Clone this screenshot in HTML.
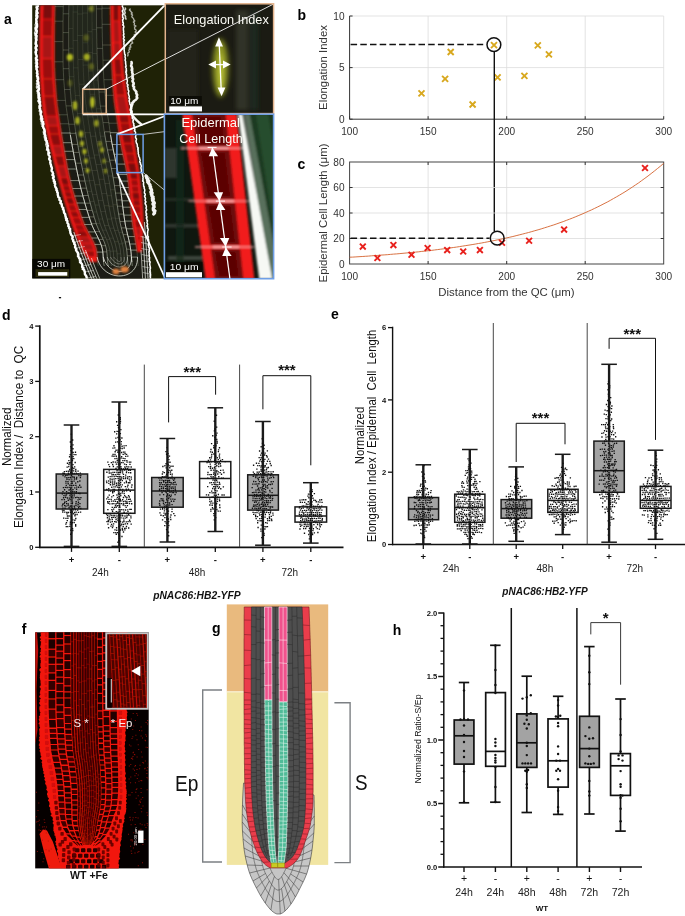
<!DOCTYPE html>
<html lang="en"><head><meta charset="utf-8"><title>Figure</title>
<style>html,body{margin:0;padding:0;background:#fff}svg{display:block;opacity:0.999}text{font-family:"Liberation Sans",sans-serif}</style>
</head><body>
<svg width="685" height="916" viewBox="0 0 685 916">
<rect width="685" height="916" fill="#fff"/>
<g><defs><clipPath id="aclip"><rect x="32.2" y="5.3" width="133.0" height="273.2"/></clipPath>
<clipPath id="ai1"><rect x="165.3" y="3.8" width="108.3" height="109.8"/></clipPath>
<clipPath id="ai2"><rect x="164.4" y="114.2" width="109.2" height="164.5"/></clipPath>
<filter id="ab1" x="-5%" y="-5%" width="110%" height="110%"><feGaussianBlur stdDeviation="0.5"/></filter>
<filter id="ab2" x="-20%" y="-20%" width="140%" height="140%"><feGaussianBlur stdDeviation="2.2"/></filter>
<filter id="ab4" x="-5%" y="-5%" width="110%" height="110%"><feGaussianBlur stdDeviation="0.9"/></filter>
<filter id="ab3" x="-20%" y="-20%" width="140%" height="140%"><feGaussianBlur stdDeviation="1.1"/></filter>
<marker id="aw" viewBox="0 0 10 10" refX="5" refY="5" markerWidth="4" markerHeight="4" orient="auto-start-reverse"><path d="M0 0L10 5L0 10z" fill="#fff"/></marker>
</defs>
<rect x="32.2" y="5.3" width="133" height="273.2" fill="#1f2206" stroke="none" stroke-width="1" />
<g clip-path="url(#aclip)"><g filter="url(#ab1)">
<path d="M38 5L37.9 6L37.8 7L37.8 8L37.7 9L37.6 10L37.6 11L37.5 12L37.4 13L37.4 14L37.3 15L37.3 16L37.2 17L37.1 18L37.1 19L37 20L37 21L36.9 22L36.9 23L36.8 24L36.8 25L36.8 26L36.7 27L36.7 28L36.7 29L36.6 30L36.6 31L36.6 32L36.6 33L36.6 34L36.5 35L36.5 36L36.5 37L36.5 38L36.5 39L36.5 40L36.5 41L36.5 42L36.5 43L36.5 44L36.5 45L36.5 46L36.6 47L36.6 48L36.6 49L36.6 50L36.6 51L36.7 52L36.7 53L36.7 54L36.7 55L36.8 56L36.8 57L36.8 58L36.9 59L36.9 60L37 61L37 62L37 63L37.1 64L37.1 65L37.2 66L37.2 67L37.3 68L37.3 69L37.4 70L37.4 71L37.5 72L37.6 73L37.6 74L37.7 75L37.7 76L37.8 77L37.9 78L37.9 79L38 80L38.1 81L38.1 82L38.2 83L38.3 84L38.3 85L38.4 86L38.5 87L38.6 88L38.6 89L38.7 90L38.8 91L38.9 92L38.9 93L39 94L39.1 95L39.2 96L39.3 97L39.3 98L39.4 99L39.5 100L39.6 101L39.7 102L39.8 103L39.9 104L40 105L40.2 106L40.3 107L40.5 108L40.6 109L40.8 110L40.9 111L41.1 112L41.3 113L41.5 114L41.6 115L41.8 116L42 117L42.2 118L42.3 119L42.5 120L42.7 121L42.9 122L43 123L43.2 124L43.4 125L43.6 126L43.8 127L44 128L44.2 129L44.4 130L44.6 131L44.9 132L45.1 133L45.3 134L45.5 135L45.7 136L45.9 137L46.1 138L46.3 139L46.5 140L46.7 141L46.9 142L47.1 143L47.3 144L47.5 145L47.6 146L47.8 147L48 148L48.2 149L48.4 150L48.6 151L48.7 152L48.9 153L49.1 154L49.3 155L49.5 156L49.6 157L49.8 158L50 159L50.2 160L50.4 161L50.5 162L50.7 163L50.9 164L51.1 165L51.3 166L51.5 167L51.7 168L51.9 169L52.1 170L52.3 171L52.5 172L52.7 173L52.9 174L53.1 175L53.3 176L53.6 177L53.8 178L54 179L54.3 180L54.5 181L54.7 182L55 183L55.3 184L55.5 185L55.8 186L56.1 187L56.4 188L56.7 189L57 190L57.3 191L57.6 192L57.9 193L58.2 194L58.5 195L58.9 196L59.2 197L59.5 198L59.9 199L60.2 200L60.6 201L60.9 202L61.2 203L61.6 204L61.9 205L62.3 206L62.6 207L63 208L63.3 209L63.7 210L64 211L64.4 212L64.7 213L65.1 214L65.4 215L65.8 216L66.1 217L66.5 218L66.8 219L67.1 220L67.5 221L67.8 222L68.1 223L68.5 224L68.8 225L69.1 226L69.4 227L69.7 228L70.1 229L70.4 230L70.7 231L71 232L71.4 233L71.7 234L72 235L72.3 236L72.6 237L73 238L73.3 239L73.6 240L73.9 241L74.2 242L74.6 243L74.9 244L75.2 245L75.5 246L75.9 247L76.2 248L76.5 249L76.9 250L77.2 251L77.5 252L77.9 253L78.2 254L78.6 255L78.9 256L79.2 257L79.6 258L79.9 259L80.3 260L80.6 261L81 262L81.4 263L81.7 264L82.1 265L82.5 266L82.8 267L83.2 268L83.6 269L84 270L84.4 271L84.7 272L85.1 273L85.5 274L85.9 275L86.3 276L86.7 277L87.1 278L87.5 279L150.6 279L150.6 278L150.5 277L150.5 276L150.4 275L150.4 274L150.3 273L150.3 272L150.2 271L150.2 270L150.1 269L150 268L150 267L149.9 266L149.9 265L149.8 264L149.8 263L149.7 262L149.7 261L149.6 260L149.5 259L149.5 258L149.4 257L149.4 256L149.3 255L149.2 254L149.2 253L149.1 252L149.1 251L149 250L148.9 249L148.9 248L148.8 247L148.7 246L148.7 245L148.6 244L148.5 243L148.5 242L148.4 241L148.3 240L148.3 239L148.2 238L148.1 237L148.1 236L148 235L147.9 234L147.8 233L147.8 232L147.7 231L147.6 230L147.5 229L147.5 228L147.4 227L147.3 226L147.2 225L147.2 224L147.1 223L147 222L146.9 221L146.8 220L146.8 219L146.7 218L146.6 217L146.5 216L146.5 215L146.4 214L146.3 213L146.2 212L146.2 211L146.1 210L146 209L145.9 208L145.9 207L145.8 206L145.7 205L145.6 204L145.5 203L145.4 202L145.4 201L145.3 200L145.2 199L145.1 198L145 197L144.9 196L144.8 195L144.7 194L144.6 193L144.5 192L144.4 191L144.3 190L144.2 189L144.1 188L143.9 187L143.8 186L143.7 185L143.6 184L143.4 183L143.3 182L143.1 181L143 180L142.9 179L142.7 178L142.6 177L142.4 176L142.3 175L142.1 174L142 173L141.8 172L141.7 171L141.5 170L141.3 169L141.2 168L141 167L140.9 166L140.7 165L140.5 164L140.4 163L140.2 162L140 161L139.8 160L139.7 159L139.5 158L139.3 157L139.1 156L139 155L138.8 154L138.6 153L138.4 152L138.2 151L138.1 150L137.9 149L137.7 148L137.5 147L137.3 146L137.2 145L137 144L136.8 143L136.6 142L136.5 141L136.3 140L136.1 139L136 138L135.8 137L135.6 136L135.5 135L135.3 134L135.1 133L135 132L134.8 131L134.7 130L134.5 129L134.3 128L134.2 127L134 126L133.8 125L133.7 124L133.5 123L133.3 122L133.2 121L133 120L132.8 119L132.7 118L132.5 117L132.3 116L132.1 115L131.9 114L131.7 113L131.6 112L131.4 111L131.2 110L131 109L130.8 108L130.6 107L130.5 106L130.3 105L130.1 104L130 103L129.8 102L129.6 101L129.5 100L129.4 99L129.2 98L129.1 97L128.9 96L128.8 95L128.7 94L128.5 93L128.4 92L128.3 91L128.2 90L128 89L127.9 88L127.8 87L127.7 86L127.5 85L127.4 84L127.3 83L127.2 82L127.1 81L127 80L126.9 79L126.8 78L126.7 77L126.6 76L126.5 75L126.4 74L126.3 73L126.2 72L126.1 71L126 70L125.9 69L125.8 68L125.8 67L125.7 66L125.6 65L125.5 64L125.4 63L125.4 62L125.3 61L125.2 60L125.2 59L125.1 58L125 57L124.9 56L124.9 55L124.8 54L124.7 53L124.7 52L124.6 51L124.6 50L124.5 49L124.4 48L124.4 47L124.3 46L124.3 45L124.2 44L124.2 43L124.1 42L124.1 41L124 40L123.9 39L123.9 38L123.8 37L123.8 36L123.7 35L123.7 34L123.6 33L123.6 32L123.5 31L123.5 30L123.4 29L123.4 28L123.4 27L123.3 26L123.3 25L123.2 24L123.2 23L123.1 22L123.1 21L123 20L123 19L123 18L122.9 17L122.9 16L122.8 15L122.8 14L122.8 13L122.7 12L122.7 11L122.7 10L122.6 9L122.6 8L122.6 7L122.5 6L122.5 5Z" fill="#1b1e12" stroke="none" stroke-width="0.5" />
<path d="M68.8 5L68.8 6L68.8 7L68.8 8L68.8 9L68.7 10L68.7 11L68.7 12L68.7 13L68.7 14L68.7 15L68.7 16L68.6 17L68.6 18L68.6 19L68.6 20L68.6 21L68.6 22L68.6 23L68.6 24L68.6 25L68.6 26L68.6 27L68.6 28L68.6 29L68.6 30L68.6 31L68.6 32L68.6 33L68.6 34L68.6 35L68.6 36L68.6 37L68.6 38L68.6 39L68.6 40L68.6 41L68.6 42L68.6 43L68.6 44L68.6 45L68.6 46L68.6 47L68.7 48L68.7 49L68.7 50L68.7 51L68.7 52L68.7 53L68.7 54L68.7 55L68.7 56L68.7 57L68.7 58L68.7 59L68.8 60L68.8 61L68.8 62L68.8 63L68.8 64L68.8 65L68.9 66L68.9 67L68.9 68L69 69L69 70L69 71L69.1 72L69.1 73L69.2 74L69.2 75L69.3 76L69.4 77L69.4 78L69.5 79L69.5 80L69.6 81L69.7 82L69.7 83L69.8 84L69.9 85L70 86L70 87L70.1 88L70.2 89L70.3 90L70.3 91L70.4 92L70.5 93L70.6 94L70.7 95L70.8 96L70.8 97L70.9 98L71 99L71.1 100L71.2 101L71.3 102L71.4 103L71.5 104L71.6 105L71.8 106L71.9 107L72 108L72.2 109L72.3 110L72.5 111L72.6 112L72.8 113L73 114L73.1 115L73.3 116L73.4 117L73.6 118L73.7 119L73.9 120L74 121L74.2 122L74.3 123L74.5 124L74.6 125L74.8 126L74.9 127L75.1 128L75.2 129L75.4 130L75.5 131L75.7 132L75.8 133L76 134L76.1 135L76.3 136L76.5 137L76.6 138L76.8 139L77 140L77.1 141L77.3 142L77.5 143L77.6 144L77.8 145L78 146L78.2 147L78.3 148L78.5 149L78.7 150L78.9 151L79.1 152L79.3 153L79.5 154L79.6 155L79.8 156L80 157L80.2 158L80.4 159L80.6 160L80.8 161L81 162L81.2 163L81.4 164L81.6 165L81.8 166L82 167L82.2 168L82.4 169L82.6 170L82.8 171L83 172L83.2 173L83.4 174L83.6 175L83.8 176L84.1 177L84.3 178L84.5 179L84.7 180L84.9 181L85.1 182L85.3 183L85.6 184L85.8 185L86 186L86.2 187L86.5 188L86.7 189L86.9 190L87.2 191L87.4 192L87.6 193L87.9 194L88.1 195L88.4 196L88.6 197L88.9 198L89.1 199L89.4 200L89.7 201L89.9 202L90.2 203L90.5 204L90.7 205L91 206L91.3 207L91.5 208L91.8 209L92.1 210L92.4 211L92.7 212L93 213L93.3 214L93.6 215L93.9 216L94.1 217L94.4 218L94.8 219L95.1 220L95.4 221L95.7 222L96 223L96.3 224L96.7 225L97.1 226L97.5 227L97.9 228L98.4 229L98.8 230L99.3 231L99.7 232L100.2 233L100.6 234L101.1 235L101.6 236L102 237L102.5 238L102.9 239L103.4 240L103.8 241L104.2 242L104.6 243L104.9 244L105.3 245L105.6 246L105.9 247L106.1 248L106.4 249L106.6 250L106.7 251L106.8 252L106.9 253L107 254L107.1 255L107.2 256L107.2 257L107.3 258L107.4 259L107.4 260L107.5 261L107.6 262L107.7 263L107.9 264L108.1 265L108.3 266L128.3 266L128.1 265L128 264L127.9 263L127.8 262L127.7 261L127.7 260L127.6 259L127.5 258L127.4 257L127.3 256L127.2 255L127.1 254L127 253L127 252L126.8 251L126.7 250L126.6 249L126.4 248L126.2 247L126 246L125.8 245L125.6 244L125.4 243L125.1 242L124.9 241L124.6 240L124.3 239L124.1 238L123.8 237L123.5 236L123.3 235L123 234L122.7 233L122.4 232L122.2 231L121.9 230L121.6 229L121.4 228L121.1 227L120.9 226L120.6 225L120.4 224L120.2 223L120 222L119.8 221L119.7 220L119.5 219L119.3 218L119.1 217L119 216L118.8 215L118.6 214L118.5 213L118.3 212L118.1 211L118 210L117.8 209L117.7 208L117.5 207L117.4 206L117.2 205L117.1 204L116.9 203L116.8 202L116.7 201L116.5 200L116.4 199L116.2 198L116.1 197L115.9 196L115.8 195L115.6 194L115.5 193L115.4 192L115.2 191L115.1 190L114.9 189L114.8 188L114.6 187L114.5 186L114.3 185L114.2 184L114 183L113.9 182L113.7 181L113.5 180L113.4 179L113.2 178L113 177L112.8 176L112.7 175L112.5 174L112.3 173L112.1 172L111.9 171L111.7 170L111.5 169L111.3 168L111.1 167L110.9 166L110.7 165L110.5 164L110.3 163L110 162L109.8 161L109.6 160L109.4 159L109.2 158L109 157L108.8 156L108.6 155L108.3 154L108.1 153L107.9 152L107.7 151L107.5 150L107.3 149L107.1 148L106.9 147L106.7 146L106.5 145L106.4 144L106.2 143L106 142L105.8 141L105.7 140L105.5 139L105.3 138L105.2 137L105 136L104.8 135L104.7 134L104.5 133L104.4 132L104.2 131L104.1 130L103.9 129L103.8 128L103.6 127L103.5 126L103.4 125L103.2 124L103.1 123L102.9 122L102.8 121L102.6 120L102.5 119L102.3 118L102.2 117L102 116L101.8 115L101.7 114L101.5 113L101.3 112L101.2 111L101 110L100.9 109L100.7 108L100.6 107L100.4 106L100.3 105L100.1 104L100 103L99.9 102L99.8 101L99.7 100L99.6 99L99.5 98L99.4 97L99.3 96L99.3 95L99.2 94L99.1 93L99 92L98.9 91L98.9 90L98.8 89L98.7 88L98.6 87L98.6 86L98.5 85L98.4 84L98.3 83L98.3 82L98.2 81L98.1 80L98.1 79L98 78L98 77L97.9 76L97.9 75L97.8 74L97.7 73L97.7 72L97.6 71L97.6 70L97.6 69L97.5 68L97.5 67L97.4 66L97.4 65L97.4 64L97.3 63L97.3 62L97.3 61L97.2 60L97.2 59L97.2 58L97.2 57L97.2 56L97.1 55L97.1 54L97.1 53L97.1 52L97 51L97 50L97 49L97 48L96.9 47L96.9 46L96.9 45L96.9 44L96.8 43L96.8 42L96.8 41L96.8 40L96.8 39L96.7 38L96.7 37L96.7 36L96.7 35L96.7 34L96.7 33L96.6 32L96.6 31L96.6 30L96.6 29L96.6 28L96.6 27L96.5 26L96.5 25L96.5 24L96.5 23L96.5 22L96.5 21L96.5 20L96.5 19L96.5 18L96.5 17L96.5 16L96.5 15L96.5 14L96.5 13L96.5 12L96.5 11L96.5 10L96.5 9L96.5 8L96.5 7L96.5 6L96.5 5Z" fill="#23271b" stroke="none" stroke-width="0.5" />
<g filter="url(#ab4)">
<path d="M40.2 5L40.2 6L40.1 7L40.1 8L40.1 9L40 10L40 11L40 12L39.9 13L39.9 14L39.9 15L39.9 16L39.8 17L39.8 18L39.8 19L39.8 20L39.7 21L39.7 22L39.7 23L39.7 24L39.7 25L39.7 26L39.7 27L39.6 28L39.6 29L39.6 30L39.6 31L39.6 32L39.6 33L39.6 34L39.6 35L39.6 36L39.6 37L39.5 38L39.5 39L39.5 40L39.5 41L39.5 42L39.5 43L39.5 44L39.5 45L39.5 46L39.5 47L39.5 48L39.5 49L39.5 50L39.5 51L39.5 52L39.5 53L39.5 54L39.5 55L39.5 56L39.5 57L39.5 58L39.5 59L39.5 60L39.5 61L39.5 62L39.5 63L39.5 64L39.5 65L39.6 66L39.6 67L39.6 68L39.6 69L39.7 70L39.7 71L39.7 72L39.8 73L39.8 74L39.9 75L39.9 76L40 77L40 78L40.1 79L40.1 80L40.2 81L40.2 82L40.3 83L40.4 84L40.4 85L40.5 86L40.6 87L40.6 88L40.7 89L40.8 90L40.8 91L40.9 92L41 93L41.1 94L41.1 95L41.2 96L41.3 97L41.4 98L41.4 99L41.5 100L41.6 101L41.7 102L41.8 103L41.8 104L42 105L42.1 106L42.2 107L42.3 108L42.4 109L42.5 110L42.7 111L42.8 112L42.9 113L43.1 114L43.2 115L43.4 116L43.5 117L43.7 118L43.8 119L44 120L44.2 121L44.3 122L44.5 123L44.7 124L44.9 125L45.1 126L45.3 127L45.6 128L45.8 129L46 130L46.3 131L46.5 132L46.7 133L47 134L47.2 135L47.5 136L47.7 137L47.9 138L48.2 139L48.4 140L48.6 141L48.9 142L49.1 143L49.3 144L49.6 145L49.8 146L50 147L50.3 148L50.5 149L50.7 150L51 151L51.2 152L51.5 153L51.7 154L51.9 155L52.2 156L52.4 157L52.7 158L52.9 159L53.2 160L53.4 161L53.7 162L53.9 163L54.2 164L54.4 165L54.7 166L54.9 167L55.2 168L55.4 169L55.7 170L55.9 171L56.2 172L56.5 173L56.7 174L57 175L57.3 176L57.5 177L57.8 178L58.1 179L58.3 180L58.6 181L58.9 182L59.1 183L59.4 184L59.7 185L60 186L60.2 187L60.5 188L60.8 189L61.1 190L61.4 191L61.6 192L61.9 193L62.2 194L62.5 195L62.8 196L63.1 197L63.3 198L63.6 199L63.9 200L64.2 201L64.5 202L64.8 203L65.1 204L65.4 205L65.7 206L66 207L66.3 208L66.6 209L66.9 210L67.3 211L67.6 212L67.9 213L68.2 214L68.5 215L68.9 216L69.2 217L69.5 218L69.9 219L70.2 220L70.6 221L70.9 222L71.2 223L71.6 224L71.9 225L72.3 226L72.6 227L73 228L73.3 229L73.7 230L74.1 231L74.4 232L74.8 233L75.2 234L75.5 235L75.9 236L76.3 237L76.7 238L77.1 239L77.5 240L77.9 241L78.3 242L78.8 243L79.2 244L79.7 245L80.1 246L80.6 247L81.1 248L81.6 249L82.1 250L82.6 251L83.1 252L83.7 253L84.3 254L85 255L85.8 256L86.6 257L87.3 258L88.1 259L88.8 260L89.4 261L90 262L97.5 262L97.4 261L97.3 260L97.3 259L97.2 258L97.1 257L97.1 256L97 255L97 254L96.9 253L96.8 252L96.7 251L96.5 250L96.3 249L96 248L95.7 247L95.4 246L95 245L94.6 244L94.2 243L93.7 242L93.2 241L92.7 240L92.2 239L91.7 238L91.1 237L90.6 236L90 235L89.5 234L88.9 233L88.4 232L87.8 231L87.3 230L86.7 229L86.2 228L85.7 227L85.2 226L84.7 225L84.3 224L83.9 223L83.5 222L83.1 221L82.8 220L82.4 219L82 218L81.7 217L81.3 216L80.9 215L80.6 214L80.2 213L79.9 212L79.5 211L79.2 210L78.8 209L78.5 208L78.1 207L77.8 206L77.5 205L77.1 204L76.8 203L76.5 202L76.2 201L75.8 200L75.5 199L75.2 198L74.9 197L74.6 196L74.3 195L74 194L73.7 193L73.4 192L73.1 191L72.8 190L72.6 189L72.3 188L72 187L71.8 186L71.5 185L71.2 184L71 183L70.7 182L70.5 181L70.3 180L70 179L69.8 178L69.6 177L69.3 176L69.1 175L68.9 174L68.7 173L68.5 172L68.3 171L68.1 170L67.8 169L67.6 168L67.4 167L67.2 166L67 165L66.9 164L66.7 163L66.5 162L66.3 161L66.1 160L65.9 159L65.7 158L65.5 157L65.4 156L65.2 155L65 154L64.8 153L64.7 152L64.5 151L64.3 150L64.1 149L64 148L63.8 147L63.6 146L63.4 145L63.3 144L63.1 143L62.9 142L62.8 141L62.6 140L62.4 139L62.3 138L62.1 137L61.9 136L61.8 135L61.6 134L61.5 133L61.3 132L61.1 131L61 130L60.8 129L60.7 128L60.5 127L60.4 126L60.2 125L60.1 124L59.9 123L59.8 122L59.6 121L59.5 120L59.4 119L59.2 118L59.1 117L58.9 116L58.8 115L58.6 114L58.4 113L58.3 112L58.1 111L58 110L57.9 109L57.7 108L57.6 107L57.4 106L57.3 105L57.2 104L57.1 103L57 102L56.9 101L56.8 100L56.7 99L56.6 98L56.5 97L56.5 96L56.4 95L56.3 94L56.2 93L56.1 92L56 91L56 90L55.9 89L55.8 88L55.7 87L55.7 86L55.6 85L55.5 84L55.4 83L55.4 82L55.3 81L55.2 80L55.2 79L55.1 78L55 77L55 76L54.9 75L54.9 74L54.8 73L54.8 72L54.7 71L54.7 70L54.7 69L54.6 68L54.6 67L54.6 66L54.6 65L54.5 64L54.5 63L54.5 62L54.5 61L54.5 60L54.5 59L54.5 58L54.5 57L54.5 56L54.5 55L54.5 54L54.5 53L54.5 52L54.5 51L54.5 50L54.5 49L54.5 48L54.5 47L54.5 46L54.5 45L54.5 44L54.5 43L54.5 42L54.5 41L54.5 40L54.5 39L54.5 38L54.5 37L54.5 36L54.5 35L54.6 34L54.6 33L54.6 32L54.6 31L54.6 30L54.6 29L54.6 28L54.6 27L54.6 26L54.6 25L54.6 24L54.7 23L54.7 22L54.7 21L54.7 20L54.7 19L54.7 18L54.7 17L54.8 16L54.8 15L54.8 14L54.8 13L54.8 12L54.9 11L54.9 10L54.9 9L54.9 8L54.9 7L55 6L55 5Z" fill="#f41a16" stroke="none" stroke-width="0.5" />
<path d="M110.3 5L110.3 6L110.3 7L110.3 8L110.3 9L110.3 10L110.3 11L110.3 12L110.3 13L110.3 14L110.4 15L110.4 16L110.4 17L110.4 18L110.4 19L110.4 20L110.4 21L110.5 22L110.5 23L110.5 24L110.5 25L110.5 26L110.5 27L110.6 28L110.6 29L110.6 30L110.6 31L110.7 32L110.7 33L110.7 34L110.7 35L110.8 36L110.8 37L110.8 38L110.8 39L110.9 40L110.9 41L110.9 42L111 43L111 44L111 45L111 46L111.1 47L111.1 48L111.1 49L111.2 50L111.2 51L111.2 52L111.3 53L111.3 54L111.3 55L111.4 56L111.4 57L111.4 58L111.5 59L111.5 60L111.5 61L111.6 62L111.6 63L111.6 64L111.7 65L111.7 66L111.8 67L111.8 68L111.9 69L111.9 70L112 71L112 72L112.1 73L112.1 74L112.2 75L112.2 76L112.3 77L112.3 78L112.4 79L112.5 80L112.5 81L112.6 82L112.6 83L112.7 84L112.8 85L112.9 86L112.9 87L113 88L113.1 89L113.2 90L113.2 91L113.3 92L113.4 93L113.5 94L113.6 95L113.6 96L113.7 97L113.8 98L113.9 99L114 100L114.1 101L114.2 102L114.3 103L114.5 104L114.6 105L114.7 106L114.9 107L115 108L115.2 109L115.4 110L115.5 111L115.7 112L115.9 113L116 114L116.2 115L116.4 116L116.5 117L116.7 118L116.8 119L117 120L117.1 121L117.3 122L117.4 123L117.6 124L117.7 125L117.9 126L118 127L118.2 128L118.3 129L118.5 130L118.6 131L118.7 132L118.9 133L119 134L119.2 135L119.4 136L119.5 137L119.7 138L119.8 139L120 140L120.2 141L120.3 142L120.5 143L120.7 144L120.9 145L121.1 146L121.3 147L121.5 148L121.7 149L121.9 150L122.1 151L122.4 152L122.6 153L122.8 154L123 155L123.2 156L123.5 157L123.7 158L123.9 159L124.1 160L124.3 161L124.6 162L124.8 163L125 164L125.2 165L125.4 166L125.6 167L125.8 168L126 169L126.2 170L126.4 171L126.6 172L126.8 173L127 174L127.2 175L127.3 176L127.5 177L127.7 178L127.8 179L128 180L128.1 181L128.2 182L128.4 183L128.5 184L128.6 185L128.7 186L128.8 187L128.9 188L129 189L129.1 190L129.2 191L129.3 192L129.4 193L129.5 194L129.6 195L129.7 196L129.8 197L129.9 198L130 199L130.1 200L130.1 201L130.2 202L130.3 203L130.4 204L130.5 205L130.6 206L130.7 207L130.8 208L130.8 209L130.9 210L131 211L131.1 212L131.2 213L131.3 214L131.4 215L131.5 216L131.6 217L131.7 218L131.8 219L132 220L132.1 221L132.2 222L132.3 223L132.5 224L132.6 225L132.8 226L132.9 227L133.1 228L133.2 229L133.4 230L133.6 231L133.8 232L134 233L134.1 234L134.3 235L134.5 236L134.7 237L134.9 238L135.1 239L135.2 240L135.4 241L135.6 242L135.8 243L135.9 244L136.1 245L136.2 246L136.4 247L136.5 248L136.7 249L136.8 250L136.9 251L137 252L142 252L142 251L142 250L142 249L142.1 248L142.1 247L142.1 246L142.2 245L142.2 244L142.3 243L142.4 242L142.4 241L142.5 240L142.6 239L142.6 238L142.7 237L142.8 236L142.8 235L142.9 234L143 233L143 232L143.1 231L143.2 230L143.2 229L143.3 228L143.3 227L143.3 226L143.4 225L143.4 224L143.4 223L143.4 222L143.4 221L143.4 220L143.4 219L143.4 218L143.3 217L143.3 216L143.3 215L143.2 214L143.2 213L143.1 212L143.1 211L143 210L143 209L142.9 208L142.8 207L142.8 206L142.7 205L142.6 204L142.5 203L142.4 202L142.4 201L142.3 200L142.2 199L142.1 198L142 197L141.9 196L141.8 195L141.7 194L141.6 193L141.5 192L141.4 191L141.3 190L141.2 189L141.1 188L141 187L140.9 186L140.8 185L140.7 184L140.6 183L140.5 182L140.4 181L140.3 180L140.2 179L140.1 178L140 177L139.8 176L139.7 175L139.6 174L139.5 173L139.3 172L139.2 171L139 170L138.9 169L138.7 168L138.6 167L138.4 166L138.3 165L138.1 164L137.9 163L137.8 162L137.6 161L137.4 160L137.3 159L137.1 158L136.9 157L136.8 156L136.6 155L136.4 154L136.3 153L136.1 152L135.9 151L135.8 150L135.6 149L135.4 148L135.3 147L135.1 146L134.9 145L134.8 144L134.6 143L134.5 142L134.3 141L134.2 140L134.1 139L133.9 138L133.8 137L133.7 136L133.5 135L133.4 134L133.3 133L133.1 132L133 131L132.9 130L132.7 129L132.6 128L132.5 127L132.4 126L132.2 125L132.1 124L131.9 123L131.8 122L131.7 121L131.5 120L131.3 119L131.2 118L131 117L130.8 116L130.7 115L130.5 114L130.3 113L130.1 112L129.9 111L129.7 110L129.6 109L129.4 108L129.2 107L129 106L128.8 105L128.6 104L128.5 103L128.3 102L128.2 101L128 100L127.9 99L127.7 98L127.6 97L127.4 96L127.2 95L127.1 94L126.9 93L126.8 92L126.6 91L126.5 90L126.3 89L126.2 88L126 87L125.9 86L125.8 85L125.6 84L125.5 83L125.3 82L125.2 81L125 80L124.9 79L124.8 78L124.7 77L124.5 76L124.4 75L124.3 74L124.2 73L124 72L123.9 71L123.8 70L123.7 69L123.6 68L123.5 67L123.4 66L123.4 65L123.3 64L123.2 63L123.1 62L123.1 61L123 60L122.9 59L122.9 58L122.8 57L122.8 56L122.7 55L122.7 54L122.6 53L122.5 52L122.5 51L122.4 50L122.4 49L122.3 48L122.3 47L122.2 46L122.2 45L122.1 44L122.1 43L122 42L122 41L121.9 40L121.9 39L121.8 38L121.8 37L121.7 36L121.7 35L121.7 34L121.6 33L121.6 32L121.5 31L121.5 30L121.5 29L121.4 28L121.4 27L121.4 26L121.3 25L121.3 24L121.3 23L121.2 22L121.2 21L121.2 20L121.2 19L121.1 18L121.1 17L121.1 16L121.1 15L121.1 14L121.1 13L121 12L121 11L121 10L121 9L121 8L121 7L121 6L121 5Z" fill="#f41a16" stroke="none" stroke-width="0.5" />
<path d="M43.2 0.5L52.4 0.5L52.1 18.7L42.8 18.7Z" fill="#7a0a0a" stroke="none" stroke-width="0.5" /><path d="M42.8 19.7L52.1 19.7L51.9 36L42.6 36Z" fill="#9a1010" stroke="none" stroke-width="0.5" /><path d="M42.6 37L51.9 37L51.9 57.9L42.5 57.9Z" fill="#a81212" stroke="none" stroke-width="0.5" /><path d="M42.5 58.9L51.9 58.9L52.6 78.2L43.1 78.2Z" fill="#9a1010" stroke="none" stroke-width="0.5" /><path d="M43.1 79.2L52.6 79.2L53.9 95.7L44.2 95.7Z" fill="#9a1010" stroke="none" stroke-width="0.5" /><path d="M44.2 96.7L53.9 96.7L56.3 115.8L46.4 115.8Z" fill="#8a0c0c" stroke="none" stroke-width="0.5" /><path d="M46.4 116.8L56.3 116.8L57.8 125.3L48.1 125.3Z" fill="#a81212" stroke="none" stroke-width="0.5" /><path d="M48.1 126.3L57.8 126.3L59 133.6L50 133.6Z" fill="#9a1010" stroke="none" stroke-width="0.5" /><path d="M50 134.6L59 134.6L61 145.3L52.8 145.3Z" fill="#8a0c0c" stroke="none" stroke-width="0.5" /><path d="M52.8 146.3L61 146.3L62.8 155L55.2 155Z" fill="#a81212" stroke="none" stroke-width="0.5" /><path d="M55.2 156L62.8 156L64.6 165.5L57.7 165.5Z" fill="#8a0c0c" stroke="none" stroke-width="0.5" /><path d="M57.7 166.5L64.6 166.5L67.2 177.3L60.8 177.3Z" fill="#a81212" stroke="none" stroke-width="0.5" /><path d="M60.8 178.3L67.2 178.3L68.9 184.7L62.7 184.7Z" fill="#7a0a0a" stroke="none" stroke-width="0.5" /><path d="M62.7 185.7L68.9 185.7L70.5 190.7L64.4 190.7Z" fill="#8a0c0c" stroke="none" stroke-width="0.5" /><path d="M64.4 191.7L70.5 191.7L72.3 197L66.1 197Z" fill="#8a0c0c" stroke="none" stroke-width="0.5" /><path d="M66.1 198L72.3 198L74.5 203.9L68.1 203.9Z" fill="#7a0a0a" stroke="none" stroke-width="0.5" /><path d="M68.1 204.9L74.5 204.9L76.9 210.7L70.3 210.7Z" fill="#9a1010" stroke="none" stroke-width="0.5" /><path d="M70.3 211.7L76.9 211.7L79.4 217.1L72.5 217.1Z" fill="#8a0c0c" stroke="none" stroke-width="0.5" /><path d="M72.5 218.1L79.4 218.1L82.1 224L74.9 224Z" fill="#9a1010" stroke="none" stroke-width="0.5" /><path d="M74.9 225L82.1 225L85.2 230.2L77.1 230.2Z" fill="#9a1010" stroke="none" stroke-width="0.5" /><path d="M77.1 231.2L85.2 231.2L88.5 236.6L79.3 236.6Z" fill="#8a0c0c" stroke="none" stroke-width="0.5" /><path d="M79.3 237.6L88.5 237.6L91.6 242.8L81.8 242.8Z" fill="#a81212" stroke="none" stroke-width="0.5" /><path d="M81.8 243.8L91.6 243.8L93.9 250L85.1 250Z" fill="#a81212" stroke="none" stroke-width="0.5" /><path d="M85.1 251L93.9 251L94.5 256.4L89.6 256.4Z" fill="#9a1010" stroke="none" stroke-width="0.5" />
<path d="M113.3 4.8L118.4 4.8L118.6 20.5L113.4 20.5Z" fill="#7a0a0a" stroke="none" stroke-width="0.5" /><path d="M113.4 21.5L118.6 21.5L119.5 42.1L114 42.1Z" fill="#a81212" stroke="none" stroke-width="0.5" /><path d="M114 43.1L119.5 43.1L120.3 58L114.4 58Z" fill="#a81212" stroke="none" stroke-width="0.5" /><path d="M114.4 59L120.3 59L121.8 74.4L115.2 74.4Z" fill="#8a0c0c" stroke="none" stroke-width="0.5" /><path d="M115.2 75.4L121.8 75.4L124.6 95L116.6 95Z" fill="#9a1010" stroke="none" stroke-width="0.5" /><path d="M116.6 96L124.6 96L128.1 114.4L119.2 114.4Z" fill="#a81212" stroke="none" stroke-width="0.5" /><path d="M119.2 115.4L128.1 115.4L129.3 122.4L120.4 122.4Z" fill="#8a0c0c" stroke="none" stroke-width="0.5" /><path d="M120.4 123.4L129.3 123.4L130.7 132.6L121.9 132.6Z" fill="#9a1010" stroke="none" stroke-width="0.5" /><path d="M121.9 133.6L130.7 133.6L132 142.9L123.5 142.9Z" fill="#7a0a0a" stroke="none" stroke-width="0.5" /><path d="M123.5 143.9L132 143.9L133.8 153.1L125.8 153.1Z" fill="#8a0c0c" stroke="none" stroke-width="0.5" /><path d="M125.8 154.1L133.8 154.1L135.2 161.9L127.6 161.9Z" fill="#9a1010" stroke="none" stroke-width="0.5" /><path d="M127.6 162.9L135.2 162.9L136.9 172.4L129.8 172.4Z" fill="#7a0a0a" stroke="none" stroke-width="0.5" /><path d="M129.8 173.4L136.9 173.4L137.7 179.1L131 179.1Z" fill="#7a0a0a" stroke="none" stroke-width="0.5" /><path d="M131 180.1L137.7 180.1L138.3 185.6L131.7 185.6Z" fill="#9a1010" stroke="none" stroke-width="0.5" /><path d="M131.7 186.6L138.3 186.6L138.9 191.7L132.3 191.7Z" fill="#9a1010" stroke="none" stroke-width="0.5" /><path d="M132.3 192.7L138.9 192.7L139.7 199.2L133.1 199.2Z" fill="#7a0a0a" stroke="none" stroke-width="0.5" /><path d="M133.1 200.2L139.7 200.2L140.2 205.6L133.6 205.6Z" fill="#8a0c0c" stroke="none" stroke-width="0.5" /><path d="M133.6 206.6L140.2 206.6L140.6 212.9L134.2 212.9Z" fill="#9a1010" stroke="none" stroke-width="0.5" /><path d="M134.2 213.9L140.6 213.9L140.8 219.7L135 219.7Z" fill="#9a1010" stroke="none" stroke-width="0.5" /><path d="M135 220.7L140.8 220.7L140.7 227.6L136.1 227.6Z" fill="#8a0c0c" stroke="none" stroke-width="0.5" /><path d="M136.1 228.6L140.7 228.6L140.2 235.4L137.5 235.4Z" fill="#a81212" stroke="none" stroke-width="0.5" /><path d="M137.5 236.4L140.2 236.4L139.7 242.4L138.8 242.4Z" fill="#9a1010" stroke="none" stroke-width="0.5" /><path d="M138.8 243.4L139.7 243.4L139.4 249.5L139.8 249.5Z" fill="#9a1010" stroke="none" stroke-width="0.5" />
</g>
<path d="M55 5L55 6L54.9 7L54.9 8L54.9 9L54.9 10L54.9 11L54.8 12L54.8 13L54.8 14L54.8 15L54.8 16L54.7 17L54.7 18L54.7 19L54.7 20L54.7 21L54.7 22L54.7 23L54.6 24L54.6 25L54.6 26L54.6 27L54.6 28L54.6 29L54.6 30L54.6 31L54.6 32L54.6 33L54.6 34L54.5 35L54.5 36L54.5 37L54.5 38L54.5 39L54.5 40L54.5 41L54.5 42L54.5 43L54.5 44L54.5 45L54.5 46L54.5 47L54.5 48L54.5 49L54.5 50L54.5 51L54.5 52L54.5 53L54.5 54L54.5 55L54.5 56L54.5 57L54.5 58L54.5 59L54.5 60L54.5 61L54.5 62L54.5 63L54.5 64L54.6 65L54.6 66L54.6 67L54.6 68L54.7 69L54.7 70L54.7 71L54.8 72L54.8 73L54.9 74L54.9 75L55 76L55 77L55.1 78L55.2 79L55.2 80L55.3 81L55.4 82L55.4 83L55.5 84L55.6 85L55.7 86L55.7 87L55.8 88L55.9 89L56 90L56 91L56.1 92L56.2 93L56.3 94L56.4 95L56.5 96L56.5 97L56.6 98L56.7 99L56.8 100L56.9 101L57 102L57.1 103L57.2 104L57.3 105L57.4 106L57.6 107L57.7 108L57.9 109L58 110L58.1 111L58.3 112L58.4 113L58.6 114L58.8 115L58.9 116L59.1 117L59.2 118L59.4 119L59.5 120L59.6 121L59.8 122L59.9 123L60.1 124L60.2 125L60.4 126L60.5 127L60.7 128L60.8 129L61 130L61.1 131L61.3 132" fill="none" stroke="#cfd2c8" stroke-width="0.8" opacity="0.14"/>
<path d="M61.3 132L61.5 133L61.6 134L61.8 135L61.9 136L62.1 137L62.3 138L62.4 139L62.6 140L62.8 141L62.9 142L63.1 143L63.3 144L63.4 145L63.6 146L63.8 147L64 148L64.1 149L64.3 150L64.5 151L64.7 152L64.8 153L65 154L65.2 155L65.4 156L65.5 157L65.7 158L65.9 159L66.1 160L66.3 161L66.5 162L66.7 163L66.9 164L67 165L67.2 166L67.4 167L67.6 168L67.8 169L68.1 170L68.3 171L68.5 172L68.7 173L68.9 174L69.1 175L69.3 176L69.6 177L69.8 178L70 179L70.3 180L70.5 181L70.7 182L71 183L71.2 184L71.5 185L71.8 186L72 187L72.3 188L72.6 189L72.8 190L73.1 191L73.4 192L73.7 193L74 194L74.3 195L74.6 196L74.9 197L75.2 198L75.5 199L75.8 200L76.2 201L76.5 202L76.8 203L77.1 204L77.5 205L77.8 206L78.1 207L78.5 208L78.8 209L79.2 210L79.5 211L79.9 212L80.2 213L80.6 214L80.9 215L81.3 216L81.7 217L82 218L82.4 219L82.8 220L83.1 221L83.5 222L83.9 223L84.3 224L84.7 225L85.2 226L85.7 227L86.2 228L86.7 229L87.3 230L87.8 231L88.4 232L88.9 233L89.5 234L90 235L90.6 236L91.1 237L91.7 238L92.2 239L92.7 240L93.2 241L93.7 242L94.2 243L94.6 244L95 245L95.4 246L95.7 247L96 248L96.3 249L96.5 250L96.7 251L96.8 252L96.9 253L97 254L97 255L97.1 256L97.1 257L97.2 258L97.3 259L97.3 260L97.4 261L97.5 262L97.6 263L97.8 264L98 265L98.3 266" fill="none" stroke="#cfd2c8" stroke-width="0.8" opacity="0.22"/>
<path d="M63.3 5L63.3 6L63.3 7L63.2 8L63.2 9L63.2 10L63.2 11L63.2 12L63.1 13L63.1 14L63.1 15L63.1 16L63.1 17L63.1 18L63.1 19L63.1 20L63 21L63 22L63 23L63 24L63 25L63 26L63 27L63 28L63 29L63 30L63 31L63 32L63 33L63 34L63 35L63 36L63 37L63 38L63 39L63 40L63 41L63 42L63 43L63 44L63 45L63 46L63 47L63 48L63 49L63 50L63 51L63 52L63 53L63 54L63 55L63 56L63 57L63 58L63 59L63 60L63.1 61L63.1 62L63.1 63L63.1 64L63.1 65L63.1 66L63.2 67L63.2 68L63.2 69L63.3 70L63.3 71L63.4 72L63.4 73L63.5 74L63.5 75L63.6 76L63.6 77L63.7 78L63.7 79L63.8 80L63.9 81L63.9 82L64 83L64.1 84L64.2 85L64.2 86L64.3 87L64.4 88L64.5 89L64.5 90L64.6 91L64.7 92L64.8 93L64.9 94L65 95L65 96L65.1 97L65.2 98L65.3 99L65.4 100L65.5 101L65.6 102L65.7 103L65.8 104L65.9 105L66 106L66.2 107L66.3 108L66.5 109L66.6 110L66.8 111L66.9 112L67.1 113L67.2 114L67.4 115L67.5 116L67.7 117L67.8 118L68 119L68.1 120L68.3 121L68.4 122L68.6 123L68.7 124L68.9 125L69 126L69.2 127L69.3 128L69.5 129L69.6 130L69.8 131L69.9 132" fill="none" stroke="#cfd2c8" stroke-width="0.8" opacity="0.3"/>
<path d="M69.9 132L70.1 133L70.2 134L70.4 135L70.5 136L70.7 137L70.9 138L71 139L71.2 140L71.4 141L71.6 142L71.7 143L71.9 144L72.1 145L72.2 146L72.4 147L72.6 148L72.8 149L73 150L73.1 151L73.3 152L73.5 153L73.7 154L73.9 155L74 156L74.2 157L74.4 158L74.6 159L74.8 160L75 161L75.2 162L75.4 163L75.6 164L75.8 165L76 166L76.2 167L76.4 168L76.6 169L76.8 170L77 171L77.2 172L77.4 173L77.6 174L77.8 175L78 176L78.3 177L78.5 178L78.7 179L78.9 180L79.1 181L79.4 182L79.6 183L79.8 184L80.1 185L80.3 186L80.5 187L80.8 188L81 189L81.3 190L81.5 191L81.8 192L82.1 193L82.3 194L82.6 195L82.9 196L83.1 197L83.4 198L83.7 199L84 200L84.3 201L84.5 202L84.8 203L85.1 204L85.4 205L85.7 206L86 207L86.3 208L86.6 209L86.9 210L87.2 211L87.6 212L87.9 213L88.2 214L88.5 215L88.8 216L89.2 217L89.5 218L89.8 219L90.1 220L90.5 221L90.8 222L91.2 223L91.5 224L91.9 225L92.3 226L92.8 227L93.2 228L93.7 229L94.2 230L94.7 231L95.2 232L95.7 233L96.2 234L96.7 235L97.2 236L97.7 237L98.2 238L98.6 239L99.1 240L99.6 241L100 242L100.4 243L100.8 244L101.2 245L101.5 246L101.8 247L102.1 248L102.3 249L102.5 250L102.7 251L102.8 252L102.9 253L103 254L103.1 255L103.1 256L103.2 257L103.3 258L103.3 259L103.4 260L103.5 261L103.6 262L103.7 263L103.8 264L104 265L104.3 266" fill="none" stroke="#cfd2c8" stroke-width="0.8" opacity="0.6"/>
<path d="M68.8 5L68.8 6L68.8 7L68.8 8L68.8 9L68.7 10L68.7 11L68.7 12L68.7 13L68.7 14L68.7 15L68.7 16L68.6 17L68.6 18L68.6 19L68.6 20L68.6 21L68.6 22L68.6 23L68.6 24L68.6 25L68.6 26L68.6 27L68.6 28L68.6 29L68.6 30L68.6 31L68.6 32L68.6 33L68.6 34L68.6 35L68.6 36L68.6 37L68.6 38L68.6 39L68.6 40L68.6 41L68.6 42L68.6 43L68.6 44L68.6 45L68.6 46L68.6 47L68.7 48L68.7 49L68.7 50L68.7 51L68.7 52L68.7 53L68.7 54L68.7 55L68.7 56L68.7 57L68.7 58L68.7 59L68.8 60L68.8 61L68.8 62L68.8 63L68.8 64L68.8 65L68.9 66L68.9 67L68.9 68L69 69L69 70L69 71L69.1 72L69.1 73L69.2 74L69.2 75L69.3 76L69.4 77L69.4 78L69.5 79L69.5 80L69.6 81L69.7 82L69.7 83L69.8 84L69.9 85L70 86L70 87L70.1 88L70.2 89L70.3 90L70.3 91L70.4 92L70.5 93L70.6 94L70.7 95L70.8 96L70.8 97L70.9 98L71 99L71.1 100L71.2 101L71.3 102L71.4 103L71.5 104L71.6 105L71.8 106L71.9 107L72 108L72.2 109L72.3 110L72.5 111L72.6 112L72.8 113L73 114L73.1 115L73.3 116L73.4 117L73.6 118L73.7 119L73.9 120L74 121L74.2 122L74.3 123L74.5 124L74.6 125L74.8 126L74.9 127L75.1 128L75.2 129L75.4 130L75.5 131L75.7 132" fill="none" stroke="#cfd2c8" stroke-width="0.8" opacity="0.3"/>
<path d="M75.7 132L75.8 133L76 134L76.1 135L76.3 136L76.5 137L76.6 138L76.8 139L77 140L77.1 141L77.3 142L77.5 143L77.6 144L77.8 145L78 146L78.2 147L78.3 148L78.5 149L78.7 150L78.9 151L79.1 152L79.3 153L79.5 154L79.6 155L79.8 156L80 157L80.2 158L80.4 159L80.6 160L80.8 161L81 162L81.2 163L81.4 164L81.6 165L81.8 166L82 167L82.2 168L82.4 169L82.6 170L82.8 171L83 172L83.2 173L83.4 174L83.6 175L83.8 176L84.1 177L84.3 178L84.5 179L84.7 180L84.9 181L85.1 182L85.3 183L85.6 184L85.8 185L86 186L86.2 187L86.5 188L86.7 189L86.9 190L87.2 191L87.4 192L87.6 193L87.9 194L88.1 195L88.4 196L88.6 197L88.9 198L89.1 199L89.4 200L89.7 201L89.9 202L90.2 203L90.5 204L90.7 205L91 206L91.3 207L91.5 208L91.8 209L92.1 210L92.4 211L92.7 212L93 213L93.3 214L93.6 215L93.9 216L94.1 217L94.4 218L94.8 219L95.1 220L95.4 221L95.7 222L96 223L96.3 224L96.7 225L97.1 226L97.5 227L97.9 228L98.4 229L98.8 230L99.3 231L99.7 232L100.2 233L100.6 234L101.1 235L101.6 236L102 237L102.5 238L102.9 239L103.4 240L103.8 241L104.2 242L104.6 243L104.9 244L105.3 245L105.6 246L105.9 247L106.1 248L106.4 249L106.6 250L106.7 251L106.8 252L106.9 253L107 254L107.1 255L107.2 256L107.2 257L107.3 258L107.4 259L107.4 260L107.5 261L107.6 262L107.7 263L107.9 264L108.1 265L108.3 266" fill="none" stroke="#cfd2c8" stroke-width="0.8" opacity="0.6"/>
<path d="M73.2 5L73.2 6L73.2 7L73.2 8L73.2 9L73.2 10L73.2 11L73.1 12L73.1 13L73.1 14L73.1 15L73.1 16L73.1 17L73.1 18L73.1 19L73.1 20L73.1 21L73.1 22L73.1 23L73.1 24L73.1 25L73.1 26L73.1 27L73.1 28L73.1 29L73.1 30L73.1 31L73.1 32L73.1 33L73.1 34L73.1 35L73.1 36L73.1 37L73.1 38L73.1 39L73.1 40L73.1 41L73.1 42L73.1 43L73.1 44L73.2 45L73.2 46L73.2 47L73.2 48L73.2 49L73.2 50L73.2 51L73.2 52L73.2 53L73.2 54L73.3 55L73.3 56L73.3 57L73.3 58L73.3 59L73.3 60L73.3 61L73.3 62L73.4 63L73.4 64L73.4 65L73.4 66L73.5 67L73.5 68L73.5 69L73.6 70L73.6 71L73.7 72L73.7 73L73.8 74L73.8 75L73.9 76L73.9 77L74 78L74 79L74.1 80L74.2 81L74.2 82L74.3 83L74.4 84L74.5 85L74.5 86L74.6 87L74.7 88L74.8 89L74.8 90L74.9 91L75 92L75.1 93L75.2 94L75.2 95L75.3 96L75.4 97L75.5 98L75.6 99L75.7 100L75.8 101L75.9 102L76 103L76.1 104L76.2 105L76.4 106L76.5 107L76.6 108L76.8 109L76.9 110L77.1 111L77.2 112L77.4 113L77.6 114L77.7 115L77.9 116L78 117L78.2 118L78.3 119L78.5 120L78.6 121L78.8 122L78.9 123L79.1 124L79.2 125L79.4 126L79.5 127L79.7 128L79.8 129L80 130L80.1 131L80.3 132" fill="none" stroke="#cfd2c8" stroke-width="0.8" opacity="0.14"/>
<path d="M80.3 132L80.4 133L80.6 134L80.7 135L80.9 136L81 137L81.2 138L81.4 139L81.5 140L81.7 141L81.9 142L82.1 143L82.2 144L82.4 145L82.6 146L82.8 147L83 148L83.1 149L83.3 150L83.5 151L83.7 152L83.9 153L84.1 154L84.3 155L84.5 156L84.7 157L84.9 158L85 159L85.2 160L85.4 161L85.6 162L85.8 163L86 164L86.2 165L86.4 166L86.6 167L86.8 168L87.1 169L87.3 170L87.5 171L87.7 172L87.9 173L88.1 174L88.3 175L88.5 176L88.7 177L88.9 178L89.1 179L89.3 180L89.5 181L89.7 182L89.9 183L90.1 184L90.3 185L90.6 186L90.8 187L91 188L91.2 189L91.4 190L91.6 191L91.9 192L92.1 193L92.3 194L92.6 195L92.8 196L93 197L93.3 198L93.5 199L93.7 200L94 201L94.2 202L94.5 203L94.7 204L95 205L95.2 206L95.5 207L95.7 208L96 209L96.3 210L96.5 211L96.8 212L97 213L97.3 214L97.6 215L97.9 216L98.1 217L98.4 218L98.7 219L99 220L99.3 221L99.6 222L99.9 223L100.2 224L100.5 225L100.9 226L101.3 227L101.7 228L102.1 229L102.5 230L102.9 231L103.4 232L103.8 233L104.2 234L104.7 235L105.1 236L105.5 237L105.9 238L106.4 239L106.8 240L107.1 241L107.5 242L107.9 243L108.2 244L108.5 245L108.8 246L109.1 247L109.4 248L109.6 249L109.8 250L109.9 251L110.1 252L110.2 253L110.2 254L110.3 255L110.4 256L110.5 257L110.5 258L110.6 259L110.7 260L110.7 261L110.8 262L111 263L111.1 264L111.3 265L111.5 266" fill="none" stroke="#cfd2c8" stroke-width="0.8" opacity="0.22"/>
<path d="M77.7 5L77.7 6L77.6 7L77.6 8L77.6 9L77.6 10L77.6 11L77.6 12L77.6 13L77.6 14L77.6 15L77.6 16L77.6 17L77.5 18L77.5 19L77.5 20L77.5 21L77.5 22L77.5 23L77.5 24L77.5 25L77.5 26L77.5 27L77.5 28L77.5 29L77.6 30L77.6 31L77.6 32L77.6 33L77.6 34L77.6 35L77.6 36L77.6 37L77.6 38L77.6 39L77.6 40L77.6 41L77.6 42L77.7 43L77.7 44L77.7 45L77.7 46L77.7 47L77.7 48L77.7 49L77.7 50L77.8 51L77.8 52L77.8 53L77.8 54L77.8 55L77.8 56L77.8 57L77.8 58L77.9 59L77.9 60L77.9 61L77.9 62L77.9 63L77.9 64L78 65L78 66L78 67L78.1 68L78.1 69L78.2 70L78.2 71L78.2 72L78.3 73L78.3 74L78.4 75L78.4 76L78.5 77L78.6 78L78.6 79L78.7 80L78.8 81L78.8 82L78.9 83L79 84L79 85L79.1 86L79.2 87L79.3 88L79.3 89L79.4 90L79.5 91L79.6 92L79.7 93L79.7 94L79.8 95L79.9 96L80 97L80.1 98L80.2 99L80.3 100L80.3 101L80.4 102L80.6 103L80.7 104L80.8 105L80.9 106L81.1 107L81.2 108L81.4 109L81.5 110L81.7 111L81.8 112L82 113L82.1 114L82.3 115L82.5 116L82.6 117L82.8 118L82.9 119L83.1 120L83.2 121L83.4 122L83.5 123L83.7 124L83.8 125L84 126L84.1 127L84.2 128L84.4 129L84.5 130L84.7 131L84.9 132" fill="none" stroke="#cfd2c8" stroke-width="0.8" opacity="0.14"/>
<path d="M84.9 132L85 133L85.2 134L85.3 135L85.5 136L85.6 137L85.8 138L86 139L86.1 140L86.3 141L86.5 142L86.7 143L86.8 144L87 145L87.2 146L87.4 147L87.6 148L87.7 149L87.9 150L88.1 151L88.3 152L88.5 153L88.7 154L88.9 155L89.1 156L89.3 157L89.5 158L89.7 159L89.9 160L90.1 161L90.3 162L90.5 163L90.7 164L90.9 165L91.1 166L91.3 167L91.5 168L91.7 169L91.9 170L92.1 171L92.3 172L92.5 173L92.7 174L92.9 175L93.1 176L93.3 177L93.5 178L93.7 179L93.9 180L94.1 181L94.3 182L94.5 183L94.7 184L94.9 185L95.1 186L95.3 187L95.5 188L95.7 189L95.9 190L96.1 191L96.3 192L96.6 193L96.8 194L97 195L97.2 196L97.4 197L97.6 198L97.8 199L98.1 200L98.3 201L98.5 202L98.7 203L99 204L99.2 205L99.4 206L99.7 207L99.9 208L100.2 209L100.4 210L100.6 211L100.9 212L101.1 213L101.4 214L101.6 215L101.9 216L102.1 217L102.4 218L102.7 219L102.9 220L103.2 221L103.5 222L103.7 223L104.1 224L104.4 225L104.7 226L105.1 227L105.4 228L105.8 229L106.2 230L106.6 231L107 232L107.4 233L107.8 234L108.2 235L108.6 236L109 237L109.4 238L109.8 239L110.2 240L110.5 241L110.9 242L111.2 243L111.5 244L111.8 245L112.1 246L112.4 247L112.6 248L112.8 249L113 250L113.2 251L113.3 252L113.4 253L113.5 254L113.5 255L113.6 256L113.7 257L113.8 258L113.8 259L113.9 260L114 261L114.1 262L114.2 263L114.3 264L114.5 265L114.7 266" fill="none" stroke="#cfd2c8" stroke-width="0.8" opacity="0.22"/>
<path d="M82.7 5L82.6 6L82.6 7L82.6 8L82.6 9L82.6 10L82.6 11L82.6 12L82.6 13L82.6 14L82.6 15L82.6 16L82.6 17L82.6 18L82.6 19L82.6 20L82.6 21L82.6 22L82.6 23L82.6 24L82.6 25L82.6 26L82.6 27L82.6 28L82.6 29L82.6 30L82.6 31L82.6 32L82.6 33L82.6 34L82.6 35L82.7 36L82.7 37L82.7 38L82.7 39L82.7 40L82.7 41L82.7 42L82.7 43L82.7 44L82.8 45L82.8 46L82.8 47L82.8 48L82.8 49L82.8 50L82.9 51L82.9 52L82.9 53L82.9 54L82.9 55L82.9 56L83 57L83 58L83 59L83 60L83 61L83 62L83.1 63L83.1 64L83.1 65L83.2 66L83.2 67L83.2 68L83.3 69L83.3 70L83.3 71L83.4 72L83.4 73L83.5 74L83.5 75L83.6 76L83.7 77L83.7 78L83.8 79L83.8 80L83.9 81L84 82L84 83L84.1 84L84.2 85L84.3 86L84.3 87L84.4 88L84.5 89L84.6 90L84.6 91L84.7 92L84.8 93L84.9 94L85 95L85.1 96L85.1 97L85.2 98L85.3 99L85.4 100L85.5 101L85.6 102L85.7 103L85.8 104L86 105L86.1 106L86.2 107L86.4 108L86.5 109L86.7 110L86.8 111L87 112L87.2 113L87.3 114L87.5 115L87.6 116L87.8 117L87.9 118L88.1 119L88.2 120L88.4 121L88.5 122L88.7 123L88.8 124L89 125L89.1 126L89.3 127L89.4 128L89.6 129L89.7 130L89.9 131L90 132" fill="none" stroke="#cfd2c8" stroke-width="0.8" opacity="0.14"/>
<path d="M90 132L90.2 133L90.3 134L90.5 135L90.6 136L90.8 137L91 138L91.1 139L91.3 140L91.5 141L91.6 142L91.8 143L92 144L92.2 145L92.4 146L92.5 147L92.7 148L92.9 149L93.1 150L93.3 151L93.5 152L93.7 153L93.9 154L94.1 155L94.3 156L94.5 157L94.7 158L94.9 159L95.1 160L95.3 161L95.5 162L95.7 163L95.9 164L96.1 165L96.3 166L96.5 167L96.7 168L96.9 169L97.1 170L97.4 171L97.6 172L97.8 173L98 174L98.1 175L98.3 176L98.5 177L98.7 178L98.9 179L99.1 180L99.3 181L99.5 182L99.7 183L99.9 184L100 185L100.2 186L100.4 187L100.6 188L100.8 189L101 190L101.2 191L101.4 192L101.6 193L101.8 194L102 195L102.2 196L102.4 197L102.5 198L102.7 199L103 200L103.2 201L103.4 202L103.6 203L103.8 204L104 205L104.2 206L104.4 207L104.6 208L104.8 209L105.1 210L105.3 211L105.5 212L105.7 213L105.9 214L106.2 215L106.4 216L106.6 217L106.9 218L107.1 219L107.4 220L107.6 221L107.8 222L108.1 223L108.4 224L108.7 225L109 226L109.3 227L109.6 228L110 229L110.3 230L110.7 231L111.1 232L111.4 233L111.8 234L112.2 235L112.6 236L112.9 237L113.3 238L113.6 239L114 240L114.3 241L114.6 242L115 243L115.3 244L115.5 245L115.8 246L116 247L116.3 248L116.5 249L116.6 250L116.8 251L116.9 252L117 253L117.1 254L117.2 255L117.2 256L117.3 257L117.4 258L117.5 259L117.5 260L117.6 261L117.7 262L117.8 263L118 264L118.1 265L118.3 266" fill="none" stroke="#cfd2c8" stroke-width="0.8" opacity="0.22"/>
<path d="M87.6 5L87.6 6L87.6 7L87.6 8L87.6 9L87.6 10L87.6 11L87.6 12L87.6 13L87.6 14L87.6 15L87.6 16L87.6 17L87.6 18L87.6 19L87.6 20L87.6 21L87.6 22L87.6 23L87.6 24L87.6 25L87.6 26L87.6 27L87.6 28L87.6 29L87.6 30L87.7 31L87.7 32L87.7 33L87.7 34L87.7 35L87.7 36L87.7 37L87.7 38L87.8 39L87.8 40L87.8 41L87.8 42L87.8 43L87.8 44L87.8 45L87.9 46L87.9 47L87.9 48L87.9 49L87.9 50L88 51L88 52L88 53L88 54L88 55L88.1 56L88.1 57L88.1 58L88.1 59L88.1 60L88.2 61L88.2 62L88.2 63L88.2 64L88.3 65L88.3 66L88.3 67L88.4 68L88.4 69L88.5 70L88.5 71L88.5 72L88.6 73L88.6 74L88.7 75L88.8 76L88.8 77L88.9 78L88.9 79L89 80L89.1 81L89.1 82L89.2 83L89.3 84L89.3 85L89.4 86L89.5 87L89.6 88L89.6 89L89.7 90L89.8 91L89.9 92L89.9 93L90 94L90.1 95L90.2 96L90.3 97L90.4 98L90.5 99L90.5 100L90.6 101L90.7 102L90.9 103L91 104L91.1 105L91.2 106L91.4 107L91.5 108L91.7 109L91.8 110L92 111L92.2 112L92.3 113L92.5 114L92.6 115L92.8 116L93 117L93.1 118L93.3 119L93.4 120L93.6 121L93.7 122L93.9 123L94 124L94.2 125L94.3 126L94.4 127L94.6 128L94.7 129L94.9 130L95 131L95.2 132" fill="none" stroke="#cfd2c8" stroke-width="0.8" opacity="0.14"/>
<path d="M95.2 132L95.3 133L95.5 134L95.7 135L95.8 136L96 137L96.1 138L96.3 139L96.5 140L96.6 141L96.8 142L97 143L97.2 144L97.4 145L97.5 146L97.7 147L97.9 148L98.1 149L98.3 150L98.5 151L98.7 152L98.9 153L99.1 154L99.3 155L99.5 156L99.7 157L99.9 158L100.1 159L100.3 160L100.5 161L100.7 162L101 163L101.2 164L101.4 165L101.6 166L101.8 167L102 168L102.2 169L102.4 170L102.6 171L102.8 172L103 173L103.2 174L103.4 175L103.6 176L103.8 177L103.9 178L104.1 179L104.3 180L104.5 181L104.7 182L104.8 183L105 184L105.2 185L105.4 186L105.5 187L105.7 188L105.9 189L106.1 190L106.2 191L106.4 192L106.6 193L106.8 194L106.9 195L107.1 196L107.3 197L107.5 198L107.7 199L107.8 200L108 201L108.2 202L108.4 203L108.6 204L108.8 205L108.9 206L109.1 207L109.3 208L109.5 209L109.7 210L109.9 211L110.1 212L110.3 213L110.5 214L110.7 215L110.9 216L111.1 217L111.4 218L111.6 219L111.8 220L112 221L112.2 222L112.5 223L112.7 224L113 225L113.3 226L113.6 227L113.9 228L114.2 229L114.5 230L114.8 231L115.2 232L115.5 233L115.8 234L116.2 235L116.5 236L116.8 237L117.2 238L117.5 239L117.8 240L118.1 241L118.4 242L118.7 243L119 244L119.2 245L119.5 246L119.7 247L119.9 248L120.1 249L120.3 250L120.4 251L120.5 252L120.6 253L120.7 254L120.8 255L120.9 256L120.9 257L121 258L121.1 259L121.2 260L121.3 261L121.4 262L121.5 263L121.6 264L121.7 265L121.9 266" fill="none" stroke="#cfd2c8" stroke-width="0.8" opacity="0.22"/>
<path d="M92.1 5L92 6L92 7L92 8L92 9L92 10L92 11L92 12L92 13L92 14L92 15L92 16L92 17L92 18L92 19L92 20L92 21L92 22L92.1 23L92.1 24L92.1 25L92.1 26L92.1 27L92.1 28L92.1 29L92.1 30L92.1 31L92.1 32L92.2 33L92.2 34L92.2 35L92.2 36L92.2 37L92.2 38L92.3 39L92.3 40L92.3 41L92.3 42L92.3 43L92.4 44L92.4 45L92.4 46L92.4 47L92.4 48L92.5 49L92.5 50L92.5 51L92.5 52L92.5 53L92.6 54L92.6 55L92.6 56L92.6 57L92.6 58L92.7 59L92.7 60L92.7 61L92.7 62L92.8 63L92.8 64L92.8 65L92.9 66L92.9 67L92.9 68L93 69L93 70L93.1 71L93.1 72L93.2 73L93.2 74L93.3 75L93.3 76L93.4 77L93.4 78L93.5 79L93.6 80L93.6 81L93.7 82L93.8 83L93.8 84L93.9 85L94 86L94.1 87L94.1 88L94.2 89L94.3 90L94.4 91L94.4 92L94.5 93L94.6 94L94.7 95L94.8 96L94.9 97L94.9 98L95 99L95.1 100L95.2 101L95.3 102L95.4 103L95.6 104L95.7 105L95.8 106L96 107L96.1 108L96.3 109L96.4 110L96.6 111L96.7 112L96.9 113L97.1 114L97.2 115L97.4 116L97.6 117L97.7 118L97.9 119L98 120L98.2 121L98.3 122L98.5 123L98.6 124L98.8 125L98.9 126L99 127L99.2 128L99.3 129L99.5 130L99.6 131L99.8 132" fill="none" stroke="#cfd2c8" stroke-width="0.8" opacity="0.14"/>
<path d="M99.8 132L99.9 133L100.1 134L100.2 135L100.4 136L100.6 137L100.7 138L100.9 139L101.1 140L101.2 141L101.4 142L101.6 143L101.8 144L101.9 145L102.1 146L102.3 147L102.5 148L102.7 149L102.9 150L103.1 151L103.3 152L103.5 153L103.7 154L103.9 155L104.1 156L104.3 157L104.6 158L104.8 159L105 160L105.2 161L105.4 162L105.6 163L105.8 164L106 165L106.2 166L106.4 167L106.6 168L106.8 169L107 170L107.2 171L107.4 172L107.6 173L107.8 174L108 175L108.2 176L108.4 177L108.6 178L108.7 179L108.9 180L109.1 181L109.3 182L109.4 183L109.6 184L109.8 185L109.9 186L110.1 187L110.2 188L110.4 189L110.6 190L110.7 191L110.9 192L111 193L111.2 194L111.4 195L111.5 196L111.7 197L111.8 198L112 199L112.2 200L112.3 201L112.5 202L112.7 203L112.8 204L113 205L113.2 206L113.3 207L113.5 208L113.7 209L113.9 210L114 211L114.2 212L114.4 213L114.6 214L114.8 215L114.9 216L115.1 217L115.3 218L115.5 219L115.7 220L115.9 221L116.1 222L116.3 223L116.6 224L116.8 225L117.1 226L117.3 227L117.6 228L117.9 229L118.2 230L118.5 231L118.8 232L119.1 233L119.4 234L119.7 235L120 236L120.3 237L120.6 238L120.9 239L121.2 240L121.5 241L121.8 242L122 243L122.3 244L122.5 245L122.7 246L123 247L123.2 248L123.3 249L123.5 250L123.6 251L123.7 252L123.8 253L123.9 254L124 255L124.1 256L124.2 257L124.3 258L124.3 259L124.4 260L124.5 261L124.6 262L124.7 263L124.8 264L124.9 265L125.1 266" fill="none" stroke="#cfd2c8" stroke-width="0.8" opacity="0.22"/>
<path d="M96.5 5L96.5 6L96.5 7L96.5 8L96.5 9L96.5 10L96.5 11L96.5 12L96.5 13L96.5 14L96.5 15L96.5 16L96.5 17L96.5 18L96.5 19L96.5 20L96.5 21L96.5 22L96.5 23L96.5 24L96.5 25L96.5 26L96.6 27L96.6 28L96.6 29L96.6 30L96.6 31L96.6 32L96.7 33L96.7 34L96.7 35L96.7 36L96.7 37L96.7 38L96.8 39L96.8 40L96.8 41L96.8 42L96.8 43L96.9 44L96.9 45L96.9 46L96.9 47L97 48L97 49L97 50L97 51L97.1 52L97.1 53L97.1 54L97.1 55L97.2 56L97.2 57L97.2 58L97.2 59L97.2 60L97.3 61L97.3 62L97.3 63L97.4 64L97.4 65L97.4 66L97.5 67L97.5 68L97.6 69L97.6 70L97.6 71L97.7 72L97.7 73L97.8 74L97.9 75L97.9 76L98 77L98 78L98.1 79L98.1 80L98.2 81L98.3 82L98.3 83L98.4 84L98.5 85L98.6 86L98.6 87L98.7 88L98.8 89L98.9 90L98.9 91L99 92L99.1 93L99.2 94L99.3 95L99.3 96L99.4 97L99.5 98L99.6 99L99.7 100L99.8 101L99.9 102L100 103L100.1 104L100.3 105L100.4 106L100.6 107L100.7 108L100.9 109L101 110L101.2 111L101.3 112L101.5 113L101.7 114L101.8 115L102 116L102.2 117L102.3 118L102.5 119L102.6 120L102.8 121L102.9 122L103.1 123L103.2 124L103.4 125L103.5 126L103.6 127L103.8 128L103.9 129L104.1 130L104.2 131L104.4 132" fill="none" stroke="#cfd2c8" stroke-width="0.8" opacity="0.3"/>
<path d="M104.4 132L104.5 133L104.7 134L104.8 135L105 136L105.2 137L105.3 138L105.5 139L105.7 140L105.8 141L106 142L106.2 143L106.4 144L106.5 145L106.7 146L106.9 147L107.1 148L107.3 149L107.5 150L107.7 151L107.9 152L108.1 153L108.3 154L108.6 155L108.8 156L109 157L109.2 158L109.4 159L109.6 160L109.8 161L110 162L110.3 163L110.5 164L110.7 165L110.9 166L111.1 167L111.3 168L111.5 169L111.7 170L111.9 171L112.1 172L112.3 173L112.5 174L112.7 175L112.8 176L113 177L113.2 178L113.4 179L113.5 180L113.7 181L113.9 182L114 183L114.2 184L114.3 185L114.5 186L114.6 187L114.8 188L114.9 189L115.1 190L115.2 191L115.4 192L115.5 193L115.6 194L115.8 195L115.9 196L116.1 197L116.2 198L116.4 199L116.5 200L116.7 201L116.8 202L116.9 203L117.1 204L117.2 205L117.4 206L117.5 207L117.7 208L117.8 209L118 210L118.1 211L118.3 212L118.5 213L118.6 214L118.8 215L119 216L119.1 217L119.3 218L119.5 219L119.7 220L119.8 221L120 222L120.2 223L120.4 224L120.6 225L120.9 226L121.1 227L121.4 228L121.6 229L121.9 230L122.2 231L122.4 232L122.7 233L123 234L123.3 235L123.5 236L123.8 237L124.1 238L124.3 239L124.6 240L124.9 241L125.1 242L125.4 243L125.6 244L125.8 245L126 246L126.2 247L126.4 248L126.6 249L126.7 250L126.8 251L127 252L127 253L127.1 254L127.2 255L127.3 256L127.4 257L127.5 258L127.6 259L127.7 260L127.7 261L127.8 262L127.9 263L128 264L128.1 265L128.3 266" fill="none" stroke="#cfd2c8" stroke-width="0.8" opacity="0.6"/>
<path d="M102 5L102 6L102 7L102 8L102 9L102 10L102 11L102 12L102 13L102 14L102 15L102 16L102 17L102 18L102.1 19L102.1 20L102.1 21L102.1 22L102.1 23L102.1 24L102.1 25L102.1 26L102.2 27L102.2 28L102.2 29L102.2 30L102.2 31L102.2 32L102.3 33L102.3 34L102.3 35L102.3 36L102.3 37L102.4 38L102.4 39L102.4 40L102.4 41L102.5 42L102.5 43L102.5 44L102.5 45L102.6 46L102.6 47L102.6 48L102.6 49L102.7 50L102.7 51L102.7 52L102.8 53L102.8 54L102.8 55L102.8 56L102.9 57L102.9 58L102.9 59L102.9 60L103 61L103 62L103 63L103.1 64L103.1 65L103.2 66L103.2 67L103.2 68L103.3 69L103.3 70L103.4 71L103.4 72L103.5 73L103.5 74L103.6 75L103.6 76L103.7 77L103.7 78L103.8 79L103.9 80L103.9 81L104 82L104.1 83L104.1 84L104.2 85L104.3 86L104.3 87L104.4 88L104.5 89L104.6 90L104.7 91L104.7 92L104.8 93L104.9 94L105 95L105.1 96L105.2 97L105.2 98L105.3 99L105.4 100L105.5 101L105.6 102L105.7 103L105.9 104L106 105L106.1 106L106.3 107L106.4 108L106.6 109L106.8 110L106.9 111L107.1 112L107.2 113L107.4 114L107.6 115L107.7 116L107.9 117L108.1 118L108.2 119L108.4 120L108.5 121L108.7 122L108.8 123L109 124L109.1 125L109.3 126L109.4 127L109.5 128L109.7 129L109.8 130L110 131L110.1 132" fill="none" stroke="#cfd2c8" stroke-width="0.8" opacity="0.3"/>
<path d="M110.1 132L110.3 133L110.4 134L110.6 135L110.7 136L110.9 137L111.1 138L111.2 139L111.4 140L111.6 141L111.7 142L111.9 143L112.1 144L112.3 145L112.5 146L112.7 147L112.9 148L113.1 149L113.3 150L113.5 151L113.7 152L113.9 153L114.1 154L114.3 155L114.6 156L114.8 157L115 158L115.2 159L115.4 160L115.6 161L115.8 162L116.1 163L116.3 164L116.5 165L116.7 166L116.9 167L117.1 168L117.3 169L117.5 170L117.7 171L117.9 172L118.1 173L118.3 174L118.5 175L118.6 176L118.8 177L119 178L119.2 179L119.3 180L119.5 181L119.6 182L119.8 183L119.9 184L120 185L120.2 186L120.3 187L120.4 188L120.6 189L120.7 190L120.8 191L121 192L121.1 193L121.2 194L121.3 195L121.4 196L121.6 197L121.7 198L121.8 199L121.9 200L122.1 201L122.2 202L122.3 203L122.4 204L122.5 205L122.7 206L122.8 207L122.9 208L123 209L123.2 210L123.3 211L123.4 212L123.6 213L123.7 214L123.8 215L124 216L124.1 217L124.3 218L124.4 219L124.6 220L124.7 221L124.9 222L125.1 223L125.2 224L125.4 225L125.6 226L125.8 227L126.1 228L126.3 229L126.5 230L126.7 231L127 232L127.2 233L127.4 234L127.7 235L127.9 236L128.2 237L128.4 238L128.6 239L128.9 240L129.1 241L129.3 242L129.5 243L129.7 244L129.9 245L130.1 246L130.3 247L130.4 248L130.6 249L130.7 250L130.9 251L131 252L131.1 253L131.2 254L131.3 255L131.3 256L131.4 257L131.5 258L131.6 259L131.7 260L131.8 261L131.9 262L132 263L132.1 264L132.2 265L132.3 266" fill="none" stroke="#cfd2c8" stroke-width="0.8" opacity="0.6"/>
<path d="M110.3 5L110.3 6L110.3 7L110.3 8L110.3 9L110.3 10L110.3 11L110.3 12L110.3 13L110.3 14L110.4 15L110.4 16L110.4 17L110.4 18L110.4 19L110.4 20L110.4 21L110.5 22L110.5 23L110.5 24L110.5 25L110.5 26L110.5 27L110.6 28L110.6 29L110.6 30L110.6 31L110.7 32L110.7 33L110.7 34L110.7 35L110.8 36L110.8 37L110.8 38L110.8 39L110.9 40L110.9 41L110.9 42L111 43L111 44L111 45L111 46L111.1 47L111.1 48L111.1 49L111.2 50L111.2 51L111.2 52L111.3 53L111.3 54L111.3 55L111.4 56L111.4 57L111.4 58L111.5 59L111.5 60L111.5 61L111.6 62L111.6 63L111.6 64L111.7 65L111.7 66L111.8 67L111.8 68L111.9 69L111.9 70L112 71L112 72L112.1 73L112.1 74L112.2 75L112.2 76L112.3 77L112.3 78L112.4 79L112.5 80L112.5 81L112.6 82L112.6 83L112.7 84L112.8 85L112.9 86L112.9 87L113 88L113.1 89L113.2 90L113.2 91L113.3 92L113.4 93L113.5 94L113.6 95L113.6 96L113.7 97L113.8 98L113.9 99L114 100L114.1 101L114.2 102L114.3 103L114.5 104L114.6 105L114.7 106L114.9 107L115 108L115.2 109L115.4 110L115.5 111L115.7 112L115.9 113L116 114L116.2 115L116.4 116L116.5 117L116.7 118L116.8 119L117 120L117.1 121L117.3 122L117.4 123L117.6 124L117.7 125L117.9 126L118 127L118.2 128L118.3 129L118.5 130L118.6 131L118.7 132" fill="none" stroke="#cfd2c8" stroke-width="0.8" opacity="0.14"/>
<path d="M118.7 132L118.9 133L119 134L119.2 135L119.4 136L119.5 137L119.7 138L119.8 139L120 140L120.2 141L120.3 142L120.5 143L120.7 144L120.9 145L121.1 146L121.3 147L121.5 148L121.7 149L121.9 150L122.1 151L122.4 152L122.6 153L122.8 154L123 155L123.2 156L123.5 157L123.7 158L123.9 159L124.1 160L124.3 161L124.6 162L124.8 163L125 164L125.2 165L125.4 166L125.6 167L125.8 168L126 169L126.2 170L126.4 171L126.6 172L126.8 173L127 174L127.2 175L127.3 176L127.5 177L127.7 178L127.8 179L128 180L128.1 181L128.2 182L128.4 183L128.5 184L128.6 185L128.7 186L128.8 187L128.9 188L129 189L129.1 190L129.2 191L129.3 192L129.4 193L129.5 194L129.6 195L129.7 196L129.8 197L129.9 198L130 199L130.1 200L130.1 201L130.2 202L130.3 203L130.4 204L130.5 205L130.6 206L130.7 207L130.8 208L130.8 209L130.9 210L131 211L131.1 212L131.2 213L131.3 214L131.4 215L131.5 216L131.6 217L131.7 218L131.8 219L132 220L132.1 221L132.2 222L132.3 223L132.5 224L132.6 225L132.8 226L132.9 227L133.1 228L133.2 229L133.4 230L133.6 231L133.8 232L134 233L134.1 234L134.3 235L134.5 236L134.7 237L134.9 238L135.1 239L135.2 240L135.4 241L135.6 242L135.8 243L135.9 244L136.1 245L136.2 246L136.4 247L136.5 248L136.7 249L136.8 250L136.9 251L137 252L137.1 253L137.2 254L137.3 255L137.4 256L137.5 257L137.6 258L137.7 259L137.8 260L137.9 261L137.9 262L138 263L138.1 264L138.2 265L138.3 266" fill="none" stroke="#cfd2c8" stroke-width="0.8" opacity="0.22"/>
<path d="M54.9 6.6L63.3 6.6M54.7 21.2L63 21.2M54.5 41.6L63 41.6M54.5 61.8L63.1 61.8M55.2 79.7L63.8 79.7M56.8 100.4L65.4 100.4M58.8 114.8L67.4 114.8M60.1 123.8L68.7 123.8" stroke="#cfd2c8" stroke-width="0.8" fill="none" opacity="0.3"/>
<path d="M61.5 133L70.1 133M63.1 142.7L71.7 142.7M64.5 151.3L73.1 151.3M66.1 159.6L74.8 159.6M67.8 169L76.6 169M70.5 180.6L79.1 180.6M72.6 188.5L81 188.5M74.6 196L82.9 196M76.8 203L84.8 203M78.8 209.5L86.6 209.5M81.7 217.4L89.2 217.4M84.3 224.5L91.5 224.5M88.4 231.9L95.2 231.9M91.7 238L98.2 238M94.6 244.4L100.8 244.4M96.8 252.1L102.8 252.1" stroke="#cfd2c8" stroke-width="0.8" fill="none" opacity="0.7"/>
<path d="M63.1 13.8L68.7 13.8M63 32.6L68.6 32.6M63 50L68.7 50M63.2 68.7L69 68.7M64.5 89.5L70.2 89.5M66 105.9L71.8 105.9M68.7 124.2L74.5 124.2" stroke="#cfd2c8" stroke-width="0.8" fill="none" opacity="0.3"/>
<path d="M70.1 133.3L75.8 133.3M71.9 144.4L77.6 144.4M73.3 152.4L79.1 152.4M75.4 163.2L81.2 163.2M77.8 175L83.6 175M79.1 181L84.9 181M80.8 188.2L86.5 188.2M82.9 195.5L88.4 195.5M84.8 203.2L90.2 203.2M86.9 210.4L92.1 210.4M89.2 216.9L94.1 216.9M91.5 223.7L96.3 223.7M95.2 231.6L99.7 231.6M98.6 239.4L102.9 239.4M101.5 245.7L105.6 245.7M102.8 251.9L106.8 251.9" stroke="#cfd2c8" stroke-width="0.8" fill="none" opacity="0.45"/>
<path d="M68.8 5.3L73.2 5.3M68.6 28.6L73.1 28.6M68.7 48.3L73.2 48.3M69.4 76.7L73.9 76.7M71.4 102.6L76 102.6M74.2 122.1L78.8 122.1" stroke="#cfd2c8" stroke-width="0.8" fill="none" opacity="0.12"/>
<path d="M78.2 146.6L82.8 146.6M82.2 168.5L86.8 168.5M84.9 180.9L89.5 180.9M87.2 191.4L91.6 191.4M89.9 201.6L94.2 201.6M92.7 211.9L96.8 211.9M96.3 223.5L100.2 223.5M102.5 237.5L105.9 237.5M106.6 250.4L109.8 250.4" stroke="#cfd2c8" stroke-width="0.8" fill="none" opacity="0.13"/>
<path d="M73.1 12.1L77.6 12.1M73.1 40.6L77.6 40.6M73.5 67.9L78.1 67.9M75.2 95.4L79.8 95.4M77.4 113.5L82 113.5" stroke="#cfd2c8" stroke-width="0.8" fill="none" opacity="0.12"/>
<path d="M81 137L85.6 137M84.5 155.8L89.1 155.8M87.3 170.1L91.9 170.1M89.3 180.4L93.9 180.4M92.3 194.4L96.8 194.4M95 205.1L99.2 205.1M98.7 219L102.7 219M102.5 230.2L106.2 230.2M106.4 239.5L109.8 239.5M109.9 251.2L113.2 251.2" stroke="#cfd2c8" stroke-width="0.8" fill="none" opacity="0.13"/>
<path d="M77.6 14L82.6 14M77.6 35.5L82.7 35.5M77.9 59.6L83 59.6M79 84.2L84.1 84.2M82.1 113.6L87.3 113.6" stroke="#cfd2c8" stroke-width="0.8" fill="none" opacity="0.12"/>
<path d="M85 132.7L90.2 132.7M89.5 158L94.7 158M92.1 170.5L97.4 170.5M94.9 184.7L100 184.7M98.1 200.4L103 200.4M100.9 211.6L105.5 211.6M104.4 225.5L108.7 225.5M109.4 238.2L113.3 238.2M113.2 251.1L116.8 251.1" stroke="#cfd2c8" stroke-width="0.8" fill="none" opacity="0.13"/>
<path d="M82.6 13.1L87.6 13.1M82.7 42.9L87.8 42.9M83.1 65.1L88.3 65.1M84.3 86.9L89.5 86.9M87.8 116.9L93 116.9" stroke="#cfd2c8" stroke-width="0.8" fill="none" opacity="0.12"/>
<path d="M90.6 136.2L95.8 136.2M94.1 155.1L99.3 155.1M96.1 164.6L101.4 164.6M98.9 179.3L104.1 179.3M101.8 193.6L106.8 193.6M104.2 205.7L108.9 205.7M107.1 219.1L111.6 219.1M109.6 228.2L113.9 228.2M114.6 241.7L118.4 241.7M117.1 253.8L120.7 253.8" stroke="#cfd2c8" stroke-width="0.8" fill="none" opacity="0.13"/>
<path d="M87.6 8.9L92 8.9M87.7 31.7L92.1 31.7M88 52.4L92.5 52.4M88.5 71L93.1 71M90 94.2L94.6 94.2M92.6 115.2L97.2 115.2" stroke="#cfd2c8" stroke-width="0.8" fill="none" opacity="0.12"/>
<path d="M96.8 141.6L101.4 141.6M102.2 169.4L106.8 169.4M104.8 183.5L109.4 183.5M107.1 195.7L111.5 195.7M108.9 206.3L113.2 206.3M111.4 218L115.3 218M114.5 230.5L118.2 230.5M119 243.9L122.3 243.9" stroke="#cfd2c8" stroke-width="0.8" fill="none" opacity="0.13"/>
<path d="M92 5.9L96.5 5.9M92.1 29.6L96.6 29.6M92.6 53.5L97.1 53.5M93.6 80.1L98.1 80.1M96.3 108.8L100.9 108.8" stroke="#cfd2c8" stroke-width="0.8" fill="none" opacity="0.12"/>
<path d="M100.4 136.2L105 136.2M105.4 161.7L110 161.7M108.2 176L112.8 176M110.6 189.7L115.1 189.7M113 204.7L117.2 204.7M115.5 218.6L119.5 218.6M118.8 232.4L122.4 232.4M122 243.1L125.4 243.1" stroke="#cfd2c8" stroke-width="0.8" fill="none" opacity="0.13"/>
<path d="M96.5 8.9L102 8.9M96.6 27.8L102.2 27.8M97 48.4L102.6 48.4M97.6 70.1L103.3 70.1M99 92L104.7 92M100.4 106.1L106.1 106.1M103.1 122.6L108.8 122.6" stroke="#cfd2c8" stroke-width="0.8" fill="none" opacity="0.3"/>
<path d="M104.4 131.8L110.1 131.8M105.8 141.4L111.6 141.4M107.5 149.9L113.3 149.9M109.6 160.2L115.4 160.2M111.3 168.5L117.1 168.5M113.2 177.7L119 177.7M114.5 185.6L120.2 185.6M115.5 193.1L121.1 193.1M116.5 200L121.9 200M117.4 206.2L122.7 206.2M118.6 214.1L123.7 214.1M120 221.5L124.9 221.5M121.4 227.9L126.1 227.9M123.3 234.6L127.7 234.6M125.1 241.9L129.3 241.9M126.6 249.2L130.6 249.2M127.3 255.8L131.3 255.8" stroke="#cfd2c8" stroke-width="0.8" fill="none" opacity="0.45"/>
<path d="M102 8.2L110.3 8.2M102.1 24.3L110.5 24.3M102.5 45L111 45M102.9 60.2L111.5 60.2M103.9 79.7L112.5 79.7M105 95.3L113.6 95.3M107.4 114.1L116 114.1M108.8 123.2L117.4 123.2" stroke="#cfd2c8" stroke-width="0.8" fill="none" opacity="0.3"/>
<path d="M110.3 132.7L118.9 132.7M112.1 144.5L120.7 144.5M114.1 154.3L122.8 154.3M116.3 164.1L125 164.1M118.5 174.5L127.2 174.5M119.5 181.1L128.1 181.1M120.3 187.5L128.8 187.5M121.2 194.2L129.5 194.2M122.1 200.8L130.1 200.8M122.8 207.2L130.7 207.2M123.8 215.1L131.4 215.1M124.7 221.1L132.1 221.1M126.3 228.8L133.2 228.8M128.2 236.6L134.7 236.6M129.7 244L135.9 244M130.7 250.1L136.8 250.1M131.4 257.1L137.5 257.1" stroke="#cfd2c8" stroke-width="0.8" fill="none" opacity="0.7"/>
<path d="M70.4 135L70.5 136L70.7 137L70.9 138L71 139L71.2 140L71.4 141L71.6 142L71.7 143L71.9 144L72.1 145L72.2 146L72.4 147L72.6 148L72.8 149L73 150L73.1 151L73.3 152L73.5 153L73.7 154L73.9 155L74 156L74.2 157L74.4 158L74.6 159L74.8 160L75 161L75.2 162L75.4 163L75.6 164L75.8 165L76 166L76.2 167L76.4 168L76.6 169L76.8 170L77 171L77.2 172L77.4 173L77.6 174L77.8 175L78 176L78.3 177L78.5 178L78.7 179L78.9 180L79.1 181L79.4 182L79.6 183L79.8 184L80.1 185L80.3 186L80.5 187L80.8 188L81 189L81.3 190L81.5 191L81.8 192L82.1 193L82.3 194L82.6 195L82.9 196L83.1 197L83.4 198L83.7 199L84 200L84.3 201L84.5 202L84.8 203L85.1 204L85.4 205L85.7 206L86 207L86.3 208L86.6 209L86.9 210L87.2 211L87.6 212L87.9 213L88.2 214L88.5 215L88.8 216L89.2 217L89.5 218L89.8 219L90.1 220L90.5 221L90.8 222L91.2 223L91.5 224L91.9 225L92.3 226L92.8 227L93.2 228L93.7 229L94.2 230L94.7 231L95.2 232L95.7 233L96.2 234L96.7 235L97.2 236L97.7 237L98.2 238L98.6 239L99.1 240L99.6 241L100 242L100.4 243L100.8 244L101.2 245L101.5 246L101.8 247L102.1 248L102.3 249L102.5 250L102.7 251L102.8 252L102.9 253L103 254L103.1 255L103.1 256L103.2 257L103.3 258L103.3 259L103.4 260L103.5 261L103.6 262" fill="none" stroke="#f2f2ec" stroke-width="0.9" opacity="0.75"/>
<path d="M110.6 135L110.7 136L110.9 137L111.1 138L111.2 139L111.4 140L111.6 141L111.7 142L111.9 143L112.1 144L112.3 145L112.5 146L112.7 147L112.9 148L113.1 149L113.3 150L113.5 151L113.7 152L113.9 153L114.1 154L114.3 155L114.6 156L114.8 157L115 158L115.2 159L115.4 160L115.6 161L115.8 162L116.1 163L116.3 164L116.5 165L116.7 166L116.9 167L117.1 168L117.3 169L117.5 170L117.7 171L117.9 172L118.1 173L118.3 174L118.5 175L118.6 176L118.8 177L119 178L119.2 179L119.3 180L119.5 181L119.6 182L119.8 183L119.9 184L120 185L120.2 186L120.3 187L120.4 188L120.6 189L120.7 190L120.8 191L121 192L121.1 193L121.2 194L121.3 195L121.4 196L121.6 197L121.7 198L121.8 199L121.9 200L122.1 201L122.2 202L122.3 203L122.4 204L122.5 205L122.7 206L122.8 207L122.9 208L123 209L123.2 210L123.3 211L123.4 212L123.6 213L123.7 214L123.8 215L124 216L124.1 217L124.3 218L124.4 219L124.6 220L124.7 221L124.9 222L125.1 223L125.2 224L125.4 225L125.6 226L125.8 227L126.1 228L126.3 229L126.5 230L126.7 231L127 232L127.2 233L127.4 234L127.7 235L127.9 236L128.2 237L128.4 238L128.6 239L128.9 240L129.1 241L129.3 242L129.5 243L129.7 244L129.9 245L130.1 246L130.3 247L130.4 248L130.6 249L130.7 250L130.9 251L131 252L131.1 253L131.2 254L131.3 255L131.3 256L131.4 257L131.5 258L131.6 259L131.7 260L131.8 261L131.9 262" fill="none" stroke="#f2f2ec" stroke-width="0.9" opacity="0.75"/>
<path d="M97.1 257C102.1 282.3 138.5 282.3 137.5 257" fill="none" stroke="#eeeeea" stroke-width="0.9" opacity="0.85"/>
<path d="M103.2 257C108.2 276.3 132.4 276.3 131.4 257" fill="none" stroke="#eeeeea" stroke-width="0.9" opacity="0.8"/>
<path d="M107.2 257C112.2 270.3 128.4 270.3 127.4 257" fill="none" stroke="#eeeeea" stroke-width="0.9" opacity="0.55"/>
<path d="M110.5 257C115.5 266.3 125.2 266.3 124.2 257" fill="none" stroke="#eeeeea" stroke-width="0.9" opacity="0.4"/>
<path d="M113.7 257C118.7 263 121.9 263 120.9 257" fill="none" stroke="#eeeeea" stroke-width="0.9" opacity="0.3"/>
<path d="M73.8 232L74.2 233L74.5 234L74.9 235L75.2 236L75.6 237L75.9 238L76.3 239L76.6 240L77 241L77.3 242L77.7 243L78.1 244L78.4 245L78.8 246L79.1 247L79.5 248L79.8 249L80.2 250L80.6 251L80.9 252L81.3 253L81.7 254L82 255L82.4 256L82.8 257L83.2 258L83.5 259L83.9 260L84.3 261L84.7 262L85.1 263L85.5 264L85.9 265L86.3 266L86.7 267L87.1 268L87.5 269L87.9 270L88.3 271L88.7 272L89.2 273L89.6 274L90 275L90.4 276L90.9 277L91.3 278L91.7 279" fill="none" stroke="#f2f2ee" stroke-width="0.9" opacity="0.85"/>
<path d="M79.2 240L79.6 241L79.9 242L80.3 243L80.6 244L81 245L81.3 246L81.7 247L82 248L82.4 249L82.8 250L83.1 251L83.5 252L83.9 253L84.2 254L84.6 255L85 256L85.4 257L85.7 258L86.1 259L86.5 260L86.9 261L87.3 262L87.6 263L88 264L88.4 265L88.8 266L89.2 267L89.7 268L90.1 269L90.5 270L90.9 271L91.3 272L91.7 273L92.1 274L92.6 275L93 276L93.4 277L93.8 278L94.3 279" fill="none" stroke="#f2f2ee" stroke-width="0.9" opacity="0.8"/>
<path d="M85.5 250L85.8 251L86.2 252L86.6 253L86.9 254L87.3 255L87.7 256L88.1 257L88.4 258L88.8 259L89.2 260L89.6 261L90 262L90.3 263L90.7 264L91.1 265L91.5 266L91.9 267L92.4 268L92.8 269L93.2 270L93.6 271L94 272L94.4 273L94.8 274L95.3 275L95.7 276L96.1 277L96.5 278L97 279" fill="none" stroke="#f2f2ee" stroke-width="0.9" opacity="0.75"/>
<path d="M91.4 258L91.8 259L92.1 260L92.5 261L92.9 262L93.3 263L93.7 264L94.1 265L94.5 266L94.9 267L95.3 268L95.7 269L96.1 270L96.5 271L97 272L97.4 273L97.8 274L98.2 275L98.7 276L99.1 277L99.5 278L99.9 279" fill="none" stroke="#f2f2ee" stroke-width="0.9" opacity="0.7"/>
<path d="M144.4 222L144.5 223L144.6 224L144.6 225L144.7 226L144.8 227L144.9 228L144.9 229L145 230L145.1 231L145.2 232L145.2 233L145.3 234L145.4 235L145.5 236L145.5 237L145.6 238L145.7 239L145.7 240L145.8 241L145.9 242L145.9 243L146 244L146.1 245L146.1 246L146.2 247L146.3 248L146.3 249L146.4 250L146.5 251L146.5 252L146.6 253L146.6 254L146.7 255L146.8 256L146.8 257L146.9 258L146.9 259L147 260L147.1 261L147.1 262L147.2 263L147.2 264L147.3 265L147.3 266L147.4 267L147.4 268L147.5 269L147.6 270L147.6 271L147.7 272L147.7 273L147.8 274L147.8 275L147.9 276L147.9 277L148 278L148 279" fill="none" stroke="#f2f2ee" stroke-width="0.9" opacity="0.85"/>
<path d="M142.9 236L142.9 237L143 238L143.1 239L143.1 240L143.2 241L143.3 242L143.3 243L143.4 244L143.5 245L143.5 246L143.6 247L143.7 248L143.7 249L143.8 250L143.9 251L143.9 252L144 253L144 254L144.1 255L144.2 256L144.2 257L144.3 258L144.3 259L144.4 260L144.5 261L144.5 262L144.6 263L144.6 264L144.7 265L144.7 266L144.8 267L144.8 268L144.9 269L145 270L145 271L145.1 272L145.1 273L145.2 274L145.2 275L145.3 276L145.3 277L145.4 278L145.4 279" fill="none" stroke="#f2f2ee" stroke-width="0.9" opacity="0.8"/>
<path d="M141 250L141.1 251L141.1 252L141.2 253L141.2 254L141.3 255L141.4 256L141.4 257L141.5 258L141.5 259L141.6 260L141.7 261L141.7 262L141.8 263L141.8 264L141.9 265L141.9 266L142 267L142 268L142.1 269L142.2 270L142.2 271L142.3 272L142.3 273L142.4 274L142.4 275L142.5 276L142.5 277L142.6 278L142.6 279" fill="none" stroke="#f2f2ee" stroke-width="0.9" opacity="0.7"/>
<path d="M72.3 236L80.9 234.5M148.1 238L140.6 236.5M74.2 242L82.8 240.5M148.5 244L141 242.5M76.2 248L84.8 246.5M148.9 250L141.4 248.5M78.2 254L86.8 252.5M149.2 256L141.7 254.5M80.3 260L88.9 258.5M149.6 262L142.1 260.5M82.5 266L91.1 264.5M149.9 268L142.4 266.5M84.7 272L93.3 270.5M150.3 274L142.8 272.5M87.1 278L95.7 276.5M150.6 280L143.1 278.5" fill="none" stroke="#f2f2ee" stroke-width="0.8" opacity="0.6"/>
<path d="M37.9 5L37.9 6L37.2 7L36.8 8L37.5 9L36.8 10L37 11L37.1 12L37.7 13L36.9 14L36.5 15L37.4 16L37.3 17L36.9 18L36.2 19L36.3 20L36.5 21L36.7 22L36.2 23L37 24L37 25L37.1 26L37 27L35.7 28L36.5 29L35.8 30L36.9 31L36.6 32L36.6 33L35.8 34L35.6 35L36.7 36L36.4 37L36.4 38L36.2 39L36.6 40L36 41L35.9 42L36 43L35.9 44L36.4 45L36.8 46L35.7 47L35.7 48L36.3 49L36.6 50L35.9 51L36 52L35.8 53L35.8 54L36.4 55L36.7 56L36.7 57L36.1 58L36 59L37.2 60L36.7 61L36.6 62L37 63L37.1 64L36.9 65L36.3 66L37.4 67L36.6 68L36.4 69L36.9 70L37.2 71L37.4 72L36.8 73L37.6 74L37.4 75L37 76L38 77L38 78L38.2 79L37.9 80L37.4 81L38.2 82L38.5 83L38 84L38.6 85L38.8 86L38 87L38.9 88L38.9 89L38.8 90L37.8 91L38.4 92L38.8 93L38.9 94L39.2 95L39.1 96L38.5 97L39.6 98L39.2 99L39.7 100L38.9 101L40.1 102L39.6 103L40 104L40.1 105L40.4 106L39.8 107L39.6 108L40.2 109L40 110L40.7 111L41.2 112L40.8 113L40.6 114L40.7 115L41.4 116L41.8 117L41.2 118L42.3 119L41.8 120L41.8 121L43.2 122L42.8 123L43.5 124L43.1 125L42.8 126L43.2 127L43.6 128L44.1 129L44.5 130L44.7 131L44.8 132L44.4 133L44.9 134L45 135L45.4 136L45.3 137L45.9 138L45.9 139L45.5 140L46.8 141L46.7 142L47.2 143L47.3 144L47.5 145L48 146L47.4 147L47.6 148L47.2 149L48.3 150L48.4 151L48.5 152L49.3 153L48.4 154L48.6 155L49.5 156L49.8 157L49.5 158L49.1 159L49.7 160L50.5 161L50.2 162L50.4 163L50.5 164L51 165L51.1 166L51.5 167L51.9 168L51.9 169L51.6 170L51.6 171L52.6 172L52.8 173L53.2 174L52.4 175L53.5 176L53.8 177L52.9 178L53.5 179L54.1 180L53.7 181L54.9 182L54.4 183L55.2 184L54.9 185L55.1 186L55.4 187L56.1 188L56.7 189L56.3 190L57.2 191L57.1 192L57.8 193L57.7 194L57.8 195L58.1 196L58.3 197L59.5 198L59.4 199L59.4 200L60.8 201L60.8 202L60.3 203L61.6 204L61.8 205L61.9 206L62.3 207L63.3 208L62.9 209L63.6 210L63.9 211L63.9 212L64.2 213L65.1 214L65.3 215L65.4 216L65.8 217L65.8 218L66.9 219L66.2 220L67.4 221L67.4 222L67.4 223L68.3 224L68.6 225L68.2 226L69.1 227L69 228L70.2 229L69.8 230L70.2 231L70.3 232L70.4 233L70.9 234L71.2 235L72.2 236L72.8 237L72.3 238L72.4 239L73.3 240L73.1 241L73.8 242L74.6 243L74.2 244L75.2 245L75.3 246L75 247L75.5 248L76.4 249L76 250L76.5 251L77.3 252L78 253L77.9 254L78.5 255L77.9 256L78.7 257L79 258L80.2 259L79.8 260L80.7 261L80 262L81.1 263L82 264L82.2 265L82.3 266L82.1 267L83.5 268L82.7 269L84.3 270L84.4 271L84.8 272L84.9 273L84.8 274L85.4 275L86.2 276L86.6 277L86.6 278L87.6 279" fill="none" stroke="#ffffff" stroke-width="2.4" opacity="1.0" stroke-linejoin="round"/>
<path d="M35.9 5L36.3 6L35.8 7L36.2 8L37.1 9L36.9 10L35.7 11L35.9 12L35.5 13L36.5 14L36 15L35.5 16L35.7 17L36.7 18L35.7 19L36.2 20L36 21L35.7 22L35.8 23L35.4 24L35 25L35.6 26L35.1 27L35.2 28L34.8 29L36.3 30L35.3 31L34.8 32L34.4 33L34.8 34L36.1 35L35 36L35.6 37L34.8 38L35.6 39L35.2 40L35.8 41L35.4 42L35.1 43L34.9 44L35.5 45L36 46L35.7 47L35.3 48L35 49L36.2 50L36.1 51L34.7 52L35.8 53L36.1 54L35.9 55L36.5 56L36.4 57L35.1 58L36.7 59L35.4 60L35.5 61L36.7 62L35.2 63L35.7 64L36.2 65L35.5 66L35.6 67L36.7 68L36.4 69L36.7 70L36.8 71L37 72L37.1 73L37.1 74L37.4 75L36.5 76L37 77L36.7 78L37.7 79L37.1 80L36.7 81L37.3 82L36.6 83L36.3 84L36.9 85L36.5 86L36.3 87L36.5 88L37.3 89L38 90L36.7 91L37.9 92L37 93L37.8 94L37.5 95L37.9 96L38.5 97L38 98L38 99L38.8 100L37.6 101L38.2 102L39 103L39.4 104L39.8 105L38.5 106L39.4 107L38.9 108L39.8 109L40.3 110L39 111L39.6 112L41 113L40 114L40.7 115L41.2 116L40.3 117L41.5 118L40.1 119L41 120L40.8 121L41.3 122L41.3 123L41.1 124L42.8 125L41.8 126L42.8 127L42.9 128L43.7 129L43.9 130L43.7 131L43 132L44.4 133L43.3 134L45.1 135L44.1 136L44.2 137L44.3 138L44.9 139L45.9 140L46.2 141L46.2 142L46.3 143L45.6 144L45.9 145L46.1 146L46.5 147L47.6 148L48 149L46.3 150L48.3 151L48.4 152L47.6 153L48.3 154" fill="none" stroke="#ffffff" stroke-width="1.2" opacity="0.8" stroke-linejoin="round"/>
<path d="M122.8 5L122.2 6L122.7 7L123.2 8L123.1 9L123.2 10L122.2 11L123 12L122.8 13L123.3 14L122.4 15L122.9 16L122.5 17L123.3 18L123.3 19L122.5 20L122.9 21L122.7 22L123.3 23L123.4 24L122.7 25L123.8 26L123.9 27L123.3 28L123.5 29L123.3 30L123.7 31L123.5 32L123.6 33L124 34L123.4 35L123.6 36L124.2 37L123.6 38L123.4 39L124.5 40L123.6 41L124 42L123.9 43L123.9 44L124.1 45L124.4 46L123.9 47L124.5 48L124 49L124.1 50L124.3 51L124.4 52L124.6 53L124.6 54L125.3 55L125.1 56L125 57L125.4 58L125.4 59L125 60L125.4 61L125.7 62L125.5 63L125.8 64L125.8 65L126.2 66L125.5 67L126 68L126.5 69L126 70L126.6 71L125.7 72L126.5 73L126.1 74L126.8 75L126.5 76L126.7 77L126.5 78L126.6 79L127.4 80L127.3 81L127.3 82L126.8 83L127.2 84L128.1 85L127.3 86L127.8 87L128.1 88L128 89L128.2 90L128.8 91L128.7 92L128.2 93L128.6 94L128.7 95L129.2 96L129.3 97L128.9 98L129.6 99L129.4 100L129.1 101L129.5 102L129.8 103L129.8 104L130.5 105L131 106L131.2 107L131 108L131.4 109L131.2 110L131.5 111L132 112L131.2 113L131.8 114L132 115L132.1 116L132.4 117L132.1 118L133 119L133.5 120L132.9 121L133 122L133.3 123L134 124L133.5 125L134.3 126L133.8 127L134.4 128L134.8 129L134.9 130L134.3 131L135.5 132L135.6 133L135.3 134L135.9 135L135.8 136L135.4 137L135.8 138L136.5 139L136.3 140L135.9 141L136.2 142L136.4 143L137.1 144L137.3 145L137.3 146L137.4 147L138.3 148L137.7 149L138.3 150L137.9 151L138.4 152L138.2 153L138.3 154L138.8 155L138.7 156L139.2 157L139.7 158L139.7 159L140.2 160L140 161L139.7 162L140.6 163L140.4 164L141 165L141.4 166L141.1 167L140.9 168L141.2 169L141.5 170L141.4 171L141.3 172L141.8 173L142.3 174L142.6 175L142.7 176L143 177L143.1 178L142.8 179L143.2 180L142.6 181L143.6 182L143.7 183L143.3 184L143.7 185L143.5 186L144.3 187L144 188L144.5 189L144.8 190L144.7 191L144.4 192L144.4 193L145.2 194L145.3 195L144.5 196L144.8 197L145.4 198L145.5 199L145 200L145.3 201L146 202L145 203L145.3 204L145.9 205L146.3 206L146.4 207L145.9 208L146.4 209L146.7 210L146 211L145.9 212L146 213L146.7 214L146 215L146.6 216L147.1 217L146.3 218L146.9 219L146.9 220L147.5 221L147 222L147.1 223L147.6 224L147.5 225L146.9 226L147.7 227L147.3 228L148.1 229L148.2 230L147.7 231L147.7 232L147.5 233L147.6 234L147.6 235L147.7 236L148.4 237L147.7 238L148.4 239L148.5 240L148.7 241L148.6 242L149.1 243L148.3 244L148.2 245L148.8 246L148.5 247L149.5 248L149.4 249L149.2 250L149.5 251L148.8 252L149.2 253L149.1 254L149.1 255L149.2 256L149.4 257L149.7 258L149 259L149.6 260L149.2 261L150.3 262L149.8 263L149.9 264L149.7 265L150.2 266L150.2 267L150.5 268L150.2 269L149.9 270L150.4 271L149.7 272L150.6 273L150.1 274L150.7 275L150 276L150.6 277L150.2 278L150 279" fill="none" stroke="#ffffff" stroke-width="1.5" opacity="1.0" stroke-linejoin="round"/>
<path d="M125.2 8L125.6 9L124.7 10L124.7 11L124.9 12L125.2 13L124.2 14L124.9 15L125.3 16L125.6 17L125.3 18L126 19" fill="none" stroke="#fff" stroke-width="1.6" opacity="0.8" stroke-linejoin="round" stroke-linecap="round"/>
<path d="M130.2 9L129.4 10L130.5 11L131.3 12L132.2 13L131.2 14L132.6 15L131.8 16L132 17L133 18L133.7 19L133.9 20L134.9 21L133.3 22L134.4 23L134.5 24L134.1 25L136 26L134.4 27L134.9 28L134.5 29L136.1 30L136.2 31L135.1 32L136.5 33L135.5 34L134 35L135.4 36L134.7 37L133.1 38L134 39L131.9 40L132.1 41L131.9 42L132.8 43L130.9 44L130.7 45L129.9 46L131 47L129.1 48L130.3 49L128.8 50L128.9 51L129.4 52L127.7 53L128 54L128 55L127.7 56" fill="none" stroke="#fff" stroke-width="1.3" opacity="0.65" stroke-linejoin="round" stroke-linecap="round"/>
<path d="M131.5 62L131.8 63L131.4 64L131.3 65L131.1 66L131.9 67L131.9 68L132.3 69L131.6 70L132.3 71L132.1 72L132.3 73L132.8 74L132.5 75L132.5 76L132.8 77L132.3 78L133.2 79L132.9 80L132.4 81L132.9 82L133.6 83L133.7 84L133.1 85L133.1 86L134.1 87L133.8 88L134 89L134.8 90L135.7 91L136.4 92L136.1 93L136.6 94L137.2 95L136.8 96L136.7 97L137.3 98L136.5 99L135.6 100L134 101L133.4 102L132.3 103L132.4 104L132 105L131.7 106L131.3 107L131.3 108L131 109L130.6 110L131.5 111L131.4 112" fill="none" stroke="#fff" stroke-width="2.6" opacity="0.95" stroke-linejoin="round" stroke-linecap="round"/>
<path d="M131 112.4C133 118 137 121 141.5 124.5" fill="none" stroke="#fff" stroke-width="2.4" opacity="0.95" stroke-linecap="round"/>
<path d="M146 176L146.7 177L146.6 178L147.9 179L147.4 180L148.8 181L147.6 182L148.5 183L149.3 184L150.1 185L149.9 186L150.7 187L150.3 188L151.1 189L151.6 190L151.5 191L150.8 192L152.2 193L151.2 194L151.9 195L151.8 196L153.2 197L152.3 198L153.4 199L152.4 200L152.8 201L153.8 202L154.4 203L152.9 204L154 205L153.7 206L154.2 207L153.3 208L153.3 209L153.4 210L155 211L154.3 212L154.6 213L153.7 214" fill="none" stroke="#fff" stroke-width="3.3" opacity="0.95" stroke-linejoin="round" stroke-linecap="round"/>
</g>
<g filter="url(#ab4)">
<ellipse cx="69.9" cy="57.2" rx="3.1" ry="3.5" fill="#ccd422" opacity="0.855"/>
<ellipse cx="86.8" cy="57" rx="3.1" ry="3.5" fill="#ccd422" opacity="0.76"/>
<ellipse cx="91.3" cy="8.5" rx="2.7" ry="3.3" fill="#ccd422" opacity="0.4275"/>
<ellipse cx="86.2" cy="37.8" rx="2.7" ry="3.5" fill="#ccd422" opacity="0.285"/>
<ellipse cx="91.3" cy="66.4" rx="2.5" ry="3.5" fill="#ccd422" opacity="0.33249999999999996"/>
<ellipse cx="92.4" cy="102.2" rx="2.1" ry="5.7" fill="#ccd422" opacity="0.9025"/>
<ellipse cx="75" cy="105.5" rx="2.3" ry="4.5" fill="#ccd422" opacity="0.76"/>
<ellipse cx="77.4" cy="120.6" rx="2.3" ry="3.9" fill="#ccd422" opacity="0.76"/>
<ellipse cx="96.4" cy="123.2" rx="2.3" ry="3.5" fill="#ccd422" opacity="0.6649999999999999"/>
<ellipse cx="81.1" cy="133.9" rx="2.2" ry="3.1" fill="#ccd422" opacity="0.76"/>
<ellipse cx="82" cy="143.5" rx="2.1" ry="2.7" fill="#ccd422" opacity="0.76"/>
<ellipse cx="100" cy="144" rx="2.1" ry="2.7" fill="#ccd422" opacity="0.475"/>
<ellipse cx="84.5" cy="151.5" rx="2.1" ry="2.7" fill="#ccd422" opacity="0.8075"/>
<ellipse cx="102" cy="150" rx="2.1" ry="2.7" fill="#ccd422" opacity="0.7124999999999999"/>
<ellipse cx="86" cy="161" rx="2.0" ry="2.7" fill="#ccd422" opacity="0.76"/>
<ellipse cx="104" cy="161" rx="1.9" ry="2.5" fill="#ccd422" opacity="0.57"/>
<ellipse cx="87.5" cy="170.5" rx="1.9" ry="2.5" fill="#ccd422" opacity="0.76"/>
<ellipse cx="105.5" cy="171" rx="1.8" ry="2.5" fill="#ccd422" opacity="0.57"/>
<ellipse cx="70" cy="83" rx="2.5" ry="3.5" fill="#ccd422" opacity="0.2375"/>
<ellipse cx="116" cy="271.6" rx="3.6" ry="3" fill="#e0803e"/><ellipse cx="124.6" cy="269.4" rx="4.2" ry="3.1" fill="#e0803e"/>
</g>
<line x1="82.7" y1="89.3" x2="165.5" y2="4.5" stroke="#fff" stroke-width="1.9" />
<line x1="82.7" y1="114.2" x2="166" y2="114.4" stroke="#fff" stroke-width="1.9" />
<line x1="117" y1="134.4" x2="165" y2="116" stroke="#fff" stroke-width="1.7" />
<line x1="117" y1="172.6" x2="165.2" y2="278.3" stroke="#fff" stroke-width="1.7" />
<line x1="143" y1="172.4" x2="165.2" y2="190.8" stroke="#e8e8e8" stroke-width="0.8" />
<line x1="143.1" y1="134.4" x2="164.8" y2="131.6" stroke="#e8e8e8" stroke-width="0.8" />
<rect x="82.7" y="89.3" width="23.5" height="24.2" fill="none" stroke="#e0b48c" stroke-width="1.5" />
<rect x="116.9" y="134.4" width="26.2" height="38.2" fill="none" stroke="#6f9fe6" stroke-width="1.5" />
<rect x="32.2" y="258.9" width="38.1" height="19.6" fill="#070702" stroke="none" stroke-width="1" />
<rect x="35.5" y="269.2" width="33.5" height="7.8" fill="#2a2a0a" stroke="none" stroke-width="1" />
<text x="51.1" y="267.3" font-size="8.8" text-anchor="middle" fill="#fff" font-weight="normal" font-style="normal" textLength="28" lengthAdjust="spacingAndGlyphs">30 μm</text>
<rect x="38.1" y="272.1" width="29.2" height="3.6" fill="#fff" stroke="none" stroke-width="1" />
</g>
<rect x="165.3" y="3.8" width="108.3" height="109.8" fill="#1b1b13" stroke="none" stroke-width="1" />
<g clip-path="url(#ai1)">
<g filter="url(#ab2)">
<ellipse cx="220.5" cy="68" rx="9" ry="30" fill="#8a9422" opacity="0.6"/><ellipse cx="220.5" cy="68" rx="5.5" ry="26" fill="#b4be2a" opacity="0.6"/>
<ellipse cx="220.8" cy="72" rx="2.6" ry="18" fill="#dce448" opacity="0.55"/>
<rect x="236" y="10" width="12" height="100" fill="#4a5040" stroke="none" stroke-width="1" opacity="0.45"/>
<rect x="250" y="10" width="8" height="100" fill="#203028" stroke="none" stroke-width="1" opacity="0.6"/>
<rect x="168" y="30" width="30" height="70" fill="#2c2e26" stroke="none" stroke-width="1" opacity="0.5"/>
</g>
<line x1="106.2" y1="89.3" x2="273.6" y2="4" stroke="#f0f0f0" stroke-width="0.9" />
</g>
<line x1="106.2" y1="89.3" x2="166" y2="58.5" stroke="#f0f0f0" stroke-width="0.9" />
<rect x="165.3" y="3.8" width="108.3" height="109.8" fill="none" stroke="#e3b48e" stroke-width="1.5" />
<path d="M219.2 43L221.2 90" stroke="#fff" stroke-width="1.3" fill="none"/>
<path d="M218.9 37.2L223 46.5H215.2Z" fill="#fff"/><path d="M221.6 96.2L217.6 87.5H225.4Z" fill="#fff"/>
<path d="M213 64.6H226" stroke="#fff" stroke-width="1.3"/>
<path d="M208.3 64.6L216 60.6V68.6Z" fill="#fff"/><path d="M230.6 64.6L223 60.6V68.6Z" fill="#fff"/>
<text x="221.3" y="24.2" font-size="12.6" text-anchor="middle" fill="#fbfbf5" font-weight="normal" font-style="normal" textLength="95" lengthAdjust="spacingAndGlyphs">Elongation Index</text>
<rect x="168.8" y="96" width="33" height="9" fill="#0c0c06" stroke="none" stroke-width="1" />
<text x="184.3" y="103.6" font-size="9.3" text-anchor="middle" fill="#fff" font-weight="normal" font-style="normal" textLength="28" lengthAdjust="spacingAndGlyphs">10 μm</text>
<rect x="169.3" y="106.4" width="32.7" height="5" fill="#fff" stroke="none" stroke-width="1" />
<rect x="164.4" y="114.2" width="109.2" height="164.5" fill="#0f170f" stroke="none" stroke-width="1" />
<g clip-path="url(#ai2)"><g filter="url(#ab3)">
<rect x="165" y="148" width="12" height="30" fill="#3c443c" stroke="none" stroke-width="1" opacity="0.7"/>
<rect x="165" y="224" width="36" height="3.5" fill="#4a544a" stroke="none" stroke-width="1" opacity="0.55"/>
<rect x="165" y="198" width="30" height="3" fill="#3a443a" stroke="none" stroke-width="1" opacity="0.5"/>
<rect x="168" y="256" width="34" height="4" fill="#5a665a" stroke="none" stroke-width="1" opacity="0.6"/>
<rect x="176" y="120" width="8" height="150" fill="#16281a" stroke="none" stroke-width="1" opacity="0.7"/>
<path d="M246 114L274 114L274 279L268 279Z" fill="#1b3a22" stroke="none" stroke-width="0.5" />
<path d="M256 114L268 114L274 150L274 230Z" fill="#2d5634" stroke="none" stroke-width="0.5" opacity="0.75"/>
<path d="M182.4 114L236.7 114L254.4 279L205.5 279Z" fill="#f21c1c" stroke="none" stroke-width="0.5" />
<path d="M191.9 114L225.7 114L229.2 146.5L196.4 146.5Z" fill="#6e0808" stroke="none" stroke-width="0.5" />
<path d="M196.4 117L220.7 117L224.2 143.5L200.9 143.5Z" fill="#560505" stroke="none" stroke-width="0.5" opacity="0.8"/>
<path d="M196.9 150L229.6 150L234.8 199.2L203.8 199.2Z" fill="#6e0808" stroke="none" stroke-width="0.5" />
<path d="M201.4 153L224.6 153L229.8 196.2L208.3 196.2Z" fill="#560505" stroke="none" stroke-width="0.5" opacity="0.8"/>
<path d="M204.4 203L235.2 203L239.7 245L210.2 245Z" fill="#6e0808" stroke="none" stroke-width="0.5" />
<path d="M208.9 206L230.2 206L234.7 242L214.7 242Z" fill="#560505" stroke="none" stroke-width="0.5" opacity="0.8"/>
<path d="M210.8 249L240.2 249L243.4 279L215 279Z" fill="#6e0808" stroke="none" stroke-width="0.5" />
<path d="M215.3 252L235.2 252L238.4 276L219.5 276Z" fill="#560505" stroke="none" stroke-width="0.5" opacity="0.8"/>
<line x1="181.2" y1="148.2" x2="243.4" y2="148.2" stroke="#ffb0b0" stroke-width="1.4" opacity="0.75"/>
<line x1="199.2" y1="148.2" x2="228.4" y2="148.2" stroke="#ffe0e0" stroke-width="1.4" opacity="0.8"/>
<line x1="188.6" y1="201.1" x2="249" y2="201.1" stroke="#ffb0b0" stroke-width="1.4" opacity="0.75"/>
<line x1="206.6" y1="201.1" x2="234" y2="201.1" stroke="#ffe0e0" stroke-width="1.4" opacity="0.8"/>
<line x1="195" y1="247" x2="254" y2="247" stroke="#ffb0b0" stroke-width="1.4" opacity="0.75"/>
<line x1="213" y1="247" x2="239" y2="247" stroke="#ffe0e0" stroke-width="1.4" opacity="0.8"/>
<path d="M239.1 114L249.7 114L280.2 279L260.2 279Z" fill="#8a9a8c" stroke="none" stroke-width="0.5" opacity="0.55"/>
<path d="M238.1 114L242.2 114L272.2 279L259.2 279Z" fill="#f6f8f4" stroke="none" stroke-width="0.5" />
</g>
</g>
<rect x="164.4" y="114.2" width="109.2" height="164.5" fill="none" stroke="#6f9fe6" stroke-width="1.6" />
<path d="M212.3 148L229.9 278.5" stroke="#fff" stroke-width="1.25" fill="none"/>
<line x1="207.6" y1="147.4" x2="216.6" y2="147.4" stroke="#fff" stroke-width="1" />
<line x1="215.8" y1="201.1" x2="225" y2="201.1" stroke="#fff" stroke-width="0.9" />
<line x1="222.3" y1="247" x2="231.6" y2="247" stroke="#fff" stroke-width="0.9" />
<path d="M212.3 147.6L208.7 156.3L218.1 156.3Z" fill="#fff"/>
<path d="M219.5 200.9L213.7 192.2L223.1 192.2Z" fill="#fff"/>
<path d="M219.6 201.3L216 210L225.4 210Z" fill="#fff"/>
<path d="M225.7 246.8L219.9 238.1L229.3 238.1Z" fill="#fff"/>
<path d="M225.8 247.2L222.2 255.9L231.6 255.9Z" fill="#fff"/>
<text x="210.7" y="126.5" font-size="12.2" text-anchor="middle" fill="#fbfbf5" font-weight="normal" font-style="normal" textLength="58.5" lengthAdjust="spacingAndGlyphs">Epidermal</text>
<text x="210.9" y="143.3" font-size="12.2" text-anchor="middle" fill="#fbfbf5" font-weight="normal" font-style="normal" textLength="63.5" lengthAdjust="spacingAndGlyphs">Cell Length</text>
<rect x="166" y="262.2" width="36.5" height="10" fill="#0a0a04" stroke="none" stroke-width="1" />
<text x="184.2" y="269.6" font-size="9.3" text-anchor="middle" fill="#fff" font-weight="normal" font-style="normal" textLength="29" lengthAdjust="spacingAndGlyphs">10 μm</text>
<rect x="166" y="272.2" width="36" height="5.1" fill="#fff" stroke="none" stroke-width="1" />
<text x="4" y="23.5" font-size="14" text-anchor="start" fill="#000" font-weight="bold" font-style="normal" >a</text>
<rect x="58.9" y="297" width="2.2" height="1.3" fill="#111" stroke="none" stroke-width="1" /></g>
<g><line x1="428.1" y1="16" x2="428.1" y2="119.2" stroke="#dcdcdc" stroke-width="0.8" />
<line x1="506.7" y1="16" x2="506.7" y2="119.2" stroke="#dcdcdc" stroke-width="0.8" />
<line x1="585.2" y1="16" x2="585.2" y2="119.2" stroke="#dcdcdc" stroke-width="0.8" />
<line x1="349.6" y1="67.6" x2="663.7" y2="67.6" stroke="#dcdcdc" stroke-width="0.8" />
<line x1="349.6" y1="16" x2="663.7" y2="16" stroke="#dcdcdc" stroke-width="0.8" />
<line x1="663.7" y1="16" x2="663.7" y2="119.2" stroke="#dcdcdc" stroke-width="0.8" />
<line x1="349.6" y1="16" x2="349.6" y2="119.2" stroke="#333" stroke-width="1" />
<line x1="349.6" y1="119.2" x2="663.7" y2="119.2" stroke="#333" stroke-width="1" />
<line x1="349.6" y1="119.2" x2="349.6" y2="116.2" stroke="#333" stroke-width="1" />
<line x1="428.1" y1="119.2" x2="428.1" y2="116.2" stroke="#333" stroke-width="1" />
<line x1="506.7" y1="119.2" x2="506.7" y2="116.2" stroke="#333" stroke-width="1" />
<line x1="585.2" y1="119.2" x2="585.2" y2="116.2" stroke="#333" stroke-width="1" />
<line x1="663.7" y1="119.2" x2="663.7" y2="116.2" stroke="#333" stroke-width="1" />
<line x1="349.6" y1="119.2" x2="352.6" y2="119.2" stroke="#333" stroke-width="1" />
<line x1="349.6" y1="67.6" x2="352.6" y2="67.6" stroke="#333" stroke-width="1" />
<line x1="349.6" y1="16" x2="352.6" y2="16" stroke="#333" stroke-width="1" />
<text x="344.5" y="122.7" font-size="10.1" text-anchor="end" fill="#333" font-weight="normal" font-style="normal" >0</text>
<text x="344.5" y="71.1" font-size="10.1" text-anchor="end" fill="#333" font-weight="normal" font-style="normal" >5</text>
<text x="344.5" y="19.5" font-size="10.1" text-anchor="end" fill="#333" font-weight="normal" font-style="normal" >10</text>
<text x="349.6" y="135" font-size="10.1" text-anchor="middle" fill="#333" font-weight="normal" font-style="normal" >100</text>
<text x="428.1" y="135" font-size="10.1" text-anchor="middle" fill="#333" font-weight="normal" font-style="normal" >150</text>
<text x="506.7" y="135" font-size="10.1" text-anchor="middle" fill="#333" font-weight="normal" font-style="normal" >200</text>
<text x="585.2" y="135" font-size="10.1" text-anchor="middle" fill="#333" font-weight="normal" font-style="normal" >250</text>
<text x="663.7" y="135" font-size="10.1" text-anchor="middle" fill="#333" font-weight="normal" font-style="normal" >300</text>
<text transform="translate(326.5 67.5) rotate(-90)" font-size="11.4" text-anchor="middle" fill="#333" font-weight="normal" >Elongation Index</text>
<path d="M418.5 90.4L424.5 96.4M418.5 96.4L424.5 90.4" stroke="#d8a81e" stroke-width="1.9" fill="none"/>
<path d="M442.1 75.8L448.1 81.8M442.1 81.8L448.1 75.8" stroke="#d8a81e" stroke-width="1.9" fill="none"/>
<path d="M447.7 49L453.7 55M447.7 55L453.7 49" stroke="#d8a81e" stroke-width="1.9" fill="none"/>
<path d="M469.6 101.5L475.6 107.5M469.6 107.5L475.6 101.5" stroke="#d8a81e" stroke-width="1.9" fill="none"/>
<path d="M491 42.2L497 48.2M491 48.2L497 42.2" stroke="#d8a81e" stroke-width="1.9" fill="none"/>
<path d="M494.6 74.4L500.6 80.4M494.6 80.4L500.6 74.4" stroke="#d8a81e" stroke-width="1.9" fill="none"/>
<path d="M521.4 72.9L527.4 78.9M521.4 78.9L527.4 72.9" stroke="#d8a81e" stroke-width="1.9" fill="none"/>
<path d="M534.8 42.3L540.8 48.3M534.8 48.3L540.8 42.3" stroke="#d8a81e" stroke-width="1.9" fill="none"/>
<path d="M545.9 51.3L551.9 57.3M545.9 57.3L551.9 51.3" stroke="#d8a81e" stroke-width="1.9" fill="none"/>
<line x1="350.6" y1="44.6" x2="486.5" y2="44.6" stroke="#111" stroke-width="1.5" stroke-dasharray="6.5 3.2"/>
<circle cx="493.9" cy="44.7" r="6.9" fill="none" stroke="#111" stroke-width="1.5"/>
<line x1="494.3" y1="51.6" x2="494.3" y2="231.2" stroke="#111" stroke-width="1.4" />
<line x1="428.1" y1="162" x2="428.1" y2="264" stroke="#dcdcdc" stroke-width="0.8" />
<line x1="506.7" y1="162" x2="506.7" y2="264" stroke="#dcdcdc" stroke-width="0.8" />
<line x1="585.2" y1="162" x2="585.2" y2="264" stroke="#dcdcdc" stroke-width="0.8" />
<line x1="349.6" y1="238.5" x2="663.7" y2="238.5" stroke="#dcdcdc" stroke-width="0.8" />
<line x1="349.6" y1="213" x2="663.7" y2="213" stroke="#dcdcdc" stroke-width="0.8" />
<line x1="349.6" y1="187.5" x2="663.7" y2="187.5" stroke="#dcdcdc" stroke-width="0.8" />
<rect x="349.6" y="162" width="314.1" height="102" fill="none" stroke="#444" stroke-width="1" />
<line x1="428.1" y1="264" x2="428.1" y2="261" stroke="#333" stroke-width="1" />
<line x1="428.1" y1="162" x2="428.1" y2="165" stroke="#333" stroke-width="1" />
<line x1="506.7" y1="264" x2="506.7" y2="261" stroke="#333" stroke-width="1" />
<line x1="506.7" y1="162" x2="506.7" y2="165" stroke="#333" stroke-width="1" />
<line x1="585.2" y1="264" x2="585.2" y2="261" stroke="#333" stroke-width="1" />
<line x1="585.2" y1="162" x2="585.2" y2="165" stroke="#333" stroke-width="1" />
<line x1="349.6" y1="238.5" x2="352.6" y2="238.5" stroke="#333" stroke-width="1" />
<line x1="663.7" y1="238.5" x2="660.7" y2="238.5" stroke="#333" stroke-width="1" />
<line x1="349.6" y1="213" x2="352.6" y2="213" stroke="#333" stroke-width="1" />
<line x1="663.7" y1="213" x2="660.7" y2="213" stroke="#333" stroke-width="1" />
<line x1="349.6" y1="187.5" x2="352.6" y2="187.5" stroke="#333" stroke-width="1" />
<line x1="663.7" y1="187.5" x2="660.7" y2="187.5" stroke="#333" stroke-width="1" />
<text x="344.5" y="267.5" font-size="10.1" text-anchor="end" fill="#333" font-weight="normal" font-style="normal" >0</text>
<text x="344.5" y="242" font-size="10.1" text-anchor="end" fill="#333" font-weight="normal" font-style="normal" >20</text>
<text x="344.5" y="216.5" font-size="10.1" text-anchor="end" fill="#333" font-weight="normal" font-style="normal" >40</text>
<text x="344.5" y="191" font-size="10.1" text-anchor="end" fill="#333" font-weight="normal" font-style="normal" >60</text>
<text x="344.5" y="165.5" font-size="10.1" text-anchor="end" fill="#333" font-weight="normal" font-style="normal" >80</text>
<text x="349.6" y="279.5" font-size="10.1" text-anchor="middle" fill="#333" font-weight="normal" font-style="normal" >100</text>
<text x="428.1" y="279.5" font-size="10.1" text-anchor="middle" fill="#333" font-weight="normal" font-style="normal" >150</text>
<text x="506.7" y="279.5" font-size="10.1" text-anchor="middle" fill="#333" font-weight="normal" font-style="normal" >200</text>
<text x="585.2" y="279.5" font-size="10.1" text-anchor="middle" fill="#333" font-weight="normal" font-style="normal" >250</text>
<text x="663.7" y="279.5" font-size="10.1" text-anchor="middle" fill="#333" font-weight="normal" font-style="normal" >300</text>
<text transform="translate(326.5 213) rotate(-90)" font-size="11.4" text-anchor="middle" fill="#333" font-weight="normal" >Epidermal Cell Length (μm)</text>
<text x="506.5" y="295.5" font-size="11.4" text-anchor="middle" fill="#333" font-weight="normal" font-style="normal" >Distance from the QC (μm)</text>
<path d="M349.6 257.2L352.7 257.1L355.9 256.9L359 256.7L362.2 256.5L365.3 256.3L368.4 256.1L371.6 255.8L374.7 255.6L377.9 255.4L381 255.1L384.2 254.9L387.3 254.7L390.4 254.4L393.6 254.1L396.7 253.9L399.9 253.6L403 253.3L406.1 253L409.3 252.7L412.4 252.4L415.6 252.1L418.7 251.8L421.8 251.4L425 251.1L428.1 250.7L431.3 250.4L434.4 250L437.5 249.6L440.7 249.2L443.8 248.8L447 248.4L450.1 248L453.3 247.5L456.4 247.1L459.5 246.6L462.7 246.1L465.8 245.6L469 245.1L472.1 244.6L475.2 244.1L478.4 243.5L481.5 243L484.7 242.4L487.8 241.8L490.9 241.2L494.1 240.6L497.2 239.9L500.4 239.3L503.5 238.6L506.7 237.9L509.8 237.2L512.9 236.5L516.1 235.7L519.2 234.9L522.4 234.1L525.5 233.3L528.6 232.5L531.8 231.6L534.9 230.7L538.1 229.8L541.2 228.9L544.3 227.9L547.5 226.9L550.6 225.9L553.8 224.9L556.9 223.8L560 222.7L563.2 221.6L566.3 220.4L569.5 219.2L572.6 218L575.8 216.7L578.9 215.4L582 214.1L585.2 212.7L588.3 211.3L591.5 209.9L594.6 208.4L597.7 206.9L600.9 205.3L604 203.7L607.2 202.1L610.3 200.4L613.4 198.6L616.6 196.8L619.7 195L622.9 193.1L626 191.2L629.1 189.2L632.3 187.1L635.4 185L638.6 182.9L641.7 180.6L644.9 178.3L648 176L651.1 173.6L654.3 171.1L657.4 168.6L660.6 166L663.7 163.3" fill="none" stroke="#d4622e" stroke-width="0.9"/>
<path d="M359.9 243.7L365.7 249.5M359.9 249.5L365.7 243.7" stroke="#e8201c" stroke-width="1.9" fill="none"/>
<path d="M374.5 255.1L380.3 260.9M374.5 260.9L380.3 255.1" stroke="#e8201c" stroke-width="1.9" fill="none"/>
<path d="M390.5 242.2L396.3 248M390.5 248L396.3 242.2" stroke="#e8201c" stroke-width="1.9" fill="none"/>
<path d="M408.6 251.8L414.4 257.6M408.6 257.6L414.4 251.8" stroke="#e8201c" stroke-width="1.9" fill="none"/>
<path d="M424.7 245.1L430.5 250.9M424.7 250.9L430.5 245.1" stroke="#e8201c" stroke-width="1.9" fill="none"/>
<path d="M444.3 247.2L450.1 253M444.3 253L450.1 247.2" stroke="#e8201c" stroke-width="1.9" fill="none"/>
<path d="M460.3 248.6L466.1 254.4M460.3 254.4L466.1 248.6" stroke="#e8201c" stroke-width="1.9" fill="none"/>
<path d="M477 247.2L482.8 253M477 253L482.8 247.2" stroke="#e8201c" stroke-width="1.9" fill="none"/>
<path d="M499.1 239.9L504.9 245.7M499.1 245.7L504.9 239.9" stroke="#e8201c" stroke-width="1.9" fill="none"/>
<path d="M526.2 237.8L532 243.6M526.2 243.6L532 237.8" stroke="#e8201c" stroke-width="1.9" fill="none"/>
<path d="M561.2 226.7L567 232.5M561.2 232.5L567 226.7" stroke="#e8201c" stroke-width="1.9" fill="none"/>
<path d="M642.1 165.1L647.9 170.9M642.1 170.9L647.9 165.1" stroke="#e8201c" stroke-width="1.9" fill="none"/>
<line x1="350.6" y1="238.3" x2="489.5" y2="238.3" stroke="#111" stroke-width="1.5" stroke-dasharray="6.5 3.2"/>
<circle cx="497.2" cy="238.2" r="6.9" fill="none" stroke="#111" stroke-width="1.5"/>
<text x="297.5" y="19.5" font-size="14" text-anchor="start" fill="#000" font-weight="bold" font-style="normal" >b</text>
<text x="297.5" y="168.5" font-size="14" text-anchor="start" fill="#000" font-weight="bold" font-style="normal" >c</text></g>
<g><line x1="39.8" y1="325.3" x2="39.8" y2="548.1" stroke="#111" stroke-width="1.7" />
<line x1="39" y1="547.3" x2="343.5" y2="547.3" stroke="#111" stroke-width="1.7" />
<line x1="35.2" y1="547.3" x2="39.8" y2="547.3" stroke="#111" stroke-width="1.3" />
<text x="33.6" y="550" font-size="7.6" text-anchor="end" fill="#111" font-weight="bold" font-style="normal" >0</text>
<line x1="35.2" y1="492" x2="39.8" y2="492" stroke="#111" stroke-width="1.3" />
<text x="33.6" y="494.7" font-size="7.6" text-anchor="end" fill="#111" font-weight="bold" font-style="normal" >1</text>
<line x1="35.2" y1="436.7" x2="39.8" y2="436.7" stroke="#111" stroke-width="1.3" />
<text x="33.6" y="439.4" font-size="7.6" text-anchor="end" fill="#111" font-weight="bold" font-style="normal" >2</text>
<line x1="35.2" y1="381.4" x2="39.8" y2="381.4" stroke="#111" stroke-width="1.3" />
<text x="33.6" y="384.1" font-size="7.6" text-anchor="end" fill="#111" font-weight="bold" font-style="normal" >3</text>
<line x1="35.2" y1="326.1" x2="39.8" y2="326.1" stroke="#111" stroke-width="1.3" />
<text x="33.6" y="328.8" font-size="7.6" text-anchor="end" fill="#111" font-weight="bold" font-style="normal" >4</text>
<line x1="144.3" y1="364.6" x2="144.3" y2="547.3" stroke="#333" stroke-width="0.9" />
<line x1="239.6" y1="364.6" x2="239.6" y2="547.3" stroke="#333" stroke-width="0.9" />
<rect x="56.2" y="474" width="31.4" height="35" fill="#a3a3a3" stroke="#1a1a1a" stroke-width="1.5" /><line x1="56.2" y1="493.1" x2="87.6" y2="493.1" stroke="#1a1a1a" stroke-width="1.5" /><line x1="71.5" y1="425" x2="71.5" y2="474" stroke="#1a1a1a" stroke-width="2.4" /><line x1="71.5" y1="509" x2="71.5" y2="546.4" stroke="#1a1a1a" stroke-width="2.4" /><line x1="71.5" y1="474" x2="71.5" y2="509" stroke="#1a1a1a" stroke-width="2.1" stroke-dasharray="1.4 0.8" opacity="0.85"/><line x1="63.7" y1="425" x2="79.3" y2="425" stroke="#1a1a1a" stroke-width="1.5" /><line x1="63.7" y1="546.4" x2="79.3" y2="546.4" stroke="#1a1a1a" stroke-width="1.5" /><path d="M70.7 433.6h1.35v1.35h-1.35zM72 439.3h1.35v1.35h-1.35zM69.7 441.3h1.35v1.35h-1.35zM72.3 444.2h1.35v1.35h-1.35zM70.1 445.9h1.35v1.35h-1.35zM70.7 447.5h1.35v1.35h-1.35zM72.3 448.1h1.35v1.35h-1.35zM70.4 450h1.35v1.35h-1.35zM71 451.6h1.35v1.35h-1.35zM72.5 451.8h1.35v1.35h-1.35zM74.8 451.6h1.35v1.35h-1.35zM69.5 453.9h1.35v1.35h-1.35zM73.4 453.9h1.35v1.35h-1.35zM75.2 454h1.35v1.35h-1.35zM68.9 456.1h1.35v1.35h-1.35zM72.4 456h1.35v1.35h-1.35zM71.5 458.3h1.35v1.35h-1.35zM73.1 457.9h1.35v1.35h-1.35zM68.2 459.9h1.35v1.35h-1.35zM71.8 459.9h1.35v1.35h-1.35zM66.8 462.6h1.35v1.35h-1.35zM68.8 462.1h1.35v1.35h-1.35zM70.5 461.9h1.35v1.35h-1.35zM74.5 461.8h1.35v1.35h-1.35zM68.3 463.8h1.35v1.35h-1.35zM72.3 463.9h1.35v1.35h-1.35zM66.5 466.4h1.35v1.35h-1.35zM68.1 466h1.35v1.35h-1.35zM72 466.8h1.35v1.35h-1.35zM74 466.2h1.35v1.35h-1.35zM69 468.8h1.35v1.35h-1.35zM71.2 468.1h1.35v1.35h-1.35zM73.2 467.9h1.35v1.35h-1.35zM75.1 468.8h1.35v1.35h-1.35zM63.7 470.9h1.35v1.35h-1.35zM65.7 470.7h1.35v1.35h-1.35zM67.6 470.6h1.35v1.35h-1.35zM69.2 470.4h1.35v1.35h-1.35zM71.2 470h1.35v1.35h-1.35zM73 470.2h1.35v1.35h-1.35zM75.1 470.6h1.35v1.35h-1.35zM77.4 470.4h1.35v1.35h-1.35zM62.3 472.6h1.35v1.35h-1.35zM63.7 472.8h1.35v1.35h-1.35zM67.8 472.6h1.35v1.35h-1.35zM70 472.1h1.35v1.35h-1.35zM71.7 472.7h1.35v1.35h-1.35zM73.5 472.8h1.35v1.35h-1.35zM75.6 472.6h1.35v1.35h-1.35zM77.4 472.9h1.35v1.35h-1.35zM79.7 472.4h1.35v1.35h-1.35zM62.4 474.8h1.35v1.35h-1.35zM64.8 474.7h1.35v1.35h-1.35zM66.4 474.6h1.35v1.35h-1.35zM68.2 474.1h1.35v1.35h-1.35zM70.7 474.7h1.35v1.35h-1.35zM78.2 474.9h1.35v1.35h-1.35zM80.1 474.9h1.35v1.35h-1.35zM64.3 476.2h1.35v1.35h-1.35zM66.2 476.9h1.35v1.35h-1.35zM68.1 476.9h1.35v1.35h-1.35zM69.9 476.9h1.35v1.35h-1.35zM72.1 476.2h1.35v1.35h-1.35zM73.6 476.6h1.35v1.35h-1.35zM76 476.8h1.35v1.35h-1.35zM79.7 476.8h1.35v1.35h-1.35zM66.3 478.6h1.35v1.35h-1.35zM68.4 479h1.35v1.35h-1.35zM73.8 478.3h1.35v1.35h-1.35zM75.8 478.3h1.35v1.35h-1.35zM65.3 480.7h1.35v1.35h-1.35zM67.3 481.1h1.35v1.35h-1.35zM71.3 481h1.35v1.35h-1.35zM73.4 480.5h1.35v1.35h-1.35zM77.1 481.1h1.35v1.35h-1.35zM79.2 480.3h1.35v1.35h-1.35zM65.3 482.4h1.35v1.35h-1.35zM67.5 483.1h1.35v1.35h-1.35zM71.4 482.6h1.35v1.35h-1.35zM75 482.4h1.35v1.35h-1.35zM65.6 484.7h1.35v1.35h-1.35zM69.2 484.6h1.35v1.35h-1.35zM71 484.7h1.35v1.35h-1.35zM73 484.7h1.35v1.35h-1.35zM75.2 484.7h1.35v1.35h-1.35zM79 484.6h1.35v1.35h-1.35zM62.8 487h1.35v1.35h-1.35zM64.8 486.7h1.35v1.35h-1.35zM66.5 486.8h1.35v1.35h-1.35zM68.5 486.7h1.35v1.35h-1.35zM70.3 487.1h1.35v1.35h-1.35zM74.1 487.2h1.35v1.35h-1.35zM76.1 486.4h1.35v1.35h-1.35zM78 486.6h1.35v1.35h-1.35zM80.2 486.6h1.35v1.35h-1.35zM63.9 489.1h1.35v1.35h-1.35zM68.4 489.3h1.35v1.35h-1.35zM69.9 488.6h1.35v1.35h-1.35zM72.3 489h1.35v1.35h-1.35zM75.9 488.6h1.35v1.35h-1.35zM62.3 491h1.35v1.35h-1.35zM65.9 490.9h1.35v1.35h-1.35zM70.2 490.6h1.35v1.35h-1.35zM72.1 490.9h1.35v1.35h-1.35zM73.8 491.2h1.35v1.35h-1.35zM75.7 490.9h1.35v1.35h-1.35zM61.7 493.1h1.35v1.35h-1.35zM63.8 493h1.35v1.35h-1.35zM66.1 493.1h1.35v1.35h-1.35zM67.9 492.6h1.35v1.35h-1.35zM69.5 492.8h1.35v1.35h-1.35zM71.4 492.9h1.35v1.35h-1.35zM73.5 493.4h1.35v1.35h-1.35zM75.5 492.6h1.35v1.35h-1.35zM77.8 492.7h1.35v1.35h-1.35zM79.3 492.8h1.35v1.35h-1.35zM63.3 494.9h1.35v1.35h-1.35zM65.3 494.6h1.35v1.35h-1.35zM69.3 494.8h1.35v1.35h-1.35zM71.4 495.1h1.35v1.35h-1.35zM73.5 495.2h1.35v1.35h-1.35zM62.9 497.1h1.35v1.35h-1.35zM64.9 496.6h1.35v1.35h-1.35zM66.8 497.3h1.35v1.35h-1.35zM68.8 497.5h1.35v1.35h-1.35zM70.7 496.7h1.35v1.35h-1.35zM72.3 497.2h1.35v1.35h-1.35zM74.8 497h1.35v1.35h-1.35zM76.4 496.7h1.35v1.35h-1.35zM78.1 497.1h1.35v1.35h-1.35zM80.2 496.9h1.35v1.35h-1.35zM61.3 498.9h1.35v1.35h-1.35zM63.7 498.9h1.35v1.35h-1.35zM67.6 499.6h1.35v1.35h-1.35zM69.4 499h1.35v1.35h-1.35zM71.3 499.3h1.35v1.35h-1.35zM77.4 499.2h1.35v1.35h-1.35zM79.2 498.7h1.35v1.35h-1.35zM64 501.6h1.35v1.35h-1.35zM65.7 500.9h1.35v1.35h-1.35zM71.8 501.4h1.35v1.35h-1.35zM75.5 501.1h1.35v1.35h-1.35zM77.8 501.6h1.35v1.35h-1.35zM62.1 503.6h1.35v1.35h-1.35zM63.5 502.9h1.35v1.35h-1.35zM65.9 503h1.35v1.35h-1.35zM67.6 503.3h1.35v1.35h-1.35zM71.7 503h1.35v1.35h-1.35zM75.3 503.1h1.35v1.35h-1.35zM77.4 503.6h1.35v1.35h-1.35zM79.3 502.9h1.35v1.35h-1.35zM61.6 505.2h1.35v1.35h-1.35zM63.9 505h1.35v1.35h-1.35zM65.3 505.5h1.35v1.35h-1.35zM67.4 504.9h1.35v1.35h-1.35zM69.5 505.6h1.35v1.35h-1.35zM71.2 505.7h1.35v1.35h-1.35zM73.6 505.6h1.35v1.35h-1.35zM75.3 504.9h1.35v1.35h-1.35zM77.4 505.4h1.35v1.35h-1.35zM79.1 505.7h1.35v1.35h-1.35zM62.2 507.5h1.35v1.35h-1.35zM64.4 507.6h1.35v1.35h-1.35zM68.4 507.1h1.35v1.35h-1.35zM71.9 507.7h1.35v1.35h-1.35zM73.9 507.3h1.35v1.35h-1.35zM78 507.1h1.35v1.35h-1.35zM80.1 507.8h1.35v1.35h-1.35zM61.8 509.4h1.35v1.35h-1.35zM63.3 509.7h1.35v1.35h-1.35zM69.6 509.3h1.35v1.35h-1.35zM71.1 509.1h1.35v1.35h-1.35zM73 509.2h1.35v1.35h-1.35zM74.9 509.1h1.35v1.35h-1.35zM77 509.4h1.35v1.35h-1.35zM62.1 511.3h1.35v1.35h-1.35zM64.1 511.5h1.35v1.35h-1.35zM66.1 511.7h1.35v1.35h-1.35zM67.7 511.8h1.35v1.35h-1.35zM69.8 511.6h1.35v1.35h-1.35zM71.8 511.3h1.35v1.35h-1.35zM73.9 511.8h1.35v1.35h-1.35zM75.5 511.4h1.35v1.35h-1.35zM77.8 511.7h1.35v1.35h-1.35zM79.9 511.4h1.35v1.35h-1.35zM66.3 513.2h1.35v1.35h-1.35zM72.6 513.1h1.35v1.35h-1.35zM74.5 513.7h1.35v1.35h-1.35zM76.4 513.8h1.35v1.35h-1.35zM66.8 515.3h1.35v1.35h-1.35zM68.4 515.3h1.35v1.35h-1.35zM70.7 515.7h1.35v1.35h-1.35zM74.3 515.1h1.35v1.35h-1.35zM63 517.5h1.35v1.35h-1.35zM65.3 517.7h1.35v1.35h-1.35zM67.2 517.6h1.35v1.35h-1.35zM70.8 517.3h1.35v1.35h-1.35zM75.1 517.8h1.35v1.35h-1.35zM66.6 520h1.35v1.35h-1.35zM72.2 519.2h1.35v1.35h-1.35zM74.2 519.6h1.35v1.35h-1.35zM65.8 521.9h1.35v1.35h-1.35zM69.7 521.6h1.35v1.35h-1.35zM71.7 522h1.35v1.35h-1.35zM73.5 521.8h1.35v1.35h-1.35zM65.2 523.5h1.35v1.35h-1.35zM69.5 523.4h1.35v1.35h-1.35zM70.9 523.3h1.35v1.35h-1.35zM75 524.1h1.35v1.35h-1.35zM65.6 526h1.35v1.35h-1.35zM67.1 525.9h1.35v1.35h-1.35zM69.2 525.7h1.35v1.35h-1.35zM75 525.5h1.35v1.35h-1.35zM71.9 527.9h1.35v1.35h-1.35zM70.2 529.6h1.35v1.35h-1.35zM72.1 529.8h1.35v1.35h-1.35zM70.9 532.2h1.35v1.35h-1.35zM70 533.6h1.35v1.35h-1.35z" fill="#111"/>
<line x1="71.5" y1="547.3" x2="71.5" y2="551.9" stroke="#111" stroke-width="1.3" />
<rect x="103.7" y="469.4" width="31.2" height="43.9" fill="#fff" stroke="#1a1a1a" stroke-width="1.5" /><line x1="103.7" y1="490.1" x2="134.9" y2="490.1" stroke="#1a1a1a" stroke-width="1.5" /><line x1="119.3" y1="402" x2="119.3" y2="469.4" stroke="#1a1a1a" stroke-width="2.4" /><line x1="119.3" y1="513.3" x2="119.3" y2="546.4" stroke="#1a1a1a" stroke-width="2.4" /><line x1="119.3" y1="469.4" x2="119.3" y2="513.3" stroke="#1a1a1a" stroke-width="2.1" stroke-dasharray="1.4 0.8" opacity="0.85"/><line x1="111.5" y1="402" x2="127.1" y2="402" stroke="#1a1a1a" stroke-width="1.5" /><line x1="111.5" y1="546.4" x2="127.1" y2="546.4" stroke="#1a1a1a" stroke-width="1.5" /><path d="M117.6 414.3h1.35v1.35h-1.35zM119.6 417.1h1.35v1.35h-1.35zM119.6 418.7h1.35v1.35h-1.35zM116 421.1h1.35v1.35h-1.35zM119.8 420.8h1.35v1.35h-1.35zM119.3 422.7h1.35v1.35h-1.35zM116.9 424.7h1.35v1.35h-1.35zM117.8 426.9h1.35v1.35h-1.35zM120.2 429h1.35v1.35h-1.35zM114 431.1h1.35v1.35h-1.35zM116.4 430.7h1.35v1.35h-1.35zM117.9 431h1.35v1.35h-1.35zM116 433.2h1.35v1.35h-1.35zM119.7 433h1.35v1.35h-1.35zM118.9 435.5h1.35v1.35h-1.35zM115.2 437.4h1.35v1.35h-1.35zM117.3 436.8h1.35v1.35h-1.35zM119 437.1h1.35v1.35h-1.35zM121.2 437.3h1.35v1.35h-1.35zM119.3 439.1h1.35v1.35h-1.35zM115 441.5h1.35v1.35h-1.35zM116.9 441.2h1.35v1.35h-1.35zM118.7 441.7h1.35v1.35h-1.35zM120.6 441h1.35v1.35h-1.35zM118.4 442.9h1.35v1.35h-1.35zM120.5 443.5h1.35v1.35h-1.35zM113.3 445.1h1.35v1.35h-1.35zM119.1 445.3h1.35v1.35h-1.35zM121.4 445.6h1.35v1.35h-1.35zM123.4 445.2h1.35v1.35h-1.35zM125.4 445h1.35v1.35h-1.35zM112.3 447.5h1.35v1.35h-1.35zM114.1 447.2h1.35v1.35h-1.35zM119.8 447.5h1.35v1.35h-1.35zM121.5 447.8h1.35v1.35h-1.35zM123.5 447.3h1.35v1.35h-1.35zM115.4 449.6h1.35v1.35h-1.35zM117.2 449.4h1.35v1.35h-1.35zM119.2 449.8h1.35v1.35h-1.35zM114.5 451.1h1.35v1.35h-1.35zM117 451.5h1.35v1.35h-1.35zM118.6 451.6h1.35v1.35h-1.35zM120.8 451.8h1.35v1.35h-1.35zM122.7 451.4h1.35v1.35h-1.35zM124.2 451.4h1.35v1.35h-1.35zM112.4 453.8h1.35v1.35h-1.35zM114.3 453.8h1.35v1.35h-1.35zM122.5 453.7h1.35v1.35h-1.35zM124.4 453.1h1.35v1.35h-1.35zM125.9 453.7h1.35v1.35h-1.35zM111.5 455.4h1.35v1.35h-1.35zM113.3 455.7h1.35v1.35h-1.35zM115.6 455.6h1.35v1.35h-1.35zM121 456h1.35v1.35h-1.35zM125.1 455.7h1.35v1.35h-1.35zM127.1 455.4h1.35v1.35h-1.35zM114.3 457.9h1.35v1.35h-1.35zM116.2 457.7h1.35v1.35h-1.35zM120.4 457.5h1.35v1.35h-1.35zM122.5 457.7h1.35v1.35h-1.35zM124.3 458h1.35v1.35h-1.35zM116.6 459.6h1.35v1.35h-1.35zM118.7 459.7h1.35v1.35h-1.35zM122.2 459.9h1.35v1.35h-1.35zM124.1 460h1.35v1.35h-1.35zM126.2 459.9h1.35v1.35h-1.35zM107.2 461.4h1.35v1.35h-1.35zM110.7 461.9h1.35v1.35h-1.35zM112.5 461.3h1.35v1.35h-1.35zM114.7 461.4h1.35v1.35h-1.35zM116.6 461.5h1.35v1.35h-1.35zM120.6 461.9h1.35v1.35h-1.35zM122.4 461.9h1.35v1.35h-1.35zM126.4 461.4h1.35v1.35h-1.35zM128.7 461.5h1.35v1.35h-1.35zM130.1 461.4h1.35v1.35h-1.35zM108.1 463.9h1.35v1.35h-1.35zM112 463.8h1.35v1.35h-1.35zM115.7 463.4h1.35v1.35h-1.35zM117.6 463.4h1.35v1.35h-1.35zM119.6 463.5h1.35v1.35h-1.35zM123.9 463.5h1.35v1.35h-1.35zM125.7 464h1.35v1.35h-1.35zM129.3 463.7h1.35v1.35h-1.35zM108.9 465.9h1.35v1.35h-1.35zM112.7 465.8h1.35v1.35h-1.35zM116.6 466.2h1.35v1.35h-1.35zM120.2 466h1.35v1.35h-1.35zM124.2 466.3h1.35v1.35h-1.35zM126.2 466h1.35v1.35h-1.35zM128.1 466.2h1.35v1.35h-1.35zM130.5 466.3h1.35v1.35h-1.35zM115.3 467.7h1.35v1.35h-1.35zM119.1 467.5h1.35v1.35h-1.35zM120.7 467.7h1.35v1.35h-1.35zM122.9 468.3h1.35v1.35h-1.35zM124.9 467.8h1.35v1.35h-1.35zM126.9 467.8h1.35v1.35h-1.35zM108.5 470.2h1.35v1.35h-1.35zM116.4 469.8h1.35v1.35h-1.35zM120.1 470.1h1.35v1.35h-1.35zM121.9 470.3h1.35v1.35h-1.35zM123.9 469.5h1.35v1.35h-1.35zM125.9 470.4h1.35v1.35h-1.35zM128 469.7h1.35v1.35h-1.35zM129.7 469.6h1.35v1.35h-1.35zM106.2 471.6h1.35v1.35h-1.35zM108.6 472.3h1.35v1.35h-1.35zM110.4 472.3h1.35v1.35h-1.35zM112.3 471.8h1.35v1.35h-1.35zM114 471.7h1.35v1.35h-1.35zM116.3 471.8h1.35v1.35h-1.35zM118 472h1.35v1.35h-1.35zM119.8 471.8h1.35v1.35h-1.35zM121.9 472.2h1.35v1.35h-1.35zM125.8 471.9h1.35v1.35h-1.35zM128.1 472h1.35v1.35h-1.35zM130 472.1h1.35v1.35h-1.35zM111.4 474.1h1.35v1.35h-1.35zM113 474h1.35v1.35h-1.35zM115.1 473.9h1.35v1.35h-1.35zM117.2 473.7h1.35v1.35h-1.35zM122.8 473.7h1.35v1.35h-1.35zM125 474.4h1.35v1.35h-1.35zM107.6 476.4h1.35v1.35h-1.35zM109.5 476h1.35v1.35h-1.35zM111.3 476h1.35v1.35h-1.35zM113.5 475.8h1.35v1.35h-1.35zM115.5 475.7h1.35v1.35h-1.35zM117 475.9h1.35v1.35h-1.35zM119.4 476.1h1.35v1.35h-1.35zM121 476.5h1.35v1.35h-1.35zM122.9 476.1h1.35v1.35h-1.35zM125 476.4h1.35v1.35h-1.35zM127.1 476.3h1.35v1.35h-1.35zM128.8 476h1.35v1.35h-1.35zM130.6 476.4h1.35v1.35h-1.35zM109.5 478.3h1.35v1.35h-1.35zM111.4 478.6h1.35v1.35h-1.35zM113.4 478.3h1.35v1.35h-1.35zM115.1 477.9h1.35v1.35h-1.35zM117.4 478h1.35v1.35h-1.35zM119.4 478.6h1.35v1.35h-1.35zM120.8 478.3h1.35v1.35h-1.35zM122.8 477.9h1.35v1.35h-1.35zM124.7 478h1.35v1.35h-1.35zM126.8 478h1.35v1.35h-1.35zM128.6 478.5h1.35v1.35h-1.35zM130.7 478.5h1.35v1.35h-1.35zM105.9 480.5h1.35v1.35h-1.35zM108.1 480.3h1.35v1.35h-1.35zM110 480.5h1.35v1.35h-1.35zM112 480.4h1.35v1.35h-1.35zM114.1 480.4h1.35v1.35h-1.35zM117.8 480h1.35v1.35h-1.35zM119.5 479.9h1.35v1.35h-1.35zM121.6 480h1.35v1.35h-1.35zM125.7 480.6h1.35v1.35h-1.35zM129.3 480.1h1.35v1.35h-1.35zM106.1 482h1.35v1.35h-1.35zM108.2 482.7h1.35v1.35h-1.35zM110 481.9h1.35v1.35h-1.35zM112 482.3h1.35v1.35h-1.35zM114 482.3h1.35v1.35h-1.35zM115.9 482.6h1.35v1.35h-1.35zM117.8 482.2h1.35v1.35h-1.35zM120 482h1.35v1.35h-1.35zM123.8 482.2h1.35v1.35h-1.35zM125.8 481.9h1.35v1.35h-1.35zM127.8 482.1h1.35v1.35h-1.35zM129.2 482.1h1.35v1.35h-1.35zM109.7 484.1h1.35v1.35h-1.35zM111.8 484.2h1.35v1.35h-1.35zM113.4 484h1.35v1.35h-1.35zM115.7 484.6h1.35v1.35h-1.35zM117.5 484.3h1.35v1.35h-1.35zM119.5 484.1h1.35v1.35h-1.35zM121.6 484.2h1.35v1.35h-1.35zM127.3 484.6h1.35v1.35h-1.35zM131.3 484.3h1.35v1.35h-1.35zM111.1 486.6h1.35v1.35h-1.35zM113.3 486.2h1.35v1.35h-1.35zM115.1 486.2h1.35v1.35h-1.35zM117 486.5h1.35v1.35h-1.35zM118.7 486.7h1.35v1.35h-1.35zM120.7 486.2h1.35v1.35h-1.35zM124.7 486h1.35v1.35h-1.35zM126.8 486.2h1.35v1.35h-1.35zM130.9 486.4h1.35v1.35h-1.35zM106.1 488.7h1.35v1.35h-1.35zM108.1 488.1h1.35v1.35h-1.35zM112.4 488.7h1.35v1.35h-1.35zM113.9 488.8h1.35v1.35h-1.35zM118 488.7h1.35v1.35h-1.35zM120 488.8h1.35v1.35h-1.35zM122.1 488.7h1.35v1.35h-1.35zM125.6 488.6h1.35v1.35h-1.35zM127.8 488.6h1.35v1.35h-1.35zM108.1 490.2h1.35v1.35h-1.35zM110 490.5h1.35v1.35h-1.35zM112 490.8h1.35v1.35h-1.35zM113.6 490.8h1.35v1.35h-1.35zM117.8 490.5h1.35v1.35h-1.35zM121.8 490.8h1.35v1.35h-1.35zM123.6 490.4h1.35v1.35h-1.35zM125.9 490.1h1.35v1.35h-1.35zM129.6 490.6h1.35v1.35h-1.35zM112 492.1h1.35v1.35h-1.35zM117.8 492.6h1.35v1.35h-1.35zM119.5 492.9h1.35v1.35h-1.35zM121.4 492.5h1.35v1.35h-1.35zM123.5 492.8h1.35v1.35h-1.35zM108.6 494.4h1.35v1.35h-1.35zM112.8 494.9h1.35v1.35h-1.35zM116.3 494.3h1.35v1.35h-1.35zM118.4 494.2h1.35v1.35h-1.35zM120.1 494.8h1.35v1.35h-1.35zM124 495h1.35v1.35h-1.35zM127.9 495h1.35v1.35h-1.35zM107.3 496.6h1.35v1.35h-1.35zM111.1 496.2h1.35v1.35h-1.35zM116.8 496.7h1.35v1.35h-1.35zM118.7 496.3h1.35v1.35h-1.35zM122.8 496.8h1.35v1.35h-1.35zM124.9 496.2h1.35v1.35h-1.35zM126.3 496.7h1.35v1.35h-1.35zM128.6 496.3h1.35v1.35h-1.35zM106.1 498.2h1.35v1.35h-1.35zM108.3 498.7h1.35v1.35h-1.35zM110.5 498.7h1.35v1.35h-1.35zM114.2 499h1.35v1.35h-1.35zM116.3 498.6h1.35v1.35h-1.35zM118.2 498.6h1.35v1.35h-1.35zM119.7 498.8h1.35v1.35h-1.35zM122 499.1h1.35v1.35h-1.35zM126 498.4h1.35v1.35h-1.35zM128 498.7h1.35v1.35h-1.35zM129.5 498.6h1.35v1.35h-1.35zM107 501.1h1.35v1.35h-1.35zM108.7 500.9h1.35v1.35h-1.35zM110.9 500.4h1.35v1.35h-1.35zM112.8 500.5h1.35v1.35h-1.35zM114.7 500.7h1.35v1.35h-1.35zM116.7 501.1h1.35v1.35h-1.35zM118.8 500.3h1.35v1.35h-1.35zM120.2 500.3h1.35v1.35h-1.35zM122.7 500.9h1.35v1.35h-1.35zM124.5 500.6h1.35v1.35h-1.35zM126.2 500.8h1.35v1.35h-1.35zM128.6 501h1.35v1.35h-1.35zM130.3 500.6h1.35v1.35h-1.35zM107.5 502.6h1.35v1.35h-1.35zM109.1 503.2h1.35v1.35h-1.35zM111.5 503.1h1.35v1.35h-1.35zM113.2 502.9h1.35v1.35h-1.35zM115.5 503.1h1.35v1.35h-1.35zM117.2 502.6h1.35v1.35h-1.35zM119.1 503.1h1.35v1.35h-1.35zM121 502.9h1.35v1.35h-1.35zM123.1 503.1h1.35v1.35h-1.35zM125.2 502.6h1.35v1.35h-1.35zM126.6 502.6h1.35v1.35h-1.35zM128.8 502.9h1.35v1.35h-1.35zM131 503.1h1.35v1.35h-1.35zM114.8 504.8h1.35v1.35h-1.35zM116.7 505.1h1.35v1.35h-1.35zM118.8 505.3h1.35v1.35h-1.35zM122.5 504.4h1.35v1.35h-1.35zM124.5 505h1.35v1.35h-1.35zM126.7 504.9h1.35v1.35h-1.35zM111.6 506.7h1.35v1.35h-1.35zM113.8 506.7h1.35v1.35h-1.35zM115.5 506.6h1.35v1.35h-1.35zM119.2 506.5h1.35v1.35h-1.35zM125.5 506.7h1.35v1.35h-1.35zM107.2 509h1.35v1.35h-1.35zM111.2 508.9h1.35v1.35h-1.35zM113 508.5h1.35v1.35h-1.35zM119.4 509.3h1.35v1.35h-1.35zM121.1 509h1.35v1.35h-1.35zM122.9 509.2h1.35v1.35h-1.35zM124.9 509.3h1.35v1.35h-1.35zM127.1 509.2h1.35v1.35h-1.35zM129.2 508.7h1.35v1.35h-1.35zM130.6 508.7h1.35v1.35h-1.35zM111.9 510.6h1.35v1.35h-1.35zM115.6 510.9h1.35v1.35h-1.35zM117.3 511.4h1.35v1.35h-1.35zM119.3 511h1.35v1.35h-1.35zM123.4 511.4h1.35v1.35h-1.35zM127.3 510.9h1.35v1.35h-1.35zM105.9 513.3h1.35v1.35h-1.35zM108.3 513.2h1.35v1.35h-1.35zM109.9 513.1h1.35v1.35h-1.35zM112.1 512.7h1.35v1.35h-1.35zM113.8 512.8h1.35v1.35h-1.35zM115.6 513h1.35v1.35h-1.35zM117.6 512.8h1.35v1.35h-1.35zM119.6 513.2h1.35v1.35h-1.35zM121.4 513.2h1.35v1.35h-1.35zM123.5 512.6h1.35v1.35h-1.35zM125.9 512.8h1.35v1.35h-1.35zM127.8 513.4h1.35v1.35h-1.35zM129.8 512.7h1.35v1.35h-1.35zM106.8 514.8h1.35v1.35h-1.35zM108.5 515.4h1.35v1.35h-1.35zM110.5 514.8h1.35v1.35h-1.35zM112.4 514.8h1.35v1.35h-1.35zM114.1 515.1h1.35v1.35h-1.35zM116.3 515.3h1.35v1.35h-1.35zM118.2 514.7h1.35v1.35h-1.35zM120.2 515.1h1.35v1.35h-1.35zM122 515.1h1.35v1.35h-1.35zM124.3 515.3h1.35v1.35h-1.35zM126.4 515.1h1.35v1.35h-1.35zM128.3 514.7h1.35v1.35h-1.35zM130.2 515.5h1.35v1.35h-1.35zM106.8 517.1h1.35v1.35h-1.35zM108.7 517.4h1.35v1.35h-1.35zM111 516.9h1.35v1.35h-1.35zM112.6 516.7h1.35v1.35h-1.35zM114.6 516.9h1.35v1.35h-1.35zM116.4 517.4h1.35v1.35h-1.35zM118.5 516.9h1.35v1.35h-1.35zM120.3 517.2h1.35v1.35h-1.35zM122.6 517.5h1.35v1.35h-1.35zM124.5 517.4h1.35v1.35h-1.35zM126.1 516.8h1.35v1.35h-1.35zM130.3 517.2h1.35v1.35h-1.35zM107.6 519.6h1.35v1.35h-1.35zM109.2 519.1h1.35v1.35h-1.35zM111.6 518.8h1.35v1.35h-1.35zM115.4 518.9h1.35v1.35h-1.35zM117.3 519.6h1.35v1.35h-1.35zM118.9 519.4h1.35v1.35h-1.35zM123.2 519.5h1.35v1.35h-1.35zM128.9 519.6h1.35v1.35h-1.35zM106.3 521h1.35v1.35h-1.35zM107.8 520.9h1.35v1.35h-1.35zM109.8 521.5h1.35v1.35h-1.35zM111.6 520.9h1.35v1.35h-1.35zM114 521h1.35v1.35h-1.35zM115.5 521.3h1.35v1.35h-1.35zM117.8 521.2h1.35v1.35h-1.35zM119.8 520.9h1.35v1.35h-1.35zM121.9 521.4h1.35v1.35h-1.35zM123.3 520.9h1.35v1.35h-1.35zM125.6 521.2h1.35v1.35h-1.35zM127.4 520.9h1.35v1.35h-1.35zM129.4 520.9h1.35v1.35h-1.35zM107.3 523.4h1.35v1.35h-1.35zM110.9 523.7h1.35v1.35h-1.35zM112.9 523.2h1.35v1.35h-1.35zM118.9 523.6h1.35v1.35h-1.35zM121.1 523.6h1.35v1.35h-1.35zM122.9 523.7h1.35v1.35h-1.35zM124.7 523.2h1.35v1.35h-1.35zM126.8 523.1h1.35v1.35h-1.35zM130.5 523.4h1.35v1.35h-1.35zM110.3 525.5h1.35v1.35h-1.35zM112.3 525.3h1.35v1.35h-1.35zM118.2 525.8h1.35v1.35h-1.35zM120.2 524.9h1.35v1.35h-1.35zM122.5 525.8h1.35v1.35h-1.35zM125.8 525.7h1.35v1.35h-1.35zM107.9 527.1h1.35v1.35h-1.35zM111.8 527h1.35v1.35h-1.35zM115.9 527.1h1.35v1.35h-1.35zM121.6 527.8h1.35v1.35h-1.35zM124 527.7h1.35v1.35h-1.35zM125.5 527.5h1.35v1.35h-1.35zM128 527.3h1.35v1.35h-1.35zM114.3 529.2h1.35v1.35h-1.35zM116.1 529.6h1.35v1.35h-1.35zM119.9 529.3h1.35v1.35h-1.35zM122 529.3h1.35v1.35h-1.35zM124.2 529.2h1.35v1.35h-1.35zM113.2 531.9h1.35v1.35h-1.35zM115.1 531.9h1.35v1.35h-1.35zM116.9 531.9h1.35v1.35h-1.35zM122.8 531.3h1.35v1.35h-1.35zM115.6 533.6h1.35v1.35h-1.35zM117.9 533.4h1.35v1.35h-1.35zM118.8 535.3h1.35v1.35h-1.35zM121.3 535.8h1.35v1.35h-1.35zM118.8 537.7h1.35v1.35h-1.35zM118.2 539.9h1.35v1.35h-1.35zM117.3 541.6h1.35v1.35h-1.35z" fill="#111"/>
<line x1="119.3" y1="547.3" x2="119.3" y2="551.9" stroke="#111" stroke-width="1.3" />
<rect x="151.7" y="477.5" width="31.5" height="29.7" fill="#a3a3a3" stroke="#1a1a1a" stroke-width="1.5" /><line x1="151.7" y1="490.9" x2="183.2" y2="490.9" stroke="#1a1a1a" stroke-width="1.5" /><line x1="167.4" y1="438.5" x2="167.4" y2="477.5" stroke="#1a1a1a" stroke-width="2.4" /><line x1="167.4" y1="507.2" x2="167.4" y2="542" stroke="#1a1a1a" stroke-width="2.4" /><line x1="167.4" y1="477.5" x2="167.4" y2="507.2" stroke="#1a1a1a" stroke-width="2.1" stroke-dasharray="1.4 0.8" opacity="0.85"/><line x1="159.6" y1="438.5" x2="175.2" y2="438.5" stroke="#1a1a1a" stroke-width="1.5" /><line x1="159.6" y1="542" x2="175.2" y2="542" stroke="#1a1a1a" stroke-width="1.5" /><path d="M166.5 447h1.35v1.35h-1.35zM165.3 451h1.35v1.35h-1.35zM165.9 453.6h1.35v1.35h-1.35zM167.3 453h1.35v1.35h-1.35zM167.1 455.2h1.35v1.35h-1.35zM168.8 455.4h1.35v1.35h-1.35zM167.3 456.9h1.35v1.35h-1.35zM168.2 459h1.35v1.35h-1.35zM167.4 461.5h1.35v1.35h-1.35zM169.3 461.6h1.35v1.35h-1.35zM165.4 463.1h1.35v1.35h-1.35zM167.5 463.6h1.35v1.35h-1.35zM162.2 465.8h1.35v1.35h-1.35zM164.3 465.1h1.35v1.35h-1.35zM168.3 465.1h1.35v1.35h-1.35zM170.3 465.6h1.35v1.35h-1.35zM172.3 465.6h1.35v1.35h-1.35zM165.5 467.2h1.35v1.35h-1.35zM169.1 467.1h1.35v1.35h-1.35zM167.4 469.3h1.35v1.35h-1.35zM169.2 469.7h1.35v1.35h-1.35zM171.1 469.6h1.35v1.35h-1.35zM162.2 471.2h1.35v1.35h-1.35zM163.7 471.9h1.35v1.35h-1.35zM167.8 471.8h1.35v1.35h-1.35zM169.8 471.3h1.35v1.35h-1.35zM161.7 473.3h1.35v1.35h-1.35zM165.9 473.7h1.35v1.35h-1.35zM169.8 473.6h1.35v1.35h-1.35zM171.6 473.4h1.35v1.35h-1.35zM161.6 476.1h1.35v1.35h-1.35zM163.4 476.1h1.35v1.35h-1.35zM165.2 475.6h1.35v1.35h-1.35zM171.4 475.5h1.35v1.35h-1.35zM158.3 477.3h1.35v1.35h-1.35zM160.5 477.7h1.35v1.35h-1.35zM168 477.6h1.35v1.35h-1.35zM170.3 477.6h1.35v1.35h-1.35zM172.1 478.2h1.35v1.35h-1.35zM173.9 478.1h1.35v1.35h-1.35zM159.1 479.5h1.35v1.35h-1.35zM161.3 479.5h1.35v1.35h-1.35zM163 480.1h1.35v1.35h-1.35zM164.8 479.8h1.35v1.35h-1.35zM167.2 480.1h1.35v1.35h-1.35zM168.8 479.7h1.35v1.35h-1.35zM173 479.7h1.35v1.35h-1.35zM158.9 481.9h1.35v1.35h-1.35zM160.7 482.1h1.35v1.35h-1.35zM163 481.5h1.35v1.35h-1.35zM165 482.1h1.35v1.35h-1.35zM166.9 481.5h1.35v1.35h-1.35zM168.9 481.6h1.35v1.35h-1.35zM170.4 482.1h1.35v1.35h-1.35zM172.8 482.1h1.35v1.35h-1.35zM174.4 481.6h1.35v1.35h-1.35zM159.4 483.8h1.35v1.35h-1.35zM161.7 483.9h1.35v1.35h-1.35zM163.5 484h1.35v1.35h-1.35zM165.6 484.3h1.35v1.35h-1.35zM167.1 483.8h1.35v1.35h-1.35zM169.4 484.1h1.35v1.35h-1.35zM171.4 483.5h1.35v1.35h-1.35zM173.3 483.9h1.35v1.35h-1.35zM175.4 483.8h1.35v1.35h-1.35zM159 485.7h1.35v1.35h-1.35zM160.9 486h1.35v1.35h-1.35zM162.8 486.4h1.35v1.35h-1.35zM164.7 485.7h1.35v1.35h-1.35zM166.6 486h1.35v1.35h-1.35zM168.8 486.1h1.35v1.35h-1.35zM170.5 486.4h1.35v1.35h-1.35zM172.2 486.2h1.35v1.35h-1.35zM174.5 486.3h1.35v1.35h-1.35zM158.9 488.5h1.35v1.35h-1.35zM160.8 487.8h1.35v1.35h-1.35zM162.7 487.9h1.35v1.35h-1.35zM164.9 488h1.35v1.35h-1.35zM166.5 488h1.35v1.35h-1.35zM168.6 488.3h1.35v1.35h-1.35zM170.6 488h1.35v1.35h-1.35zM172.5 487.8h1.35v1.35h-1.35zM174.5 488.3h1.35v1.35h-1.35zM158.9 489.7h1.35v1.35h-1.35zM160.9 490h1.35v1.35h-1.35zM162.7 489.9h1.35v1.35h-1.35zM164.6 490.3h1.35v1.35h-1.35zM166.9 489.8h1.35v1.35h-1.35zM168.6 490.1h1.35v1.35h-1.35zM170.7 490.5h1.35v1.35h-1.35zM172.6 489.9h1.35v1.35h-1.35zM174.8 489.8h1.35v1.35h-1.35zM161.4 491.9h1.35v1.35h-1.35zM165.5 491.7h1.35v1.35h-1.35zM169.3 491.7h1.35v1.35h-1.35zM171.5 491.9h1.35v1.35h-1.35zM173 492h1.35v1.35h-1.35zM175.4 491.8h1.35v1.35h-1.35zM159.2 494.2h1.35v1.35h-1.35zM162.9 494h1.35v1.35h-1.35zM166.8 494h1.35v1.35h-1.35zM168.7 494.6h1.35v1.35h-1.35zM170.6 494.4h1.35v1.35h-1.35zM174.4 494h1.35v1.35h-1.35zM166.1 495.8h1.35v1.35h-1.35zM168.4 496.5h1.35v1.35h-1.35zM170 495.9h1.35v1.35h-1.35zM160.5 498.1h1.35v1.35h-1.35zM162.2 498.3h1.35v1.35h-1.35zM166.1 498.6h1.35v1.35h-1.35zM168 497.9h1.35v1.35h-1.35zM170.1 498.4h1.35v1.35h-1.35zM172.2 498.5h1.35v1.35h-1.35zM174.2 498.7h1.35v1.35h-1.35zM159.1 500.3h1.35v1.35h-1.35zM161.5 500h1.35v1.35h-1.35zM162.9 500.3h1.35v1.35h-1.35zM166.9 500.5h1.35v1.35h-1.35zM170.7 500.6h1.35v1.35h-1.35zM173.1 500.6h1.35v1.35h-1.35zM158.8 502.8h1.35v1.35h-1.35zM162.8 502.6h1.35v1.35h-1.35zM164.9 501.9h1.35v1.35h-1.35zM167.1 502.5h1.35v1.35h-1.35zM168.9 502.3h1.35v1.35h-1.35zM159.2 504.6h1.35v1.35h-1.35zM163.5 504.2h1.35v1.35h-1.35zM165.4 504.8h1.35v1.35h-1.35zM167.3 504.6h1.35v1.35h-1.35zM169.1 504.3h1.35v1.35h-1.35zM171.4 504h1.35v1.35h-1.35zM162 506.9h1.35v1.35h-1.35zM163.9 506.2h1.35v1.35h-1.35zM165.9 506.3h1.35v1.35h-1.35zM167.7 506.9h1.35v1.35h-1.35zM159.8 508.5h1.35v1.35h-1.35zM161.9 508.3h1.35v1.35h-1.35zM163.9 508.2h1.35v1.35h-1.35zM165.8 508.6h1.35v1.35h-1.35zM171.4 508.4h1.35v1.35h-1.35zM163.8 510.2h1.35v1.35h-1.35zM167.8 510.5h1.35v1.35h-1.35zM171.3 511h1.35v1.35h-1.35zM159.3 512.2h1.35v1.35h-1.35zM163.4 512.4h1.35v1.35h-1.35zM165.2 512.8h1.35v1.35h-1.35zM167.2 513h1.35v1.35h-1.35zM173.1 513h1.35v1.35h-1.35zM160.3 514.6h1.35v1.35h-1.35zM162.6 515.1h1.35v1.35h-1.35zM164.5 514.3h1.35v1.35h-1.35zM170.3 514.3h1.35v1.35h-1.35zM174.2 514.9h1.35v1.35h-1.35zM164.2 517h1.35v1.35h-1.35zM166.2 516.4h1.35v1.35h-1.35zM169.8 516.4h1.35v1.35h-1.35zM161.9 519.2h1.35v1.35h-1.35zM166.1 518.6h1.35v1.35h-1.35zM167.8 518.3h1.35v1.35h-1.35zM170.1 518.8h1.35v1.35h-1.35zM164.4 521h1.35v1.35h-1.35zM168 520.8h1.35v1.35h-1.35zM165.5 522.5h1.35v1.35h-1.35zM167.3 522.6h1.35v1.35h-1.35zM164.1 524.9h1.35v1.35h-1.35zM168.1 524.8h1.35v1.35h-1.35zM167.1 526.9h1.35v1.35h-1.35zM165.9 528.9h1.35v1.35h-1.35zM167.8 531.5h1.35v1.35h-1.35zM168 535.1h1.35v1.35h-1.35z" fill="#111"/>
<line x1="167.4" y1="547.3" x2="167.4" y2="551.9" stroke="#111" stroke-width="1.3" />
<rect x="199.6" y="461.6" width="31.2" height="35.7" fill="#fff" stroke="#1a1a1a" stroke-width="1.5" /><line x1="199.6" y1="478.5" x2="230.8" y2="478.5" stroke="#1a1a1a" stroke-width="1.5" /><line x1="215.3" y1="407.8" x2="215.3" y2="461.6" stroke="#1a1a1a" stroke-width="2.4" /><line x1="215.3" y1="497.3" x2="215.3" y2="531.5" stroke="#1a1a1a" stroke-width="2.4" /><line x1="215.3" y1="461.6" x2="215.3" y2="497.3" stroke="#1a1a1a" stroke-width="2.1" stroke-dasharray="1.4 0.8" opacity="0.85"/><line x1="207.5" y1="407.8" x2="223.1" y2="407.8" stroke="#1a1a1a" stroke-width="1.5" /><line x1="207.5" y1="531.5" x2="223.1" y2="531.5" stroke="#1a1a1a" stroke-width="1.5" /><path d="M215.8 414.6h1.35v1.35h-1.35zM213.6 420.6h1.35v1.35h-1.35zM216 426.4h1.35v1.35h-1.35zM214.2 428.3h1.35v1.35h-1.35zM213.7 430.2h1.35v1.35h-1.35zM216.3 432.5h1.35v1.35h-1.35zM212.1 435.1h1.35v1.35h-1.35zM215.7 434.4h1.35v1.35h-1.35zM214.2 436.6h1.35v1.35h-1.35zM214.6 438.7h1.35v1.35h-1.35zM216.1 438.8h1.35v1.35h-1.35zM216.4 440.8h1.35v1.35h-1.35zM210.9 442.9h1.35v1.35h-1.35zM215 443.3h1.35v1.35h-1.35zM216.6 442.5h1.35v1.35h-1.35zM213.2 445.1h1.35v1.35h-1.35zM215.2 445.1h1.35v1.35h-1.35zM213.1 447.1h1.35v1.35h-1.35zM214.6 447.2h1.35v1.35h-1.35zM218.8 447.1h1.35v1.35h-1.35zM210.3 448.8h1.35v1.35h-1.35zM214.4 449.6h1.35v1.35h-1.35zM217.9 449.2h1.35v1.35h-1.35zM209.9 451.2h1.35v1.35h-1.35zM211.7 451.6h1.35v1.35h-1.35zM217.7 450.9h1.35v1.35h-1.35zM211.1 453.7h1.35v1.35h-1.35zM213.2 453.3h1.35v1.35h-1.35zM218.9 453.5h1.35v1.35h-1.35zM210.9 455.4h1.35v1.35h-1.35zM215 455.6h1.35v1.35h-1.35zM218.7 455.3h1.35v1.35h-1.35zM209 457.1h1.35v1.35h-1.35zM210.7 457.2h1.35v1.35h-1.35zM216.6 457.1h1.35v1.35h-1.35zM218.9 457.3h1.35v1.35h-1.35zM207.7 459.7h1.35v1.35h-1.35zM209.8 459.2h1.35v1.35h-1.35zM214 459.8h1.35v1.35h-1.35zM217.6 459h1.35v1.35h-1.35zM219.9 459.7h1.35v1.35h-1.35zM221.8 459h1.35v1.35h-1.35zM206.4 461.8h1.35v1.35h-1.35zM208.4 461.6h1.35v1.35h-1.35zM210.4 461.1h1.35v1.35h-1.35zM214.6 461.1h1.35v1.35h-1.35zM216.4 461.8h1.35v1.35h-1.35zM218.5 461.8h1.35v1.35h-1.35zM224.5 461h1.35v1.35h-1.35zM209.6 463.4h1.35v1.35h-1.35zM215.4 463h1.35v1.35h-1.35zM217.9 463.3h1.35v1.35h-1.35zM219.7 463.1h1.35v1.35h-1.35zM208.1 466h1.35v1.35h-1.35zM210 465.8h1.35v1.35h-1.35zM216.1 465.1h1.35v1.35h-1.35zM218.1 465.8h1.35v1.35h-1.35zM220 465.3h1.35v1.35h-1.35zM209.7 467.6h1.35v1.35h-1.35zM211.8 467.6h1.35v1.35h-1.35zM213.8 467.1h1.35v1.35h-1.35zM210.4 469.6h1.35v1.35h-1.35zM212.8 469.5h1.35v1.35h-1.35zM214.4 469.5h1.35v1.35h-1.35zM216.2 470.1h1.35v1.35h-1.35zM220 469.7h1.35v1.35h-1.35zM222.5 469.4h1.35v1.35h-1.35zM207.3 471.8h1.35v1.35h-1.35zM213.3 471.8h1.35v1.35h-1.35zM215.4 471.5h1.35v1.35h-1.35zM217.6 471.2h1.35v1.35h-1.35zM219.4 472h1.35v1.35h-1.35zM223.2 471.8h1.35v1.35h-1.35zM207.2 473.9h1.35v1.35h-1.35zM209.2 474h1.35v1.35h-1.35zM210.8 474h1.35v1.35h-1.35zM213.1 473.6h1.35v1.35h-1.35zM214.9 473.8h1.35v1.35h-1.35zM217.1 473.3h1.35v1.35h-1.35zM220.8 473.6h1.35v1.35h-1.35zM210.3 475.9h1.35v1.35h-1.35zM212.5 476.1h1.35v1.35h-1.35zM214.5 475.4h1.35v1.35h-1.35zM218.1 476.1h1.35v1.35h-1.35zM207.1 477.6h1.35v1.35h-1.35zM211.1 477.6h1.35v1.35h-1.35zM212.8 477.8h1.35v1.35h-1.35zM214.7 477.9h1.35v1.35h-1.35zM220.9 477.5h1.35v1.35h-1.35zM222.7 477.4h1.35v1.35h-1.35zM212.3 479.4h1.35v1.35h-1.35zM214.2 479.9h1.35v1.35h-1.35zM216 479.6h1.35v1.35h-1.35zM209.1 482.2h1.35v1.35h-1.35zM210.8 481.9h1.35v1.35h-1.35zM213.1 482h1.35v1.35h-1.35zM216.7 481.5h1.35v1.35h-1.35zM218.7 481.8h1.35v1.35h-1.35zM211.4 484h1.35v1.35h-1.35zM213.6 483.7h1.35v1.35h-1.35zM215.6 484.2h1.35v1.35h-1.35zM217.2 484.1h1.35v1.35h-1.35zM219.1 483.6h1.35v1.35h-1.35zM207 486h1.35v1.35h-1.35zM213 485.9h1.35v1.35h-1.35zM214.8 486.4h1.35v1.35h-1.35zM216.7 486h1.35v1.35h-1.35zM218.7 486.3h1.35v1.35h-1.35zM222.7 486.2h1.35v1.35h-1.35zM212 487.8h1.35v1.35h-1.35zM213.9 488.4h1.35v1.35h-1.35zM217.8 487.7h1.35v1.35h-1.35zM220.1 488.1h1.35v1.35h-1.35zM211 490.4h1.35v1.35h-1.35zM214.5 490h1.35v1.35h-1.35zM216.4 490.2h1.35v1.35h-1.35zM209.2 492h1.35v1.35h-1.35zM211.5 492.2h1.35v1.35h-1.35zM213.2 492.1h1.35v1.35h-1.35zM214.9 492h1.35v1.35h-1.35zM205.8 494.2h1.35v1.35h-1.35zM207.9 494.3h1.35v1.35h-1.35zM213.6 494.5h1.35v1.35h-1.35zM215.5 494.6h1.35v1.35h-1.35zM217.7 493.8h1.35v1.35h-1.35zM221.4 494.3h1.35v1.35h-1.35zM223.4 494.3h1.35v1.35h-1.35zM211.5 496.4h1.35v1.35h-1.35zM213.1 496.5h1.35v1.35h-1.35zM214.9 496h1.35v1.35h-1.35zM216.8 496.6h1.35v1.35h-1.35zM209 498.5h1.35v1.35h-1.35zM214.5 498.1h1.35v1.35h-1.35zM216.8 498.5h1.35v1.35h-1.35zM218.8 498.4h1.35v1.35h-1.35zM209.2 500.8h1.35v1.35h-1.35zM210.9 500.5h1.35v1.35h-1.35zM216.7 500.7h1.35v1.35h-1.35zM218.9 500.1h1.35v1.35h-1.35zM210.2 502.5h1.35v1.35h-1.35zM212.2 502.5h1.35v1.35h-1.35zM216 502.8h1.35v1.35h-1.35zM209.2 504.3h1.35v1.35h-1.35zM211.5 504.6h1.35v1.35h-1.35zM215.1 504.2h1.35v1.35h-1.35zM219 504.3h1.35v1.35h-1.35zM211.8 506.9h1.35v1.35h-1.35zM215.4 506.3h1.35v1.35h-1.35zM219.2 506.8h1.35v1.35h-1.35zM210.2 508.7h1.35v1.35h-1.35zM212.4 508.3h1.35v1.35h-1.35zM216.2 508.8h1.35v1.35h-1.35zM210.2 510.5h1.35v1.35h-1.35zM214.1 510.8h1.35v1.35h-1.35zM217.5 510.5h1.35v1.35h-1.35zM219.6 510.4h1.35v1.35h-1.35zM213.1 512.9h1.35v1.35h-1.35zM214.8 512.4h1.35v1.35h-1.35zM213.4 514.9h1.35v1.35h-1.35zM215 517h1.35v1.35h-1.35zM213.6 519.2h1.35v1.35h-1.35z" fill="#111"/>
<line x1="215.3" y1="547.3" x2="215.3" y2="551.9" stroke="#111" stroke-width="1.3" />
<rect x="247.7" y="474.8" width="30.7" height="35.3" fill="#a3a3a3" stroke="#1a1a1a" stroke-width="1.5" /><line x1="247.7" y1="495.3" x2="278.4" y2="495.3" stroke="#1a1a1a" stroke-width="1.5" /><line x1="262.9" y1="421.5" x2="262.9" y2="474.8" stroke="#1a1a1a" stroke-width="2.4" /><line x1="262.9" y1="510.1" x2="262.9" y2="545.2" stroke="#1a1a1a" stroke-width="2.4" /><line x1="262.9" y1="474.8" x2="262.9" y2="510.1" stroke="#1a1a1a" stroke-width="2.1" stroke-dasharray="1.4 0.8" opacity="0.85"/><line x1="255.1" y1="421.5" x2="270.7" y2="421.5" stroke="#1a1a1a" stroke-width="1.5" /><line x1="255.1" y1="545.2" x2="270.7" y2="545.2" stroke="#1a1a1a" stroke-width="1.5" /><path d="M261.6 438.1h1.35v1.35h-1.35zM261.8 442.7h1.35v1.35h-1.35zM263.4 444.6h1.35v1.35h-1.35zM260.5 446.1h1.35v1.35h-1.35zM263.3 448h1.35v1.35h-1.35zM258.9 450.3h1.35v1.35h-1.35zM262.8 450.8h1.35v1.35h-1.35zM266.7 450.2h1.35v1.35h-1.35zM260.8 452.4h1.35v1.35h-1.35zM262.8 452.4h1.35v1.35h-1.35zM264.4 452.5h1.35v1.35h-1.35zM260 454.4h1.35v1.35h-1.35zM262 454.7h1.35v1.35h-1.35zM264 454.3h1.35v1.35h-1.35zM265.9 454.9h1.35v1.35h-1.35zM258.5 457h1.35v1.35h-1.35zM260.5 457.1h1.35v1.35h-1.35zM266.5 456.3h1.35v1.35h-1.35zM259.9 458.9h1.35v1.35h-1.35zM262.2 458.9h1.35v1.35h-1.35zM264.2 458.7h1.35v1.35h-1.35zM267.8 458.5h1.35v1.35h-1.35zM259.1 460.5h1.35v1.35h-1.35zM261.1 461.1h1.35v1.35h-1.35zM263.2 460.6h1.35v1.35h-1.35zM266.8 460.6h1.35v1.35h-1.35zM269.1 460.7h1.35v1.35h-1.35zM255.8 462.6h1.35v1.35h-1.35zM258.2 462.7h1.35v1.35h-1.35zM261.7 463.2h1.35v1.35h-1.35zM265.8 463.2h1.35v1.35h-1.35zM269.6 462.8h1.35v1.35h-1.35zM252.9 464.6h1.35v1.35h-1.35zM257.1 465h1.35v1.35h-1.35zM259.1 465h1.35v1.35h-1.35zM261.2 465.1h1.35v1.35h-1.35zM263 465h1.35v1.35h-1.35zM264.6 465.1h1.35v1.35h-1.35zM270.5 464.8h1.35v1.35h-1.35zM260.3 466.5h1.35v1.35h-1.35zM262.1 466.9h1.35v1.35h-1.35zM264.1 466.5h1.35v1.35h-1.35zM266.2 467.3h1.35v1.35h-1.35zM267.7 466.8h1.35v1.35h-1.35zM256.2 468.5h1.35v1.35h-1.35zM260.4 468.8h1.35v1.35h-1.35zM261.9 469.4h1.35v1.35h-1.35zM264 469.4h1.35v1.35h-1.35zM265.8 469.1h1.35v1.35h-1.35zM252.7 471.5h1.35v1.35h-1.35zM256.5 471.4h1.35v1.35h-1.35zM258.5 471.3h1.35v1.35h-1.35zM260.5 470.6h1.35v1.35h-1.35zM264.4 471.4h1.35v1.35h-1.35zM266.2 471.3h1.35v1.35h-1.35zM268.1 470.9h1.35v1.35h-1.35zM270.3 471.2h1.35v1.35h-1.35zM272.5 471.1h1.35v1.35h-1.35zM253.6 473h1.35v1.35h-1.35zM255.6 473.5h1.35v1.35h-1.35zM257.5 472.8h1.35v1.35h-1.35zM259.8 473h1.35v1.35h-1.35zM261.7 473.2h1.35v1.35h-1.35zM263.6 472.9h1.35v1.35h-1.35zM265.2 473.3h1.35v1.35h-1.35zM267.4 473.1h1.35v1.35h-1.35zM269.4 473.3h1.35v1.35h-1.35zM271.1 473h1.35v1.35h-1.35zM252.6 475.6h1.35v1.35h-1.35zM254.8 475.5h1.35v1.35h-1.35zM256.3 475.2h1.35v1.35h-1.35zM260.7 475.4h1.35v1.35h-1.35zM262.5 475.5h1.35v1.35h-1.35zM264.2 474.8h1.35v1.35h-1.35zM266.4 475.3h1.35v1.35h-1.35zM270 475h1.35v1.35h-1.35zM272.4 475.4h1.35v1.35h-1.35zM255.1 476.9h1.35v1.35h-1.35zM257.3 477.6h1.35v1.35h-1.35zM258.8 476.7h1.35v1.35h-1.35zM261.1 476.9h1.35v1.35h-1.35zM263 476.9h1.35v1.35h-1.35zM267 477.4h1.35v1.35h-1.35zM269 477.5h1.35v1.35h-1.35zM270.6 476.9h1.35v1.35h-1.35zM273 476.9h1.35v1.35h-1.35zM257.8 479.1h1.35v1.35h-1.35zM261.8 479.4h1.35v1.35h-1.35zM263.6 479.3h1.35v1.35h-1.35zM267.4 479.3h1.35v1.35h-1.35zM253 480.8h1.35v1.35h-1.35zM255.1 480.9h1.35v1.35h-1.35zM258.8 480.9h1.35v1.35h-1.35zM260.9 481.3h1.35v1.35h-1.35zM263 480.9h1.35v1.35h-1.35zM265 480.9h1.35v1.35h-1.35zM266.6 481.4h1.35v1.35h-1.35zM270.5 481.1h1.35v1.35h-1.35zM272.6 481h1.35v1.35h-1.35zM252.1 483.4h1.35v1.35h-1.35zM254.4 483.4h1.35v1.35h-1.35zM256.2 483.3h1.35v1.35h-1.35zM258.2 483.1h1.35v1.35h-1.35zM264.3 483.8h1.35v1.35h-1.35zM268.1 483.7h1.35v1.35h-1.35zM269.8 483.8h1.35v1.35h-1.35zM271.6 483.3h1.35v1.35h-1.35zM256.9 485.3h1.35v1.35h-1.35zM262.8 485.1h1.35v1.35h-1.35zM265 485.4h1.35v1.35h-1.35zM266.8 485.1h1.35v1.35h-1.35zM251.5 487h1.35v1.35h-1.35zM257.8 487.6h1.35v1.35h-1.35zM259.6 487.2h1.35v1.35h-1.35zM261.4 487.1h1.35v1.35h-1.35zM263.5 487.9h1.35v1.35h-1.35zM265.2 487h1.35v1.35h-1.35zM267.1 487.3h1.35v1.35h-1.35zM271.4 487.7h1.35v1.35h-1.35zM255.3 489.5h1.35v1.35h-1.35zM257.3 489.1h1.35v1.35h-1.35zM258.8 489.5h1.35v1.35h-1.35zM261 489.2h1.35v1.35h-1.35zM264.8 489h1.35v1.35h-1.35zM269.1 489.7h1.35v1.35h-1.35zM251.8 492h1.35v1.35h-1.35zM253.3 491.8h1.35v1.35h-1.35zM255.3 491.6h1.35v1.35h-1.35zM257.7 491.8h1.35v1.35h-1.35zM259.3 491.6h1.35v1.35h-1.35zM261.4 491.8h1.35v1.35h-1.35zM263.6 491.1h1.35v1.35h-1.35zM265.1 491.4h1.35v1.35h-1.35zM269.4 491.2h1.35v1.35h-1.35zM271.4 491.9h1.35v1.35h-1.35zM253.9 493.9h1.35v1.35h-1.35zM256.1 493.8h1.35v1.35h-1.35zM259.7 493.9h1.35v1.35h-1.35zM261.7 493.2h1.35v1.35h-1.35zM263.6 493.5h1.35v1.35h-1.35zM267.6 493.8h1.35v1.35h-1.35zM252.3 495.4h1.35v1.35h-1.35zM254.1 496h1.35v1.35h-1.35zM256 496h1.35v1.35h-1.35zM257.7 495.3h1.35v1.35h-1.35zM259.5 495.9h1.35v1.35h-1.35zM261.5 496.1h1.35v1.35h-1.35zM263.8 495.3h1.35v1.35h-1.35zM265.8 495.3h1.35v1.35h-1.35zM267.6 495.3h1.35v1.35h-1.35zM269.7 496h1.35v1.35h-1.35zM271.8 495.2h1.35v1.35h-1.35zM252.4 497.4h1.35v1.35h-1.35zM254.5 498h1.35v1.35h-1.35zM256.3 497.9h1.35v1.35h-1.35zM258.6 497.8h1.35v1.35h-1.35zM260.7 497.8h1.35v1.35h-1.35zM262.1 497.7h1.35v1.35h-1.35zM264.4 497.3h1.35v1.35h-1.35zM266.1 498h1.35v1.35h-1.35zM268.5 497.3h1.35v1.35h-1.35zM270 497.5h1.35v1.35h-1.35zM272 497.7h1.35v1.35h-1.35zM252.3 499.8h1.35v1.35h-1.35zM254.4 500.1h1.35v1.35h-1.35zM256.4 500h1.35v1.35h-1.35zM258.5 500h1.35v1.35h-1.35zM260.3 499.3h1.35v1.35h-1.35zM264.2 500h1.35v1.35h-1.35zM266 500.1h1.35v1.35h-1.35zM267.8 500.1h1.35v1.35h-1.35zM269.9 499.9h1.35v1.35h-1.35zM271.7 499.5h1.35v1.35h-1.35zM253.9 501.7h1.35v1.35h-1.35zM255.7 501.5h1.35v1.35h-1.35zM258.2 502.2h1.35v1.35h-1.35zM261.7 502h1.35v1.35h-1.35zM263.9 502.1h1.35v1.35h-1.35zM265.9 501.8h1.35v1.35h-1.35zM267.4 502.1h1.35v1.35h-1.35zM269.5 501.9h1.35v1.35h-1.35zM253.2 504.2h1.35v1.35h-1.35zM255.3 504.2h1.35v1.35h-1.35zM256.9 503.6h1.35v1.35h-1.35zM259 504.2h1.35v1.35h-1.35zM260.8 503.6h1.35v1.35h-1.35zM263.1 504.3h1.35v1.35h-1.35zM264.8 503.8h1.35v1.35h-1.35zM267 504h1.35v1.35h-1.35zM252.8 505.7h1.35v1.35h-1.35zM254.3 505.5h1.35v1.35h-1.35zM256.3 505.8h1.35v1.35h-1.35zM258.3 505.5h1.35v1.35h-1.35zM260.4 506.3h1.35v1.35h-1.35zM262.5 505.7h1.35v1.35h-1.35zM264.5 505.6h1.35v1.35h-1.35zM266.1 505.7h1.35v1.35h-1.35zM268.2 506h1.35v1.35h-1.35zM270.2 506.1h1.35v1.35h-1.35zM271.9 506.3h1.35v1.35h-1.35zM251.8 507.6h1.35v1.35h-1.35zM254.3 507.6h1.35v1.35h-1.35zM256.1 508h1.35v1.35h-1.35zM258 507.6h1.35v1.35h-1.35zM259.7 507.6h1.35v1.35h-1.35zM264.1 507.8h1.35v1.35h-1.35zM265.8 508h1.35v1.35h-1.35zM269.5 507.5h1.35v1.35h-1.35zM256.3 509.9h1.35v1.35h-1.35zM257.9 510.1h1.35v1.35h-1.35zM262.2 510.3h1.35v1.35h-1.35zM263.7 510.2h1.35v1.35h-1.35zM268.1 509.6h1.35v1.35h-1.35zM269.9 510.3h1.35v1.35h-1.35zM252.4 511.7h1.35v1.35h-1.35zM254.4 512h1.35v1.35h-1.35zM256.3 512h1.35v1.35h-1.35zM258.5 512.4h1.35v1.35h-1.35zM260.2 511.6h1.35v1.35h-1.35zM262 511.8h1.35v1.35h-1.35zM264.1 511.8h1.35v1.35h-1.35zM266 511.6h1.35v1.35h-1.35zM268 512h1.35v1.35h-1.35zM269.8 512.1h1.35v1.35h-1.35zM272.2 512.4h1.35v1.35h-1.35zM253 513.7h1.35v1.35h-1.35zM254.9 514.5h1.35v1.35h-1.35zM259 514.3h1.35v1.35h-1.35zM260.7 514h1.35v1.35h-1.35zM264.7 513.8h1.35v1.35h-1.35zM268.8 514h1.35v1.35h-1.35zM272.4 514.5h1.35v1.35h-1.35zM255 515.8h1.35v1.35h-1.35zM256.8 516h1.35v1.35h-1.35zM261 516h1.35v1.35h-1.35zM264.4 516.4h1.35v1.35h-1.35zM268.7 516.3h1.35v1.35h-1.35zM270.6 515.7h1.35v1.35h-1.35zM255.5 518h1.35v1.35h-1.35zM259.1 517.9h1.35v1.35h-1.35zM260.9 517.7h1.35v1.35h-1.35zM266.8 518h1.35v1.35h-1.35zM268.9 517.8h1.35v1.35h-1.35zM270.8 518.5h1.35v1.35h-1.35zM257.2 520h1.35v1.35h-1.35zM259.5 520.1h1.35v1.35h-1.35zM261.1 520.1h1.35v1.35h-1.35zM267.1 519.8h1.35v1.35h-1.35zM268.9 519.9h1.35v1.35h-1.35zM271.1 519.8h1.35v1.35h-1.35zM257 522.1h1.35v1.35h-1.35zM262.7 522.6h1.35v1.35h-1.35zM265 521.9h1.35v1.35h-1.35zM266.6 522.5h1.35v1.35h-1.35zM260.6 524.4h1.35v1.35h-1.35zM262.6 524h1.35v1.35h-1.35zM257.4 526.8h1.35v1.35h-1.35zM263.3 526h1.35v1.35h-1.35zM265.2 526.1h1.35v1.35h-1.35zM266.8 526h1.35v1.35h-1.35zM260.2 528.5h1.35v1.35h-1.35zM264.2 528.3h1.35v1.35h-1.35zM260.3 530.4h1.35v1.35h-1.35zM262.6 530.9h1.35v1.35h-1.35zM263.3 532.7h1.35v1.35h-1.35zM263.4 534.6h1.35v1.35h-1.35zM261.1 537h1.35v1.35h-1.35z" fill="#111"/>
<line x1="262.9" y1="547.3" x2="262.9" y2="551.9" stroke="#111" stroke-width="1.3" />
<rect x="295" y="506.9" width="31.6" height="15.2" fill="#fff" stroke="#1a1a1a" stroke-width="1.5" /><line x1="295" y1="516" x2="326.6" y2="516" stroke="#1a1a1a" stroke-width="1.5" /><line x1="310.8" y1="482.7" x2="310.8" y2="506.9" stroke="#1a1a1a" stroke-width="2.4" /><line x1="310.8" y1="522.1" x2="310.8" y2="543.1" stroke="#1a1a1a" stroke-width="2.4" /><line x1="310.8" y1="506.9" x2="310.8" y2="522.1" stroke="#1a1a1a" stroke-width="2.1" stroke-dasharray="1.4 0.8" opacity="0.85"/><line x1="303" y1="482.7" x2="318.6" y2="482.7" stroke="#1a1a1a" stroke-width="1.5" /><line x1="303" y1="543.1" x2="318.6" y2="543.1" stroke="#1a1a1a" stroke-width="1.5" /><path d="M311.5 489.2h1.35v1.35h-1.35zM309.5 490.8h1.35v1.35h-1.35zM311.6 490.9h1.35v1.35h-1.35zM307.8 493.5h1.35v1.35h-1.35zM309.6 493.6h1.35v1.35h-1.35zM313.7 493h1.35v1.35h-1.35zM307.3 495.4h1.35v1.35h-1.35zM311.7 495.1h1.35v1.35h-1.35zM308.2 497.1h1.35v1.35h-1.35zM312.3 497.6h1.35v1.35h-1.35zM299.3 499.4h1.35v1.35h-1.35zM301.4 499.2h1.35v1.35h-1.35zM303.1 499.1h1.35v1.35h-1.35zM305.1 499.1h1.35v1.35h-1.35zM313.2 499.6h1.35v1.35h-1.35zM314.9 499.7h1.35v1.35h-1.35zM319.1 499.3h1.35v1.35h-1.35zM320.9 499.1h1.35v1.35h-1.35zM299.7 501.6h1.35v1.35h-1.35zM301.7 501.7h1.35v1.35h-1.35zM304 501.7h1.35v1.35h-1.35zM307.6 501.1h1.35v1.35h-1.35zM309.8 501.5h1.35v1.35h-1.35zM311.4 501.2h1.35v1.35h-1.35zM315.6 501.1h1.35v1.35h-1.35zM317.6 501.2h1.35v1.35h-1.35zM319.3 501.4h1.35v1.35h-1.35zM321.4 501.7h1.35v1.35h-1.35zM305.7 503.3h1.35v1.35h-1.35zM307.3 503.7h1.35v1.35h-1.35zM309.2 503.2h1.35v1.35h-1.35zM311.1 503.8h1.35v1.35h-1.35zM317.4 503.7h1.35v1.35h-1.35zM299.2 506h1.35v1.35h-1.35zM301.6 505.5h1.35v1.35h-1.35zM303.1 505.2h1.35v1.35h-1.35zM305.3 505.6h1.35v1.35h-1.35zM307.1 505.8h1.35v1.35h-1.35zM309.2 505.8h1.35v1.35h-1.35zM310.9 505.2h1.35v1.35h-1.35zM313 505.6h1.35v1.35h-1.35zM314.9 505.7h1.35v1.35h-1.35zM316.8 505.4h1.35v1.35h-1.35zM318.9 505.8h1.35v1.35h-1.35zM321 505.5h1.35v1.35h-1.35zM298.7 507.2h1.35v1.35h-1.35zM300.7 507.9h1.35v1.35h-1.35zM302.6 507.5h1.35v1.35h-1.35zM306.4 507.3h1.35v1.35h-1.35zM308.5 507.8h1.35v1.35h-1.35zM310.5 507.2h1.35v1.35h-1.35zM312.5 507.8h1.35v1.35h-1.35zM314.2 507.8h1.35v1.35h-1.35zM316.1 507.9h1.35v1.35h-1.35zM318.2 507.5h1.35v1.35h-1.35zM319.9 507.5h1.35v1.35h-1.35zM299.8 509.4h1.35v1.35h-1.35zM302 509.9h1.35v1.35h-1.35zM304 509.7h1.35v1.35h-1.35zM305.9 509.7h1.35v1.35h-1.35zM307.8 509.2h1.35v1.35h-1.35zM309.6 510h1.35v1.35h-1.35zM311.7 510.1h1.35v1.35h-1.35zM313.6 509.5h1.35v1.35h-1.35zM315.6 510h1.35v1.35h-1.35zM317.5 509.8h1.35v1.35h-1.35zM319.1 509.2h1.35v1.35h-1.35zM321.2 509.5h1.35v1.35h-1.35zM298.9 511.5h1.35v1.35h-1.35zM301.4 511.6h1.35v1.35h-1.35zM303.2 512.1h1.35v1.35h-1.35zM305.2 511.5h1.35v1.35h-1.35zM307.2 512h1.35v1.35h-1.35zM309.2 511.9h1.35v1.35h-1.35zM311 512h1.35v1.35h-1.35zM312.7 511.9h1.35v1.35h-1.35zM314.7 512h1.35v1.35h-1.35zM316.5 511.8h1.35v1.35h-1.35zM318.6 512h1.35v1.35h-1.35zM320.5 512h1.35v1.35h-1.35zM298.7 513.6h1.35v1.35h-1.35zM300.6 514h1.35v1.35h-1.35zM302.7 513.4h1.35v1.35h-1.35zM304.5 514h1.35v1.35h-1.35zM306.6 513.7h1.35v1.35h-1.35zM308.6 514h1.35v1.35h-1.35zM310.9 513.6h1.35v1.35h-1.35zM312.7 514.1h1.35v1.35h-1.35zM314.5 514.1h1.35v1.35h-1.35zM316.6 513.6h1.35v1.35h-1.35zM318.7 513.8h1.35v1.35h-1.35zM320.2 513.9h1.35v1.35h-1.35zM299.4 515.4h1.35v1.35h-1.35zM301.1 516.3h1.35v1.35h-1.35zM303 515.6h1.35v1.35h-1.35zM305.2 516h1.35v1.35h-1.35zM306.9 516.1h1.35v1.35h-1.35zM309.1 515.4h1.35v1.35h-1.35zM311 516.2h1.35v1.35h-1.35zM313.1 515.5h1.35v1.35h-1.35zM315 515.4h1.35v1.35h-1.35zM316.8 515.7h1.35v1.35h-1.35zM319.1 515.8h1.35v1.35h-1.35zM321.1 515.8h1.35v1.35h-1.35zM300 517.4h1.35v1.35h-1.35zM302.1 518.2h1.35v1.35h-1.35zM304.3 518.3h1.35v1.35h-1.35zM306 518.3h1.35v1.35h-1.35zM308 517.6h1.35v1.35h-1.35zM310 518.1h1.35v1.35h-1.35zM311.8 518h1.35v1.35h-1.35zM313.7 517.7h1.35v1.35h-1.35zM315.7 517.9h1.35v1.35h-1.35zM317.7 517.5h1.35v1.35h-1.35zM319.4 517.7h1.35v1.35h-1.35zM321.7 518.1h1.35v1.35h-1.35zM300 519.9h1.35v1.35h-1.35zM301.9 519.5h1.35v1.35h-1.35zM304.1 520.3h1.35v1.35h-1.35zM306.1 520h1.35v1.35h-1.35zM307.8 519.8h1.35v1.35h-1.35zM309.6 519.7h1.35v1.35h-1.35zM311.7 519.8h1.35v1.35h-1.35zM313.8 520.4h1.35v1.35h-1.35zM315.4 520.3h1.35v1.35h-1.35zM317.5 519.9h1.35v1.35h-1.35zM319.4 520h1.35v1.35h-1.35zM321.4 519.6h1.35v1.35h-1.35zM299.4 522h1.35v1.35h-1.35zM301.1 521.8h1.35v1.35h-1.35zM303.2 521.6h1.35v1.35h-1.35zM305 522.2h1.35v1.35h-1.35zM307.1 522.2h1.35v1.35h-1.35zM309.3 522.1h1.35v1.35h-1.35zM311 522.3h1.35v1.35h-1.35zM313 521.6h1.35v1.35h-1.35zM315.1 522h1.35v1.35h-1.35zM316.9 522.2h1.35v1.35h-1.35zM319 522.4h1.35v1.35h-1.35zM320.9 521.7h1.35v1.35h-1.35zM299.4 523.7h1.35v1.35h-1.35zM301.2 524.4h1.35v1.35h-1.35zM303.6 523.6h1.35v1.35h-1.35zM305.2 524h1.35v1.35h-1.35zM307.3 523.9h1.35v1.35h-1.35zM309.5 523.9h1.35v1.35h-1.35zM311.2 524.4h1.35v1.35h-1.35zM313.2 524h1.35v1.35h-1.35zM316.9 523.9h1.35v1.35h-1.35zM319.1 524.3h1.35v1.35h-1.35zM320.8 523.9h1.35v1.35h-1.35zM299.9 525.6h1.35v1.35h-1.35zM303.5 525.7h1.35v1.35h-1.35zM305.8 525.8h1.35v1.35h-1.35zM307.4 525.7h1.35v1.35h-1.35zM311.3 526.3h1.35v1.35h-1.35zM315.5 526.4h1.35v1.35h-1.35zM319.5 526.1h1.35v1.35h-1.35zM299.3 528.3h1.35v1.35h-1.35zM303 527.8h1.35v1.35h-1.35zM305 527.8h1.35v1.35h-1.35zM308.8 527.7h1.35v1.35h-1.35zM310.9 528.3h1.35v1.35h-1.35zM312.7 528.1h1.35v1.35h-1.35zM316.6 527.9h1.35v1.35h-1.35zM318.7 528.5h1.35v1.35h-1.35zM308 530.2h1.35v1.35h-1.35zM309.7 530.3h1.35v1.35h-1.35zM312.2 529.9h1.35v1.35h-1.35zM303.8 532.6h1.35v1.35h-1.35zM309.4 532.2h1.35v1.35h-1.35zM311.3 532.3h1.35v1.35h-1.35zM313.7 532.2h1.35v1.35h-1.35zM317.2 531.8h1.35v1.35h-1.35zM308.1 533.8h1.35v1.35h-1.35zM310.1 534.5h1.35v1.35h-1.35zM311.9 533.8h1.35v1.35h-1.35zM309.4 536.2h1.35v1.35h-1.35zM308.7 538.2h1.35v1.35h-1.35z" fill="#111"/>
<line x1="310.8" y1="547.3" x2="310.8" y2="551.9" stroke="#111" stroke-width="1.3" />
<path d="M168.6 422.4V376.6H215.6V394.7" fill="none" stroke="#111" stroke-width="1"/><text x="192.3" y="376.5" font-size="15" text-anchor="middle" fill="#111" font-weight="bold" font-style="normal" >***</text>
<path d="M262.9 409.3V375.7H310.8V465.3" fill="none" stroke="#111" stroke-width="1"/><text x="286.9" y="375.3" font-size="15" text-anchor="middle" fill="#111" font-weight="bold" font-style="normal" >***</text>
<text x="71.5" y="563.2" font-size="9.5" text-anchor="middle" fill="#111" font-weight="bold" font-style="normal" >+</text>
<text x="119.3" y="563.2" font-size="9.5" text-anchor="middle" fill="#111" font-weight="bold" font-style="normal" >-</text>
<text x="167.4" y="563.2" font-size="9.5" text-anchor="middle" fill="#111" font-weight="bold" font-style="normal" >+</text>
<text x="215.3" y="563.2" font-size="9.5" text-anchor="middle" fill="#111" font-weight="bold" font-style="normal" >-</text>
<text x="262.9" y="563.2" font-size="9.5" text-anchor="middle" fill="#111" font-weight="bold" font-style="normal" >+</text>
<text x="310.8" y="563.2" font-size="9.5" text-anchor="middle" fill="#111" font-weight="bold" font-style="normal" >-</text>
<text x="100.4" y="576.4" font-size="10" text-anchor="middle" fill="#1a1a1a" font-weight="normal" font-style="normal" >24h</text>
<text x="197" y="576.4" font-size="10" text-anchor="middle" fill="#1a1a1a" font-weight="normal" font-style="normal" >48h</text>
<text x="289.8" y="576.4" font-size="10" text-anchor="middle" fill="#1a1a1a" font-weight="normal" font-style="normal" >72h</text>
<text transform="translate(10.5 436.8) rotate(-90)" font-size="12.4" text-anchor="middle" fill="#111" font-weight="normal" textLength="58.6" lengthAdjust="spacingAndGlyphs">Normalized</text>
<text transform="translate(23.4 437) rotate(-90)" font-size="12.4" text-anchor="middle" fill="#111" font-weight="normal" textLength="182.2" lengthAdjust="spacingAndGlyphs" xml:space="preserve">Elongation Index /  Distance to  QC</text>
<text x="196.9" y="599.1" font-size="10.3" text-anchor="middle" fill="#111" font-weight="bold" font-style="italic" textLength="87.5" lengthAdjust="spacingAndGlyphs">pNAC86:HB2-YFP</text>
<text x="2" y="319.7" font-size="14" text-anchor="start" fill="#000" font-weight="bold" font-style="normal" >d</text>
<line x1="392.6" y1="326.7" x2="392.6" y2="545.2" stroke="#111" stroke-width="1.4" />
<line x1="391.9" y1="544.5" x2="685" y2="544.5" stroke="#111" stroke-width="1.4" />
<line x1="388" y1="544.5" x2="392.6" y2="544.5" stroke="#111" stroke-width="1.3" />
<text x="386.2" y="547.2" font-size="7.6" text-anchor="end" fill="#111" font-weight="bold" font-style="normal" >0</text>
<line x1="388" y1="472.2" x2="392.6" y2="472.2" stroke="#111" stroke-width="1.3" />
<text x="386.2" y="474.9" font-size="7.6" text-anchor="end" fill="#111" font-weight="bold" font-style="normal" >2</text>
<line x1="388" y1="399.9" x2="392.6" y2="399.9" stroke="#111" stroke-width="1.3" />
<text x="386.2" y="402.6" font-size="7.6" text-anchor="end" fill="#111" font-weight="bold" font-style="normal" >4</text>
<line x1="388" y1="327.6" x2="392.6" y2="327.6" stroke="#111" stroke-width="1.3" />
<text x="386.2" y="330.3" font-size="7.6" text-anchor="end" fill="#111" font-weight="bold" font-style="normal" >6</text>
<line x1="493.3" y1="323" x2="493.3" y2="544.5" stroke="#333" stroke-width="0.9" />
<line x1="587.2" y1="323" x2="587.2" y2="544.5" stroke="#333" stroke-width="0.9" />
<rect x="408.5" y="497.5" width="30.1" height="22.2" fill="#a3a3a3" stroke="#1a1a1a" stroke-width="1.5" /><line x1="408.5" y1="509" x2="438.6" y2="509" stroke="#1a1a1a" stroke-width="1.5" /><line x1="423.3" y1="464.8" x2="423.3" y2="497.5" stroke="#1a1a1a" stroke-width="2.4" /><line x1="423.3" y1="519.7" x2="423.3" y2="544" stroke="#1a1a1a" stroke-width="2.4" /><line x1="423.3" y1="497.5" x2="423.3" y2="519.7" stroke="#1a1a1a" stroke-width="2.1" stroke-dasharray="1.4 0.8" opacity="0.85"/><line x1="415.5" y1="464.8" x2="431.1" y2="464.8" stroke="#1a1a1a" stroke-width="1.5" /><line x1="415.5" y1="544" x2="431.1" y2="544" stroke="#1a1a1a" stroke-width="1.5" /><path d="M423.4 464.9h1.35v1.35h-1.35zM421.2 471.3h1.35v1.35h-1.35zM423.7 473.4h1.35v1.35h-1.35zM421.8 475.7h1.35v1.35h-1.35zM423.6 477.4h1.35v1.35h-1.35zM422.1 479.9h1.35v1.35h-1.35zM424.4 479.9h1.35v1.35h-1.35zM422.8 481.4h1.35v1.35h-1.35zM424.8 481.5h1.35v1.35h-1.35zM420.2 483.6h1.35v1.35h-1.35zM422 483.2h1.35v1.35h-1.35zM419.8 485.3h1.35v1.35h-1.35zM422 486h1.35v1.35h-1.35zM423.5 485.6h1.35v1.35h-1.35zM420.9 488h1.35v1.35h-1.35zM422.8 487.4h1.35v1.35h-1.35zM425 487.5h1.35v1.35h-1.35zM426.7 488.1h1.35v1.35h-1.35zM416.6 490.1h1.35v1.35h-1.35zM418.6 489.8h1.35v1.35h-1.35zM420.5 490h1.35v1.35h-1.35zM424.3 489.4h1.35v1.35h-1.35zM430.4 490h1.35v1.35h-1.35zM416.3 491.8h1.35v1.35h-1.35zM418.1 491.5h1.35v1.35h-1.35zM419.8 491.7h1.35v1.35h-1.35zM422 491.6h1.35v1.35h-1.35zM427.8 491.8h1.35v1.35h-1.35zM430 491.9h1.35v1.35h-1.35zM416.2 493.7h1.35v1.35h-1.35zM417.9 493.7h1.35v1.35h-1.35zM421.5 493.6h1.35v1.35h-1.35zM425.5 493.6h1.35v1.35h-1.35zM427.7 493.9h1.35v1.35h-1.35zM413.6 496.1h1.35v1.35h-1.35zM415.5 495.8h1.35v1.35h-1.35zM417.2 495.5h1.35v1.35h-1.35zM419.3 496h1.35v1.35h-1.35zM421.4 495.6h1.35v1.35h-1.35zM423 495.7h1.35v1.35h-1.35zM424.9 495.6h1.35v1.35h-1.35zM427.2 496h1.35v1.35h-1.35zM428.9 496.3h1.35v1.35h-1.35zM430.8 495.7h1.35v1.35h-1.35zM414.4 497.7h1.35v1.35h-1.35zM416.3 498h1.35v1.35h-1.35zM418.6 498.3h1.35v1.35h-1.35zM420.5 497.8h1.35v1.35h-1.35zM422.7 497.5h1.35v1.35h-1.35zM424.4 498.1h1.35v1.35h-1.35zM426.2 498.2h1.35v1.35h-1.35zM428.5 497.9h1.35v1.35h-1.35zM430.1 498.3h1.35v1.35h-1.35zM431.8 497.5h1.35v1.35h-1.35zM417.7 499.8h1.35v1.35h-1.35zM419.2 499.7h1.35v1.35h-1.35zM425.1 500.1h1.35v1.35h-1.35zM427.4 499.7h1.35v1.35h-1.35zM429.2 500h1.35v1.35h-1.35zM413.6 501.8h1.35v1.35h-1.35zM415.1 502h1.35v1.35h-1.35zM419.2 501.9h1.35v1.35h-1.35zM421.3 501.8h1.35v1.35h-1.35zM425.2 502.3h1.35v1.35h-1.35zM427 502h1.35v1.35h-1.35zM429.2 502.1h1.35v1.35h-1.35zM430.7 501.6h1.35v1.35h-1.35zM416 504.3h1.35v1.35h-1.35zM418.2 504.2h1.35v1.35h-1.35zM420 504h1.35v1.35h-1.35zM422.4 503.7h1.35v1.35h-1.35zM426 504.5h1.35v1.35h-1.35zM414 505.8h1.35v1.35h-1.35zM417.7 505.9h1.35v1.35h-1.35zM419.6 505.9h1.35v1.35h-1.35zM421.7 505.9h1.35v1.35h-1.35zM423.6 506.3h1.35v1.35h-1.35zM427.6 505.8h1.35v1.35h-1.35zM429.4 506.2h1.35v1.35h-1.35zM431.3 506h1.35v1.35h-1.35zM413.8 507.8h1.35v1.35h-1.35zM419.7 508h1.35v1.35h-1.35zM421.9 508.1h1.35v1.35h-1.35zM423.9 508h1.35v1.35h-1.35zM427.5 508.6h1.35v1.35h-1.35zM429.7 508.1h1.35v1.35h-1.35zM415.8 509.8h1.35v1.35h-1.35zM417.4 510.7h1.35v1.35h-1.35zM421.7 510.5h1.35v1.35h-1.35zM427.6 509.8h1.35v1.35h-1.35zM429.5 510h1.35v1.35h-1.35zM417.1 512h1.35v1.35h-1.35zM418.9 512.3h1.35v1.35h-1.35zM421 512h1.35v1.35h-1.35zM423.2 512.4h1.35v1.35h-1.35zM424.8 511.9h1.35v1.35h-1.35zM427.1 511.9h1.35v1.35h-1.35zM428.7 512h1.35v1.35h-1.35zM414 514.2h1.35v1.35h-1.35zM416.2 514.8h1.35v1.35h-1.35zM418.2 514.5h1.35v1.35h-1.35zM419.9 513.9h1.35v1.35h-1.35zM422 514.4h1.35v1.35h-1.35zM423.7 514.1h1.35v1.35h-1.35zM425.7 514.4h1.35v1.35h-1.35zM427.9 514.2h1.35v1.35h-1.35zM429.8 514.5h1.35v1.35h-1.35zM432 514.4h1.35v1.35h-1.35zM413.5 516.2h1.35v1.35h-1.35zM415.8 516.7h1.35v1.35h-1.35zM418 516.3h1.35v1.35h-1.35zM419.8 516.2h1.35v1.35h-1.35zM421.5 515.9h1.35v1.35h-1.35zM423.5 516.2h1.35v1.35h-1.35zM425.4 516.3h1.35v1.35h-1.35zM427.5 516.7h1.35v1.35h-1.35zM429.6 516.2h1.35v1.35h-1.35zM414.5 518.7h1.35v1.35h-1.35zM416.4 518.4h1.35v1.35h-1.35zM418.1 518.3h1.35v1.35h-1.35zM420.4 518.1h1.35v1.35h-1.35zM421.8 518.2h1.35v1.35h-1.35zM424.2 518.7h1.35v1.35h-1.35zM425.8 518.7h1.35v1.35h-1.35zM428.1 518.4h1.35v1.35h-1.35zM429.6 518.7h1.35v1.35h-1.35zM431.7 518.1h1.35v1.35h-1.35zM414.2 520.6h1.35v1.35h-1.35zM416.3 520.2h1.35v1.35h-1.35zM417.9 520.6h1.35v1.35h-1.35zM420.2 520.3h1.35v1.35h-1.35zM421.9 520.8h1.35v1.35h-1.35zM424.3 520.2h1.35v1.35h-1.35zM426.1 520.5h1.35v1.35h-1.35zM427.9 520.1h1.35v1.35h-1.35zM429.8 520.6h1.35v1.35h-1.35zM431.9 520.5h1.35v1.35h-1.35zM418.2 523h1.35v1.35h-1.35zM422.2 522.8h1.35v1.35h-1.35zM424.2 522.6h1.35v1.35h-1.35zM428.2 522.1h1.35v1.35h-1.35zM413.4 524.8h1.35v1.35h-1.35zM415.5 524.6h1.35v1.35h-1.35zM419.1 524.8h1.35v1.35h-1.35zM420.9 524.4h1.35v1.35h-1.35zM423.3 524.5h1.35v1.35h-1.35zM425.4 524.2h1.35v1.35h-1.35zM427 524.3h1.35v1.35h-1.35zM428.7 524.2h1.35v1.35h-1.35zM422.8 526.5h1.35v1.35h-1.35zM424.4 526.8h1.35v1.35h-1.35zM426.2 526.7h1.35v1.35h-1.35zM420.1 529h1.35v1.35h-1.35zM424.1 528.7h1.35v1.35h-1.35zM423.2 531.2h1.35v1.35h-1.35zM425.3 530.4h1.35v1.35h-1.35zM420.1 532.5h1.35v1.35h-1.35zM421.5 533.2h1.35v1.35h-1.35zM423.3 535.1h1.35v1.35h-1.35zM423.9 536.8h1.35v1.35h-1.35z" fill="#111"/>
<line x1="423.3" y1="544.5" x2="423.3" y2="549.1" stroke="#111" stroke-width="1.3" />
<rect x="454.7" y="494.2" width="30.2" height="28.1" fill="#fff" stroke="#1a1a1a" stroke-width="1.5" /><line x1="454.7" y1="507.5" x2="484.9" y2="507.5" stroke="#1a1a1a" stroke-width="1.5" /><line x1="469.8" y1="449.5" x2="469.8" y2="494.2" stroke="#1a1a1a" stroke-width="2.4" /><line x1="469.8" y1="522.3" x2="469.8" y2="544" stroke="#1a1a1a" stroke-width="2.4" /><line x1="469.8" y1="494.2" x2="469.8" y2="522.3" stroke="#1a1a1a" stroke-width="2.1" stroke-dasharray="1.4 0.8" opacity="0.85"/><line x1="462" y1="449.5" x2="477.6" y2="449.5" stroke="#1a1a1a" stroke-width="1.5" /><line x1="462" y1="544" x2="477.6" y2="544" stroke="#1a1a1a" stroke-width="1.5" /><path d="M467.4 458.2h1.35v1.35h-1.35zM468.6 459.9h1.35v1.35h-1.35zM470.3 462.4h1.35v1.35h-1.35zM468.4 464.2h1.35v1.35h-1.35zM467.8 466.2h1.35v1.35h-1.35zM467.9 468.3h1.35v1.35h-1.35zM469.9 468h1.35v1.35h-1.35zM465.2 469.9h1.35v1.35h-1.35zM467.1 469.9h1.35v1.35h-1.35zM471 470.5h1.35v1.35h-1.35zM465.7 472.4h1.35v1.35h-1.35zM467.1 472h1.35v1.35h-1.35zM471.1 472.2h1.35v1.35h-1.35zM464.6 474.7h1.35v1.35h-1.35zM468.5 474.2h1.35v1.35h-1.35zM470.7 474.2h1.35v1.35h-1.35zM474.5 474.7h1.35v1.35h-1.35zM476.2 474.6h1.35v1.35h-1.35zM467 476.5h1.35v1.35h-1.35zM471.1 476.7h1.35v1.35h-1.35zM473.1 476.7h1.35v1.35h-1.35zM466.6 478.2h1.35v1.35h-1.35zM468.9 478.3h1.35v1.35h-1.35zM470.8 478.7h1.35v1.35h-1.35zM474.3 478.6h1.35v1.35h-1.35zM461.8 480.9h1.35v1.35h-1.35zM466.1 480.4h1.35v1.35h-1.35zM468 480.2h1.35v1.35h-1.35zM469.8 480.6h1.35v1.35h-1.35zM473.9 480.8h1.35v1.35h-1.35zM475.4 480.7h1.35v1.35h-1.35zM479.2 481h1.35v1.35h-1.35zM461 482.5h1.35v1.35h-1.35zM462.8 482.6h1.35v1.35h-1.35zM466.5 482.3h1.35v1.35h-1.35zM472.6 482.9h1.35v1.35h-1.35zM474.2 482.7h1.35v1.35h-1.35zM476.2 482.8h1.35v1.35h-1.35zM461.2 484.9h1.35v1.35h-1.35zM467.1 484.9h1.35v1.35h-1.35zM469 484.7h1.35v1.35h-1.35zM471.2 484.6h1.35v1.35h-1.35zM473.1 484.3h1.35v1.35h-1.35zM475.1 484.8h1.35v1.35h-1.35zM461.6 486.5h1.35v1.35h-1.35zM463.5 486.7h1.35v1.35h-1.35zM469.5 486.5h1.35v1.35h-1.35zM473.5 486.6h1.35v1.35h-1.35zM475.7 486.9h1.35v1.35h-1.35zM462.8 489.2h1.35v1.35h-1.35zM466.4 488.4h1.35v1.35h-1.35zM468.7 488.7h1.35v1.35h-1.35zM474.6 488.7h1.35v1.35h-1.35zM476.2 488.4h1.35v1.35h-1.35zM456.5 490.9h1.35v1.35h-1.35zM458.4 490.9h1.35v1.35h-1.35zM460.7 490.4h1.35v1.35h-1.35zM462.3 491.2h1.35v1.35h-1.35zM464.6 490.4h1.35v1.35h-1.35zM466.4 490.9h1.35v1.35h-1.35zM468.5 490.8h1.35v1.35h-1.35zM470 490.6h1.35v1.35h-1.35zM472.3 491h1.35v1.35h-1.35zM473.9 491h1.35v1.35h-1.35zM476.2 491h1.35v1.35h-1.35zM477.7 490.8h1.35v1.35h-1.35zM481.8 490.9h1.35v1.35h-1.35zM457.8 492.5h1.35v1.35h-1.35zM459.9 492.4h1.35v1.35h-1.35zM461.7 492.8h1.35v1.35h-1.35zM465.3 492.8h1.35v1.35h-1.35zM471.4 492.8h1.35v1.35h-1.35zM475 492.9h1.35v1.35h-1.35zM477.1 493.3h1.35v1.35h-1.35zM479.1 492.8h1.35v1.35h-1.35zM455.6 495.3h1.35v1.35h-1.35zM463.2 494.9h1.35v1.35h-1.35zM465.5 494.7h1.35v1.35h-1.35zM467.1 494.9h1.35v1.35h-1.35zM469.2 495.3h1.35v1.35h-1.35zM471.5 494.7h1.35v1.35h-1.35zM473.2 494.8h1.35v1.35h-1.35zM474.8 494.9h1.35v1.35h-1.35zM477.3 494.7h1.35v1.35h-1.35zM479.1 495.1h1.35v1.35h-1.35zM457.7 496.5h1.35v1.35h-1.35zM459.5 496.7h1.35v1.35h-1.35zM461.4 496.6h1.35v1.35h-1.35zM463.4 497h1.35v1.35h-1.35zM465.3 497.3h1.35v1.35h-1.35zM469.4 496.8h1.35v1.35h-1.35zM473.2 497.3h1.35v1.35h-1.35zM477 497.2h1.35v1.35h-1.35zM456.9 499.2h1.35v1.35h-1.35zM458.6 499h1.35v1.35h-1.35zM464.4 499h1.35v1.35h-1.35zM468.4 499.1h1.35v1.35h-1.35zM474.2 498.8h1.35v1.35h-1.35zM476.4 498.7h1.35v1.35h-1.35zM478.4 499h1.35v1.35h-1.35zM480 498.7h1.35v1.35h-1.35zM482.2 499h1.35v1.35h-1.35zM455.9 500.8h1.35v1.35h-1.35zM457.5 501.2h1.35v1.35h-1.35zM459.4 501h1.35v1.35h-1.35zM461.7 500.7h1.35v1.35h-1.35zM463.6 500.7h1.35v1.35h-1.35zM465.4 501.2h1.35v1.35h-1.35zM467.5 500.7h1.35v1.35h-1.35zM469.2 501.5h1.35v1.35h-1.35zM471.2 501h1.35v1.35h-1.35zM473.2 501.3h1.35v1.35h-1.35zM475.3 501.2h1.35v1.35h-1.35zM477.1 501.1h1.35v1.35h-1.35zM479.1 500.8h1.35v1.35h-1.35zM481.3 501.5h1.35v1.35h-1.35zM456.9 503.5h1.35v1.35h-1.35zM458.4 503.2h1.35v1.35h-1.35zM460.3 502.8h1.35v1.35h-1.35zM462.7 503.2h1.35v1.35h-1.35zM464.4 503.5h1.35v1.35h-1.35zM466.4 502.8h1.35v1.35h-1.35zM468.4 503.6h1.35v1.35h-1.35zM470.5 503.5h1.35v1.35h-1.35zM472.1 502.7h1.35v1.35h-1.35zM474 503.5h1.35v1.35h-1.35zM476.4 502.9h1.35v1.35h-1.35zM478.1 503.1h1.35v1.35h-1.35zM480.1 503.4h1.35v1.35h-1.35zM481.7 503.5h1.35v1.35h-1.35zM456.5 505.5h1.35v1.35h-1.35zM457.9 505.5h1.35v1.35h-1.35zM459.8 505.4h1.35v1.35h-1.35zM462.3 505.4h1.35v1.35h-1.35zM467.9 505.5h1.35v1.35h-1.35zM469.7 505.2h1.35v1.35h-1.35zM471.7 505.1h1.35v1.35h-1.35zM473.6 505.4h1.35v1.35h-1.35zM475.8 505.4h1.35v1.35h-1.35zM477.7 505.3h1.35v1.35h-1.35zM479.9 505.5h1.35v1.35h-1.35zM481.6 505h1.35v1.35h-1.35zM457.3 506.9h1.35v1.35h-1.35zM458.9 507.4h1.35v1.35h-1.35zM461.2 507.4h1.35v1.35h-1.35zM462.9 507h1.35v1.35h-1.35zM465.1 506.9h1.35v1.35h-1.35zM466.9 507.4h1.35v1.35h-1.35zM468.9 506.8h1.35v1.35h-1.35zM471.1 507.5h1.35v1.35h-1.35zM472.5 507.2h1.35v1.35h-1.35zM474.5 506.8h1.35v1.35h-1.35zM476.9 507.4h1.35v1.35h-1.35zM478.7 506.9h1.35v1.35h-1.35zM480.4 506.9h1.35v1.35h-1.35zM482.3 507.1h1.35v1.35h-1.35zM455.8 508.8h1.35v1.35h-1.35zM461.5 508.9h1.35v1.35h-1.35zM463.7 509.6h1.35v1.35h-1.35zM465.8 509.7h1.35v1.35h-1.35zM467.8 509.4h1.35v1.35h-1.35zM471.6 508.8h1.35v1.35h-1.35zM473.4 509.1h1.35v1.35h-1.35zM475.5 508.9h1.35v1.35h-1.35zM477.4 509.2h1.35v1.35h-1.35zM481.3 509.2h1.35v1.35h-1.35zM458.5 511.4h1.35v1.35h-1.35zM460.6 510.9h1.35v1.35h-1.35zM462.5 511.7h1.35v1.35h-1.35zM470.2 511.3h1.35v1.35h-1.35zM472 511.4h1.35v1.35h-1.35zM474.3 510.9h1.35v1.35h-1.35zM476 511.1h1.35v1.35h-1.35zM478.3 511.2h1.35v1.35h-1.35zM455.9 513.6h1.35v1.35h-1.35zM457.9 513.1h1.35v1.35h-1.35zM460 513.1h1.35v1.35h-1.35zM461.5 513.6h1.35v1.35h-1.35zM463.8 513.6h1.35v1.35h-1.35zM465.7 513.8h1.35v1.35h-1.35zM467.7 513.5h1.35v1.35h-1.35zM469.3 513.6h1.35v1.35h-1.35zM471.6 513h1.35v1.35h-1.35zM473.3 513.7h1.35v1.35h-1.35zM475.6 513.1h1.35v1.35h-1.35zM477.2 513.7h1.35v1.35h-1.35zM479.5 513.2h1.35v1.35h-1.35zM481.1 513.4h1.35v1.35h-1.35zM456.4 515.7h1.35v1.35h-1.35zM458.5 515.1h1.35v1.35h-1.35zM460.7 515.7h1.35v1.35h-1.35zM462.3 515.8h1.35v1.35h-1.35zM464.6 515.2h1.35v1.35h-1.35zM466 515.8h1.35v1.35h-1.35zM468.5 515.1h1.35v1.35h-1.35zM470.4 515.7h1.35v1.35h-1.35zM472.3 515.7h1.35v1.35h-1.35zM474.4 515.3h1.35v1.35h-1.35zM476.3 515.8h1.35v1.35h-1.35zM477.9 515.6h1.35v1.35h-1.35zM480.1 515.7h1.35v1.35h-1.35zM482 515.2h1.35v1.35h-1.35zM456.8 517.1h1.35v1.35h-1.35zM458.7 517.7h1.35v1.35h-1.35zM460.8 517.8h1.35v1.35h-1.35zM462.6 517.1h1.35v1.35h-1.35zM466.6 517.8h1.35v1.35h-1.35zM470.4 517.1h1.35v1.35h-1.35zM474.6 517.1h1.35v1.35h-1.35zM476.5 517.1h1.35v1.35h-1.35zM482.1 517.6h1.35v1.35h-1.35zM456.9 519.5h1.35v1.35h-1.35zM459 519.2h1.35v1.35h-1.35zM461 519.5h1.35v1.35h-1.35zM462.8 519.9h1.35v1.35h-1.35zM465.1 519.3h1.35v1.35h-1.35zM467 519.2h1.35v1.35h-1.35zM468.6 519.1h1.35v1.35h-1.35zM470.7 519.5h1.35v1.35h-1.35zM472.7 519.4h1.35v1.35h-1.35zM474.5 519.7h1.35v1.35h-1.35zM476.7 519.5h1.35v1.35h-1.35zM478.4 519.1h1.35v1.35h-1.35zM480.8 519.8h1.35v1.35h-1.35zM482.8 519.4h1.35v1.35h-1.35zM458.2 521.8h1.35v1.35h-1.35zM460 521.7h1.35v1.35h-1.35zM462 521.3h1.35v1.35h-1.35zM463.7 521.6h1.35v1.35h-1.35zM465.5 521.8h1.35v1.35h-1.35zM467.9 521.4h1.35v1.35h-1.35zM469.7 521.6h1.35v1.35h-1.35zM471.9 521.9h1.35v1.35h-1.35zM473.6 521.1h1.35v1.35h-1.35zM475.9 521.8h1.35v1.35h-1.35zM477.6 521.7h1.35v1.35h-1.35zM479.2 521.7h1.35v1.35h-1.35zM481.7 521.4h1.35v1.35h-1.35zM456.6 524.1h1.35v1.35h-1.35zM458.5 523.5h1.35v1.35h-1.35zM460.5 523.3h1.35v1.35h-1.35zM462.7 523.7h1.35v1.35h-1.35zM464.4 523.6h1.35v1.35h-1.35zM466.2 523.5h1.35v1.35h-1.35zM468.3 523.6h1.35v1.35h-1.35zM470.5 523.7h1.35v1.35h-1.35zM474 523.2h1.35v1.35h-1.35zM475.9 523.5h1.35v1.35h-1.35zM478.2 524h1.35v1.35h-1.35zM479.8 523.9h1.35v1.35h-1.35zM481.9 523.7h1.35v1.35h-1.35zM456.6 525.3h1.35v1.35h-1.35zM458.7 525.3h1.35v1.35h-1.35zM460.8 525.8h1.35v1.35h-1.35zM462.4 525.6h1.35v1.35h-1.35zM464.4 525.4h1.35v1.35h-1.35zM466.3 526h1.35v1.35h-1.35zM468.4 525.9h1.35v1.35h-1.35zM470.3 526h1.35v1.35h-1.35zM472.4 525.8h1.35v1.35h-1.35zM474.2 525.7h1.35v1.35h-1.35zM476 526.1h1.35v1.35h-1.35zM478.3 525.7h1.35v1.35h-1.35zM480.2 525.3h1.35v1.35h-1.35zM482 525.4h1.35v1.35h-1.35zM456.8 528.2h1.35v1.35h-1.35zM458.5 528.2h1.35v1.35h-1.35zM460.2 528.1h1.35v1.35h-1.35zM462.1 527.8h1.35v1.35h-1.35zM464.3 528h1.35v1.35h-1.35zM466.2 527.5h1.35v1.35h-1.35zM468.5 527.8h1.35v1.35h-1.35zM470.4 527.7h1.35v1.35h-1.35zM471.9 528h1.35v1.35h-1.35zM474 527.7h1.35v1.35h-1.35zM475.8 527.5h1.35v1.35h-1.35zM478.1 528h1.35v1.35h-1.35zM480.1 527.7h1.35v1.35h-1.35zM482.1 527.9h1.35v1.35h-1.35zM460.5 530h1.35v1.35h-1.35zM464.5 529.5h1.35v1.35h-1.35zM466.6 529.4h1.35v1.35h-1.35zM472.4 529.5h1.35v1.35h-1.35zM474 529.6h1.35v1.35h-1.35zM476.2 529.6h1.35v1.35h-1.35zM463.3 531.7h1.35v1.35h-1.35zM465.1 531.8h1.35v1.35h-1.35zM467.5 531.4h1.35v1.35h-1.35zM471.4 531.7h1.35v1.35h-1.35zM472.8 532.2h1.35v1.35h-1.35zM474.9 531.6h1.35v1.35h-1.35zM476.8 531.7h1.35v1.35h-1.35zM478.7 531.5h1.35v1.35h-1.35zM480.8 531.9h1.35v1.35h-1.35zM464.2 533.7h1.35v1.35h-1.35zM465.9 533.9h1.35v1.35h-1.35zM472.2 533.6h1.35v1.35h-1.35zM473.7 534h1.35v1.35h-1.35zM466.6 535.6h1.35v1.35h-1.35zM470.6 535.9h1.35v1.35h-1.35zM467.3 538h1.35v1.35h-1.35zM471.4 537.6h1.35v1.35h-1.35z" fill="#111"/>
<line x1="469.8" y1="544.5" x2="469.8" y2="549.1" stroke="#111" stroke-width="1.3" />
<rect x="501.1" y="499.6" width="30.6" height="18.6" fill="#a3a3a3" stroke="#1a1a1a" stroke-width="1.5" /><line x1="501.1" y1="508.6" x2="531.7" y2="508.6" stroke="#1a1a1a" stroke-width="1.5" /><line x1="516.2" y1="466.9" x2="516.2" y2="499.6" stroke="#1a1a1a" stroke-width="2.4" /><line x1="516.2" y1="518.2" x2="516.2" y2="541.3" stroke="#1a1a1a" stroke-width="2.4" /><line x1="516.2" y1="499.6" x2="516.2" y2="518.2" stroke="#1a1a1a" stroke-width="2.1" stroke-dasharray="1.4 0.8" opacity="0.85"/><line x1="508.4" y1="466.9" x2="524" y2="466.9" stroke="#1a1a1a" stroke-width="1.5" /><line x1="508.4" y1="541.3" x2="524" y2="541.3" stroke="#1a1a1a" stroke-width="1.5" /><path d="M515.3 473.8h1.35v1.35h-1.35zM514.9 475.8h1.35v1.35h-1.35zM517.1 477.7h1.35v1.35h-1.35zM514.5 479.1h1.35v1.35h-1.35zM515 481.9h1.35v1.35h-1.35zM517.3 481.3h1.35v1.35h-1.35zM516.8 484.1h1.35v1.35h-1.35zM510 485.7h1.35v1.35h-1.35zM514.1 485.8h1.35v1.35h-1.35zM517.6 486h1.35v1.35h-1.35zM519.7 485.7h1.35v1.35h-1.35zM514.1 487.3h1.35v1.35h-1.35zM516.3 487.9h1.35v1.35h-1.35zM518 487.7h1.35v1.35h-1.35zM511.3 490.2h1.35v1.35h-1.35zM515.7 490h1.35v1.35h-1.35zM517.1 490h1.35v1.35h-1.35zM521.3 489.8h1.35v1.35h-1.35zM513 491.8h1.35v1.35h-1.35zM517.1 491.9h1.35v1.35h-1.35zM519.2 491.8h1.35v1.35h-1.35zM508.1 493.5h1.35v1.35h-1.35zM510 493.5h1.35v1.35h-1.35zM512.1 494.2h1.35v1.35h-1.35zM514.2 494.2h1.35v1.35h-1.35zM517.8 493.8h1.35v1.35h-1.35zM505.7 495.8h1.35v1.35h-1.35zM508.1 496.1h1.35v1.35h-1.35zM509.7 495.6h1.35v1.35h-1.35zM519.7 495.8h1.35v1.35h-1.35zM521.5 496.3h1.35v1.35h-1.35zM523.5 495.6h1.35v1.35h-1.35zM525.5 495.5h1.35v1.35h-1.35zM508.5 497.9h1.35v1.35h-1.35zM510.6 497.9h1.35v1.35h-1.35zM512.4 497.9h1.35v1.35h-1.35zM516.3 498.4h1.35v1.35h-1.35zM520 497.5h1.35v1.35h-1.35zM506.5 500.4h1.35v1.35h-1.35zM508.6 499.8h1.35v1.35h-1.35zM510.4 500h1.35v1.35h-1.35zM512.5 500.4h1.35v1.35h-1.35zM514.5 500h1.35v1.35h-1.35zM516 499.7h1.35v1.35h-1.35zM518.3 500.3h1.35v1.35h-1.35zM520 499.9h1.35v1.35h-1.35zM522.2 500.2h1.35v1.35h-1.35zM524.2 500.4h1.35v1.35h-1.35zM526.2 500h1.35v1.35h-1.35zM504.8 502.1h1.35v1.35h-1.35zM508.9 502.5h1.35v1.35h-1.35zM512.7 502h1.35v1.35h-1.35zM514.5 502.4h1.35v1.35h-1.35zM518.3 502.2h1.35v1.35h-1.35zM522.6 502.3h1.35v1.35h-1.35zM524.4 502.5h1.35v1.35h-1.35zM505.3 504.5h1.35v1.35h-1.35zM507.4 503.8h1.35v1.35h-1.35zM509.6 503.9h1.35v1.35h-1.35zM511.6 504.3h1.35v1.35h-1.35zM513.2 504.3h1.35v1.35h-1.35zM515.1 504.3h1.35v1.35h-1.35zM517 504.2h1.35v1.35h-1.35zM519.2 504.1h1.35v1.35h-1.35zM521.3 504.3h1.35v1.35h-1.35zM522.8 504.4h1.35v1.35h-1.35zM524.8 504.4h1.35v1.35h-1.35zM505.4 506.6h1.35v1.35h-1.35zM507.2 506.2h1.35v1.35h-1.35zM509.1 505.8h1.35v1.35h-1.35zM511 506.6h1.35v1.35h-1.35zM513.1 506h1.35v1.35h-1.35zM515 506.4h1.35v1.35h-1.35zM516.6 506.6h1.35v1.35h-1.35zM518.5 505.8h1.35v1.35h-1.35zM520.6 506.2h1.35v1.35h-1.35zM522.7 506.6h1.35v1.35h-1.35zM524.8 506.4h1.35v1.35h-1.35zM506.4 508.2h1.35v1.35h-1.35zM508.1 508.7h1.35v1.35h-1.35zM510.4 508.1h1.35v1.35h-1.35zM511.9 508.7h1.35v1.35h-1.35zM514 508.5h1.35v1.35h-1.35zM517.8 508.4h1.35v1.35h-1.35zM519.9 508.6h1.35v1.35h-1.35zM521.8 507.9h1.35v1.35h-1.35zM523.7 508.5h1.35v1.35h-1.35zM526.1 508.4h1.35v1.35h-1.35zM506 510.1h1.35v1.35h-1.35zM508.1 510.6h1.35v1.35h-1.35zM512.2 510.3h1.35v1.35h-1.35zM513.7 510.3h1.35v1.35h-1.35zM516 510.3h1.35v1.35h-1.35zM517.5 510.2h1.35v1.35h-1.35zM519.7 509.9h1.35v1.35h-1.35zM521.9 510.2h1.35v1.35h-1.35zM523.7 510h1.35v1.35h-1.35zM525.5 509.9h1.35v1.35h-1.35zM506.2 512h1.35v1.35h-1.35zM508.3 512.2h1.35v1.35h-1.35zM510 512h1.35v1.35h-1.35zM512.1 512h1.35v1.35h-1.35zM514 512.4h1.35v1.35h-1.35zM516.1 512.2h1.35v1.35h-1.35zM520.1 512h1.35v1.35h-1.35zM521.8 512.7h1.35v1.35h-1.35zM524.1 512.7h1.35v1.35h-1.35zM526 512.4h1.35v1.35h-1.35zM505.5 514.3h1.35v1.35h-1.35zM507.4 514.2h1.35v1.35h-1.35zM508.8 514.6h1.35v1.35h-1.35zM510.9 514h1.35v1.35h-1.35zM512.9 514.5h1.35v1.35h-1.35zM515.2 514.3h1.35v1.35h-1.35zM517 514h1.35v1.35h-1.35zM518.7 514.6h1.35v1.35h-1.35zM520.6 514.2h1.35v1.35h-1.35zM522.5 514.6h1.35v1.35h-1.35zM524.7 514.5h1.35v1.35h-1.35zM506.2 516.4h1.35v1.35h-1.35zM507.8 516.8h1.35v1.35h-1.35zM509.9 516.8h1.35v1.35h-1.35zM513.7 516.8h1.35v1.35h-1.35zM515.9 516.1h1.35v1.35h-1.35zM519.6 516.6h1.35v1.35h-1.35zM523.9 516.4h1.35v1.35h-1.35zM525.7 516.7h1.35v1.35h-1.35zM508.7 518.2h1.35v1.35h-1.35zM510.6 518.8h1.35v1.35h-1.35zM514.5 518.5h1.35v1.35h-1.35zM516.6 518.8h1.35v1.35h-1.35zM517.9 518.8h1.35v1.35h-1.35zM509.5 520.5h1.35v1.35h-1.35zM513.3 520.8h1.35v1.35h-1.35zM515.3 520.9h1.35v1.35h-1.35zM520.8 520.9h1.35v1.35h-1.35zM523.2 520.5h1.35v1.35h-1.35zM504.7 522.2h1.35v1.35h-1.35zM510.8 522.4h1.35v1.35h-1.35zM512.6 522.5h1.35v1.35h-1.35zM514.5 522.9h1.35v1.35h-1.35zM516.9 522.6h1.35v1.35h-1.35zM518.6 522.4h1.35v1.35h-1.35zM524.5 522.4h1.35v1.35h-1.35zM506.2 525h1.35v1.35h-1.35zM508.2 524.4h1.35v1.35h-1.35zM509.9 524.4h1.35v1.35h-1.35zM511.9 524.5h1.35v1.35h-1.35zM513.8 524.2h1.35v1.35h-1.35zM517.8 525h1.35v1.35h-1.35zM523.9 524.5h1.35v1.35h-1.35zM512.2 527.1h1.35v1.35h-1.35zM514.3 526.8h1.35v1.35h-1.35zM518.3 526.2h1.35v1.35h-1.35zM520.4 527.1h1.35v1.35h-1.35zM522.4 526.4h1.35v1.35h-1.35zM513.3 529.1h1.35v1.35h-1.35zM517.1 529h1.35v1.35h-1.35zM513.1 530.3h1.35v1.35h-1.35zM515.1 531.1h1.35v1.35h-1.35zM518.8 531.2h1.35v1.35h-1.35zM513.5 532.7h1.35v1.35h-1.35z" fill="#111"/>
<line x1="516.2" y1="544.5" x2="516.2" y2="549.1" stroke="#111" stroke-width="1.3" />
<rect x="547.8" y="489.3" width="30.3" height="23.1" fill="#fff" stroke="#1a1a1a" stroke-width="1.5" /><line x1="547.8" y1="500.4" x2="578.1" y2="500.4" stroke="#1a1a1a" stroke-width="1.5" /><line x1="562.7" y1="454.3" x2="562.7" y2="489.3" stroke="#1a1a1a" stroke-width="2.4" /><line x1="562.7" y1="512.4" x2="562.7" y2="534.6" stroke="#1a1a1a" stroke-width="2.4" /><line x1="562.7" y1="489.3" x2="562.7" y2="512.4" stroke="#1a1a1a" stroke-width="2.1" stroke-dasharray="1.4 0.8" opacity="0.85"/><line x1="554.9" y1="454.3" x2="570.5" y2="454.3" stroke="#1a1a1a" stroke-width="1.5" /><line x1="554.9" y1="534.6" x2="570.5" y2="534.6" stroke="#1a1a1a" stroke-width="1.5" /><path d="M562.3 462.7h1.35v1.35h-1.35zM560.9 466.7h1.35v1.35h-1.35zM564.8 467.4h1.35v1.35h-1.35zM562.3 468.7h1.35v1.35h-1.35zM564.3 468.5h1.35v1.35h-1.35zM566.1 469h1.35v1.35h-1.35zM561.4 471.1h1.35v1.35h-1.35zM563.4 470.6h1.35v1.35h-1.35zM559.8 473.4h1.35v1.35h-1.35zM563.8 472.8h1.35v1.35h-1.35zM559.2 474.9h1.35v1.35h-1.35zM561.2 475.6h1.35v1.35h-1.35zM564.9 474.7h1.35v1.35h-1.35zM554.4 477.6h1.35v1.35h-1.35zM556.2 477.1h1.35v1.35h-1.35zM557.8 477.1h1.35v1.35h-1.35zM559.9 477.2h1.35v1.35h-1.35zM562 476.8h1.35v1.35h-1.35zM569.7 477.2h1.35v1.35h-1.35zM558.5 479.2h1.35v1.35h-1.35zM560.3 479.4h1.35v1.35h-1.35zM562.3 479.2h1.35v1.35h-1.35zM557 481.6h1.35v1.35h-1.35zM558.7 481.2h1.35v1.35h-1.35zM563 481.6h1.35v1.35h-1.35zM566.7 481.3h1.35v1.35h-1.35zM568.6 481.5h1.35v1.35h-1.35zM555.3 483.4h1.35v1.35h-1.35zM559.3 483.5h1.35v1.35h-1.35zM564.6 482.9h1.35v1.35h-1.35zM566.6 483.3h1.35v1.35h-1.35zM568.5 483.3h1.35v1.35h-1.35zM551.5 485.1h1.35v1.35h-1.35zM553.6 485.7h1.35v1.35h-1.35zM555.7 485h1.35v1.35h-1.35zM557.5 485.5h1.35v1.35h-1.35zM559.8 485h1.35v1.35h-1.35zM561.7 485.3h1.35v1.35h-1.35zM567.4 485.3h1.35v1.35h-1.35zM569.3 485.8h1.35v1.35h-1.35zM573.5 485.8h1.35v1.35h-1.35zM575.3 485.6h1.35v1.35h-1.35zM557.2 487.3h1.35v1.35h-1.35zM559 487.9h1.35v1.35h-1.35zM561.4 487.7h1.35v1.35h-1.35zM562.8 487.4h1.35v1.35h-1.35zM564.8 487.6h1.35v1.35h-1.35zM567.2 487.7h1.35v1.35h-1.35zM550 489.5h1.35v1.35h-1.35zM551.4 489.5h1.35v1.35h-1.35zM553.7 489.6h1.35v1.35h-1.35zM555.3 489.2h1.35v1.35h-1.35zM557.3 489.2h1.35v1.35h-1.35zM559.7 489.4h1.35v1.35h-1.35zM561.6 489.3h1.35v1.35h-1.35zM563.4 489.5h1.35v1.35h-1.35zM565.5 489.2h1.35v1.35h-1.35zM567.1 489h1.35v1.35h-1.35zM569 489.9h1.35v1.35h-1.35zM571 489.4h1.35v1.35h-1.35zM573.4 489.2h1.35v1.35h-1.35zM574.8 489.3h1.35v1.35h-1.35zM549.8 491.7h1.35v1.35h-1.35zM551.7 491.1h1.35v1.35h-1.35zM555.6 491.9h1.35v1.35h-1.35zM557.8 491.6h1.35v1.35h-1.35zM559.7 491.3h1.35v1.35h-1.35zM561.6 491.7h1.35v1.35h-1.35zM563.6 491.5h1.35v1.35h-1.35zM567.9 491.5h1.35v1.35h-1.35zM569.8 491.5h1.35v1.35h-1.35zM571.7 491.3h1.35v1.35h-1.35zM575.2 491.3h1.35v1.35h-1.35zM548.8 493.5h1.35v1.35h-1.35zM550.9 493.6h1.35v1.35h-1.35zM552.8 493.7h1.35v1.35h-1.35zM554.8 493.2h1.35v1.35h-1.35zM556.4 493.4h1.35v1.35h-1.35zM558.3 493.6h1.35v1.35h-1.35zM560.3 493.7h1.35v1.35h-1.35zM562.5 493.7h1.35v1.35h-1.35zM564.1 493.5h1.35v1.35h-1.35zM566.4 493.9h1.35v1.35h-1.35zM568.2 493.2h1.35v1.35h-1.35zM570.5 493.5h1.35v1.35h-1.35zM572.4 493.1h1.35v1.35h-1.35zM573.9 493.6h1.35v1.35h-1.35zM548.7 495.4h1.35v1.35h-1.35zM550.9 495.9h1.35v1.35h-1.35zM554.8 495.5h1.35v1.35h-1.35zM556.8 495.4h1.35v1.35h-1.35zM560.5 495.8h1.35v1.35h-1.35zM564.2 495.5h1.35v1.35h-1.35zM566.1 495.9h1.35v1.35h-1.35zM572 495.3h1.35v1.35h-1.35zM574 495.8h1.35v1.35h-1.35zM549.6 497.8h1.35v1.35h-1.35zM551.9 497.3h1.35v1.35h-1.35zM553.9 497.2h1.35v1.35h-1.35zM555.7 497.7h1.35v1.35h-1.35zM557.8 497.9h1.35v1.35h-1.35zM559.2 497.6h1.35v1.35h-1.35zM561.7 497.6h1.35v1.35h-1.35zM563.6 497.6h1.35v1.35h-1.35zM565.4 497.7h1.35v1.35h-1.35zM567.3 498.1h1.35v1.35h-1.35zM569.3 497.4h1.35v1.35h-1.35zM571.3 498h1.35v1.35h-1.35zM573.3 498.1h1.35v1.35h-1.35zM574.8 497.5h1.35v1.35h-1.35zM551.2 499.9h1.35v1.35h-1.35zM553.4 500.2h1.35v1.35h-1.35zM557.4 500h1.35v1.35h-1.35zM560.9 499.9h1.35v1.35h-1.35zM563 500.1h1.35v1.35h-1.35zM564.9 499.6h1.35v1.35h-1.35zM570.5 499.7h1.35v1.35h-1.35zM572.8 499.6h1.35v1.35h-1.35zM553.2 501.4h1.35v1.35h-1.35zM555 501.8h1.35v1.35h-1.35zM557.5 501.6h1.35v1.35h-1.35zM559.1 501.6h1.35v1.35h-1.35zM561.2 501.8h1.35v1.35h-1.35zM565.2 501.3h1.35v1.35h-1.35zM568.7 501.5h1.35v1.35h-1.35zM570.8 501.7h1.35v1.35h-1.35zM550 503.7h1.35v1.35h-1.35zM552 503.7h1.35v1.35h-1.35zM555.9 503.6h1.35v1.35h-1.35zM559.8 503.6h1.35v1.35h-1.35zM561.8 503.5h1.35v1.35h-1.35zM563.9 503.9h1.35v1.35h-1.35zM565.9 503.8h1.35v1.35h-1.35zM567.8 504.3h1.35v1.35h-1.35zM571.5 504h1.35v1.35h-1.35zM573.3 503.4h1.35v1.35h-1.35zM575.6 503.5h1.35v1.35h-1.35zM548.7 505.8h1.35v1.35h-1.35zM550.4 505.7h1.35v1.35h-1.35zM552.9 506.1h1.35v1.35h-1.35zM554.6 506h1.35v1.35h-1.35zM556.7 506.3h1.35v1.35h-1.35zM558.5 505.5h1.35v1.35h-1.35zM562.6 505.6h1.35v1.35h-1.35zM564.2 505.5h1.35v1.35h-1.35zM566.3 505.9h1.35v1.35h-1.35zM570.1 505.8h1.35v1.35h-1.35zM571.9 506.1h1.35v1.35h-1.35zM574.1 505.7h1.35v1.35h-1.35zM548.6 507.8h1.35v1.35h-1.35zM550.6 507.6h1.35v1.35h-1.35zM552.4 508.3h1.35v1.35h-1.35zM554.5 508.2h1.35v1.35h-1.35zM556.5 507.5h1.35v1.35h-1.35zM558.3 508.4h1.35v1.35h-1.35zM560.2 508.1h1.35v1.35h-1.35zM562.2 507.7h1.35v1.35h-1.35zM564.2 508.1h1.35v1.35h-1.35zM566.5 508.3h1.35v1.35h-1.35zM568.3 507.6h1.35v1.35h-1.35zM570.3 508.2h1.35v1.35h-1.35zM571.9 507.9h1.35v1.35h-1.35zM574.1 508.1h1.35v1.35h-1.35zM549.8 510.3h1.35v1.35h-1.35zM551.8 509.7h1.35v1.35h-1.35zM553.5 509.7h1.35v1.35h-1.35zM555.5 509.5h1.35v1.35h-1.35zM557.2 510.2h1.35v1.35h-1.35zM559.4 510.4h1.35v1.35h-1.35zM561 509.7h1.35v1.35h-1.35zM563.3 509.7h1.35v1.35h-1.35zM565.4 509.6h1.35v1.35h-1.35zM567 509.7h1.35v1.35h-1.35zM569.4 510.3h1.35v1.35h-1.35zM570.8 509.7h1.35v1.35h-1.35zM572.9 510h1.35v1.35h-1.35zM574.6 509.6h1.35v1.35h-1.35zM548.5 511.6h1.35v1.35h-1.35zM550.6 512h1.35v1.35h-1.35zM552.4 512.1h1.35v1.35h-1.35zM554.4 511.6h1.35v1.35h-1.35zM556.6 512.1h1.35v1.35h-1.35zM560 511.7h1.35v1.35h-1.35zM564.4 511.8h1.35v1.35h-1.35zM566.1 512h1.35v1.35h-1.35zM570.2 512.4h1.35v1.35h-1.35zM571.7 511.7h1.35v1.35h-1.35zM573.7 511.6h1.35v1.35h-1.35zM548.7 513.9h1.35v1.35h-1.35zM550.5 513.9h1.35v1.35h-1.35zM552.3 514h1.35v1.35h-1.35zM554.2 513.7h1.35v1.35h-1.35zM556.3 514.3h1.35v1.35h-1.35zM558 514.1h1.35v1.35h-1.35zM560.4 513.9h1.35v1.35h-1.35zM562.2 514.1h1.35v1.35h-1.35zM564.1 514.3h1.35v1.35h-1.35zM566 513.6h1.35v1.35h-1.35zM567.9 513.7h1.35v1.35h-1.35zM569.7 514.5h1.35v1.35h-1.35zM571.8 513.9h1.35v1.35h-1.35zM574.1 513.7h1.35v1.35h-1.35zM553.5 516.2h1.35v1.35h-1.35zM555.4 516.1h1.35v1.35h-1.35zM559 516.1h1.35v1.35h-1.35zM563.3 516.2h1.35v1.35h-1.35zM564.8 515.8h1.35v1.35h-1.35zM567.3 516.2h1.35v1.35h-1.35zM555.7 518h1.35v1.35h-1.35zM557.3 518.6h1.35v1.35h-1.35zM559.7 518.4h1.35v1.35h-1.35zM561.4 518.6h1.35v1.35h-1.35zM565.4 518h1.35v1.35h-1.35zM569.4 518.5h1.35v1.35h-1.35zM552.1 520.6h1.35v1.35h-1.35zM554.3 520.5h1.35v1.35h-1.35zM556.2 519.9h1.35v1.35h-1.35zM562 520h1.35v1.35h-1.35zM567.7 520h1.35v1.35h-1.35zM569.8 520.6h1.35v1.35h-1.35zM571.6 520.3h1.35v1.35h-1.35zM573.4 520h1.35v1.35h-1.35zM575.5 520.1h1.35v1.35h-1.35zM553.5 522.6h1.35v1.35h-1.35zM557.5 521.9h1.35v1.35h-1.35zM561.4 522.4h1.35v1.35h-1.35zM563.2 522.4h1.35v1.35h-1.35zM565.2 522h1.35v1.35h-1.35zM569.2 521.9h1.35v1.35h-1.35zM559.7 524.5h1.35v1.35h-1.35zM563.4 524.2h1.35v1.35h-1.35zM565.1 524.3h1.35v1.35h-1.35zM563.5 526.6h1.35v1.35h-1.35zM562.8 528.7h1.35v1.35h-1.35z" fill="#111"/>
<line x1="562.7" y1="544.5" x2="562.7" y2="549.1" stroke="#111" stroke-width="1.3" />
<rect x="593.9" y="441.1" width="30.4" height="51.2" fill="#a3a3a3" stroke="#1a1a1a" stroke-width="1.5" /><line x1="593.9" y1="470.7" x2="624.3" y2="470.7" stroke="#1a1a1a" stroke-width="1.5" /><line x1="609.1" y1="364.3" x2="609.1" y2="441.1" stroke="#1a1a1a" stroke-width="2.4" /><line x1="609.1" y1="492.3" x2="609.1" y2="542.2" stroke="#1a1a1a" stroke-width="2.4" /><line x1="609.1" y1="441.1" x2="609.1" y2="492.3" stroke="#1a1a1a" stroke-width="2.1" stroke-dasharray="1.4 0.8" opacity="0.85"/><line x1="601.3" y1="364.3" x2="616.9" y2="364.3" stroke="#1a1a1a" stroke-width="1.5" /><line x1="601.3" y1="542.2" x2="616.9" y2="542.2" stroke="#1a1a1a" stroke-width="1.5" /><path d="M607.9 380.8h1.35v1.35h-1.35zM607.2 383.2h1.35v1.35h-1.35zM609.1 385.2h1.35v1.35h-1.35zM608.9 387.1h1.35v1.35h-1.35zM607.4 389.1h1.35v1.35h-1.35zM608.2 391.6h1.35v1.35h-1.35zM607.7 393.6h1.35v1.35h-1.35zM607.9 395.4h1.35v1.35h-1.35zM610 397h1.35v1.35h-1.35zM607.1 399.8h1.35v1.35h-1.35zM609.7 401.6h1.35v1.35h-1.35zM605.8 403.8h1.35v1.35h-1.35zM609.7 403.2h1.35v1.35h-1.35zM607.4 405.9h1.35v1.35h-1.35zM611.2 405.3h1.35v1.35h-1.35zM609.2 407.3h1.35v1.35h-1.35zM610.9 407.9h1.35v1.35h-1.35zM604.4 409.4h1.35v1.35h-1.35zM606.5 410.1h1.35v1.35h-1.35zM608 409.8h1.35v1.35h-1.35zM608.6 411.5h1.35v1.35h-1.35zM610.7 411.6h1.35v1.35h-1.35zM603.6 413.5h1.35v1.35h-1.35zM605.6 414h1.35v1.35h-1.35zM609.6 414.2h1.35v1.35h-1.35zM607.5 416.1h1.35v1.35h-1.35zM605.3 418h1.35v1.35h-1.35zM607.3 418.2h1.35v1.35h-1.35zM611 418.3h1.35v1.35h-1.35zM610.1 419.9h1.35v1.35h-1.35zM605.7 422.2h1.35v1.35h-1.35zM607.9 422.4h1.35v1.35h-1.35zM601 423.9h1.35v1.35h-1.35zM602.9 423.9h1.35v1.35h-1.35zM604.7 424.1h1.35v1.35h-1.35zM607 424.1h1.35v1.35h-1.35zM612.6 423.9h1.35v1.35h-1.35zM604.9 426.3h1.35v1.35h-1.35zM609.1 426h1.35v1.35h-1.35zM612.7 426.1h1.35v1.35h-1.35zM605.3 427.9h1.35v1.35h-1.35zM607.2 427.8h1.35v1.35h-1.35zM608.8 428.4h1.35v1.35h-1.35zM612.9 427.8h1.35v1.35h-1.35zM603.9 430.1h1.35v1.35h-1.35zM606 430.6h1.35v1.35h-1.35zM609.5 430.6h1.35v1.35h-1.35zM611.9 430.4h1.35v1.35h-1.35zM601.2 432.7h1.35v1.35h-1.35zM602.9 432.2h1.35v1.35h-1.35zM608.9 432h1.35v1.35h-1.35zM611 431.9h1.35v1.35h-1.35zM614.6 432.2h1.35v1.35h-1.35zM605.1 434.1h1.35v1.35h-1.35zM610.9 433.9h1.35v1.35h-1.35zM613 434.1h1.35v1.35h-1.35zM601.3 436.3h1.35v1.35h-1.35zM605.4 436.5h1.35v1.35h-1.35zM607.4 436.1h1.35v1.35h-1.35zM609.3 436h1.35v1.35h-1.35zM615 436.1h1.35v1.35h-1.35zM605.1 438.7h1.35v1.35h-1.35zM609.1 438.2h1.35v1.35h-1.35zM611.3 438.2h1.35v1.35h-1.35zM613 438.5h1.35v1.35h-1.35zM604 440.6h1.35v1.35h-1.35zM605.8 440.6h1.35v1.35h-1.35zM611.7 440.9h1.35v1.35h-1.35zM602.1 442.6h1.35v1.35h-1.35zM603.8 442.5h1.35v1.35h-1.35zM607.9 442.6h1.35v1.35h-1.35zM613.8 442.8h1.35v1.35h-1.35zM615.9 442.6h1.35v1.35h-1.35zM604.8 444.6h1.35v1.35h-1.35zM609 444.5h1.35v1.35h-1.35zM610.7 444.9h1.35v1.35h-1.35zM612.7 444.5h1.35v1.35h-1.35zM609 446.4h1.35v1.35h-1.35zM610.7 446.9h1.35v1.35h-1.35zM612.6 446.3h1.35v1.35h-1.35zM599.7 448.7h1.35v1.35h-1.35zM601.6 448.5h1.35v1.35h-1.35zM603.9 448.6h1.35v1.35h-1.35zM607.4 448.8h1.35v1.35h-1.35zM609.3 448.7h1.35v1.35h-1.35zM611.6 448.3h1.35v1.35h-1.35zM603.1 450.9h1.35v1.35h-1.35zM605.1 450.8h1.35v1.35h-1.35zM609 451.2h1.35v1.35h-1.35zM611.4 450.7h1.35v1.35h-1.35zM613.4 450.3h1.35v1.35h-1.35zM603.7 452.5h1.35v1.35h-1.35zM607.7 452.5h1.35v1.35h-1.35zM609.3 453.1h1.35v1.35h-1.35zM613.6 452.7h1.35v1.35h-1.35zM599.9 455h1.35v1.35h-1.35zM601.9 454.7h1.35v1.35h-1.35zM604 454.5h1.35v1.35h-1.35zM605.9 454.5h1.35v1.35h-1.35zM610 454.8h1.35v1.35h-1.35zM611.5 454.8h1.35v1.35h-1.35zM603.8 457.1h1.35v1.35h-1.35zM605.9 456.4h1.35v1.35h-1.35zM611.6 456.8h1.35v1.35h-1.35zM603 458.7h1.35v1.35h-1.35zM604.5 459.2h1.35v1.35h-1.35zM606.8 458.6h1.35v1.35h-1.35zM608.8 458.7h1.35v1.35h-1.35zM610.3 458.5h1.35v1.35h-1.35zM614.5 459h1.35v1.35h-1.35zM603.8 461.3h1.35v1.35h-1.35zM605.9 461.3h1.35v1.35h-1.35zM608 460.8h1.35v1.35h-1.35zM609.9 460.5h1.35v1.35h-1.35zM614 461.1h1.35v1.35h-1.35zM615.5 461h1.35v1.35h-1.35zM606.9 463.4h1.35v1.35h-1.35zM608.5 463.2h1.35v1.35h-1.35zM610.8 463.4h1.35v1.35h-1.35zM612.3 463.3h1.35v1.35h-1.35zM614.3 463.3h1.35v1.35h-1.35zM603.8 465.1h1.35v1.35h-1.35zM607.9 465.1h1.35v1.35h-1.35zM609.4 464.9h1.35v1.35h-1.35zM611.4 464.7h1.35v1.35h-1.35zM613.6 464.8h1.35v1.35h-1.35zM602.6 467.1h1.35v1.35h-1.35zM604.5 466.9h1.35v1.35h-1.35zM606.7 467h1.35v1.35h-1.35zM608.4 467.1h1.35v1.35h-1.35zM612.5 467.2h1.35v1.35h-1.35zM600.2 469.5h1.35v1.35h-1.35zM604.4 469.3h1.35v1.35h-1.35zM610.4 469.4h1.35v1.35h-1.35zM612.3 469.5h1.35v1.35h-1.35zM614.4 469.4h1.35v1.35h-1.35zM615.8 468.8h1.35v1.35h-1.35zM602.7 471.2h1.35v1.35h-1.35zM604.6 470.8h1.35v1.35h-1.35zM606.8 470.9h1.35v1.35h-1.35zM612.9 470.9h1.35v1.35h-1.35zM614.7 471.5h1.35v1.35h-1.35zM601.5 473.4h1.35v1.35h-1.35zM605.3 473.7h1.35v1.35h-1.35zM607.3 473.5h1.35v1.35h-1.35zM608.8 473.4h1.35v1.35h-1.35zM613.2 473.4h1.35v1.35h-1.35zM599.1 475.6h1.35v1.35h-1.35zM601.4 475.3h1.35v1.35h-1.35zM603.1 475.7h1.35v1.35h-1.35zM605.3 475.4h1.35v1.35h-1.35zM606.9 475.1h1.35v1.35h-1.35zM609.2 474.9h1.35v1.35h-1.35zM611.2 475.4h1.35v1.35h-1.35zM612.9 475.1h1.35v1.35h-1.35zM614.9 475.6h1.35v1.35h-1.35zM604.1 477.8h1.35v1.35h-1.35zM607.8 477.6h1.35v1.35h-1.35zM610.2 477.7h1.35v1.35h-1.35zM613.9 477.5h1.35v1.35h-1.35zM615.8 477.1h1.35v1.35h-1.35zM599.2 479.6h1.35v1.35h-1.35zM601 479.4h1.35v1.35h-1.35zM603.1 479.7h1.35v1.35h-1.35zM610.6 479.4h1.35v1.35h-1.35zM612.6 479.8h1.35v1.35h-1.35zM614.5 479.9h1.35v1.35h-1.35zM616.6 479.7h1.35v1.35h-1.35zM605.8 481.5h1.35v1.35h-1.35zM607.5 481.2h1.35v1.35h-1.35zM611.7 481.4h1.35v1.35h-1.35zM613.4 481.6h1.35v1.35h-1.35zM598.5 483.5h1.35v1.35h-1.35zM602.8 483.4h1.35v1.35h-1.35zM604.5 483.3h1.35v1.35h-1.35zM606.8 483.5h1.35v1.35h-1.35zM610.3 483.4h1.35v1.35h-1.35zM612.4 483.5h1.35v1.35h-1.35zM614.3 483.8h1.35v1.35h-1.35zM616.2 483.8h1.35v1.35h-1.35zM604.2 485.8h1.35v1.35h-1.35zM606.4 485.9h1.35v1.35h-1.35zM608.3 485.3h1.35v1.35h-1.35zM610 485.1h1.35v1.35h-1.35zM611.9 485.4h1.35v1.35h-1.35zM615.8 485.6h1.35v1.35h-1.35zM605.7 487.2h1.35v1.35h-1.35zM609.9 487.9h1.35v1.35h-1.35zM611.9 487.4h1.35v1.35h-1.35zM613.5 487.8h1.35v1.35h-1.35zM601.2 490.1h1.35v1.35h-1.35zM602.9 489.8h1.35v1.35h-1.35zM608.8 490.1h1.35v1.35h-1.35zM613.1 490h1.35v1.35h-1.35zM615 489.4h1.35v1.35h-1.35zM602.5 491.5h1.35v1.35h-1.35zM604.6 491.4h1.35v1.35h-1.35zM611.9 491.6h1.35v1.35h-1.35zM614.2 491.4h1.35v1.35h-1.35zM616.2 491.8h1.35v1.35h-1.35zM599.1 494.1h1.35v1.35h-1.35zM601.3 493.5h1.35v1.35h-1.35zM605.2 493.4h1.35v1.35h-1.35zM607 493.6h1.35v1.35h-1.35zM609.2 494h1.35v1.35h-1.35zM611.1 493.5h1.35v1.35h-1.35zM612.6 493.9h1.35v1.35h-1.35zM616.9 493.3h1.35v1.35h-1.35zM602.2 495.8h1.35v1.35h-1.35zM604.2 496.1h1.35v1.35h-1.35zM606.1 496.1h1.35v1.35h-1.35zM608.5 495.6h1.35v1.35h-1.35zM610.3 495.6h1.35v1.35h-1.35zM612.2 495.5h1.35v1.35h-1.35zM615.9 495.5h1.35v1.35h-1.35zM618.3 495.8h1.35v1.35h-1.35zM600.2 497.6h1.35v1.35h-1.35zM602.3 497.9h1.35v1.35h-1.35zM606.2 498.2h1.35v1.35h-1.35zM609.8 497.9h1.35v1.35h-1.35zM611.8 498.3h1.35v1.35h-1.35zM613.8 498.1h1.35v1.35h-1.35zM616 498h1.35v1.35h-1.35zM618.1 498.3h1.35v1.35h-1.35zM604.3 500.3h1.35v1.35h-1.35zM608.1 500.1h1.35v1.35h-1.35zM610 500.2h1.35v1.35h-1.35zM614.4 500h1.35v1.35h-1.35zM602 502.2h1.35v1.35h-1.35zM608.2 502h1.35v1.35h-1.35zM610.1 501.9h1.35v1.35h-1.35zM611.9 501.5h1.35v1.35h-1.35zM613.7 501.5h1.35v1.35h-1.35zM615.5 502.3h1.35v1.35h-1.35zM608 503.7h1.35v1.35h-1.35zM609.7 503.6h1.35v1.35h-1.35zM611.9 504.2h1.35v1.35h-1.35zM601.9 506.1h1.35v1.35h-1.35zM605.9 506.5h1.35v1.35h-1.35zM610 506.2h1.35v1.35h-1.35zM611.7 506h1.35v1.35h-1.35zM613.8 506h1.35v1.35h-1.35zM604.3 508.4h1.35v1.35h-1.35zM606.5 508.3h1.35v1.35h-1.35zM610.1 508.3h1.35v1.35h-1.35zM607.2 510.6h1.35v1.35h-1.35zM611 510.5h1.35v1.35h-1.35zM604.6 511.8h1.35v1.35h-1.35zM608.5 512.4h1.35v1.35h-1.35zM612.4 511.9h1.35v1.35h-1.35zM608.9 514.7h1.35v1.35h-1.35zM609.5 516.4h1.35v1.35h-1.35zM611 516.4h1.35v1.35h-1.35zM609.1 518.7h1.35v1.35h-1.35zM611.3 518.6h1.35v1.35h-1.35zM613 518.1h1.35v1.35h-1.35zM607.5 520.2h1.35v1.35h-1.35zM609.3 522.2h1.35v1.35h-1.35zM609.3 524.4h1.35v1.35h-1.35zM607.2 528.5h1.35v1.35h-1.35zM607.7 534.4h1.35v1.35h-1.35z" fill="#111"/>
<line x1="609.1" y1="544.5" x2="609.1" y2="549.1" stroke="#111" stroke-width="1.3" />
<rect x="640.3" y="486.4" width="30.7" height="21.9" fill="#fff" stroke="#1a1a1a" stroke-width="1.5" /><line x1="640.3" y1="500.4" x2="671" y2="500.4" stroke="#1a1a1a" stroke-width="1.5" /><line x1="655.5" y1="450.2" x2="655.5" y2="486.4" stroke="#1a1a1a" stroke-width="2.4" /><line x1="655.5" y1="508.3" x2="655.5" y2="539.3" stroke="#1a1a1a" stroke-width="2.4" /><line x1="655.5" y1="486.4" x2="655.5" y2="508.3" stroke="#1a1a1a" stroke-width="2.1" stroke-dasharray="1.4 0.8" opacity="0.85"/><line x1="647.7" y1="450.2" x2="663.3" y2="450.2" stroke="#1a1a1a" stroke-width="1.5" /><line x1="647.7" y1="539.3" x2="663.3" y2="539.3" stroke="#1a1a1a" stroke-width="1.5" /><path d="M655 452.6h1.35v1.35h-1.35zM655.6 454.8h1.35v1.35h-1.35zM656.1 458.4h1.35v1.35h-1.35zM655.9 461.2h1.35v1.35h-1.35zM655.2 463.2h1.35v1.35h-1.35zM650.2 464.6h1.35v1.35h-1.35zM652.5 464.9h1.35v1.35h-1.35zM656 464.7h1.35v1.35h-1.35zM654 466.7h1.35v1.35h-1.35zM655.5 466.6h1.35v1.35h-1.35zM652.3 469.4h1.35v1.35h-1.35zM653.7 469.3h1.35v1.35h-1.35zM657.7 469.1h1.35v1.35h-1.35zM653.7 471.1h1.35v1.35h-1.35zM655.9 471.3h1.35v1.35h-1.35zM651.9 473.2h1.35v1.35h-1.35zM655.9 473.2h1.35v1.35h-1.35zM659.6 473.2h1.35v1.35h-1.35zM652.2 474.9h1.35v1.35h-1.35zM654 475.5h1.35v1.35h-1.35zM656.2 475.3h1.35v1.35h-1.35zM644.8 476.9h1.35v1.35h-1.35zM648.3 477.3h1.35v1.35h-1.35zM650.7 477h1.35v1.35h-1.35zM654.8 477.4h1.35v1.35h-1.35zM656.3 477.4h1.35v1.35h-1.35zM658.6 476.9h1.35v1.35h-1.35zM660.6 477.1h1.35v1.35h-1.35zM647.3 479.4h1.35v1.35h-1.35zM651.2 479.1h1.35v1.35h-1.35zM655.2 478.8h1.35v1.35h-1.35zM658.7 478.8h1.35v1.35h-1.35zM660.9 479.2h1.35v1.35h-1.35zM646.9 481.1h1.35v1.35h-1.35zM652.5 481.5h1.35v1.35h-1.35zM654.8 481h1.35v1.35h-1.35zM658.7 481.2h1.35v1.35h-1.35zM660.3 480.9h1.35v1.35h-1.35zM662.3 481.2h1.35v1.35h-1.35zM642.8 483.5h1.35v1.35h-1.35zM646.6 483.1h1.35v1.35h-1.35zM648.8 482.9h1.35v1.35h-1.35zM650.4 483.4h1.35v1.35h-1.35zM652.5 483.6h1.35v1.35h-1.35zM654.6 483.2h1.35v1.35h-1.35zM656.5 483.3h1.35v1.35h-1.35zM658.3 483.1h1.35v1.35h-1.35zM662.1 483h1.35v1.35h-1.35zM664.5 483.1h1.35v1.35h-1.35zM666.3 483.6h1.35v1.35h-1.35zM668 483.1h1.35v1.35h-1.35zM643.6 485.2h1.35v1.35h-1.35zM645.8 485.3h1.35v1.35h-1.35zM647.8 485.4h1.35v1.35h-1.35zM649.5 485.3h1.35v1.35h-1.35zM651.7 484.9h1.35v1.35h-1.35zM653.5 485.5h1.35v1.35h-1.35zM655.5 485.1h1.35v1.35h-1.35zM657.5 485.6h1.35v1.35h-1.35zM659.7 485h1.35v1.35h-1.35zM663.3 485.1h1.35v1.35h-1.35zM665.1 485.2h1.35v1.35h-1.35zM667.1 485.5h1.35v1.35h-1.35zM641.5 487.2h1.35v1.35h-1.35zM643.6 487.8h1.35v1.35h-1.35zM645.2 487h1.35v1.35h-1.35zM647.2 487.3h1.35v1.35h-1.35zM651.1 487.4h1.35v1.35h-1.35zM653.2 487.6h1.35v1.35h-1.35zM659.4 487.9h1.35v1.35h-1.35zM661 487.6h1.35v1.35h-1.35zM664.7 487.5h1.35v1.35h-1.35zM641.5 489.7h1.35v1.35h-1.35zM643.6 489.6h1.35v1.35h-1.35zM645.5 489.8h1.35v1.35h-1.35zM649.5 489.7h1.35v1.35h-1.35zM651.3 489.7h1.35v1.35h-1.35zM653.5 489.4h1.35v1.35h-1.35zM655.6 489.2h1.35v1.35h-1.35zM657.6 489.2h1.35v1.35h-1.35zM659.1 489.3h1.35v1.35h-1.35zM661.4 489.8h1.35v1.35h-1.35zM663.1 489.4h1.35v1.35h-1.35zM665.4 489.2h1.35v1.35h-1.35zM667.4 489.7h1.35v1.35h-1.35zM642.4 491.8h1.35v1.35h-1.35zM644.5 491.8h1.35v1.35h-1.35zM646.4 491.6h1.35v1.35h-1.35zM648.6 491.8h1.35v1.35h-1.35zM650.3 491.5h1.35v1.35h-1.35zM652.3 491.6h1.35v1.35h-1.35zM654.5 491.9h1.35v1.35h-1.35zM656.3 491.6h1.35v1.35h-1.35zM658.1 491.7h1.35v1.35h-1.35zM660.4 491.1h1.35v1.35h-1.35zM664.2 491.7h1.35v1.35h-1.35zM665.8 491.9h1.35v1.35h-1.35zM668.2 491.9h1.35v1.35h-1.35zM641.8 493.9h1.35v1.35h-1.35zM644.2 493.8h1.35v1.35h-1.35zM647.7 493.6h1.35v1.35h-1.35zM649.8 493.5h1.35v1.35h-1.35zM651.8 493.5h1.35v1.35h-1.35zM654 493.7h1.35v1.35h-1.35zM657.9 493.9h1.35v1.35h-1.35zM659.4 493.8h1.35v1.35h-1.35zM661.4 493.7h1.35v1.35h-1.35zM665.4 493.8h1.35v1.35h-1.35zM644.8 495.8h1.35v1.35h-1.35zM647 496h1.35v1.35h-1.35zM648.6 496.1h1.35v1.35h-1.35zM652.5 495.8h1.35v1.35h-1.35zM654.8 495.5h1.35v1.35h-1.35zM658.4 495.5h1.35v1.35h-1.35zM660.3 495.5h1.35v1.35h-1.35zM662.6 495.2h1.35v1.35h-1.35zM643.2 497.9h1.35v1.35h-1.35zM644.8 497.3h1.35v1.35h-1.35zM646.6 497.9h1.35v1.35h-1.35zM648.9 498.1h1.35v1.35h-1.35zM651.1 497.4h1.35v1.35h-1.35zM652.8 497.4h1.35v1.35h-1.35zM654.8 497.3h1.35v1.35h-1.35zM656.8 497.6h1.35v1.35h-1.35zM658.8 497.8h1.35v1.35h-1.35zM660.5 497.7h1.35v1.35h-1.35zM662.5 497.7h1.35v1.35h-1.35zM664.4 497.4h1.35v1.35h-1.35zM666.4 497.4h1.35v1.35h-1.35zM668.6 497.4h1.35v1.35h-1.35zM641.8 499.3h1.35v1.35h-1.35zM643.9 500h1.35v1.35h-1.35zM646 499.5h1.35v1.35h-1.35zM647.9 499.7h1.35v1.35h-1.35zM649.6 500h1.35v1.35h-1.35zM651.7 499.6h1.35v1.35h-1.35zM653.6 499.4h1.35v1.35h-1.35zM655.5 499.6h1.35v1.35h-1.35zM657.8 500.1h1.35v1.35h-1.35zM659.8 500.1h1.35v1.35h-1.35zM661.3 500.1h1.35v1.35h-1.35zM663.8 499.7h1.35v1.35h-1.35zM665.4 499.7h1.35v1.35h-1.35zM667.7 500.2h1.35v1.35h-1.35zM641.4 501.9h1.35v1.35h-1.35zM643.4 501.9h1.35v1.35h-1.35zM645.6 501.5h1.35v1.35h-1.35zM647.6 502.1h1.35v1.35h-1.35zM649.4 501.8h1.35v1.35h-1.35zM651.7 502.2h1.35v1.35h-1.35zM653.6 502.2h1.35v1.35h-1.35zM655.2 502.2h1.35v1.35h-1.35zM657.4 502h1.35v1.35h-1.35zM659.3 501.8h1.35v1.35h-1.35zM661.3 501.8h1.35v1.35h-1.35zM663.3 502h1.35v1.35h-1.35zM665.1 501.8h1.35v1.35h-1.35zM666.8 501.9h1.35v1.35h-1.35zM642.6 504.2h1.35v1.35h-1.35zM644.4 503.8h1.35v1.35h-1.35zM646.5 503.5h1.35v1.35h-1.35zM648.2 503.6h1.35v1.35h-1.35zM650.3 503.5h1.35v1.35h-1.35zM652.3 504.2h1.35v1.35h-1.35zM653.8 504h1.35v1.35h-1.35zM655.9 503.4h1.35v1.35h-1.35zM658 504.1h1.35v1.35h-1.35zM659.7 503.5h1.35v1.35h-1.35zM662 503.5h1.35v1.35h-1.35zM663.5 503.9h1.35v1.35h-1.35zM665.5 503.6h1.35v1.35h-1.35zM667.8 503.9h1.35v1.35h-1.35zM642 505.4h1.35v1.35h-1.35zM644 505.7h1.35v1.35h-1.35zM645.7 505.5h1.35v1.35h-1.35zM647.7 505.8h1.35v1.35h-1.35zM649.7 505.8h1.35v1.35h-1.35zM653.6 506.1h1.35v1.35h-1.35zM655.9 505.7h1.35v1.35h-1.35zM657.4 506.3h1.35v1.35h-1.35zM661.3 506h1.35v1.35h-1.35zM663.7 505.9h1.35v1.35h-1.35zM667.7 505.6h1.35v1.35h-1.35zM642.7 507.7h1.35v1.35h-1.35zM645 507.7h1.35v1.35h-1.35zM646.6 507.9h1.35v1.35h-1.35zM648.9 507.7h1.35v1.35h-1.35zM650.9 507.6h1.35v1.35h-1.35zM652.9 507.9h1.35v1.35h-1.35zM654.7 508h1.35v1.35h-1.35zM656.5 508.1h1.35v1.35h-1.35zM658.3 507.5h1.35v1.35h-1.35zM660.4 508.2h1.35v1.35h-1.35zM662.2 507.8h1.35v1.35h-1.35zM664.3 507.6h1.35v1.35h-1.35zM666.6 508h1.35v1.35h-1.35zM668.1 507.9h1.35v1.35h-1.35zM643.2 509.9h1.35v1.35h-1.35zM644.8 509.9h1.35v1.35h-1.35zM647 510.3h1.35v1.35h-1.35zM649.1 509.8h1.35v1.35h-1.35zM650.6 510.1h1.35v1.35h-1.35zM652.9 510.1h1.35v1.35h-1.35zM654.9 510.3h1.35v1.35h-1.35zM656.8 510.3h1.35v1.35h-1.35zM658.4 510.4h1.35v1.35h-1.35zM660.7 509.6h1.35v1.35h-1.35zM662.3 510.1h1.35v1.35h-1.35zM664.4 510.4h1.35v1.35h-1.35zM666.3 510h1.35v1.35h-1.35zM668.4 510.4h1.35v1.35h-1.35zM651.8 511.6h1.35v1.35h-1.35zM653.5 511.7h1.35v1.35h-1.35zM655.8 511.7h1.35v1.35h-1.35zM657.1 511.9h1.35v1.35h-1.35zM659.6 511.6h1.35v1.35h-1.35zM661.3 511.7h1.35v1.35h-1.35zM663.4 512.5h1.35v1.35h-1.35zM641.8 514.2h1.35v1.35h-1.35zM643.6 514.4h1.35v1.35h-1.35zM647.2 514.2h1.35v1.35h-1.35zM651.3 514h1.35v1.35h-1.35zM655.2 514.1h1.35v1.35h-1.35zM659 513.7h1.35v1.35h-1.35zM660.7 514.2h1.35v1.35h-1.35zM663.2 514.1h1.35v1.35h-1.35zM664.9 513.9h1.35v1.35h-1.35zM666.6 514h1.35v1.35h-1.35zM647.2 516.2h1.35v1.35h-1.35zM650.7 516h1.35v1.35h-1.35zM653.1 515.7h1.35v1.35h-1.35zM656.7 516.1h1.35v1.35h-1.35zM658.6 515.7h1.35v1.35h-1.35zM660.4 516.4h1.35v1.35h-1.35zM662.6 515.9h1.35v1.35h-1.35zM650.3 518h1.35v1.35h-1.35zM654.3 518.6h1.35v1.35h-1.35zM656.3 517.9h1.35v1.35h-1.35zM660.1 518.4h1.35v1.35h-1.35zM648.3 519.9h1.35v1.35h-1.35zM650.4 520h1.35v1.35h-1.35zM654 519.8h1.35v1.35h-1.35zM656.2 520.1h1.35v1.35h-1.35zM662 519.9h1.35v1.35h-1.35zM647.8 521.9h1.35v1.35h-1.35zM650 522.7h1.35v1.35h-1.35zM651.9 522.2h1.35v1.35h-1.35zM655.5 522.3h1.35v1.35h-1.35zM659.4 522.6h1.35v1.35h-1.35zM651.8 524.5h1.35v1.35h-1.35zM653.8 524.7h1.35v1.35h-1.35zM658.1 524.6h1.35v1.35h-1.35zM660 524.6h1.35v1.35h-1.35zM655.3 526.2h1.35v1.35h-1.35zM653.4 528.1h1.35v1.35h-1.35zM656.2 532.7h1.35v1.35h-1.35z" fill="#111"/>
<line x1="655.5" y1="544.5" x2="655.5" y2="549.1" stroke="#111" stroke-width="1.3" />
<path d="M516.2 462V423.3H565V444.3" fill="none" stroke="#111" stroke-width="1"/><text x="540.5" y="423.4" font-size="15" text-anchor="middle" fill="#111" font-weight="bold" font-style="normal" >***</text>
<path d="M609.1 348.8V338.3H655.5V439.9" fill="none" stroke="#111" stroke-width="1"/><text x="632.3" y="338.5" font-size="15" text-anchor="middle" fill="#111" font-weight="bold" font-style="normal" >***</text>
<text x="423.3" y="560" font-size="9.5" text-anchor="middle" fill="#111" font-weight="bold" font-style="normal" >+</text>
<text x="469.8" y="560" font-size="9.5" text-anchor="middle" fill="#111" font-weight="bold" font-style="normal" >-</text>
<text x="516.2" y="560" font-size="9.5" text-anchor="middle" fill="#111" font-weight="bold" font-style="normal" >+</text>
<text x="562.7" y="560" font-size="9.5" text-anchor="middle" fill="#111" font-weight="bold" font-style="normal" >-</text>
<text x="609.1" y="560" font-size="9.5" text-anchor="middle" fill="#111" font-weight="bold" font-style="normal" >+</text>
<text x="655.5" y="560" font-size="9.5" text-anchor="middle" fill="#111" font-weight="bold" font-style="normal" >-</text>
<text x="451.1" y="572.2" font-size="10" text-anchor="middle" fill="#1a1a1a" font-weight="normal" font-style="normal" >24h</text>
<text x="544.9" y="572.2" font-size="10" text-anchor="middle" fill="#1a1a1a" font-weight="normal" font-style="normal" >48h</text>
<text x="634.8" y="572.2" font-size="10" text-anchor="middle" fill="#1a1a1a" font-weight="normal" font-style="normal" >72h</text>
<text transform="translate(363.8 435.5) rotate(-90)" font-size="12.2" text-anchor="middle" fill="#111" font-weight="normal" textLength="57.5" lengthAdjust="spacingAndGlyphs">Normalized</text>
<text transform="translate(376 435.9) rotate(-90)" font-size="12.2" text-anchor="middle" fill="#111" font-weight="normal" textLength="212.5" lengthAdjust="spacingAndGlyphs" xml:space="preserve">Elongation Index / Epidermal  Cell  Length</text>
<text x="545" y="594.5" font-size="10.3" text-anchor="middle" fill="#111" font-weight="bold" font-style="italic" textLength="85.5" lengthAdjust="spacingAndGlyphs">pNAC86:HB2-YFP</text>
<text x="331" y="319" font-size="14" text-anchor="start" fill="#000" font-weight="bold" font-style="normal" >e</text></g>
<g><defs><clipPath id="fclip"><rect x="35.2" y="632.3" width="113.49999999999999" height="236.10000000000002"/></clipPath>
<filter id="fblur" x="-5%" y="-5%" width="110%" height="110%"><feGaussianBlur stdDeviation="0.4"/></filter>
<clipPath id="finset"><rect x="107" y="634" width="40" height="74"/></clipPath></defs>
<rect x="35.2" y="632.3" width="113.5" height="236.1" fill="#050000" stroke="none" stroke-width="1" />
<g clip-path="url(#fclip)"><g filter="url(#fblur)">
<path d="M40.3 632L40.9 633L40.5 634L40.9 635L40.9 636L39.9 637L39.8 638L41.2 639L40.2 640L40.1 641L41.4 642L40.5 643L41.1 644L40.4 645L40.7 646L39.8 647L40.7 648L41.1 649L40.4 650L40.8 651L40.6 652L39.5 653L40.8 654L40.4 655L39.9 656L39.4 657L40.9 658L40.2 659L40.6 660L40.9 661L40.6 662L40.9 663L40 664L40.7 665L40 666L40.9 667L40.8 668L39.4 669L39.4 670L39.6 671L40.9 672L39.9 673L40.3 674L39.7 675L40 676L39.8 677L39.7 678L40.2 679L40.1 680L40.7 681L40.3 682L40.7 683L40.6 684L40.8 685L40.2 686L39.3 687L40.6 688L40.7 689L40.6 690L40 691L40.3 692L39.4 693L40.5 694L40 695L39.5 696L39 697L40.5 698L40.7 699L39.1 700L40.3 701L39.6 702L39.1 703L39.4 704L40.2 705L40.4 706L38.9 707L39.9 708L38.8 709L40 710L39.3 711L40.3 712L40.4 713L39.6 714L40.4 715L39.2 716L38.7 717L39.7 718L38.6 719L38.9 720L39.3 721L39.6 722L38.8 723L38.5 724L40 725L39 726L40.1 727L40 728L39.1 729L39.2 730L39.3 731L39.5 732L39.4 733L39.3 734L39.4 735L40 736L39.2 737L39.1 738L39.6 739L38.7 740L38.9 741L40.1 742L39.3 743L39.4 744L38.5 745L39.3 746L39.7 747L38.8 748L40 749L40.1 750L39.2 751L40.4 752L40.2 753L40.8 754L40.3 755L41.1 756L41.4 757L40.2 758L40.5 759L41.8 760L42.4 761L41.3 762L41.9 763L42.3 764L42 765L42.2 766L42.3 767L42.5 768L43.1 769L42.7 770L43.1 771L44 772L42.8 773L44 774L44.5 775L43.9 776L44 777L45.2 778L44.4 779L44.5 780L45.1 781L45.8 782L44.9 783L45.5 784L45.7 785L46.8 786L46.2 787L47.2 788L46.1 789L46.5 790L47.3 791L47.8 792L47.2 793L47 794L47 795L47.8 796L47.4 797L48.7 798L48.9 799L47.9 800L48.2 801L49.4 802L49.2 803L49.7 804L49.1 805L48.9 806L49.4 807L50.5 808L49.7 809L50.1 810L50.4 811L50.6 812L50.8 813L51.9 814L50.7 815L50.7 816L52.5 817L52.6 818L53 819L52.2 820L53.3 821L53.4 822L52.3 823L53.4 824L53.7 825L53.6 826L53.5 827L53.2 828L53.5 829L53.4 830L53.3 831L54.4 832L54 833L55.1 834L53.9 835L55.6 836L55.3 837L55.9 838L56 839L56.2 840L55.8 841L54.9 842L56.4 843L55.5 844L55.9 845L56.7 846L56.6 847L56.6 848L57.7 849L57.2 850L56.9 851L56.9 852L58.2 853L57.6 854L58.3 855L57.7 856L57.6 857L58.4 858L59 859L58 860L59.3 861L59.7 862L59.6 863L59.8 864L58.5 865L59.8 866L60.3 867L59 868L59.6 869L118.5 869L118.9 868L118.8 867L118.9 866L119.4 865L118.4 864L118.5 863L118.7 862L118.7 861L118.7 860L120.1 859L120 858L119 857L119.6 856L119.4 855L119.5 854L119.7 853L120.2 852L120.2 851L119.9 850L119.8 849L120.1 848L119.9 847L120.6 846L120.9 845L120.5 844L120.2 843L120.5 842L120.9 841L121.3 840L121.7 839L121.2 838L121.9 837L121.8 836L121.7 835L121.7 834L122 833L122.4 832L122.2 831L122.7 830L122.6 829L122.4 828L123 827L123.3 826L122.6 825L123.3 824L123.4 823L124.2 822L124.5 821L123.8 820L124.7 819L124.7 818L124.2 817L124.6 816L124.4 815L125.5 814L125.5 813L126 812L126.1 811L126.1 810L126.4 809L126.3 808L125.8 807L126.6 806L125.9 805L126.1 804L127.1 803L126.1 802L126.1 801L126.1 800L127.2 799L126.2 798L125.9 797L127 796L125.9 795L126.9 794L126.6 793L126.7 792L126.8 791L126.3 790L126.5 789L125.4 788L126.4 787L126 786L126.2 785L125.3 784L126.2 783L126.4 782L125.1 781L125.5 780L125.8 779L126.1 778L125.3 777L125.1 776L125.2 775L125.7 774L125.8 773L125.3 772L125.2 771L125.2 770L125.1 769L125.2 768L124.7 767L125.3 766L125.9 765L125.1 764L125.5 763L124.7 762L125.4 761L125.5 760L125.3 759L125.1 758L125 757L125.2 756L125.6 755L124.5 754L124.4 753L125.4 752L125.6 751L125 750L124.9 749L125.3 748L124.6 747L124.7 746L124.7 745L125.2 744L124.9 743L124.8 742L125.5 741L125.9 740L125.1 739L125.7 738L125.3 737L126 736L125.7 735L125.3 734L125.3 733L125.1 732L125.8 731L125.8 730L125.6 729L125.9 728L125.9 727L126.6 726L125.8 725L127.1 724L126.4 723L126.6 722L126.5 721L127.1 720L127.1 719L126.8 718L126.8 717L127.1 716L127.4 715L126.8 714L127.3 713L127.6 712L126.9 711L126.6 710L126.6 709L127.3 708L127.3 707L127.7 706L127.6 705L126.7 704L126.6 703L126.8 702L126.7 701L127.4 700L127.6 699L127.7 698L126.8 697L127.7 696L126.9 695L127.1 694L127.5 693L126.6 692L126.6 691L127.7 690L126.9 689L127 688L127.4 687L127.5 686L126.6 685L127 684L127.2 683L127.3 682L126.9 681L127.4 680L128 679L127.2 678L127.4 677L126.8 676L127 675L127.6 674L126.8 673L127.9 672L127.9 671L126.8 670L128 669L127.2 668L127.8 667L127.8 666L127.1 665L127.7 664L127.6 663L127.9 662L127.1 661L127.8 660L128.1 659L127.7 658L127.5 657L126.9 656L127.4 655L127.3 654L127.8 653L127.7 652L127.6 651L127 650L127.7 649L127.7 648L127 647L128 646L127.7 645L127 644L128.1 643L127 642L127.3 641L127.8 640L127.6 639L127.6 638L127.7 637L127.4 636L127.2 635L127 634L126.9 633L127.8 632Z" fill="#f2160a" stroke="none" stroke-width="0.5" />
<path d="M39.5 834L43 829.5L47 830.5L53 842L62 869L49 869L44 852Z" fill="#ee1a0c" stroke="none" stroke-width="0.5" />
<path d="M35.2 632L37 632L38.2 650L36.5 690L37.5 730L35.2 745Z" fill="#c01008" stroke="none" stroke-width="0.5" />
<path d="M71.1 632L71.1 633L71.1 634L71.1 635L71.1 636L71.1 637L71.1 638L71.1 639L71.1 640L71.1 641L71.1 642L71.1 643L71.1 644L71.1 645L71.1 646L71.1 647L71.1 648L71.1 649L71.1 650L71.1 651L71.1 652L71.1 653L71.1 654L71.1 655L71.1 656L71.1 657L71.1 658L71.1 659L71.1 660L71.1 661L71.1 662L71.1 663L71.1 664L71.1 665L71.1 666L71.1 667L71.1 668L71.2 669L71.2 670L71.2 671L71.2 672L71.2 673L71.2 674L71.2 675L71.2 676L71.2 677L71.2 678L71.2 679L71.2 680L71.2 681L71.2 682L71.2 683L71.2 684L71.2 685L71.2 686L71.2 687L71.2 688L71.2 689L71.2 690L71.2 691L71.2 692L71.2 693L71.2 694L71.2 695L71.2 696L71.2 697L71.2 698L71.2 699L71.2 700L71.2 701L71.2 702L71.2 703L71.2 704L71.2 705L71.3 706L71.3 707L71.3 708L71.3 709L71.3 710L71.3 711L71.4 712L71.4 713L71.4 714L71.4 715L71.5 716L71.5 717L71.5 718L71.5 719L71.6 720L71.6 721L71.6 722L71.7 723L71.7 724L71.8 725L71.8 726L71.8 727L71.9 728L71.9 729L72 730L72 731L72.1 732L72.1 733L72.2 734L72.2 735L72.3 736L72.3 737L72.4 738L72.4 739L72.5 740L72.5 741L72.6 742L72.7 743L72.7 744L72.8 745L72.9 746L72.9 747L73 748L73 749L73.1 750L73.2 751L73.3 752L73.4 753L73.5 754L73.7 755L73.8 756L74 757L74.2 758L74.3 759L74.5 760L74.7 761L74.9 762L75.1 763L75.2 764L75.4 765L75.5 766L75.6 767L75.8 768L75.9 769L76 770L76.1 771L76.2 772L76.4 773L76.5 774L76.6 775L76.7 776L76.8 777L76.9 778L77 779L77.1 780L77.2 781L77.3 782L77.4 783L77.4 784L77.5 785L77.6 786L77.6 787L77.7 788L77.7 789L77.8 790L77.8 791L77.8 792L77.9 793L77.9 794L77.9 795L77.9 796L78 797L78 798L78 799L78 800L78.1 801L78.1 802L78.1 803L78.1 804L78.1 805L78.1 806L78.1 807L78.1 808L78.1 809L78 810L78 811L77.9 812L77.9 813L77.9 814L77.8 815L77.8 816L77.8 817L77.8 818L77.8 819L77.8 820L77.8 821L77.8 822L77.9 823L78 824L78.1 825L78.3 826L78.4 827L78.6 828L78.7 829L78.9 830L79.1 831L79.2 832L79.4 833L79.7 834L79.9 835L80.2 836L80.5 837L80.8 838L81.1 839L81.4 840L81.7 841L82.1 842L82.5 843L82.9 844L83.3 845L90.8 845L91.4 844L92.1 843L92.6 842L93.2 841L93.6 840L93.9 839L94.3 838L94.6 837L94.8 836L95.1 835L95.3 834L95.5 833L95.7 832L95.9 831L96.1 830L96.3 829L96.4 828L96.6 827L96.7 826L96.9 825L97 824L97.1 823L97.3 822L97.5 821L97.6 820L97.8 819L98 818L98.2 817L98.4 816L98.6 815L98.8 814L99 813L99.2 812L99.4 811L99.6 810L99.8 809L100 808L100.1 807L100.3 806L100.4 805L100.5 804L100.6 803L100.6 802L100.6 801L100.7 800L100.7 799L100.7 798L100.7 797L100.8 796L100.8 795L100.8 794L100.8 793L100.8 792L100.9 791L100.9 790L100.9 789L100.8 788L100.8 787L100.8 786L100.8 785L100.8 784L100.7 783L100.7 782L100.6 781L100.6 780L100.6 779L100.5 778L100.5 777L100.4 776L100.3 775L100.3 774L100.2 773L100.2 772L100.1 771L100.1 770L100 769L99.9 768L99.9 767L99.8 766L99.7 765L99.6 764L99.5 763L99.5 762L99.4 761L99.3 760L99.2 759L99 758L99 757L98.9 756L98.8 755L98.7 754L98.6 753L98.5 752L98.5 751L98.4 750L98.4 749L98.3 748L98.3 747L98.3 746L98.2 745L98.2 744L98.2 743L98.1 742L98.1 741L98 740L98 739L98 738L97.9 737L97.9 736L97.9 735L97.8 734L97.8 733L97.8 732L97.8 731L97.7 730L97.7 729L97.7 728L97.6 727L97.6 726L97.6 725L97.6 724L97.5 723L97.5 722L97.5 721L97.5 720L97.4 719L97.4 718L97.4 717L97.4 716L97.4 715L97.4 714L97.3 713L97.3 712L97.3 711L97.3 710L97.3 709L97.3 708L97.3 707L97.2 706L97.2 705L97.2 704L97.2 703L97.2 702L97.2 701L97.2 700L97.2 699L97.2 698L97.2 697L97.2 696L97.2 695L97.2 694L97.2 693L97.2 692L97.2 691L97.2 690L97.2 689L97.1 688L97.1 687L97.1 686L97.1 685L97.1 684L97.1 683L97.1 682L97.1 681L97.1 680L97.1 679L97.1 678L97.1 677L97.1 676L97.1 675L97.1 674L97.1 673L97.1 672L97.1 671L97.1 670L97.1 669L97.1 668L97.1 667L97.1 666L97.1 665L97 664L97 663L97 662L97 661L97 660L97 659L97 658L97 657L97 656L97 655L97 654L97 653L97 652L97 651L97 650L97 649L97 648L97 647L97 646L97 645L97 644L97 643L97 642L97 641L97 640L97 639L97 638L97 637L97 636L97 635L97 634L97 633L97 632Z" fill="#380100" stroke="none" stroke-width="0.5" />
<path d="M73.7 632L73.7 635L73.7 638L73.7 641L73.7 644L73.7 647L73.7 650L73.7 653L73.7 656L73.7 659L73.7 662L73.7 665L73.7 668L73.7 671L73.8 674L73.8 677L73.8 680L73.8 683L73.8 686L73.8 689L73.8 692L73.8 695L73.8 698L73.8 701L73.8 704L73.9 707L73.9 710L74 713L74.1 716L74.1 719L74.2 722L74.3 725L74.5 728L74.6 731L74.7 734L74.9 737L75 740L75.2 743L75.4 746L75.6 749L75.8 752L76.2 755L76.7 758L77.2 761L77.7 764L78.1 767L78.4 770L78.7 773L79.1 776L79.4 779L79.6 782L79.8 785L80 788L80.1 791L80.2 794L80.2 797L80.3 800L80.4 803L80.3 806L80.2 809L80.1 812L79.9 815L79.8 818L79.7 821L79.9 824L80.2 827L80.6 830L81 833L81.6 836L82.4 839L83.1 842L84 845" fill="none" stroke="#e81408" stroke-width="0.9" opacity="0.9"/>
<path d="M76.3 632L76.3 635L76.3 638L76.3 641L76.3 644L76.3 647L76.3 650L76.3 653L76.3 656L76.3 659L76.3 662L76.3 665L76.3 668L76.3 671L76.3 674L76.4 677L76.4 680L76.4 683L76.4 686L76.4 689L76.4 692L76.4 695L76.4 698L76.4 701L76.4 704L76.5 707L76.5 710L76.6 713L76.6 716L76.7 719L76.8 722L76.9 725L77 728L77.2 731L77.3 734L77.4 737L77.6 740L77.8 743L77.9 746L78.1 749L78.3 752L78.7 755L79.1 758L79.6 761L80.1 764L80.5 767L80.8 770L81.1 773L81.4 776L81.7 779L82 782L82.2 785L82.3 788L82.4 791L82.5 794L82.5 797L82.6 800L82.6 803L82.6 806L82.4 809L82.2 812L82 815L81.8 818L81.7 821L81.8 824L82 827L82.3 830L82.7 833L83.1 836L83.6 839L84.2 842L84.8 845" fill="none" stroke="#e81408" stroke-width="0.9" opacity="0.9"/>
<path d="M78.9 632L78.9 635L78.9 638L78.9 641L78.9 644L78.9 647L78.9 650L78.9 653L78.9 656L78.9 659L78.9 662L78.9 665L78.9 668L78.9 671L78.9 674L78.9 677L79 680L79 683L79 686L79 689L79 692L79 695L79 698L79 701L79 704L79.1 707L79.1 710L79.2 713L79.2 716L79.3 719L79.4 722L79.5 725L79.6 728L79.7 731L79.9 734L80 737L80.2 740L80.3 743L80.5 746L80.6 749L80.9 752L81.2 755L81.6 758L82.1 761L82.5 764L82.9 767L83.2 770L83.5 773L83.8 776L84.1 779L84.3 782L84.5 785L84.6 788L84.7 791L84.8 794L84.8 797L84.8 800L84.9 803L84.8 806L84.6 809L84.3 812L84.1 815L83.8 818L83.7 821L83.7 824L83.9 827L84.1 830L84.3 833L84.6 836L84.9 839L85.3 842L85.5 845" fill="none" stroke="#e81408" stroke-width="0.75" opacity="0.75"/>
<path d="M81.5 632L81.5 635L81.5 638L81.5 641L81.5 644L81.5 647L81.5 650L81.5 653L81.5 656L81.5 659L81.5 662L81.5 665L81.5 668L81.5 671L81.5 674L81.5 677L81.5 680L81.6 683L81.6 686L81.6 689L81.6 692L81.6 695L81.6 698L81.6 701L81.6 704L81.7 707L81.7 710L81.8 713L81.8 716L81.9 719L82 722L82.1 725L82.2 728L82.3 731L82.4 734L82.6 737L82.7 740L82.9 743L83 746L83.2 749L83.4 752L83.7 755L84.1 758L84.6 761L85 764L85.3 767L85.6 770L85.9 773L86.2 776L86.4 779L86.6 782L86.8 785L86.9 788L87 791L87.1 794L87.1 797L87.1 800L87.1 803L87 806L86.8 809L86.5 812L86.1 815L85.9 818L85.7 821L85.6 824L85.7 827L85.8 830L85.9 833L86 836L86.2 839L86.3 842L86.3 845" fill="none" stroke="#e81408" stroke-width="0.6" opacity="0.75"/>
<path d="M84.1 632L84.1 635L84.1 638L84.1 641L84.1 644L84.1 647L84.1 650L84.1 653L84.1 656L84.1 659L84.1 662L84.1 665L84.1 668L84.1 671L84.1 674L84.1 677L84.1 680L84.2 683L84.2 686L84.2 689L84.2 692L84.2 695L84.2 698L84.2 701L84.2 704L84.3 707L84.3 710L84.4 713L84.4 716L84.5 719L84.6 722L84.7 725L84.8 728L84.9 731L85 734L85.1 737L85.3 740L85.4 743L85.6 746L85.7 749L85.9 752L86.2 755L86.6 758L87 761L87.4 764L87.8 767L88 770L88.3 773L88.5 776L88.8 779L89 782L89.1 785L89.3 788L89.3 791L89.4 794L89.4 797L89.4 800L89.3 803L89.2 806L88.9 809L88.6 812L88.2 815L87.9 818L87.6 821L87.5 824L87.5 827L87.5 830L87.5 833L87.5 836L87.5 839L87.4 842L87 845" fill="none" stroke="#e81408" stroke-width="0.75" opacity="0.75"/>
<path d="M86.6 632L86.6 635L86.6 638L86.6 641L86.6 644L86.7 647L86.7 650L86.7 653L86.7 656L86.7 659L86.7 662L86.7 665L86.7 668L86.7 671L86.7 674L86.7 677L86.7 680L86.7 683L86.8 686L86.8 689L86.8 692L86.8 695L86.8 698L86.8 701L86.8 704L86.9 707L86.9 710L87 713L87 716L87.1 719L87.2 722L87.3 725L87.4 728L87.5 731L87.6 734L87.7 737L87.8 740L88 743L88.1 746L88.2 749L88.4 752L88.7 755L89.1 758L89.5 761L89.9 764L90.2 767L90.4 770L90.7 773L90.9 776L91.1 779L91.3 782L91.5 785L91.6 788L91.6 791L91.6 794L91.6 797L91.6 800L91.6 803L91.4 806L91.1 809L90.7 812L90.3 815L89.9 818L89.6 821L89.4 824L89.3 827L89.2 830L89.1 833L89 836L88.8 839L88.4 842L87.8 845" fill="none" stroke="#e81408" stroke-width="0.6" opacity="0.6"/>
<path d="M89.2 632L89.2 635L89.2 638L89.2 641L89.2 644L89.2 647L89.2 650L89.2 653L89.3 656L89.3 659L89.3 662L89.3 665L89.3 668L89.3 671L89.3 674L89.3 677L89.3 680L89.3 683L89.4 686L89.4 689L89.4 692L89.4 695L89.4 698L89.4 701L89.4 704L89.5 707L89.5 710L89.6 713L89.6 716L89.7 719L89.8 722L89.8 725L89.9 728L90 731L90.1 734L90.3 737L90.4 740L90.5 743L90.6 746L90.8 749L91 752L91.2 755L91.6 758L92 761L92.3 764L92.6 767L92.8 770L93.1 773L93.3 776L93.5 779L93.7 782L93.8 785L93.9 788L93.9 791L93.9 794L93.9 797L93.9 800L93.8 803L93.6 806L93.3 809L92.9 812L92.4 815L91.9 818L91.6 821L91.3 824L91.1 827L90.9 830L90.7 833L90.4 836L90.1 839L89.5 842L88.5 845" fill="none" stroke="#e81408" stroke-width="0.6" opacity="0.75"/>
<path d="M91.8 632L91.8 635L91.8 638L91.8 641L91.8 644L91.8 647L91.8 650L91.8 653L91.8 656L91.9 659L91.9 662L91.9 665L91.9 668L91.9 671L91.9 674L91.9 677L91.9 680L91.9 683L91.9 686L92 689L92 692L92 695L92 698L92 701L92 704L92.1 707L92.1 710L92.1 713L92.2 716L92.3 719L92.3 722L92.4 725L92.5 728L92.6 731L92.7 734L92.8 737L92.9 740L93.1 743L93.2 746L93.3 749L93.5 752L93.7 755L94.1 758L94.4 761L94.8 764L95 767L95.2 770L95.5 773L95.7 776L95.8 779L96 782L96.1 785L96.2 788L96.2 791L96.2 794L96.2 797L96.1 800L96.1 803L95.8 806L95.5 809L95 812L94.5 815L94 818L93.5 821L93.2 824L92.9 827L92.7 830L92.3 833L91.9 836L91.4 839L90.5 842L89.3 845" fill="none" stroke="#e81408" stroke-width="0.9" opacity="0.75"/>
<path d="M94.4 632L94.4 635L94.4 638L94.4 641L94.4 644L94.4 647L94.4 650L94.4 653L94.4 656L94.4 659L94.5 662L94.5 665L94.5 668L94.5 671L94.5 674L94.5 677L94.5 680L94.5 683L94.5 686L94.6 689L94.6 692L94.6 695L94.6 698L94.6 701L94.6 704L94.7 707L94.7 710L94.7 713L94.8 716L94.9 719L94.9 722L95 725L95.1 728L95.2 731L95.3 734L95.4 737L95.5 740L95.6 743L95.7 746L95.9 749L96 752L96.3 755L96.6 758L96.9 761L97.2 764L97.4 767L97.6 770L97.8 773L98 776L98.2 779L98.3 782L98.5 785L98.5 788L98.5 791L98.5 794L98.5 797L98.4 800L98.3 803L98.1 806L97.6 809L97.1 812L96.5 815L96 818L95.5 821L95.1 824L94.8 827L94.4 830L93.9 833L93.4 836L92.6 839L91.6 842L90 845" fill="none" stroke="#e81408" stroke-width="0.6" opacity="0.9"/>
<path d="M71.1 641.7L73.7 641.7M71.1 653.9L73.7 653.9M71.1 665.9L73.7 665.9M71.2 678.5L73.8 678.5M71.2 692.4L73.8 692.4M71.3 708.3L73.9 708.3M71.6 720.5L74.2 720.5M72.3 737.1L74.9 737.1M72.9 747.1L75.5 747.1M74.3 758.6L76.8 758.6M75.8 768.5L78.2 768.5M76.9 778.5L79.3 778.5M77.5 784.9L79.8 784.9M77.8 791.2L80.1 791.2M77.9 796.2L80.2 796.2M78.1 801.2L80.3 801.2M78.1 806.7L80.3 806.7M77.9 813.1L80 813.1M77.8 819.6L79.7 819.6M78.3 826L80.1 826M79.2 832L80.9 832M80.5 836.8L81.9 836.8M82.1 842.3L83.1 842.3M73.7 639.3L76.3 639.3M73.7 653.4L76.3 653.4M73.7 664.2L76.3 664.2M73.8 675.5L76.3 675.5M73.8 691.5L76.4 691.5M73.8 700.8L76.4 700.8M74.1 717L76.7 717M74.7 734L77.3 734M75.8 751.6L78.3 751.6M77.7 764L80.1 764M79.3 778L81.6 778M79.8 783.9L82.1 783.9M80.1 790L82.4 790M80.2 797L82.5 797M80.4 803.2L82.6 803.2M80.3 808.4L82.5 808.4M79.9 815.1L82 815.1M79.7 820.8L81.7 820.8M80.2 826.8L82 826.8M81 833.1L82.7 833.1M82.1 837.6L83.5 837.6M76.3 640.6L78.9 640.6M76.3 654L78.9 654M76.3 667.8L78.9 667.8M76.4 680.9L79 680.9M76.4 691.6L79 691.6M76.4 705.4L79 705.4M76.6 714.7L79.2 714.7M77 728.2L79.6 728.2M77.8 743.1L80.3 743.1M78.8 756.1L81.3 756.1M80.8 770.2L83.2 770.2M81.5 777.1L83.9 777.1M82.1 783.8L84.4 783.8M82.3 788.6L84.7 788.6M82.5 795.1L84.8 795.1M82.6 801.2L84.8 801.2M82.6 805.8L84.8 805.8M82.3 811.2L84.4 811.2M81.9 816.3L84 816.3M81.7 821L83.7 821M82 826.8L83.9 826.8M82.8 833.6L84.4 833.6M83.6 838.9L84.9 838.9M78.9 640.9L81.5 640.9M78.9 651.2L81.5 651.2M78.9 667.9L81.5 667.9M79 682.3L81.6 682.3M79 699.6L81.6 699.6M79.2 715.1L81.8 715.1M79.7 730.7L82.3 730.7M80.3 742.8L82.9 742.8M81.8 759.1L84.3 759.1M83.8 776.5L86.2 776.5M84.4 783.1L86.7 783.1M84.7 788.7L87 788.7M84.8 795.1L87.1 795.1M84.8 800.8L87.1 800.8M84.8 805.6L87 805.6M84.5 810.2L86.7 810.2M84.1 814.9L86.1 814.9M83.7 819.9L85.7 819.9M83.7 824.8L85.6 824.8M84.1 830.5L85.8 830.5M84.7 836.8L86.1 836.8M85.3 842.6L86.3 842.6M81.5 640.5L84.1 640.5M81.5 652.2L84.1 652.2M81.5 665.4L84.1 665.4M81.5 681.2L84.1 681.2M81.6 693.8L84.2 693.8M81.6 704.5L84.2 704.5M82 721.6L84.6 721.6M82.6 737L85.1 737M83.2 749.3L85.7 749.3M84.7 761.7L87.2 761.7M86.1 775.4L88.5 775.4M86.6 781.4L88.9 781.4M86.9 786.5L89.2 786.5M87 791L89.3 791M87.1 796L89.4 796M87.1 802.5L89.3 802.5M86.9 807.3L89.1 807.3M86.4 813L88.5 813M85.9 818L87.9 818M85.6 823L87.5 823M85.7 827.9L87.5 827.9M85.9 833.4L87.5 833.4M86.2 838.4L87.5 838.4M86.3 842.9L87.3 842.9M84.1 635.7L86.6 635.7M84.1 649.1L86.7 649.1M84.1 658.6L86.7 658.6M84.1 667.8L86.7 667.8M84.1 680.9L86.7 680.9M84.2 693.5L86.8 693.5M84.3 708.9L86.9 708.9M84.5 718.3L87.1 718.3M84.9 731L87.5 731M85.5 743.5L88 743.5M86 752.8L88.5 752.8M88 770.5L90.4 770.5M88.5 775.5L90.9 775.5M88.9 780.2L91.2 780.2M89.2 785.9L91.5 785.9M89.3 790.8L91.6 790.8M89.4 796.9L91.6 796.9M89.3 802.3L91.6 802.3M89.1 807.1L91.3 807.1M88.6 811.7L90.7 811.7M87.9 818L89.9 818M87.5 823.2L89.5 823.2M87.5 829.7L89.2 829.7M87.5 835.3L89 835.3M87.4 842.2L88.4 842.2M86.6 636.5L89.2 636.5M86.7 647.9L89.2 647.9M86.7 664.2L89.3 664.2M86.7 678.9L89.3 678.9M86.8 691L89.4 691M86.8 700.8L89.4 700.8M87 716L89.6 716M87.6 733.7L90.1 733.7M88.2 748L90.7 748M89 757.1L91.5 757.1M90.1 766.3L92.5 766.3M90.9 776.1L93.3 776.1M91.3 781.1L93.6 781.1M91.5 785.7L93.8 785.7M91.6 790.3L93.9 790.3M91.6 796.4L93.9 796.4M91.6 803.2L93.8 803.2M91.2 808.2L93.4 808.2M90.3 815.1L92.4 815.1M89.6 820.8L91.6 820.8M89.3 827.3L91.1 827.3M89 834.1L90.6 834.1M88.6 841L89.7 841M89.2 637L91.8 637M89.2 651.5L91.8 651.5M89.3 669L91.9 669M89.3 678.8L91.9 678.8M89.4 690.5L92 690.5M89.5 707.1L92.1 707.1M89.6 717.1L92.2 717.1M90 729.6L92.6 729.6M90.5 741.7L93 741.7M91.5 756.8L94 756.8M93.1 774.1L95.5 774.1M93.5 779.1L95.8 779.1M93.8 785.4L96.1 785.4M93.9 791.8L96.2 791.8M93.9 798.3L96.2 798.3M93.8 804.2L96 804.2M93 811L95.2 811M92.2 816.4L94.3 816.4M91.5 822L93.4 822M91.1 827.1L92.9 827.1M90.6 833.5L92.2 833.5M90.1 839.2L91.4 839.2M91.8 635.7L94.4 635.7M91.8 651.2L94.4 651.2M91.9 665.6L94.5 665.6M91.9 681L94.5 681M92 693.5L94.6 693.5M92.1 706.9L94.7 706.9M92.2 717.3L94.8 717.3M92.7 732.7L95.2 732.7M93 741.9L95.6 741.9M93.7 755.1L96.3 755.1M95.3 770.9L97.7 770.9M95.7 777.1L98.1 777.1M96 781.8L98.3 781.8M96.2 786.9L98.5 786.9M96.2 793.5L98.5 793.5M96.1 799.7L98.4 799.7M95.8 806.4L98.1 806.4M94.8 813L96.9 813M93.8 818.7L95.8 818.7M93.1 825.4L95 825.4M92.4 831.7L94.1 831.7M91.7 837.1L93.2 837.1M90.5 842.5L91.6 842.5M94.4 638L97 638M94.4 655.6L97 655.6M94.5 665.5L97.1 665.5M94.5 679.7L97.1 679.7M94.6 689.7L97.2 689.7M94.6 699.4L97.2 699.4M94.8 714.2L97.4 714.2M95 725.4L97.6 725.4M95.3 734.8L97.9 734.8M95.7 745.2L98.2 745.2M96.8 760L99.3 760M97.9 774.3L100.3 774.3M98.2 778.8L100.6 778.8M98.4 783.9L100.8 783.9M98.5 790.8L100.9 790.8M98.5 795.8L100.8 795.8M98.3 801.8L100.6 801.8M97.9 807.3L100.1 807.3M96.7 813.8L98.8 813.8M95.6 819.8L97.6 819.8M94.9 826.2L96.7 826.2M94.1 832.1L95.7 832.1M93.2 837L94.6 837M91.6 842L92.6 842" fill="none" stroke="#e01206" stroke-width="0.7" opacity="0.55"/>
<path d="M48.6 631.9L55.2 631.9L55.2 638.1L48.6 638.1Z" fill="#1c0000"/>
<path d="M48.6 639.4L55.2 639.4L55.2 648.6L48.6 648.6Z" fill="#1c0000"/>
<path d="M48.6 649.8L55.2 649.8L55.2 656.4L48.6 656.4Z" fill="#340100"/>
<path d="M48.6 657.6L55.2 657.6L55.2 663.7L48.6 663.7Z" fill="#240000"/>
<path d="M48.6 664.9L55.2 664.9L55.2 672.3L48.6 672.3Z" fill="#400200"/>
<path d="M48.6 673.5L55.2 673.5L55.2 679.7L48.6 679.7Z" fill="#240000"/>
<path d="M48.6 681L55.2 681L55.2 689.8L48.6 689.8Z" fill="#340100"/>
<path d="M48.6 691L55.2 691L55.2 698.4L48.6 698.4Z" fill="#240000"/>
<path d="M48.6 699.6L55.2 699.6L55.3 708.5L48.7 708.5Z" fill="#340100"/>
<path d="M48.7 709.7L55.3 709.7L55.6 718.8L49 718.8Z" fill="#400200"/>
<path d="M49 720.1L55.6 720.1L56 727.6L49.5 727.6Z" fill="#240000"/>
<path d="M49.5 728.9L56 728.9L56.3 732.8L49.8 732.8Z" fill="#400200"/>
<path d="M49.8 734.1L56.3 734.1L56.6 737.7L50.1 737.7Z" fill="#340100"/>
<path d="M50.1 738.9L56.6 738.9L57.1 743.9L50.7 743.9Z" fill="#1c0000"/>
<path d="M50.7 745.1L57.1 745.1L57.5 749.4L51.1 749.4Z" fill="#2a0000"/>
<path d="M51.1 750.6L57.5 750.6L58.4 755.2L52.1 755.2Z" fill="#1c0000"/>
<path d="M52.1 756.4L58.4 756.4L59.7 761.8L53.5 761.8Z" fill="#340100"/>
<path d="M53.5 763L59.7 763L60.8 767.5L54.8 767.5Z" fill="#1c0000"/>
<path d="M54.8 768.7L60.8 768.7L61.8 773.5L55.8 773.5Z" fill="#2a0000"/>
<path d="M55.8 774.7L61.8 774.7L62.4 778.8L56.6 778.8Z" fill="#1c0000"/>
<path d="M56.6 780L62.4 780L63.1 784.2L57.3 784.2Z" fill="#240000"/>
<path d="M57.3 785.5L63.1 785.5L63.5 789.9L57.8 789.9Z" fill="#340100"/>
<path d="M57.8 791.2L63.5 791.2L63.8 795.1L58.2 795.1Z" fill="#2a0000"/>
<path d="M58.2 796.4L63.8 796.4L64.2 801.4L58.6 801.4Z" fill="#2a0000"/>
<path d="M58.6 802.7L64.2 802.7L64.5 807.7L59.1 807.7Z" fill="#400200"/>
<path d="M59.1 808.9L64.5 808.9L64.8 813.4L59.7 813.4Z" fill="#400200"/>
<path d="M59.7 814.7L64.8 814.7L65.5 819.9L60.8 819.9Z" fill="#340100"/>
<path d="M60.8 821.2L65.5 821.2L67 826.6L62.8 826.6Z" fill="#400200"/>
<path d="M62.8 827.9L67 827.9L69.8 833.3L66.3 833.3Z" fill="#240000"/>
<path d="M66.3 834.6L69.8 834.6L74.3 839.9L72.1 839.9Z" fill="#240000"/>
<path d="M72.1 841.2L74.3 841.2L78.2 845.4L77.2 845.4Z" fill="#400200"/>
<path d="M56.4 632.3L63.1 632.3L63.1 637.9L56.4 637.9Z" fill="#1c0000"/>
<path d="M56.4 639.2L63.1 639.2L63.1 644.5L56.4 644.5Z" fill="#1c0000"/>
<path d="M56.4 645.7L63.1 645.7L63.1 650.6L56.4 650.6Z" fill="#2a0000"/>
<path d="M56.4 651.8L63.1 651.8L63.1 657.5L56.4 657.5Z" fill="#400200"/>
<path d="M56.4 658.7L63.1 658.7L63.1 663.6L56.4 663.6Z" fill="#240000"/>
<path d="M56.4 664.9L63.1 664.9L63.1 669.8L56.4 669.8Z" fill="#2a0000"/>
<path d="M56.4 671L63.1 671L63.1 676.6L56.4 676.6Z" fill="#240000"/>
<path d="M56.4 677.8L63.1 677.8L63.2 682.7L56.4 682.7Z" fill="#240000"/>
<path d="M56.4 683.9L63.2 683.9L63.2 690.9L56.4 690.9Z" fill="#340100"/>
<path d="M56.4 692.2L63.2 692.2L63.2 697.4L56.4 697.4Z" fill="#240000"/>
<path d="M56.4 698.6L63.2 698.6L63.2 704.3L56.5 704.3Z" fill="#240000"/>
<path d="M56.5 705.5L63.2 705.5L63.3 711.6L56.6 711.6Z" fill="#2a0000"/>
<path d="M56.6 712.8L63.3 712.8L63.5 718L56.8 718Z" fill="#340100"/>
<path d="M56.8 719.3L63.5 719.3L63.9 727L57.2 727Z" fill="#340100"/>
<path d="M57.2 728.2L63.9 728.2L64.2 733.1L57.6 733.1Z" fill="#240000"/>
<path d="M57.6 734.3L64.2 734.3L64.5 738.2L57.9 738.2Z" fill="#240000"/>
<path d="M57.9 739.4L64.5 739.4L64.8 743.5L58.3 743.5Z" fill="#400200"/>
<path d="M58.3 744.8L64.8 744.8L65.2 748.5L58.7 748.5Z" fill="#340100"/>
<path d="M58.7 749.7L65.2 749.7L65.7 753.6L59.3 753.6Z" fill="#240000"/>
<path d="M59.3 754.8L65.7 754.8L66.7 758.8L60.3 758.8Z" fill="#340100"/>
<path d="M60.3 760L66.7 760L67.8 764.6L61.6 764.6Z" fill="#340100"/>
<path d="M61.6 765.9L67.8 765.9L68.7 770.4L62.5 770.4Z" fill="#400200"/>
<path d="M62.5 771.7L68.7 771.7L69.3 775.1L63.3 775.1Z" fill="#2a0000"/>
<path d="M63.3 776.3L69.3 776.3L69.9 780.7L63.9 780.7Z" fill="#2a0000"/>
<path d="M63.9 781.9L69.9 781.9L70.4 786.1L64.5 786.1Z" fill="#2a0000"/>
<path d="M64.5 787.4L70.4 787.4L70.7 792.2L64.9 792.2Z" fill="#1c0000"/>
<path d="M64.9 793.5L70.7 793.5L70.9 797.2L65.1 797.2Z" fill="#240000"/>
<path d="M65.1 798.4L70.9 798.4L71.1 802.3L65.5 802.3Z" fill="#340100"/>
<path d="M65.5 803.6L71.1 803.6L71.2 808.5L65.8 808.5Z" fill="#1c0000"/>
<path d="M65.8 809.7L71.2 809.7L71.3 813.9L66.1 813.9Z" fill="#2a0000"/>
<path d="M66.1 815.1L71.3 815.1L71.4 818.5L66.5 818.5Z" fill="#240000"/>
<path d="M66.5 819.7L71.4 819.7L72.2 824.6L67.6 824.6Z" fill="#1c0000"/>
<path d="M67.6 825.8L72.2 825.8L73.6 830.1L69.7 830.1Z" fill="#1c0000"/>
<path d="M69.7 831.4L73.6 831.4L75.4 835.4L72.1 835.4Z" fill="#340100"/>
<path d="M72.1 836.7L75.4 836.7L77.8 840.4L75.6 840.4Z" fill="#240000"/>
<path d="M75.6 841.7L77.8 841.7L80.5 845.4L79.4 845.4Z" fill="#340100"/>
<path d="M64.4 630L70.5 630L70.5 634.9L64.4 634.9Z" fill="#1c0000"/>
<path d="M64.4 636.1L70.5 636.1L70.5 643.4L64.4 643.4Z" fill="#2a0000"/>
<path d="M64.4 644.6L70.5 644.6L70.5 653L64.4 653Z" fill="#400200"/>
<path d="M64.4 654.3L70.5 654.3L70.5 660L64.4 660Z" fill="#2a0000"/>
<path d="M64.4 661.2L70.5 661.2L70.5 669L64.4 669Z" fill="#240000"/>
<path d="M64.4 670.2L70.5 670.2L70.5 677L64.4 677Z" fill="#340100"/>
<path d="M64.4 678.3L70.5 678.3L70.6 685.2L64.4 685.2Z" fill="#340100"/>
<path d="M64.4 686.5L70.6 686.5L70.6 691.3L64.4 691.3Z" fill="#1c0000"/>
<path d="M64.4 692.5L70.6 692.5L70.6 697.4L64.4 697.4Z" fill="#1c0000"/>
<path d="M64.4 698.6L70.6 698.6L70.7 706.9L64.5 706.9Z" fill="#240000"/>
<path d="M64.5 708.2L70.7 708.2L70.8 714.8L64.7 714.8Z" fill="#400200"/>
<path d="M64.7 716.1L70.8 716.1L71.1 722.9L64.9 722.9Z" fill="#340100"/>
<path d="M64.9 724.1L71.1 724.1L71.3 728.5L65.2 728.5Z" fill="#2a0000"/>
<path d="M65.2 729.8L71.3 729.8L71.5 733.7L65.5 733.7Z" fill="#1c0000"/>
<path d="M65.5 734.9L71.5 734.9L71.9 739.7L65.8 739.7Z" fill="#400200"/>
<path d="M65.8 740.9L71.9 740.9L72.2 744.5L66.2 744.5Z" fill="#340100"/>
<path d="M66.2 745.7L72.2 745.7L72.6 750L66.6 750Z" fill="#340100"/>
<path d="M66.6 751.2L72.6 751.2L73.4 756.2L67.5 756.2Z" fill="#240000"/>
<path d="M67.5 757.4L73.4 757.4L74.3 761.3L68.5 761.3Z" fill="#400200"/>
<path d="M68.5 762.6L74.3 762.6L75 766.2L69.3 766.2Z" fill="#340100"/>
<path d="M69.3 767.5L75 767.5L75.6 771.1L70 771.1Z" fill="#1c0000"/>
<path d="M70 772.4L75.6 772.4L76.2 776.5L70.7 776.5Z" fill="#2a0000"/>
<path d="M70.7 777.8L76.2 777.8L76.7 782.8L71.3 782.8Z" fill="#400200"/>
<path d="M71.3 784L76.7 784L77.1 788.6L71.7 788.6Z" fill="#1c0000"/>
<path d="M71.7 789.9L77.1 789.9L77.3 793.9L72 793.9Z" fill="#400200"/>
<path d="M72 795.1L77.3 795.1L77.4 799.6L72.2 799.6Z" fill="#240000"/>
<path d="M72.2 800.8L77.4 800.8L77.5 804.4L72.4 804.4Z" fill="#340100"/>
<path d="M72.4 805.6L77.5 805.6L77.4 809.2L72.5 809.2Z" fill="#1c0000"/>
<path d="M72.5 810.5L77.4 810.5L77.2 814.6L72.5 814.6Z" fill="#400200"/>
<path d="M72.5 815.8L77.2 815.8L77.2 820.1L72.8 820.1Z" fill="#240000"/>
<path d="M72.8 821.4L77.2 821.4L77.6 825.1L73.6 825.1Z" fill="#340100"/>
<path d="M73.6 826.4L77.6 826.4L78.4 830.1L74.9 830.1Z" fill="#240000"/>
<path d="M74.9 831.3L78.4 831.3L79.8 836.6L77 836.6Z" fill="#240000"/>
<path d="M77 837.8L79.8 837.8L81.5 841.8L79.7 841.8Z" fill="#340100"/>
<path d="M79.7 843L81.5 843L82.6 845.4L81.7 845.4Z" fill="#1c0000"/>
<path d="M97.6 632.4L101.9 632.4L101.9 638.4L97.6 638.4Z" fill="#240000"/>
<path d="M97.6 639.7L101.9 639.7L101.9 646.6L97.6 646.6Z" fill="#1c0000"/>
<path d="M97.6 647.9L101.9 647.9L101.9 653.2L97.6 653.2Z" fill="#340100"/>
<path d="M97.6 654.4L101.9 654.4L101.9 660.8L97.7 660.8Z" fill="#1c0000"/>
<path d="M97.7 662.1L101.9 662.1L102 668.8L97.7 668.8Z" fill="#2a0000"/>
<path d="M97.7 670L102 670L102 677.8L97.7 677.8Z" fill="#400200"/>
<path d="M97.7 679L102 679L102 684.2L97.8 684.2Z" fill="#1c0000"/>
<path d="M97.8 685.5L102 685.5L102.1 692.7L97.8 692.7Z" fill="#1c0000"/>
<path d="M97.8 694L102.1 694L102.1 702.5L97.8 702.5Z" fill="#1c0000"/>
<path d="M97.8 703.7L102.1 703.7L102.2 710.2L97.9 710.2Z" fill="#240000"/>
<path d="M97.9 711.5L102.2 711.5L102.4 718.1L98.1 718.1Z" fill="#340100"/>
<path d="M98.1 719.3L102.4 719.3L102.5 726.3L98.3 726.3Z" fill="#1c0000"/>
<path d="M98.3 727.5L102.5 727.5L102.6 731.2L98.4 731.2Z" fill="#240000"/>
<path d="M98.4 732.5L102.6 732.5L102.8 737.7L98.6 737.7Z" fill="#2a0000"/>
<path d="M98.6 739L102.8 739L103 742.6L98.8 742.6Z" fill="#2a0000"/>
<path d="M98.8 743.9L103 743.9L103.2 748.6L99 748.6Z" fill="#240000"/>
<path d="M99 749.8L103.2 749.8L103.5 754.6L99.4 754.6Z" fill="#1c0000"/>
<path d="M99.4 755.8L103.5 755.8L103.9 759.4L99.9 759.4Z" fill="#1c0000"/>
<path d="M99.9 760.7L103.9 760.7L104.3 764.4L100.3 764.4Z" fill="#2a0000"/>
<path d="M100.3 765.6L104.3 765.6L104.6 769.6L100.7 769.6Z" fill="#2a0000"/>
<path d="M100.7 770.9L104.6 770.9L104.9 776L101.1 776Z" fill="#1c0000"/>
<path d="M101.1 777.2L104.9 777.2L105.1 781.6L101.3 781.6Z" fill="#2a0000"/>
<path d="M101.3 782.9L105.1 782.9L105.2 787.3L101.5 787.3Z" fill="#240000"/>
<path d="M101.5 788.5L105.2 788.5L105.1 793.5L101.4 793.5Z" fill="#240000"/>
<path d="M101.4 794.7L105.1 794.7L104.9 798.8L101.3 798.8Z" fill="#1c0000"/>
<path d="M101.3 800.1L104.9 800.1L104.5 804L101 804Z" fill="#2a0000"/>
<path d="M101 805.2L104.5 805.2L103.8 808.8L100.4 808.8Z" fill="#340100"/>
<path d="M100.4 810.1L103.8 810.1L102.7 813.7L99.5 813.7Z" fill="#340100"/>
<path d="M99.5 814.9L102.7 814.9L101 820.2L98.1 820.2Z" fill="#400200"/>
<path d="M98.1 821.4L101 821.4L100 824.9L97.3 824.9Z" fill="#2a0000"/>
<path d="M97.3 826.1L100 826.1L99.2 829.5L96.7 829.5Z" fill="#340100"/>
<path d="M96.7 830.8L99.2 830.8L97 836.1L95.2 836.1Z" fill="#240000"/>
<path d="M95.2 837.4L97 837.4L94.3 841.2L93.3 841.2Z" fill="#340100"/>
<path d="M103.1 632.2L108.8 632.2L108.8 637.3L103.1 637.3Z" fill="#340100"/>
<path d="M103.1 638.5L108.8 638.5L108.8 644.7L103.1 644.7Z" fill="#340100"/>
<path d="M103.1 645.9L108.8 645.9L108.8 652.3L103.2 652.3Z" fill="#240000"/>
<path d="M103.2 653.5L108.8 653.5L108.9 660L103.2 660Z" fill="#240000"/>
<path d="M103.2 661.2L108.9 661.2L108.9 667.6L103.2 667.6Z" fill="#340100"/>
<path d="M103.2 668.8L108.9 668.8L108.9 674.9L103.2 674.9Z" fill="#400200"/>
<path d="M103.2 676.2L108.9 676.2L109 682.3L103.3 682.3Z" fill="#240000"/>
<path d="M103.3 683.5L109 683.5L109 688.9L103.3 688.9Z" fill="#400200"/>
<path d="M103.3 690.1L109 690.1L109 695.8L103.3 695.8Z" fill="#2a0000"/>
<path d="M103.3 697L109 697L109.1 702.7L103.4 702.7Z" fill="#2a0000"/>
<path d="M103.4 703.9L109.1 703.9L109.1 709.6L103.5 709.6Z" fill="#2a0000"/>
<path d="M103.5 710.9L109.1 710.9L109.2 716L103.6 716Z" fill="#400200"/>
<path d="M103.6 717.3L109.2 717.3L109.4 725L103.7 725Z" fill="#240000"/>
<path d="M103.7 726.2L109.4 726.2L109.5 730.5L103.9 730.5Z" fill="#2a0000"/>
<path d="M103.9 731.8L109.5 731.8L109.6 735.3L104 735.3Z" fill="#1c0000"/>
<path d="M104 736.6L109.6 736.6L109.7 740.2L104.1 740.2Z" fill="#1c0000"/>
<path d="M104.1 741.4L109.7 741.4L109.9 746.1L104.3 746.1Z" fill="#400200"/>
<path d="M104.3 747.3L109.9 747.3L110 751.8L104.5 751.8Z" fill="#400200"/>
<path d="M104.5 753L110 753L110.4 757.5L105 757.5Z" fill="#340100"/>
<path d="M105 758.7L110.4 758.7L110.7 762.2L105.4 762.2Z" fill="#400200"/>
<path d="M105.4 763.5L110.7 763.5L110.9 767.7L105.7 767.7Z" fill="#340100"/>
<path d="M105.7 769L110.9 769L111.1 772.6L105.9 772.6Z" fill="#400200"/>
<path d="M105.9 773.8L111.1 773.8L111.2 777.5L106.2 777.5Z" fill="#240000"/>
<path d="M106.2 778.8L111.2 778.8L111.3 782.9L106.4 782.9Z" fill="#340100"/>
<path d="M106.4 784.2L111.3 784.2L111.3 788.6L106.4 788.6Z" fill="#400200"/>
<path d="M106.4 789.8L111.3 789.8L111.2 793.7L106.3 793.7Z" fill="#400200"/>
<path d="M106.3 795L111.2 795L110.9 799.6L106.1 799.6Z" fill="#340100"/>
<path d="M106.1 800.8L110.9 800.8L110.3 805.5L105.6 805.5Z" fill="#340100"/>
<path d="M105.6 806.8L110.3 806.8L109.1 810.6L104.6 810.6Z" fill="#340100"/>
<path d="M104.6 811.8L109.1 811.8L107.7 815.6L103.4 815.6Z" fill="#1c0000"/>
<path d="M103.4 816.9L107.7 816.9L106 821.2L102.1 821.2Z" fill="#2a0000"/>
<path d="M102.1 822.4L106 822.4L104.4 827L100.9 827Z" fill="#340100"/>
<path d="M100.9 828.2L104.4 828.2L102.6 832.7L99.6 832.7Z" fill="#2a0000"/>
<path d="M99.6 834L102.6 834L100.1 837.8L97.8 837.8Z" fill="#340100"/>
<path d="M97.8 839L100.1 839L95 843.1L93.9 843.1Z" fill="#240000"/>
<path d="M93.9 844.4L95 844.4L93.8 845.4L93 845.4Z" fill="#2a0000"/>
<path d="M110 632.6L116.4 632.6L116.4 640.4L110 640.4Z" fill="#240000"/>
<path d="M110 641.7L116.4 641.7L116.4 651.4L110.1 651.4Z" fill="#1c0000"/>
<path d="M110.1 652.7L116.4 652.7L116.4 658.7L110.1 658.7Z" fill="#240000"/>
<path d="M110.1 659.9L116.4 659.9L116.5 667.9L110.1 667.9Z" fill="#400200"/>
<path d="M110.1 669.1L116.5 669.1L116.5 678L110.2 678Z" fill="#1c0000"/>
<path d="M110.2 679.2L116.5 679.2L116.6 686L110.2 686Z" fill="#240000"/>
<path d="M110.2 687.2L116.6 687.2L116.6 694.5L110.3 694.5Z" fill="#1c0000"/>
<path d="M110.3 695.7L116.6 695.7L116.7 703L110.3 703Z" fill="#2a0000"/>
<path d="M110.3 704.2L116.7 704.2L116.8 710.2L110.4 710.2Z" fill="#240000"/>
<path d="M110.4 711.4L116.8 711.4L116.9 720.7L110.5 720.7Z" fill="#240000"/>
<path d="M110.5 721.9L116.9 721.9L117 727L110.7 727Z" fill="#240000"/>
<path d="M110.7 728.2L117 728.2L117.1 733.2L110.8 733.2Z" fill="#340100"/>
<path d="M110.8 734.4L117.1 734.4L117.2 738L110.9 738Z" fill="#340100"/>
<path d="M110.9 739.3L117.2 739.3L117.3 743.8L111 743.8Z" fill="#240000"/>
<path d="M111 745.1L117.3 745.1L117.4 749.5L111.2 749.5Z" fill="#1c0000"/>
<path d="M111.2 750.7L117.4 750.7L117.6 755.5L111.5 755.5Z" fill="#2a0000"/>
<path d="M111.5 756.7L117.6 756.7L117.8 760.9L111.9 760.9Z" fill="#1c0000"/>
<path d="M111.9 762.2L117.8 762.2L118 766.5L112.1 766.5Z" fill="#400200"/>
<path d="M112.1 767.7L118 767.7L118.1 771.3L112.3 771.3Z" fill="#1c0000"/>
<path d="M112.3 772.5L118.1 772.5L118.1 776.5L112.4 776.5Z" fill="#240000"/>
<path d="M112.4 777.7L118.1 777.7L118.2 781.9L112.5 781.9Z" fill="#1c0000"/>
<path d="M112.5 783.1L118.2 783.1L118.2 786.7L112.6 786.7Z" fill="#340100"/>
<path d="M112.6 787.9L118.2 787.9L118 792.6L112.5 792.6Z" fill="#340100"/>
<path d="M112.5 793.8L118 793.8L117.5 799L112.1 799Z" fill="#2a0000"/>
<path d="M112.1 800.3L117.5 800.3L117 804.7L111.7 804.7Z" fill="#400200"/>
<path d="M111.7 806L117 806L115.7 809.8L110.6 809.8Z" fill="#240000"/>
<path d="M110.6 811L115.7 811L113.7 815L108.9 815Z" fill="#2a0000"/>
<path d="M108.9 816.2L113.7 816.2L111.7 821.6L107.3 821.6Z" fill="#340100"/>
<path d="M107.3 822.8L111.7 822.8L109.6 827.5L105.6 827.5Z" fill="#1c0000"/>
<path d="M105.6 828.7L109.6 828.7L106.2 833.9L103 833.9Z" fill="#400200"/>
<path d="M103 835.2L106.2 835.2L101.4 840.5L99.3 840.5Z" fill="#240000"/>
<path d="M99.3 841.7L101.4 841.7L96 845.4L95 845.4Z" fill="#340100"/>
<rect x="75" y="848.3" width="4.4" height="3.9" fill="#400200" stroke="none" stroke-width="1" rx="0.8"/>
<rect x="81" y="848.3" width="4.4" height="3.9" fill="#2a0000" stroke="none" stroke-width="1" rx="0.8"/>
<rect x="87" y="848.3" width="4.4" height="3.9" fill="#400200" stroke="none" stroke-width="1" rx="0.8"/>
<rect x="93" y="848.3" width="4.4" height="3.9" fill="#2a0000" stroke="none" stroke-width="1" rx="0.8"/>
<rect x="72" y="853.8" width="4.4" height="3.9" fill="#400200" stroke="none" stroke-width="1" rx="0.8"/>
<rect x="78" y="853.8" width="4.4" height="3.9" fill="#400200" stroke="none" stroke-width="1" rx="0.8"/>
<rect x="84" y="853.8" width="4.4" height="3.9" fill="#2a0000" stroke="none" stroke-width="1" rx="0.8"/>
<rect x="90" y="853.8" width="4.4" height="3.9" fill="#400200" stroke="none" stroke-width="1" rx="0.8"/>
<rect x="96" y="853.8" width="4.4" height="3.9" fill="#2a0000" stroke="none" stroke-width="1" rx="0.8"/>
<rect x="69" y="859.3" width="4.4" height="3.9" fill="#1c0000" stroke="none" stroke-width="1" rx="0.8"/>
<rect x="75" y="859.3" width="4.4" height="3.9" fill="#1c0000" stroke="none" stroke-width="1" rx="0.8"/>
<rect x="81" y="859.3" width="4.4" height="3.9" fill="#400200" stroke="none" stroke-width="1" rx="0.8"/>
<rect x="87" y="859.3" width="4.4" height="3.9" fill="#1c0000" stroke="none" stroke-width="1" rx="0.8"/>
<rect x="93" y="859.3" width="4.4" height="3.9" fill="#1c0000" stroke="none" stroke-width="1" rx="0.8"/>
<rect x="99" y="859.3" width="4.4" height="3.9" fill="#1c0000" stroke="none" stroke-width="1" rx="0.8"/>
<rect x="66" y="864.8" width="4.4" height="3.9" fill="#400200" stroke="none" stroke-width="1" rx="0.8"/>
<rect x="72" y="864.8" width="4.4" height="3.9" fill="#400200" stroke="none" stroke-width="1" rx="0.8"/>
<rect x="78" y="864.8" width="4.4" height="3.9" fill="#400200" stroke="none" stroke-width="1" rx="0.8"/>
<rect x="84" y="864.8" width="4.4" height="3.9" fill="#2a0000" stroke="none" stroke-width="1" rx="0.8"/>
<rect x="90" y="864.8" width="4.4" height="3.9" fill="#1c0000" stroke="none" stroke-width="1" rx="0.8"/>
<rect x="96" y="864.8" width="4.4" height="3.9" fill="#1c0000" stroke="none" stroke-width="1" rx="0.8"/>
<rect x="102" y="864.8" width="4.4" height="3.9" fill="#1c0000" stroke="none" stroke-width="1" rx="0.8"/>
<rect x="54.2" y="800.7" width="3.4" height="3.9" fill="#5a0400" stroke="none" stroke-width="1" rx="0.8" opacity="0.85"/>
<rect x="54.7" y="805.9" width="3.4" height="3.9" fill="#5a0400" stroke="none" stroke-width="1" rx="0.8" opacity="0.85"/>
<rect x="55.1" y="811.1" width="3.4" height="3.9" fill="#5a0400" stroke="none" stroke-width="1" rx="0.8" opacity="0.85"/>
<rect x="55.8" y="816.3" width="3.4" height="3.9" fill="#5a0400" stroke="none" stroke-width="1" rx="0.8" opacity="0.85"/>
<rect x="56.6" y="821.5" width="3.4" height="3.9" fill="#5a0400" stroke="none" stroke-width="1" rx="0.8" opacity="0.85"/>
<rect x="58.1" y="826.7" width="3.4" height="3.9" fill="#5a0400" stroke="none" stroke-width="1" rx="0.8" opacity="0.85"/>
<rect x="60.4" y="831.9" width="3.4" height="3.9" fill="#5a0400" stroke="none" stroke-width="1" rx="0.8" opacity="0.85"/>
<rect x="63.5" y="837.1" width="3.4" height="3.9" fill="#5a0400" stroke="none" stroke-width="1" rx="0.8" opacity="0.85"/>
<rect x="69" y="842.3" width="3.4" height="3.9" fill="#5a0400" stroke="none" stroke-width="1" rx="0.8" opacity="0.85"/>
<rect x="72.6" y="847.5" width="3.4" height="3.9" fill="#5a0400" stroke="none" stroke-width="1" rx="0.8" opacity="0.85"/>
<rect x="72.4" y="852.7" width="3.4" height="3.9" fill="#5a0400" stroke="none" stroke-width="1" rx="0.8" opacity="0.85"/>
<rect x="72.1" y="857.9" width="3.4" height="3.9" fill="#5a0400" stroke="none" stroke-width="1" rx="0.8" opacity="0.85"/>
<rect x="71.8" y="863.1" width="3.4" height="3.9" fill="#5a0400" stroke="none" stroke-width="1" rx="0.8" opacity="0.85"/>
<rect x="71.6" y="868.3" width="3.4" height="3.9" fill="#5a0400" stroke="none" stroke-width="1" rx="0.8" opacity="0.85"/>
<rect x="60.8" y="839.9" width="3.4" height="3.9" fill="#5a0400" stroke="none" stroke-width="1" rx="0.8" opacity="0.85"/>
<rect x="66.2" y="845.1" width="3.4" height="3.9" fill="#5a0400" stroke="none" stroke-width="1" rx="0.8" opacity="0.85"/>
<rect x="67.3" y="850.3" width="3.4" height="3.9" fill="#5a0400" stroke="none" stroke-width="1" rx="0.8" opacity="0.85"/>
<rect x="67" y="855.5" width="3.4" height="3.9" fill="#5a0400" stroke="none" stroke-width="1" rx="0.8" opacity="0.85"/>
<rect x="66.8" y="860.7" width="3.4" height="3.9" fill="#5a0400" stroke="none" stroke-width="1" rx="0.8" opacity="0.85"/>
<rect x="66.5" y="865.9" width="3.4" height="3.9" fill="#5a0400" stroke="none" stroke-width="1" rx="0.8" opacity="0.85"/>
<rect x="58.5" y="842.7" width="3.4" height="3.9" fill="#5a0400" stroke="none" stroke-width="1" rx="0.8" opacity="0.85"/>
<rect x="62.2" y="847.9" width="3.4" height="3.9" fill="#5a0400" stroke="none" stroke-width="1" rx="0.8" opacity="0.85"/>
<rect x="61.9" y="853.1" width="3.4" height="3.9" fill="#5a0400" stroke="none" stroke-width="1" rx="0.8" opacity="0.85"/>
<rect x="61.7" y="858.3" width="3.4" height="3.9" fill="#5a0400" stroke="none" stroke-width="1" rx="0.8" opacity="0.85"/>
<rect x="118.8" y="800.7" width="3" height="3.9" fill="#5a0400" stroke="none" stroke-width="1" rx="0.8" opacity="0.85"/>
<rect x="118.2" y="805.9" width="3" height="3.9" fill="#5a0400" stroke="none" stroke-width="1" rx="0.8" opacity="0.85"/>
<rect x="117" y="811.1" width="3" height="3.9" fill="#5a0400" stroke="none" stroke-width="1" rx="0.8" opacity="0.85"/>
<rect x="115" y="816.3" width="3" height="3.9" fill="#5a0400" stroke="none" stroke-width="1" rx="0.8" opacity="0.85"/>
<rect x="113.3" y="821.5" width="3" height="3.9" fill="#5a0400" stroke="none" stroke-width="1" rx="0.8" opacity="0.85"/>
<rect x="111.6" y="826.7" width="3" height="3.9" fill="#5a0400" stroke="none" stroke-width="1" rx="0.8" opacity="0.85"/>
<rect x="109.6" y="831.9" width="3" height="3.9" fill="#5a0400" stroke="none" stroke-width="1" rx="0.8" opacity="0.85"/>
<rect x="106.8" y="837.1" width="3" height="3.9" fill="#5a0400" stroke="none" stroke-width="1" rx="0.8" opacity="0.85"/>
<rect x="101.4" y="842.3" width="3" height="3.9" fill="#5a0400" stroke="none" stroke-width="1" rx="0.8" opacity="0.85"/>
<rect x="97.2" y="847.5" width="3" height="3.9" fill="#5a0400" stroke="none" stroke-width="1" rx="0.8" opacity="0.85"/>
<rect x="97.2" y="852.7" width="3" height="3.9" fill="#5a0400" stroke="none" stroke-width="1" rx="0.8" opacity="0.85"/>
<rect x="97.2" y="857.9" width="3" height="3.9" fill="#5a0400" stroke="none" stroke-width="1" rx="0.8" opacity="0.85"/>
<rect x="97.2" y="863.1" width="3" height="3.9" fill="#5a0400" stroke="none" stroke-width="1" rx="0.8" opacity="0.85"/>
<rect x="97.2" y="868.3" width="3" height="3.9" fill="#5a0400" stroke="none" stroke-width="1" rx="0.8" opacity="0.85"/>
<rect x="118.9" y="819.1" width="3" height="3.9" fill="#5a0400" stroke="none" stroke-width="1" rx="0.8" opacity="0.85"/>
<rect x="116.9" y="824.3" width="3" height="3.9" fill="#5a0400" stroke="none" stroke-width="1" rx="0.8" opacity="0.85"/>
<rect x="115.1" y="829.5" width="3" height="3.9" fill="#5a0400" stroke="none" stroke-width="1" rx="0.8" opacity="0.85"/>
<rect x="112.6" y="834.7" width="3" height="3.9" fill="#5a0400" stroke="none" stroke-width="1" rx="0.8" opacity="0.85"/>
<rect x="109.1" y="839.9" width="3" height="3.9" fill="#5a0400" stroke="none" stroke-width="1" rx="0.8" opacity="0.85"/>
<rect x="103.3" y="845.1" width="3" height="3.9" fill="#5a0400" stroke="none" stroke-width="1" rx="0.8" opacity="0.85"/>
<rect x="101.8" y="850.3" width="3" height="3.9" fill="#5a0400" stroke="none" stroke-width="1" rx="0.8" opacity="0.85"/>
<rect x="101.8" y="855.5" width="3" height="3.9" fill="#5a0400" stroke="none" stroke-width="1" rx="0.8" opacity="0.85"/>
<rect x="101.8" y="860.7" width="3" height="3.9" fill="#5a0400" stroke="none" stroke-width="1" rx="0.8" opacity="0.85"/>
<rect x="101.8" y="865.9" width="3" height="3.9" fill="#5a0400" stroke="none" stroke-width="1" rx="0.8" opacity="0.85"/>
<rect x="115.3" y="837.5" width="3" height="3.9" fill="#5a0400" stroke="none" stroke-width="1" rx="0.8" opacity="0.85"/>
<rect x="110.6" y="842.7" width="3" height="3.9" fill="#5a0400" stroke="none" stroke-width="1" rx="0.8" opacity="0.85"/>
<rect x="106.4" y="847.9" width="3" height="3.9" fill="#5a0400" stroke="none" stroke-width="1" rx="0.8" opacity="0.85"/>
<rect x="106.4" y="853.1" width="3" height="3.9" fill="#5a0400" stroke="none" stroke-width="1" rx="0.8" opacity="0.85"/>
<rect x="106.4" y="858.3" width="3" height="3.9" fill="#5a0400" stroke="none" stroke-width="1" rx="0.8" opacity="0.85"/>
<rect x="106.4" y="863.5" width="3" height="3.9" fill="#5a0400" stroke="none" stroke-width="1" rx="0.8" opacity="0.85"/>
<rect x="44.8" y="632.8" width="2.6" height="4.2" fill="#b00c04" stroke="none" stroke-width="1" rx="1" opacity="0.45"/>
<rect x="44.7" y="638.8" width="2.6" height="4.2" fill="#b00c04" stroke="none" stroke-width="1" rx="1" opacity="0.45"/>
<rect x="44.6" y="644.8" width="2.7" height="4.2" fill="#b00c04" stroke="none" stroke-width="1" rx="1" opacity="0.45"/>
<rect x="44.6" y="650.8" width="2.7" height="4.2" fill="#b00c04" stroke="none" stroke-width="1" rx="1" opacity="0.45"/>
<rect x="44.5" y="656.8" width="2.8" height="4.2" fill="#b00c04" stroke="none" stroke-width="1" rx="1" opacity="0.45"/>
<rect x="44.5" y="662.8" width="2.8" height="4.2" fill="#b00c04" stroke="none" stroke-width="1" rx="1" opacity="0.45"/>
<rect x="44.4" y="668.8" width="2.8" height="4.2" fill="#b00c04" stroke="none" stroke-width="1" rx="1" opacity="0.45"/>
<rect x="44.4" y="674.8" width="2.9" height="4.2" fill="#b00c04" stroke="none" stroke-width="1" rx="1" opacity="0.45"/>
<rect x="44.4" y="680.8" width="2.9" height="4.2" fill="#b00c04" stroke="none" stroke-width="1" rx="1" opacity="0.45"/>
<rect x="44.4" y="686.8" width="2.9" height="4.2" fill="#b00c04" stroke="none" stroke-width="1" rx="1" opacity="0.45"/>
<rect x="44.3" y="692.8" width="2.9" height="4.2" fill="#b00c04" stroke="none" stroke-width="1" rx="1" opacity="0.45"/>
<rect x="44.3" y="698.8" width="2.9" height="4.2" fill="#b00c04" stroke="none" stroke-width="1" rx="1" opacity="0.45"/>
<rect x="44.3" y="704.8" width="3" height="4.2" fill="#b00c04" stroke="none" stroke-width="1" rx="1" opacity="0.45"/>
<rect x="118.4" y="710.8" width="3.8" height="4.2" fill="#b00c04" stroke="none" stroke-width="1" rx="1" opacity="0.5"/>
<rect x="44.3" y="710.8" width="3.1" height="4.2" fill="#b00c04" stroke="none" stroke-width="1" rx="1" opacity="0.45"/>
<rect x="118.4" y="716.8" width="3.8" height="4.2" fill="#b00c04" stroke="none" stroke-width="1" rx="1" opacity="0.5"/>
<rect x="44.3" y="716.8" width="3.2" height="4.2" fill="#b00c04" stroke="none" stroke-width="1" rx="1" opacity="0.45"/>
<rect x="118.5" y="722.8" width="3.6" height="4.2" fill="#b00c04" stroke="none" stroke-width="1" rx="1" opacity="0.5"/>
<rect x="44.4" y="722.8" width="3.3" height="4.2" fill="#b00c04" stroke="none" stroke-width="1" rx="1" opacity="0.45"/>
<rect x="118.6" y="728.8" width="3.4" height="4.2" fill="#b00c04" stroke="none" stroke-width="1" rx="1" opacity="0.5"/>
<rect x="44.6" y="728.8" width="3.4" height="4.2" fill="#b00c04" stroke="none" stroke-width="1" rx="1" opacity="0.45"/>
<rect x="118.7" y="734.8" width="3.2" height="4.2" fill="#b00c04" stroke="none" stroke-width="1" rx="1" opacity="0.5"/>
<rect x="44.7" y="734.8" width="3.6" height="4.2" fill="#b00c04" stroke="none" stroke-width="1" rx="1" opacity="0.45"/>
<rect x="118.8" y="740.8" width="3" height="4.2" fill="#b00c04" stroke="none" stroke-width="1" rx="1" opacity="0.5"/>
<rect x="45" y="740.8" width="3.8" height="4.2" fill="#b00c04" stroke="none" stroke-width="1" rx="1" opacity="0.45"/>
<rect x="118.9" y="746.8" width="2.9" height="4.2" fill="#b00c04" stroke="none" stroke-width="1" rx="1" opacity="0.5"/>
<rect x="45.3" y="746.8" width="3.8" height="4.2" fill="#b00c04" stroke="none" stroke-width="1" rx="1" opacity="0.45"/>
<rect x="119.1" y="752.8" width="2.8" height="4.2" fill="#b00c04" stroke="none" stroke-width="1" rx="1" opacity="0.5"/>
<rect x="46" y="752.8" width="3.8" height="4.2" fill="#b00c04" stroke="none" stroke-width="1" rx="1" opacity="0.45"/>
<rect x="119.3" y="758.8" width="2.7" height="4.2" fill="#b00c04" stroke="none" stroke-width="1" rx="1" opacity="0.5"/>
<rect x="47.1" y="758.8" width="3.9" height="4.2" fill="#b00c04" stroke="none" stroke-width="1" rx="1" opacity="0.45"/>
<rect x="119.5" y="764.8" width="2.7" height="4.2" fill="#b00c04" stroke="none" stroke-width="1" rx="1" opacity="0.5"/>
<rect x="48.3" y="764.8" width="4.1" height="4.2" fill="#b00c04" stroke="none" stroke-width="1" rx="1" opacity="0.45"/>
<rect x="119.7" y="770.8" width="2.7" height="4.2" fill="#b00c04" stroke="none" stroke-width="1" rx="1" opacity="0.5"/>
<rect x="49.4" y="770.8" width="4.1" height="4.2" fill="#b00c04" stroke="none" stroke-width="1" rx="1" opacity="0.45"/>
<rect x="119.7" y="776.8" width="2.7" height="4.2" fill="#b00c04" stroke="none" stroke-width="1" rx="1" opacity="0.5"/>
<rect x="50.4" y="776.8" width="4.1" height="4.2" fill="#b00c04" stroke="none" stroke-width="1" rx="1" opacity="0.45"/>
<rect x="119.8" y="782.8" width="2.8" height="4.2" fill="#b00c04" stroke="none" stroke-width="1" rx="1" opacity="0.5"/>
<rect x="51.4" y="782.8" width="3.9" height="4.2" fill="#b00c04" stroke="none" stroke-width="1" rx="1" opacity="0.45"/>
<rect x="119.8" y="788.8" width="2.9" height="4.2" fill="#b00c04" stroke="none" stroke-width="1" rx="1" opacity="0.5"/>
<rect x="52.3" y="788.8" width="3.8" height="4.2" fill="#b00c04" stroke="none" stroke-width="1" rx="1" opacity="0.45"/>
<rect x="119.5" y="794.8" width="3.1" height="4.2" fill="#b00c04" stroke="none" stroke-width="1" rx="1" opacity="0.5"/>
<rect x="52.9" y="794.8" width="3.6" height="4.2" fill="#b00c04" stroke="none" stroke-width="1" rx="1" opacity="0.45"/>
</g>
<path d="M145.6 721.9h1v1h-1zM145.5 826.9h1v1h-1zM134.4 842.9h1v1h-1zM134.5 852.6h1v1h-1zM140.6 726.5h1v1h-1zM141.2 811.2h1v1h-1zM145.6 746.8h1v1h-1zM134.5 811.9h1v1h-1zM147.2 720h1v1h-1zM138.4 851h1v1h-1zM138.2 748.9h1v1h-1zM144.6 739.7h1v1h-1zM144.4 838.9h1v1h-1zM146.4 773h1v1h-1zM134.9 782.2h1v1h-1zM147.2 746.9h1v1h-1zM139.5 764.8h1v1h-1zM139.8 801.6h1v1h-1zM135.3 791.8h1v1h-1zM134.3 844.5h1v1h-1zM139.7 823.3h1v1h-1zM138.5 780.8h1v1h-1zM142.4 844.1h1v1h-1zM140.6 788h1v1h-1zM145.1 740.3h1v1h-1zM130.1 782.3h1v1h-1zM146.6 789.2h1v1h-1zM144.8 760.6h1v1h-1zM143.1 762.4h1v1h-1zM132.9 847.5h1v1h-1zM141.6 824.3h1v1h-1zM132.7 768.5h1v1h-1zM132.5 755.9h1v1h-1zM134.9 720.1h1v1h-1zM147.3 824.8h1v1h-1zM132.2 758.8h1v1h-1zM131.5 737.9h1v1h-1zM137.7 744.2h1v1h-1zM144.2 768.2h1v1h-1zM132.6 817.3h1v1h-1zM138.6 804.2h1v1h-1zM136.5 739.3h1v1h-1zM134 769.7h1v1h-1zM129.6 794.6h1v1h-1zM137.1 714.8h1v1h-1zM131.5 792h1v1h-1zM136.4 788.2h1v1h-1zM135.8 789.1h1v1h-1zM137.7 774.5h1v1h-1zM140.4 828.7h1v1h-1zM130.3 776.6h1v1h-1zM145.3 734.2h1v1h-1zM134.4 765.7h1v1h-1zM130.9 757.9h1v1h-1zM140.6 735.4h1v1h-1zM146.4 769.7h1v1h-1zM128.8 765.5h1v1h-1zM140.7 808h1v1h-1zM142 862.2h1v1h-1zM139.9 802h1v1h-1zM141.6 756.4h1v1h-1zM134.5 775.2h1v1h-1zM146.5 812.3h1v1h-1zM146.5 777.1h1v1h-1zM139.2 829.7h1v1h-1zM136.5 769h1v1h-1zM131.6 757.5h1v1h-1zM131.8 840.4h1v1h-1zM142.3 761.9h1v1h-1zM131.2 852.9h1v1h-1zM137.7 795.3h1v1h-1zM137.3 851.8h1v1h-1zM139.1 768.3h1v1h-1zM142.5 805.4h1v1h-1zM142 737.5h1v1h-1zM141.3 730.3h1v1h-1zM139 730.1h1v1h-1zM135.7 797.8h1v1h-1zM134.3 754.2h1v1h-1zM137.6 817.4h1v1h-1zM132.6 752.2h1v1h-1zM132.2 729h1v1h-1zM135.4 734.7h1v1h-1zM135.4 817h1v1h-1zM133.3 832.2h1v1h-1zM146.9 814.7h1v1h-1zM132.9 751.8h1v1h-1zM135 764.9h1v1h-1zM130.1 845.8h1v1h-1zM130.7 724.8h1v1h-1zM147.7 763.4h1v1h-1zM130.3 839.6h1v1h-1zM130.8 718.6h1v1h-1zM137.8 865.3h1v1h-1zM130.7 850.6h1v1h-1zM136.8 777.9h1v1h-1zM139.3 800.4h1v1h-1zM147.6 778.2h1v1h-1zM133.9 753.9h1v1h-1zM146 735.7h1v1h-1zM128.6 778.4h1v1h-1zM128 833.8h1v1h-1zM130.6 824.2h1v1h-1zM132.1 819.5h1v1h-1zM140.9 751.6h1v1h-1zM140.6 798.8h1v1h-1zM147.3 767.1h1v1h-1zM130.4 745.5h1v1h-1zM147.1 723.4h1v1h-1zM136.6 756.5h1v1h-1zM130.3 763.9h1v1h-1zM144.3 824.5h1v1h-1zM133.2 725.4h1v1h-1zM129.6 816.8h1v1h-1zM129.9 819.5h1v1h-1zM140.6 791.9h1v1h-1zM142.2 797.1h1v1h-1zM141.3 780.2h1v1h-1zM131.5 839.3h1v1h-1zM129.4 817.1h1v1h-1zM136.3 713.1h1v1h-1zM134.7 823.9h1v1h-1zM144.7 767.7h1v1h-1zM128.9 744.6h1v1h-1zM128.2 794.5h1v1h-1zM146.7 823.1h1v1h-1zM140.5 779.9h1v1h-1zM132.7 712.9h1v1h-1zM132.3 736.3h1v1h-1zM135.8 772.9h1v1h-1zM37.5 820.9h1v1h-1zM44.8 828.8h1v1h-1zM48.6 864.9h1v1h-1zM43.3 858.3h1v1h-1zM39.8 834.6h1v1h-1zM48.6 850.8h1v1h-1zM39.1 824.4h1v1h-1zM38.5 829.5h1v1h-1zM41.8 829.7h1v1h-1zM40.1 830h1v1h-1zM36.9 851h1v1h-1zM50.7 848.5h1v1h-1zM35.9 791.7h1v1h-1zM45.9 826.5h1v1h-1zM35.8 816.2h1v1h-1zM41.6 852.1h1v1h-1zM45.6 849.2h1v1h-1zM38.7 819.8h1v1h-1zM38.3 802.5h1v1h-1zM42.5 861.3h1v1h-1zM42.1 826.6h1v1h-1zM48.5 849.8h1v1h-1zM37.5 809.9h1v1h-1zM47.8 840.4h1v1h-1zM43.7 819.3h1v1h-1zM42 839.7h1v1h-1zM44.3 822h1v1h-1zM36.1 821.4h1v1h-1zM43.7 826.3h1v1h-1zM45.8 832.4h1v1h-1z" fill="#b01008" opacity="0.8"/>
</g>
<rect x="105.3" y="632.3" width="43.4" height="77.4" fill="#c4c4c4" stroke="none" stroke-width="1" />
<rect x="107.2" y="634.2" width="39.6" height="73.6" fill="#4a0400" stroke="none" stroke-width="1" />
<g clip-path="url(#finset)" filter="url(#fblur)">
<line x1="109.5" y1="633" x2="114" y2="709" stroke="#c81006" stroke-width="0.9" opacity="0.8"/>
<line x1="109.7" y1="636.5" x2="112.9" y2="636.5" stroke="#d0140a" stroke-width="0.7" opacity="0.7"/>
<line x1="110.3" y1="646.4" x2="113.5" y2="646.4" stroke="#d0140a" stroke-width="0.7" opacity="0.7"/>
<line x1="110.7" y1="653.5" x2="113.9" y2="653.5" stroke="#d0140a" stroke-width="0.7" opacity="0.7"/>
<line x1="111.1" y1="659.7" x2="114.3" y2="659.7" stroke="#d0140a" stroke-width="0.7" opacity="0.7"/>
<line x1="111.7" y1="669.6" x2="114.9" y2="669.6" stroke="#d0140a" stroke-width="0.7" opacity="0.7"/>
<line x1="112.3" y1="680.4" x2="115.5" y2="680.4" stroke="#d0140a" stroke-width="0.7" opacity="0.7"/>
<line x1="113.1" y1="693.2" x2="116.3" y2="693.2" stroke="#d0140a" stroke-width="0.7" opacity="0.7"/>
<line x1="113.5" y1="699.8" x2="116.7" y2="699.8" stroke="#d0140a" stroke-width="0.7" opacity="0.7"/>
<line x1="113" y1="633" x2="117.5" y2="709" stroke="#d8140a" stroke-width="1.2" opacity="0.6"/>
<line x1="113.2" y1="637" x2="116.4" y2="637" stroke="#d0140a" stroke-width="0.7" opacity="0.7"/>
<line x1="113.8" y1="647.1" x2="117" y2="647.1" stroke="#d0140a" stroke-width="0.7" opacity="0.7"/>
<line x1="114.6" y1="659.8" x2="117.8" y2="659.8" stroke="#d0140a" stroke-width="0.7" opacity="0.7"/>
<line x1="115.1" y1="667.8" x2="118.3" y2="667.8" stroke="#d0140a" stroke-width="0.7" opacity="0.7"/>
<line x1="115.8" y1="679.8" x2="119" y2="679.8" stroke="#d0140a" stroke-width="0.7" opacity="0.7"/>
<line x1="116.5" y1="692.2" x2="119.7" y2="692.2" stroke="#d0140a" stroke-width="0.7" opacity="0.7"/>
<line x1="117" y1="701.2" x2="120.2" y2="701.2" stroke="#d0140a" stroke-width="0.7" opacity="0.7"/>
<line x1="116.5" y1="633" x2="121" y2="709" stroke="#c81006" stroke-width="1.2" opacity="1.0"/>
<line x1="116.9" y1="639.4" x2="120.1" y2="639.4" stroke="#d0140a" stroke-width="0.7" opacity="0.7"/>
<line x1="117.4" y1="647.6" x2="120.6" y2="647.6" stroke="#d0140a" stroke-width="0.7" opacity="0.7"/>
<line x1="117.9" y1="656.7" x2="121.1" y2="656.7" stroke="#d0140a" stroke-width="0.7" opacity="0.7"/>
<line x1="118.6" y1="669.2" x2="121.8" y2="669.2" stroke="#d0140a" stroke-width="0.7" opacity="0.7"/>
<line x1="119.1" y1="677" x2="122.3" y2="677" stroke="#d0140a" stroke-width="0.7" opacity="0.7"/>
<line x1="119.5" y1="683.1" x2="122.7" y2="683.1" stroke="#d0140a" stroke-width="0.7" opacity="0.7"/>
<line x1="120.2" y1="695.7" x2="123.4" y2="695.7" stroke="#d0140a" stroke-width="0.7" opacity="0.7"/>
<line x1="120.7" y1="704" x2="123.9" y2="704" stroke="#d0140a" stroke-width="0.7" opacity="0.7"/>
<line x1="119.5" y1="633" x2="124" y2="709" stroke="#e8140a" stroke-width="0.9" opacity="0.6"/>
<line x1="119.7" y1="636.7" x2="122.9" y2="636.7" stroke="#d0140a" stroke-width="0.7" opacity="0.7"/>
<line x1="120.4" y1="648.9" x2="123.6" y2="648.9" stroke="#d0140a" stroke-width="0.7" opacity="0.7"/>
<line x1="120.9" y1="656.6" x2="124.1" y2="656.6" stroke="#d0140a" stroke-width="0.7" opacity="0.7"/>
<line x1="121.3" y1="664.2" x2="124.5" y2="664.2" stroke="#d0140a" stroke-width="0.7" opacity="0.7"/>
<line x1="122.1" y1="676.7" x2="125.3" y2="676.7" stroke="#d0140a" stroke-width="0.7" opacity="0.7"/>
<line x1="122.5" y1="684.3" x2="125.7" y2="684.3" stroke="#d0140a" stroke-width="0.7" opacity="0.7"/>
<line x1="123.3" y1="696.6" x2="126.5" y2="696.6" stroke="#d0140a" stroke-width="0.7" opacity="0.7"/>
<line x1="123.8" y1="705" x2="127" y2="705" stroke="#d0140a" stroke-width="0.7" opacity="0.7"/>
<line x1="122.5" y1="633" x2="127" y2="709" stroke="#c81006" stroke-width="1.2" opacity="0.6"/>
<line x1="122.9" y1="640.5" x2="126.1" y2="640.5" stroke="#d0140a" stroke-width="0.7" opacity="0.7"/>
<line x1="123.5" y1="649.3" x2="126.7" y2="649.3" stroke="#d0140a" stroke-width="0.7" opacity="0.7"/>
<line x1="124" y1="658.8" x2="127.2" y2="658.8" stroke="#d0140a" stroke-width="0.7" opacity="0.7"/>
<line x1="124.5" y1="666.9" x2="127.7" y2="666.9" stroke="#d0140a" stroke-width="0.7" opacity="0.7"/>
<line x1="125.2" y1="678.8" x2="128.4" y2="678.8" stroke="#d0140a" stroke-width="0.7" opacity="0.7"/>
<line x1="126" y1="691.3" x2="129.2" y2="691.3" stroke="#d0140a" stroke-width="0.7" opacity="0.7"/>
<line x1="126.6" y1="702.6" x2="129.8" y2="702.6" stroke="#d0140a" stroke-width="0.7" opacity="0.7"/>
<line x1="126" y1="633" x2="130.5" y2="709" stroke="#e8140a" stroke-width="0.9" opacity="0.8"/>
<line x1="126.3" y1="637.6" x2="129.5" y2="637.6" stroke="#d0140a" stroke-width="0.7" opacity="0.7"/>
<line x1="126.7" y1="644.7" x2="129.9" y2="644.7" stroke="#d0140a" stroke-width="0.7" opacity="0.7"/>
<line x1="127.5" y1="657.5" x2="130.7" y2="657.5" stroke="#d0140a" stroke-width="0.7" opacity="0.7"/>
<line x1="128.2" y1="669.8" x2="131.4" y2="669.8" stroke="#d0140a" stroke-width="0.7" opacity="0.7"/>
<line x1="128.9" y1="682.2" x2="132.1" y2="682.2" stroke="#d0140a" stroke-width="0.7" opacity="0.7"/>
<line x1="129.5" y1="692.1" x2="132.7" y2="692.1" stroke="#d0140a" stroke-width="0.7" opacity="0.7"/>
<line x1="129.9" y1="698.9" x2="133.1" y2="698.9" stroke="#d0140a" stroke-width="0.7" opacity="0.7"/>
<line x1="130.4" y1="707.9" x2="133.6" y2="707.9" stroke="#d0140a" stroke-width="0.7" opacity="0.7"/>
<line x1="129" y1="633" x2="133.5" y2="709" stroke="#d8140a" stroke-width="0.9" opacity="1.0"/>
<line x1="129.3" y1="638.3" x2="132.5" y2="638.3" stroke="#d0140a" stroke-width="0.7" opacity="0.7"/>
<line x1="130.1" y1="650.9" x2="133.3" y2="650.9" stroke="#d0140a" stroke-width="0.7" opacity="0.7"/>
<line x1="130.5" y1="658.3" x2="133.7" y2="658.3" stroke="#d0140a" stroke-width="0.7" opacity="0.7"/>
<line x1="131.2" y1="670.8" x2="134.4" y2="670.8" stroke="#d0140a" stroke-width="0.7" opacity="0.7"/>
<line x1="131.7" y1="679" x2="134.9" y2="679" stroke="#d0140a" stroke-width="0.7" opacity="0.7"/>
<line x1="132.4" y1="689.6" x2="135.6" y2="689.6" stroke="#d0140a" stroke-width="0.7" opacity="0.7"/>
<line x1="132.8" y1="696.4" x2="136" y2="696.4" stroke="#d0140a" stroke-width="0.7" opacity="0.7"/>
<line x1="132.5" y1="633" x2="137" y2="709" stroke="#d8140a" stroke-width="1.2" opacity="0.8"/>
<line x1="133.1" y1="642.4" x2="136.3" y2="642.4" stroke="#d0140a" stroke-width="0.7" opacity="0.7"/>
<line x1="133.7" y1="653.8" x2="136.9" y2="653.8" stroke="#d0140a" stroke-width="0.7" opacity="0.7"/>
<line x1="134.2" y1="661.5" x2="137.4" y2="661.5" stroke="#d0140a" stroke-width="0.7" opacity="0.7"/>
<line x1="134.9" y1="672.7" x2="138.1" y2="672.7" stroke="#d0140a" stroke-width="0.7" opacity="0.7"/>
<line x1="135.5" y1="683" x2="138.7" y2="683" stroke="#d0140a" stroke-width="0.7" opacity="0.7"/>
<line x1="135.9" y1="689.8" x2="139.1" y2="689.8" stroke="#d0140a" stroke-width="0.7" opacity="0.7"/>
<line x1="136.3" y1="697" x2="139.5" y2="697" stroke="#d0140a" stroke-width="0.7" opacity="0.7"/>
<line x1="136.8" y1="705.3" x2="140" y2="705.3" stroke="#d0140a" stroke-width="0.7" opacity="0.7"/>
<line x1="135.5" y1="633" x2="140" y2="709" stroke="#c81006" stroke-width="0.9" opacity="0.6"/>
<line x1="135.7" y1="636.9" x2="138.9" y2="636.9" stroke="#d0140a" stroke-width="0.7" opacity="0.7"/>
<line x1="136.2" y1="645.1" x2="139.4" y2="645.1" stroke="#d0140a" stroke-width="0.7" opacity="0.7"/>
<line x1="136.8" y1="654.9" x2="140" y2="654.9" stroke="#d0140a" stroke-width="0.7" opacity="0.7"/>
<line x1="137.3" y1="663.8" x2="140.5" y2="663.8" stroke="#d0140a" stroke-width="0.7" opacity="0.7"/>
<line x1="137.8" y1="672.1" x2="141" y2="672.1" stroke="#d0140a" stroke-width="0.7" opacity="0.7"/>
<line x1="138.3" y1="680.2" x2="141.5" y2="680.2" stroke="#d0140a" stroke-width="0.7" opacity="0.7"/>
<line x1="138.8" y1="689.6" x2="142" y2="689.6" stroke="#d0140a" stroke-width="0.7" opacity="0.7"/>
<line x1="139.5" y1="701" x2="142.7" y2="701" stroke="#d0140a" stroke-width="0.7" opacity="0.7"/>
<line x1="139" y1="633" x2="143.5" y2="709" stroke="#c81006" stroke-width="0.9" opacity="0.6"/>
<line x1="139.2" y1="637" x2="142.4" y2="637" stroke="#d0140a" stroke-width="0.7" opacity="0.7"/>
<line x1="139.7" y1="644.2" x2="142.9" y2="644.2" stroke="#d0140a" stroke-width="0.7" opacity="0.7"/>
<line x1="140.4" y1="656.1" x2="143.6" y2="656.1" stroke="#d0140a" stroke-width="0.7" opacity="0.7"/>
<line x1="140.9" y1="665.4" x2="144.1" y2="665.4" stroke="#d0140a" stroke-width="0.7" opacity="0.7"/>
<line x1="141.4" y1="674.1" x2="144.6" y2="674.1" stroke="#d0140a" stroke-width="0.7" opacity="0.7"/>
<line x1="142" y1="683.7" x2="145.2" y2="683.7" stroke="#d0140a" stroke-width="0.7" opacity="0.7"/>
<line x1="142.7" y1="695.7" x2="145.9" y2="695.7" stroke="#d0140a" stroke-width="0.7" opacity="0.7"/>
<line x1="143.2" y1="704.3" x2="146.4" y2="704.3" stroke="#d0140a" stroke-width="0.7" opacity="0.7"/>
<line x1="142.5" y1="633" x2="147" y2="709" stroke="#ff2010" stroke-width="1.2" opacity="0.6"/>
<line x1="143.1" y1="643.5" x2="146.3" y2="643.5" stroke="#d0140a" stroke-width="0.7" opacity="0.7"/>
<line x1="143.6" y1="651.8" x2="146.8" y2="651.8" stroke="#d0140a" stroke-width="0.7" opacity="0.7"/>
<line x1="144.2" y1="661.7" x2="147.4" y2="661.7" stroke="#d0140a" stroke-width="0.7" opacity="0.7"/>
<line x1="144.8" y1="671.5" x2="148" y2="671.5" stroke="#d0140a" stroke-width="0.7" opacity="0.7"/>
<line x1="145.1" y1="677.6" x2="148.3" y2="677.6" stroke="#d0140a" stroke-width="0.7" opacity="0.7"/>
<line x1="145.5" y1="684.1" x2="148.7" y2="684.1" stroke="#d0140a" stroke-width="0.7" opacity="0.7"/>
<line x1="146" y1="692.2" x2="149.2" y2="692.2" stroke="#d0140a" stroke-width="0.7" opacity="0.7"/>
<line x1="146.5" y1="699.8" x2="149.7" y2="699.8" stroke="#d0140a" stroke-width="0.7" opacity="0.7"/>
<line x1="145.5" y1="633" x2="150" y2="709" stroke="#c81006" stroke-width="0.7" opacity="1.0"/>
<line x1="146.1" y1="642.4" x2="149.3" y2="642.4" stroke="#d0140a" stroke-width="0.7" opacity="0.7"/>
<line x1="146.5" y1="650.2" x2="149.7" y2="650.2" stroke="#d0140a" stroke-width="0.7" opacity="0.7"/>
<line x1="146.9" y1="656.7" x2="150.1" y2="656.7" stroke="#d0140a" stroke-width="0.7" opacity="0.7"/>
<line x1="147.5" y1="666.5" x2="150.7" y2="666.5" stroke="#d0140a" stroke-width="0.7" opacity="0.7"/>
<line x1="148.2" y1="678.4" x2="151.4" y2="678.4" stroke="#d0140a" stroke-width="0.7" opacity="0.7"/>
<line x1="148.9" y1="690.3" x2="152.1" y2="690.3" stroke="#d0140a" stroke-width="0.7" opacity="0.7"/>
<line x1="149.6" y1="702.4" x2="152.8" y2="702.4" stroke="#d0140a" stroke-width="0.7" opacity="0.7"/>
</g>
<rect x="107.4" y="678" width="4.4" height="29.6" fill="#0a0000" stroke="none" stroke-width="1" />
<line x1="111.3" y1="679" x2="111.3" y2="702.5" stroke="#f4f4f4" stroke-width="0.9" />
<path d="M131.2 671L140.3 665.8V676.2Z" fill="#fff"/>
<text x="73.4" y="726.8" font-size="11.4" text-anchor="start" fill="#fbeeee" font-weight="normal" font-style="normal" >S *</text>
<text x="110.8" y="726.8" font-size="11.4" text-anchor="start" fill="#fbeeee" font-weight="normal" font-style="normal" >* Ep</text>
<rect x="138.1" y="830.6" width="5.4" height="12.3" fill="#fff" stroke="none" stroke-width="1" />
<text transform="translate(136.6 845.5) rotate(-90)" font-size="3.4" fill="#f2e6e6" textLength="18" lengthAdjust="spacingAndGlyphs">20.00 μm</text>
<text x="89" y="879.3" font-size="10.6" text-anchor="middle" fill="#111" font-weight="bold" font-style="normal" >WT +Fe</text>
<text x="21.8" y="634" font-size="14" text-anchor="start" fill="#000" font-weight="bold" font-style="normal" >f</text></g>
<g><rect x="226.8" y="604.4" width="101.4" height="87.3" fill="#e9ba7e" stroke="none" stroke-width="1" />
<rect x="226.8" y="691.7" width="101.4" height="173.2" fill="#f1e5a2" stroke="none" stroke-width="1" />
<line x1="226.8" y1="691.9" x2="328.2" y2="691.9" stroke="#fbf3dc" stroke-width="1" />
<path d="M222 690H202.7V862H222" fill="none" stroke="#7c8084" stroke-width="1.4"/>
<path d="M334.4 702.8H350.1V862.6H334.4" fill="none" stroke="#7c8084" stroke-width="1.4"/>
<text x="175" y="791" font-size="22" text-anchor="start" fill="#111" font-weight="normal" font-style="normal" textLength="23.4" lengthAdjust="spacingAndGlyphs">Ep</text>
<text x="354.9" y="789.7" font-size="22.5" text-anchor="start" fill="#111" font-weight="normal" font-style="normal" textLength="12.6" lengthAdjust="spacingAndGlyphs">S</text>
<text x="212" y="633" font-size="14" text-anchor="start" fill="#000" font-weight="bold" font-style="normal" >g</text>
<path d="M243.6 783L243.5 784L243.4 785L243.4 786L243.3 787L243.2 788L243.2 789L243.1 790L243 791L243 792L242.9 793L242.9 794L242.8 795L242.8 796L242.7 797L242.7 798L242.6 799L242.6 800L242.6 801L242.5 802L242.5 803L242.5 804L242.5 805L242.4 806L242.4 807L242.4 808L242.4 809L242.3 810L242.3 811L242.3 812L242.3 813L242.3 814L242.3 815L242.2 816L242.2 817L242.2 818L242.2 819L242.2 820L242.2 821L242.2 822L242.2 823L242.2 824L242.2 825L242.3 826L242.3 827L242.3 828L242.4 829L242.4 830L242.5 831L242.5 832L242.6 833L242.7 834L242.7 835L242.8 836L242.9 837L243 838L243.1 839L243.1 840L243.2 841L243.3 842L243.4 843L243.5 844L243.6 845L243.7 846L243.8 847L243.9 848L244.1 849L244.2 850L244.3 851L244.5 852L244.7 853L244.8 854L245 855L245.2 856L245.4 857L245.6 858L245.8 859L246 860L246.3 861L246.5 862L246.7 863L247 864L247.2 865L247.5 866L247.7 867L248 868L248.3 869L248.6 870L248.9 871L249.2 872L249.6 873L250 874L250.3 875L250.7 876L251.2 877L251.6 878L252 879L252.5 880L253 881L253.4 882L253.9 883L254.4 884L254.9 885L255.4 886L255.9 887L256.4 888L257 889L257.5 890L258 891L258.5 892L259.1 893L259.6 894L260.2 895L260.7 896L261.3 897L261.9 898L262.6 899L263.2 900L263.9 901L264.5 902L265.2 903L266 904L266.7 905L267.5 906L268.3 907L269.1 908L269.9 909L270.9 910L271.9 911L273.2 912L274.7 913L276.9 914L280.3 914L282.4 913L283.8 912L285 911L286.1 910L287.1 909L287.9 908L288.7 907L289.5 906L290.3 905L291 904L291.7 903L292.4 902L293 901L293.6 900L294.3 899L294.8 898L295.4 897L296 896L296.5 895L297 894L297.6 893L298.1 892L298.6 891L299.1 890L299.6 889L300.1 888L300.6 887L301.1 886L301.6 885L302.1 884L302.6 883L303.1 882L303.6 881L304.1 880L304.5 879L305 878L305.4 877L305.8 876L306.2 875L306.6 874L307 873L307.3 872L307.6 871L307.9 870L308.2 869L308.5 868L308.7 867L309 866L309.2 865L309.5 864L309.7 863L309.9 862L310.1 861L310.3 860L310.5 859L310.7 858L310.9 857L311.1 856L311.2 855L311.4 854L311.6 853L311.7 852L311.9 851L312 850L312.1 849L312.3 848L312.4 847L312.5 846L312.6 845L312.7 844L312.8 843L312.9 842L313 841L313.1 840L313.2 839L313.3 838L313.4 837L313.5 836L313.6 835L313.7 834L313.8 833L313.9 832L313.9 831L314 830L314.1 829L314.1 828L314.2 827L314.2 826L314.3 825L314.3 824L314.3 823L314.3 822L314.3 821L314.3 820L314.3 819L314.3 818L314.3 817L314.3 816L314.3 815L314.3 814L314.3 813L314.3 812L314.3 811L314.3 810L314.3 809L314.3 808L314.2 807L314.2 806L314.2 805L314.2 804L314.2 803L314.2 802L314.2 801L314.1 800L314.1 799L314.1 798L314.1 797L314 796L314 795Z" fill="#c6c6c6" stroke="#3c3c3c" stroke-width="0.6" />
<path d="M251.6 825.3L251.6 826L251.6 826.8L251.6 827.5L251.5 828.3L251.5 829L251.5 829.7L251.5 830.5L251.5 831.2L251.5 832L251.5 832.7L251.5 833.4L251.5 834.2L251.5 834.9L251.5 835.7L251.6 836.4L251.6 837.1L251.6 837.9L251.6 838.6L251.7 839.4L251.7 840.1L251.8 840.8L251.8 841.6L251.9 842.3L251.9 843.1L252 843.8L252 844.5L252.1 845.3L252.1 846L252.2 846.8L252.3 847.5L252.3 848.2L252.4 849L252.5 849.7L252.5 850.5L252.6 851.2L252.7 851.9L252.8 852.7L252.9 853.4L253 854.2L253.1 854.9L253.2 855.6L253.3 856.4L253.5 857.1L253.6 857.9L253.7 858.6L253.9 859.3L254 860.1L254.2 860.8L254.3 861.6L254.5 862.3L254.7 863L254.9 863.8L255 864.5L255.2 865.3L255.4 866L255.6 866.7L255.8 867.5L256 868.2L256.2 869L256.5 869.7L256.7 870.4L257 871.2L257.2 871.9L257.5 872.7L257.8 873.4L258.1 874.1L258.5 874.9L258.8 875.6L259.1 876.4L259.5 877.1L259.8 877.8L260.2 878.6L260.5 879.3L260.9 880.1L261.3 880.8L261.7 881.5L262 882.3L262.4 883L262.8 883.8L263.2 884.5L263.6 885.2L264 886L264.4 886.7L264.8 887.5L265.2 888.2L265.7 888.9L266.1 889.7L266.6 890.4L267 891.2L267.5 891.9L268 892.6L268.6 893.4L269.1 894.1L269.7 894.9L270.2 895.6L270.8 896.3L271.4 897.1L272 897.8L272.7 898.6L273.5 899.3L274.4 900L275.5 900.8L277.2 901.5L279.7 901.5L281.2 900.8L282.3 900L283.2 899.3L284 898.6L284.7 897.8L285.3 897.1L285.9 896.3L286.5 895.6L287.1 894.9L287.6 894.1L288.1 893.4L288.6 892.6L289.1 891.9L289.6 891.2L290 890.4L290.5 889.7L290.9 888.9L291.3 888.2L291.7 887.5L292.1 886.7L292.5 886L292.9 885.2L293.2 884.5L293.6 883.8L294 883L294.4 882.3L294.8 881.5L295.1 880.8L295.5 880.1L295.9 879.3L296.2 878.6L296.6 877.8L296.9 877.1L297.3 876.4L297.6 875.6L298 874.9L298.3 874.1L298.6 873.4L298.9 872.7L299.2 871.9L299.4 871.2L299.7 870.4L299.9 869.7L300.2 869L300.4 868.2L300.6 867.5L300.8 866.7L300.9 866L301.1 865.3L301.3 864.5L301.4 863.8L301.6 863L301.8 862.3L301.9 861.6L302.1 860.8L302.2 860.1L302.3 859.3L302.5 858.6L302.6 857.9L302.7 857.1L302.8 856.4L302.9 855.6L303.1 854.9L303.2 854.2L303.3 853.4L303.4 852.7L303.4 851.9L303.5 851.2L303.6 850.5L303.7 849.7L303.8 849L303.8 848.2L303.9 847.5L304 846.8L304.1 846L304.1 845.3L304.2 844.5L304.3 843.8L304.4 843.1L304.4 842.3L304.5 841.6L304.5 840.8L304.6 840.1L304.7 839.4L304.7 838.6L304.7 837.9L304.8 837.1L304.8 836.4L304.8 835.7L304.8 834.9L304.9 834.2L304.9 833.4L304.9 832.7L304.9 832L304.9 831.2" fill="none" stroke="#3c3c3c" stroke-width="0.55" />
<path d="M260.1 843L260.1 843.5L260.1 844L260.1 844.5L260.1 845L260.1 845.5L260.1 846L260.1 846.5L260.2 847L260.2 847.5L260.2 848L260.2 848.5L260.3 849L260.3 849.5L260.3 850L260.4 850.5L260.4 851L260.4 851.5L260.5 852L260.5 852.5L260.6 853L260.6 853.5L260.7 854L260.7 854.5L260.8 855L260.8 855.5L260.8 856L260.9 856.5L261 857L261 857.5L261.1 858L261.2 858.5L261.2 859L261.3 859.5L261.4 860L261.5 860.5L261.6 861L261.7 861.5L261.8 862L261.9 862.5L262 863L262.1 863.5L262.2 864L262.4 864.5L262.5 865L262.6 865.5L262.7 866L262.9 866.5L263 867L263.1 867.5L263.3 868L263.4 868.5L263.6 869L263.8 869.5L264 870L264.2 870.5L264.4 871L264.6 871.5L264.8 872L265 872.5L265.2 873L265.5 873.5L265.7 874L266 874.5L266.2 875L266.5 875.5L266.7 876L267 876.5L267.2 877L267.5 877.5L267.7 878L268 878.5L268.3 879L268.5 879.5L268.8 880L269.1 880.5L269.4 881L269.7 881.5L270 882L270.3 882.5L270.6 883L270.9 883.5L271.3 884L271.6 884.5L272 885L272.4 885.5L272.8 886L273.1 886.5L273.5 887L274 887.5L274.4 888L275 888.5L275.6 889L276.3 889.5L277.4 890L279.1 890L280.2 889.5L280.9 889L281.5 888.5L282.1 888L282.5 887.5L283 887L283.4 886.5L283.8 886L284.1 885.5L284.5 885L284.8 884.5L285.2 884L285.5 883.5L285.8 883L286.1 882.5L286.4 882L286.7 881.5L287 881L287.3 880.5L287.5 880L287.8 879.5L288 879L288.3 878.5L288.6 878L288.8 877.5L289.1 877L289.3 876.5L289.6 876L289.8 875.5L290.1 875L290.3 874.5L290.6 874L290.8 873.5L291 873L291.3 872.5L291.5 872L291.7 871.5L291.9 871L292.1 870.5L292.3 870L292.5 869.5L292.7 869L292.8 868.5L293 868L293.1 867.5L293.2 867L293.4 866.5L293.5 866L293.6 865.5L293.7 865L293.8 864.5L293.9 864L294.1 863.5L294.2 863L294.3 862.5L294.3 862L294.4 861.5L294.5 861L294.6 860.5L294.7 860L294.8 859.5L294.9 859L294.9 858.5L295 858L295.1 857.5L295.1 857L295.2 856.5L295.2 856L295.3 855.5L295.4 855L295.4 854.5L295.5 854L295.5 853.5L295.6 853L295.6 852.5L295.7 852L295.7 851.5L295.8 851L295.8 850.5L295.9 850L295.9 849.5L295.9 849L296 848.5L296 848L296 847.5L296.1 847" fill="none" stroke="#3c3c3c" stroke-width="0.55" />
<path d="M268 855.6L268 855.9L268.1 856.2L268.1 856.5L268.1 856.8L268.1 857L268.1 857.3L268.1 857.6L268.2 857.9L268.2 858.2L268.2 858.4L268.2 858.7L268.3 859L268.3 859.3L268.3 859.6L268.3 859.8L268.4 860.1L268.4 860.4L268.4 860.7L268.5 861L268.5 861.2L268.5 861.5L268.6 861.8L268.6 862.1L268.7 862.4L268.7 862.6L268.8 862.9L268.8 863.2L268.9 863.5L268.9 863.8L269 864L269.1 864.3L269.1 864.6L269.2 864.9L269.2 865.2L269.3 865.4L269.4 865.7L269.5 866L269.5 866.3L269.6 866.6L269.7 866.8L269.8 867.1L269.8 867.4L269.9 867.7L270 868L270.1 868.2L270.3 868.5L270.4 868.8L270.5 869.1L270.6 869.4L270.7 869.6L270.9 869.9L271 870.2L271.1 870.5L271.3 870.8L271.4 871L271.5 871.3L271.7 871.6L271.8 871.9L272 872.2L272.1 872.4L272.3 872.7L272.4 873L272.5 873.3L272.7 873.6L272.9 873.8L273 874.1L273.2 874.4L273.3 874.7L273.5 875L273.7 875.2L273.9 875.5L274 875.8L274.2 876.1L274.4 876.4L274.6 876.6L274.8 876.9L275.1 877.2L275.3 877.5L275.5 877.8L275.7 878L276 878.3L276.3 878.6L276.6 878.9L277.1 879.2L277.7 879.4L278.6 879.4L279.2 879.2L279.6 878.9L280 878.6L280.3 878.3L280.5 878L280.8 877.8L281 877.5L281.2 877.2L281.4 876.9L281.6 876.6L281.8 876.4L282 876.1L282.2 875.8L282.4 875.5L282.6 875.2L282.7 875L282.9 874.7L283 874.4L283.2 874.1L283.3 873.8L283.5 873.6L283.6 873.3L283.8 873L283.9 872.7L284.1 872.4L284.2 872.2L284.3 871.9L284.5 871.6L284.6 871.3L284.8 871L284.9 870.8L285 870.5L285.2 870.2L285.3 869.9L285.4 869.6L285.5 869.4L285.7 869.1L285.8 868.8L285.9 868.5L286 868.2L286.1 868L286.2 867.7L286.3 867.4L286.4 867.1L286.5 866.8L286.5 866.6L286.6 866.3L286.7 866L286.7 865.7L286.8 865.4L286.9 865.2L286.9 864.9L287 864.6L287 864.3L287.1 864L287.2 863.8L287.2 863.5L287.3 863.2L287.3 862.9L287.4 862.6L287.4 862.4L287.4 862.1L287.5 861.8L287.5 861.5L287.6 861.2L287.6 861L287.6 860.7L287.7 860.4L287.7 860.1L287.7 859.8L287.7 859.6L287.8 859.3L287.8 859L287.8 858.7L287.9 858.4L287.9 858.2L287.9 857.9" fill="none" stroke="#3c3c3c" stroke-width="0.55" />
<path d="M242.5 805L268 848.9" fill="none" stroke="#3c3c3c" stroke-width="0.55" />
<path d="M242.3 814L260.1 840" fill="none" stroke="#3c3c3c" stroke-width="0.55" />
<path d="M242.2 822L268 853.7" fill="none" stroke="#3c3c3c" stroke-width="0.55" />
<path d="M242.5 831L260.2 848.5" fill="none" stroke="#3c3c3c" stroke-width="0.55" />
<path d="M243.1 839L268.2 858.4" fill="none" stroke="#3c3c3c" stroke-width="0.55" />
<path d="M243.9 848L261 857" fill="none" stroke="#3c3c3c" stroke-width="0.55" />
<path d="M245.2 856L268.8 863.2" fill="none" stroke="#3c3c3c" stroke-width="0.55" />
<path d="M247.2 865L262.6 865.5" fill="none" stroke="#3c3c3c" stroke-width="0.55" />
<path d="M249.6 873L270 868" fill="none" stroke="#3c3c3c" stroke-width="0.55" />
<path d="M253 881L265.5 873.5" fill="none" stroke="#3c3c3c" stroke-width="0.55" />
<path d="M256.4 888L272 872.2" fill="none" stroke="#3c3c3c" stroke-width="0.55" />
<path d="M260.7 896L269.4 881" fill="none" stroke="#3c3c3c" stroke-width="0.55" />
<path d="M265.2 903L274.4 876.4" fill="none" stroke="#3c3c3c" stroke-width="0.55" />
<path d="M270.9 910L274.4 888" fill="none" stroke="#3c3c3c" stroke-width="0.55" />
<path d="M280.3 914L278.6 879.4" fill="none" stroke="#3c3c3c" stroke-width="0.55" />
<path d="M285 911L281.5 888.5" fill="none" stroke="#3c3c3c" stroke-width="0.55" />
<path d="M291 904L281.6 876.6" fill="none" stroke="#3c3c3c" stroke-width="0.55" />
<path d="M295.4 897L286.7 881.5" fill="none" stroke="#3c3c3c" stroke-width="0.55" />
<path d="M299.1 890L283.9 872.7" fill="none" stroke="#3c3c3c" stroke-width="0.55" />
<path d="M303.1 882L290.6 874" fill="none" stroke="#3c3c3c" stroke-width="0.55" />
<path d="M306.6 874L286 868.2" fill="none" stroke="#3c3c3c" stroke-width="0.55" />
<path d="M309 866L293.5 866" fill="none" stroke="#3c3c3c" stroke-width="0.55" />
<path d="M310.7 858L287.2 863.8" fill="none" stroke="#3c3c3c" stroke-width="0.55" />
<path d="M312 850L295 858" fill="none" stroke="#3c3c3c" stroke-width="0.55" />
<path d="M313 841L287.8 859" fill="none" stroke="#3c3c3c" stroke-width="0.55" />
<path d="M313.8 833L295.9 849.5" fill="none" stroke="#3c3c3c" stroke-width="0.55" />
<path d="M314.3 824L288.2 854.2" fill="none" stroke="#3c3c3c" stroke-width="0.55" />
<path d="M314.3 816L296.1 841" fill="none" stroke="#3c3c3c" stroke-width="0.55" />
<path d="M244.2 607L244.2 608L244.2 609L244.2 610L244.2 611L244.2 612L244.2 613L244.2 614L244.1 615L244.1 616L244.1 617L244.1 618L244.1 619L244.1 620L244.1 621L244.1 622L244.1 623L244.1 624L244.1 625L244.1 626L244.1 627L244.1 628L244.1 629L244.1 630L244.1 631L244.1 632L244.1 633L244.1 634L244.1 635L244.1 636L244.1 637L244.1 638L244 639L244 640L244 641L244 642L244 643L244 644L244 645L244 646L244 647L244 648L244 649L244 650L244 651L244 652L244 653L244 654L244 655L244 656L244 657L244 658L244 659L244 660L244 661L244 662L244 663L244 664L244 665L244 666L244 667L244 668L244 669L244 670L244 671L244 672L244 673L244 674L244 675L244 676L244 677L244 678L244 679L244 680L244 681L244 682L244 683L244 684L244 685L244 686L244 687L244 688L244 689L244 690L244 691L244 692L244 693L244 694L244 695L244 696L244 697L244 698L244 699L244 700L244 701L244 702L244 703L244 704L244 705L244 706L244 707L244 708L244 709L244 710L244 711L244 712L244 713L244 714L244.1 715L244.1 716L244.1 717L244.1 718L244.1 719L244.1 720L244.1 721L244.1 722L244.1 723L244.1 724L244.1 725L244.1 726L244.1 727L244.1 728L244.1 729L244.1 730L244.1 731L244.1 732L244.2 733L244.2 734L244.2 735L244.2 736L244.2 737L244.2 738L244.2 739L244.2 740L244.2 741L244.2 742L244.2 743L244.2 744L244.2 745L244.3 746L244.3 747L244.3 748L244.3 749L244.3 750L244.3 751L244.3 752L244.3 753L244.3 754L244.3 755L244.4 756L244.4 757L244.4 758L244.4 759L244.4 760L244.4 761L244.4 762L244.4 763L244.4 764L244.5 765L244.5 766L244.5 767L244.5 768L244.5 769L244.5 770L244.5 771L244.5 772L244.6 773L244.6 774L244.6 775L244.6 776L244.6 777L244.6 778L244.7 779L244.7 780L244.7 781L244.7 782L244.8 783L244.8 784L244.8 785L244.8 786L244.9 787L244.9 788L245 789L245 790L245 791L245.1 792L245.1 793L245.2 794L245.2 795L245.3 796L245.3 797L245.4 798L245.4 799L245.5 800L245.6 801L245.6 802L245.7 803L245.8 804L245.9 805L245.9 806L246 807L246.1 808L246.2 809L246.4 810L246.5 811L246.6 812L246.7 813L246.8 814L247 815L247.1 816L247.2 817L247.4 818L247.5 819L247.7 820L247.8 821L248 822L248.2 823L248.3 824L248.5 825L248.7 826L248.9 827L249.2 828L249.4 829L249.6 830L249.9 831L250.1 832L250.4 833L250.7 834L250.9 835L251.2 836L251.5 837L251.8 838L252.1 839L252.4 840L252.8 841L253.1 842L253.4 843L253.8 844L254.1 845L254.5 846L254.8 847L255.2 848L255.6 849L256 850L256.5 851L256.9 852L257.4 853L257.9 854L258.4 855L258.9 856L259.5 857L260.1 858L260.7 859L261.3 860L262 861L262.7 862L263.6 863L264.5 864L265.6 865L267 866L268.5 867L270.2 868L287 868L288.7 867L290.3 866L291.8 865L293 864L294.1 863L295.1 862L296 861L296.9 860L297.7 859L298.4 858L299 857L299.5 856L300.1 855L300.5 854L301 853L301.4 852L301.8 851L302.2 850L302.5 849L302.9 848L303.2 847L303.6 846L303.9 845L304.3 844L304.6 843L305 842L305.3 841L305.7 840L306 839L306.4 838L306.7 837L307.1 836L307.4 835L307.8 834L308.1 833L308.4 832L308.7 831L309 830L309.3 829L309.6 828L309.8 827L310 826L310.3 825L310.5 824L310.6 823L310.8 822L310.9 821L311.1 820L311.2 819L311.4 818L311.5 817L311.7 816L311.8 815L311.9 814L312.1 813L312.2 812L312.3 811L312.4 810L312.5 809L312.6 808L312.7 807L312.8 806L312.8 805L312.9 804L312.9 803L313 802L313 801L313 800L313 799L313 798L313 797L313 796L313 795L313 794L313 793L313.1 792L313.1 791L313.1 790L313.1 789L313.1 788L313.1 787L313.1 786L313.1 785L313.1 784L313.1 783L313.1 782L313.1 781L313.1 780L313.1 779L313.1 778L313.1 777L313.1 776L313.1 775L313.1 774L313.1 773L313.1 772L313.1 771L313.1 770L313.1 769L313.1 768L313.1 767L313.1 766L313.1 765L313.1 764L313 763L313 762L313 761L313 760L313 759L313 758L313 757L313 756L313 755L312.9 754L312.9 753L312.9 752L312.9 751L312.9 750L312.9 749L312.9 748L312.8 747L312.8 746L312.8 745L312.8 744L312.8 743L312.8 742L312.7 741L312.7 740L312.7 739L312.7 738L312.7 737L312.6 736L312.6 735L312.6 734L312.6 733L312.5 732L312.5 731L312.5 730L312.5 729L312.5 728L312.4 727L312.4 726L312.4 725L312.4 724L312.3 723L312.3 722L312.3 721L312.3 720L312.3 719L312.2 718L312.2 717L312.2 716L312.2 715L312.1 714L312.1 713L312.1 712L312.1 711L312 710L312 709L312 708L312 707L311.9 706L311.9 705L311.9 704L311.9 703L311.9 702L311.8 701L311.8 700L311.8 699L311.8 698L311.7 697L311.7 696L311.7 695L311.7 694L311.6 693L311.6 692L311.6 691L311.6 690L311.6 689L311.5 688L311.5 687L311.5 686L311.5 685L311.4 684L311.4 683L311.4 682L311.4 681L311.3 680L311.3 679L311.3 678L311.3 677L311.2 676L311.2 675L311.2 674L311.2 673L311.1 672L311.1 671L311.1 670L311.1 669L311 668L311 667L311 666L310.9 665L310.9 664L310.9 663L310.9 662L310.8 661L310.8 660L310.8 659L310.7 658L310.7 657L310.7 656L310.7 655L310.6 654L310.6 653L310.6 652L310.5 651L310.5 650L310.5 649L310.4 648L310.4 647L310.4 646L310.3 645L310.3 644L310.3 643L310.3 642L310.2 641L310.2 640L310.2 639L310.1 638L310.1 637L310.1 636L310 635L310 634L310 633L309.9 632L309.9 631L309.8 630L309.8 629L309.8 628L309.7 627L309.7 626L309.7 625L309.6 624L309.6 623L309.6 622L309.5 621L309.5 620L309.5 619L309.4 618L309.4 617L309.3 616L309.3 615L309.3 614L309.2 613L309.2 612L309.2 611L309.1 610L309.1 609L309 608L309 607Z" fill="#ea3d4b" stroke="#7a1c22" stroke-width="0.6" />
<path d="M251.4 607L251.4 608L251.4 609L251.4 610L251.4 611L251.4 612L251.4 613L251.4 614L251.4 615L251.4 616L251.4 617L251.4 618L251.4 619L251.4 620L251.4 621L251.3 622L251.3 623L251.3 624L251.3 625L251.3 626L251.3 627L251.3 628L251.3 629L251.3 630L251.3 631L251.3 632L251.3 633L251.3 634L251.3 635L251.3 636L251.3 637L251.3 638L251.3 639L251.3 640L251.3 641L251.3 642L251.3 643L251.3 644L251.3 645L251.3 646L251.3 647L251.3 648L251.3 649L251.3 650L251.3 651L251.3 652L251.3 653L251.2 654L251.2 655L251.2 656L251.2 657L251.2 658L251.2 659L251.2 660L251.2 661L251.2 662L251.2 663L251.2 664L251.2 665L251.2 666L251.2 667L251.2 668L251.2 669L251.2 670L251.2 671L251.2 672L251.2 673L251.2 674L251.2 675L251.2 676L251.2 677L251.2 678L251.2 679L251.2 680L251.2 681L251.2 682L251.2 683L251.2 684L251.2 685L251.2 686L251.2 687L251.2 688L251.2 689L251.2 690L251.2 691L251.2 692L251.2 693L251.2 694L251.2 695L251.2 696L251.2 697L251.2 698L251.2 699L251.2 700L251.2 701L251.2 702L251.2 703L251.2 704L251.2 705L251.2 706L251.2 707L251.2 708L251.2 709L251.2 710L251.2 711L251.2 712L251.2 713L251.2 714L251.2 715L251.2 716L251.2 717L251.2 718L251.2 719L251.2 720L251.2 721L251.2 722L251.2 723L251.2 724L251.2 725L251.2 726L251.2 727L251.2 728L251.2 729L251.2 730L251.2 731L251.2 732L251.2 733L251.2 734L251.2 735L251.2 736L251.2 737L251.2 738L251.2 739L251.2 740L251.2 741L251.2 742L251.2 743L251.2 744L251.2 745L251.2 746L251.2 747L251.2 748L251.2 749L251.2 750L251.2 751L251.2 752L251.2 753L251.2 754L251.2 755L251.2 756L251.2 757L251.2 758L251.2 759L251.2 760L251.2 761L251.2 762L251.2 763L251.2 764L251.2 765L251.2 766L251.2 767L251.2 768L251.2 769L251.2 770L251.2 771L251.2 772L251.2 773L251.2 774L251.2 775L251.2 776L251.2 777L251.2 778L251.2 779L251.2 780L251.2 781L251.3 782L251.3 783L251.3 784L251.3 785L251.4 786L251.4 787L251.4 788L251.5 789L251.5 790L251.6 791L251.6 792L251.7 793L251.7 794L251.8 795L251.8 796L251.8 797L251.9 798L251.9 799L252 800L252.1 801L252.1 802L252.2 803L252.3 804L252.3 805L252.4 806L252.5 807L252.6 808L252.7 809L252.8 810L252.9 811L253 812L253.1 813L253.2 814L253.4 815L253.5 816L253.6 817L253.7 818L253.9 819L254 820L254.2 821L254.3 822L254.4 823L254.6 824L254.8 825L254.9 826L255.1 827L255.3 828L255.5 829L255.7 830L255.9 831L256.2 832L256.4 833L256.6 834L256.9 835L257.2 836L257.4 837L257.7 838L258 839L258.3 840L258.5 841L258.9 842L259.2 843L259.5 844L259.8 845L260.1 846L260.5 847L260.9 848L261.3 849L261.7 850L262.1 851L262.6 852L263.1 853L263.6 854L264.2 855L264.8 856L265.4 857L266.1 858L267 859L267.9 860L268.9 861L269.9 862L271 863L272.1 864L283.8 864L285 863L286.3 862L287.7 861L289.1 860L290.4 859L291.5 858L292.4 857L293.1 856L293.8 855L294.4 854L295 853L295.5 852L296 851L296.4 850L296.9 849L297.3 848L297.7 847L298 846L298.4 845L298.8 844L299.1 843L299.5 842L299.8 841L300.1 840L300.5 839L300.8 838L301.1 837L301.4 836L301.7 835L302 834L302.3 833L302.6 832L302.8 831L303.1 830L303.3 829L303.5 828L303.7 827L303.9 826L304 825L304.2 824L304.3 823L304.4 822L304.5 821L304.6 820L304.7 819L304.7 818L304.8 817L304.9 816L305 815L305 814L305.1 813L305.1 812L305.2 811L305.3 810L305.3 809L305.4 808L305.4 807L305.4 806L305.5 805L305.5 804L305.5 803L305.6 802L305.6 801L305.6 800L305.6 799L305.6 798L305.6 797L305.7 796L305.7 795L305.7 794L305.7 793L305.7 792L305.7 791L305.7 790L305.7 789L305.7 788L305.8 787L305.8 786L305.8 785L305.8 784L305.8 783L305.8 782L305.8 781L305.8 780L305.8 779L305.8 778L305.8 777L305.8 776L305.8 775L305.8 774L305.8 773L305.8 772L305.8 771L305.8 770L305.8 769L305.8 768L305.8 767L305.8 766L305.8 765L305.8 764L305.8 763L305.8 762L305.7 761L305.7 760L305.7 759L305.7 758L305.7 757L305.7 756L305.7 755L305.7 754L305.7 753L305.7 752L305.7 751L305.7 750L305.6 749L305.6 748L305.6 747L305.6 746L305.6 745L305.6 744L305.6 743L305.6 742L305.5 741L305.5 740L305.5 739L305.5 738L305.5 737L305.5 736L305.5 735L305.5 734L305.4 733L305.4 732L305.4 731L305.4 730L305.4 729L305.4 728L305.3 727L305.3 726L305.3 725L305.3 724L305.3 723L305.3 722L305.2 721L305.2 720L305.2 719L305.2 718L305.2 717L305.2 716L305.1 715L305.1 714L305.1 713L305.1 712L305.1 711L305 710L305 709L305 708L305 707L305 706L305 705L304.9 704L304.9 703L304.9 702L304.9 701L304.9 700L304.8 699L304.8 698L304.8 697L304.8 696L304.8 695L304.8 694L304.7 693L304.7 692L304.7 691L304.7 690L304.7 689L304.6 688L304.6 687L304.6 686L304.6 685L304.6 684L304.5 683L304.5 682L304.5 681L304.5 680L304.5 679L304.4 678L304.4 677L304.4 676L304.4 675L304.3 674L304.3 673L304.3 672L304.3 671L304.2 670L304.2 669L304.2 668L304.2 667L304.1 666L304.1 665L304.1 664L304 663L304 662L304 661L304 660L303.9 659L303.9 658L303.9 657L303.8 656L303.8 655L303.8 654L303.8 653L303.7 652L303.7 651L303.7 650L303.6 649L303.6 648L303.6 647L303.5 646L303.5 645L303.5 644L303.4 643L303.4 642L303.4 641L303.3 640L303.3 639L303.3 638L303.2 637L303.2 636L303.2 635L303.1 634L303.1 633L303.1 632L303 631L303 630L302.9 629L302.9 628L302.9 627L302.8 626L302.8 625L302.8 624L302.7 623L302.7 622L302.6 621L302.6 620L302.6 619L302.5 618L302.5 617L302.5 616L302.4 615L302.4 614L302.3 613L302.3 612L302.3 611L302.2 610L302.2 609L302.1 608L302.1 607Z" fill="#4e4e4e" stroke="#2a2a2a" stroke-width="0.5" />
<path d="M244.1 620L251.4 620.2M244.1 634.5L251.3 634.9M244 650.1L251.3 650.5M244 665.6L251.2 664.9M244 678.4L251.2 679.1M244 692.3L251.2 693" fill="none" stroke="#7a1c22" stroke-width="0.55"/>
<path d="M244 700L251.2 700M244 704.6L251.2 704.7M244 709.6L251.2 708.8M244 714.1L251.2 713.8M244.1 719.5L251.2 720M244.1 724L251.2 724.5M244.1 728.5L251.2 728.7M244.2 733L251.2 732.2M244.2 738.3L251.2 737.8M244.2 742.9L251.2 743.6M244.3 748.2L251.2 747.9M244.3 753.7L251.2 753.7M244.4 758.8L251.2 758.3M244.4 764.2L251.2 764.5M244.5 769.7L251.2 770.3M244.6 774.3L251.2 774.1M244.7 778.8L251.2 778.3M244.8 783.2L251.3 782.9M244.9 788.2L251.4 787.4M245.1 793.3L251.7 793.1M245.4 798L251.9 798.5M245.7 802.9L252.2 802.6M246.1 807.8L252.6 808.1M246.6 812.1L253 812.9M247.1 816.5L253.5 816.9M248 821.8L254.3 821M248.9 827L255.1 826.8M250.1 832L256.2 831.2M251.2 836.4L257.2 835.9M253.1 841.8L258.9 841.3M254.8 847L260.5 847.7M256.9 852.5L262.6 852.2M259.5 857.2L265.4 857.2M262.7 862.4L269.9 861.8" fill="none" stroke="#7a1c22" stroke-width="0.55"/>
<path d="M302.8 625L309.7 625.5M303.3 640.2L310.2 639.4M303.8 655.8L310.7 655.2M304.2 667.9L311 668.1M304.5 683.4L311.4 683.1M304.8 698.9L311.8 699" fill="none" stroke="#7a1c22" stroke-width="0.55"/>
<path d="M304.9 700L311.8 699.7M305 704.5L311.9 703.8M305 709L312 709.3M305.1 714.5L312.1 713.9M305.2 718.8L312.3 719.6M305.3 723.8L312.4 723.6M305.4 728.4L312.5 728.5M305.5 733.7L312.6 733.6M305.5 738.5L312.7 737.8M305.6 743.9L312.8 743.1M305.6 748.8L312.9 749.3M305.7 753.2L312.9 753.6M305.7 758.7L313 758.9M305.8 763.9L313.1 763.3M305.8 768.7L313.1 768.2M305.8 774L313.1 773.7M305.8 778.9L313.1 779.7M305.8 784.2L313.1 785M305.7 789L313.1 789M305.7 794.2L313 794.2M305.6 798.9L313 798.7M305.5 803.3L312.9 803.2M305.3 808.8L312.5 809.6M305 813.9L311.9 813.9M304.7 818.6L311.2 817.9M304.3 823.2L310.6 823.7M303.3 828.6L309.3 828.3M302 833.8L307.8 834.2M300.5 838.9L306 839.2M298.8 844.1L304.3 843.9M296.9 849.3L302.5 848.9M294.4 854.2L300.5 854.6M290.4 859.3L297.7 859" fill="none" stroke="#7a1c22" stroke-width="0.55"/>
<path d="M264.5 607L264.5 608L264.5 609L264.5 610L264.5 611L264.5 612L264.5 613L264.5 614L264.5 615L264.5 616L264.5 617L264.5 618L264.5 619L264.5 620L264.5 621L264.5 622L264.5 623L264.5 624L264.5 625L264.5 626L264.5 627L264.5 628L264.5 629L264.5 630L264.5 631L264.5 632L264.5 633L264.5 634L264.5 635L264.5 636L264.5 637L264.5 638L264.5 639L264.5 640L264.6 641L264.6 642L264.6 643L264.6 644L264.6 645L264.6 646L264.6 647L264.6 648L264.6 649L264.6 650L264.6 651L264.6 652L264.6 653L264.6 654L264.6 655L264.6 656L264.6 657L264.6 658L264.6 659L264.6 660L264.6 661L264.6 662L264.6 663L264.6 664L264.6 665L264.6 666L264.6 667L264.6 668L264.7 669L264.7 670L264.7 671L264.7 672L264.7 673L264.7 674L264.7 675L264.7 676L264.7 677L264.7 678L264.7 679L264.7 680L264.7 681L264.7 682L264.7 683L264.7 684L264.7 685L264.7 686L264.7 687L264.7 688L264.7 689L264.8 690L264.8 691L264.8 692L264.8 693L264.8 694L264.8 695L264.8 696L264.8 697L264.8 698L264.8 699L264.8 700L271.9 700L271.9 699L271.9 698L271.9 697L271.9 696L271.9 695L271.9 694L271.9 693L271.9 692L271.9 691L271.9 690L271.9 689L271.9 688L271.9 687L271.9 686L271.9 685L271.9 684L271.9 683L271.9 682L271.9 681L271.9 680L271.9 679L271.9 678L271.9 677L271.9 676L271.9 675L271.9 674L271.9 673L271.9 672L271.9 671L271.8 670L271.8 669L271.8 668L271.8 667L271.8 666L271.8 665L271.8 664L271.8 663L271.8 662L271.8 661L271.8 660L271.8 659L271.8 658L271.8 657L271.8 656L271.8 655L271.8 654L271.8 653L271.8 652L271.8 651L271.8 650L271.8 649L271.8 648L271.8 647L271.8 646L271.8 645L271.8 644L271.8 643L271.8 642L271.8 641L271.8 640L271.8 639L271.8 638L271.8 637L271.8 636L271.8 635L271.8 634L271.8 633L271.8 632L271.8 631L271.8 630L271.8 629L271.8 628L271.8 627L271.8 626L271.8 625L271.8 624L271.8 623L271.8 622L271.8 621L271.8 620L271.8 619L271.8 618L271.8 617L271.8 616L271.8 615L271.8 614L271.8 613L271.8 612L271.8 611L271.8 610L271.8 609L271.8 608L271.8 607Z" fill="#f0528c" stroke="#fbe0ea" stroke-width="0.7" />
<path d="M279 607L279 608L279 609L279 610L279 611L279 612L279 613L279 614L279 615L279 616L279 617L279 618L279 619L279 620L279 621L279 622L279 623L279 624L279 625L279 626L279 627L279 628L279 629L279 630L279 631L279 632L279.1 633L279.1 634L279.1 635L279.1 636L279.1 637L279.1 638L279.1 639L279.1 640L279.1 641L279.1 642L279.1 643L279.1 644L279.1 645L279.1 646L279.1 647L279.1 648L279.1 649L279.1 650L279.1 651L279.1 652L279.1 653L279.1 654L279.1 655L279.1 656L279.1 657L279.1 658L279.1 659L279.1 660L279.1 661L279.1 662L279.1 663L279.1 664L279.1 665L279.1 666L279.1 667L279.1 668L279.1 669L279.1 670L279.1 671L279.1 672L279.1 673L279.1 674L279.1 675L279.1 676L279.1 677L279.1 678L279.2 679L279.2 680L279.2 681L279.2 682L279.2 683L279.2 684L279.2 685L279.2 686L279.2 687L279.2 688L279.2 689L279.2 690L279.2 691L279.2 692L279.2 693L279.2 694L279.2 695L279.2 696L279.2 697L279.2 698L279.2 699L279.2 700L279.2 701L279.2 702L287.3 702L287.3 701L287.3 700L287.3 699L287.3 698L287.3 697L287.3 696L287.3 695L287.3 694L287.3 693L287.3 692L287.3 691L287.3 690L287.3 689L287.3 688L287.3 687L287.3 686L287.3 685L287.2 684L287.2 683L287.2 682L287.2 681L287.2 680L287.2 679L287.2 678L287.2 677L287.2 676L287.2 675L287.2 674L287.2 673L287.2 672L287.2 671L287.2 670L287.2 669L287.2 668L287.2 667L287.2 666L287.2 665L287.2 664L287.2 663L287.2 662L287.2 661L287.2 660L287.2 659L287.2 658L287.2 657L287.2 656L287.2 655L287.2 654L287.2 653L287.2 652L287.2 651L287.2 650L287.2 649L287.1 648L287.1 647L287.1 646L287.1 645L287.1 644L287.1 643L287.1 642L287.1 641L287.1 640L287.1 639L287.1 638L287.1 637L287.1 636L287.1 635L287.1 634L287.1 633L287.1 632L287.1 631L287.1 630L287.1 629L287.1 628L287.1 627L287.1 626L287.1 625L287.1 624L287.1 623L287.1 622L287.1 621L287.1 620L287.1 619L287.1 618L287.1 617L287.1 616L287.1 615L287.1 614L287.1 613L287.1 612L287.1 611L287.1 610L287.1 609L287.1 608L287.1 607Z" fill="#f0528c" stroke="#fbe0ea" stroke-width="0.7" />
<path d="M264.8 700L264.8 701L264.8 702L264.8 703L264.8 704L264.8 705L264.8 706L264.8 707L264.8 708L264.8 709L264.9 710L264.9 711L264.9 712L264.9 713L264.9 714L264.9 715L264.9 716L264.9 717L264.9 718L264.9 719L264.9 720L264.9 721L264.9 722L264.9 723L265 724L265 725L265 726L265 727L265 728L265 729L265 730L265 731L265 732L265 733L265 734L265.1 735L265.1 736L265.1 737L265.1 738L265.1 739L265.1 740L265.1 741L265.1 742L265.1 743L265.1 744L265.2 745L265.2 746L265.2 747L265.2 748L265.2 749L265.2 750L265.2 751L265.2 752L265.3 753L265.3 754L265.3 755L265.3 756L265.3 757L265.3 758L265.3 759L265.4 760L265.4 761L265.4 762L265.4 763L265.4 764L265.4 765L265.4 766L265.5 767L265.5 768L265.5 769L265.5 770L265.5 771L265.5 772L265.5 773L265.6 774L265.6 775L265.6 776L265.6 777L265.6 778L265.7 779L265.7 780L265.7 781L265.7 782L265.7 783L265.8 784L265.8 785L265.8 786L265.8 787L265.9 788L265.9 789L265.9 790L265.9 791L266 792L266 793L266 794L266.1 795L266.1 796L266.1 797L266.2 798L266.2 799L266.2 800L266.3 801L266.3 802L266.3 803L266.4 804L266.4 805L266.5 806L266.5 807L266.5 808L266.6 809L266.6 810L266.7 811L266.7 812L266.8 813L266.8 814L266.9 815L266.9 816L267 817L267 818L267.1 819L267.1 820L267.2 821L267.2 822L267.3 823L267.3 824L267.4 825L267.4 826L267.5 827L267.6 828L267.6 829L267.7 830L267.7 831L267.8 832L267.9 833L267.9 834L268 835L268.1 836L268.1 837L268.2 838L268.3 839L268.3 840L268.4 841L268.5 842L268.6 843L268.6 844L268.7 845L268.8 846L268.9 847L269 848L269.1 849L269.2 850L269.3 851L269.5 852L269.6 853L269.8 854L269.9 855L270.1 856L270.2 857L270.4 858L270.6 859L270.7 860L270.9 861L271 862L271.2 863L276.4 863L276.3 862L276.2 861L276.1 860L276 859L275.9 858L275.8 857L275.7 856L275.6 855L275.5 854L275.4 853L275.3 852L275.2 851L275.1 850L275.1 849L275 848L274.9 847L274.9 846L274.8 845L274.7 844L274.7 843L274.6 842L274.6 841L274.5 840L274.5 839L274.4 838L274.4 837L274.3 836L274.3 835L274.2 834L274.2 833L274.2 832L274.1 831L274.1 830L274 829L274 828L273.9 827L273.9 826L273.8 825L273.8 824L273.8 823L273.7 822L273.7 821L273.6 820L273.6 819L273.6 818L273.5 817L273.5 816L273.5 815L273.4 814L273.4 813L273.4 812L273.3 811L273.3 810L273.3 809L273.2 808L273.2 807L273.2 806L273.1 805L273.1 804L273.1 803L273 802L273 801L273 800L273 799L272.9 798L272.9 797L272.9 796L272.9 795L272.8 794L272.8 793L272.8 792L272.8 791L272.7 790L272.7 789L272.7 788L272.7 787L272.7 786L272.6 785L272.6 784L272.6 783L272.6 782L272.6 781L272.6 780L272.5 779L272.5 778L272.5 777L272.5 776L272.5 775L272.5 774L272.5 773L272.4 772L272.4 771L272.4 770L272.4 769L272.4 768L272.4 767L272.4 766L272.4 765L272.4 764L272.3 763L272.3 762L272.3 761L272.3 760L272.3 759L272.3 758L272.3 757L272.3 756L272.3 755L272.2 754L272.2 753L272.2 752L272.2 751L272.2 750L272.2 749L272.2 748L272.2 747L272.2 746L272.2 745L272.1 744L272.1 743L272.1 742L272.1 741L272.1 740L272.1 739L272.1 738L272.1 737L272.1 736L272.1 735L272.1 734L272.1 733L272 732L272 731L272 730L272 729L272 728L272 727L272 726L272 725L272 724L272 723L272 722L272 721L272 720L272 719L272 718L272 717L272 716L271.9 715L271.9 714L271.9 713L271.9 712L271.9 711L271.9 710L271.9 709L271.9 708L271.9 707L271.9 706L271.9 705L271.9 704L271.9 703L271.9 702L271.9 701L271.9 700Z" fill="#50bb98" stroke="#d9f2e8" stroke-width="0.7" />
<path d="M279.2 702L279.2 703L279.2 704L279.2 705L279.2 706L279.2 707L279.2 708L279.2 709L279.2 710L279.2 711L279.2 712L279.2 713L279.2 714L279.2 715L279.2 716L279.2 717L279.3 718L279.3 719L279.3 720L279.3 721L279.3 722L279.3 723L279.3 724L279.3 725L279.3 726L279.3 727L279.3 728L279.3 729L279.3 730L279.3 731L279.3 732L279.3 733L279.3 734L279.3 735L279.3 736L279.3 737L279.3 738L279.3 739L279.3 740L279.3 741L279.3 742L279.3 743L279.3 744L279.3 745L279.3 746L279.4 747L279.4 748L279.4 749L279.4 750L279.4 751L279.4 752L279.4 753L279.4 754L279.4 755L279.4 756L279.4 757L279.4 758L279.4 759L279.4 760L279.4 761L279.4 762L279.4 763L279.4 764L279.4 765L279.4 766L279.4 767L279.4 768L279.4 769L279.4 770L279.4 771L279.4 772L279.4 773L279.4 774L279.4 775L279.4 776L279.4 777L279.4 778L279.4 779L279.4 780L279.4 781L279.4 782L279.4 783L279.4 784L279.4 785L279.4 786L279.4 787L279.4 788L279.4 789L279.4 790L279.4 791L279.4 792L279.4 793L279.4 794L279.4 795L279.3 796L279.3 797L279.3 798L279.3 799L279.3 800L279.3 801L279.3 802L279.3 803L279.3 804L279.3 805L279.3 806L279.3 807L279.3 808L279.3 809L279.2 810L279.2 811L279.2 812L279.2 813L279.2 814L279.2 815L279.2 816L279.2 817L279.2 818L279.2 819L279.1 820L279.1 821L279.1 822L279.1 823L279.1 824L279.1 825L279.1 826L279.1 827L279.1 828L279 829L279 830L279 831L279 832L279 833L279 834L279 835L278.9 836L278.9 837L278.9 838L278.9 839L278.9 840L278.9 841L278.8 842L278.8 843L278.8 844L278.8 845L278.8 846L278.8 847L278.7 848L278.7 849L278.7 850L278.6 851L278.6 852L278.5 853L278.5 854L278.4 855L278.4 856L278.3 857L278.3 858L278.2 859L278.2 860L278.1 861L278.1 862L278 863L284 863L284.2 862L284.3 861L284.5 860L284.6 859L284.8 858L284.9 857L285.1 856L285.2 855L285.4 854L285.5 853L285.7 852L285.8 851L285.9 850L286 849L286.1 848L286.2 847L286.2 846L286.3 845L286.3 844L286.4 843L286.4 842L286.5 841L286.5 840L286.5 839L286.6 838L286.6 837L286.7 836L286.7 835L286.7 834L286.8 833L286.8 832L286.8 831L286.9 830L286.9 829L286.9 828L287 827L287 826L287 825L287.1 824L287.1 823L287.1 822L287.2 821L287.2 820L287.2 819L287.2 818L287.3 817L287.3 816L287.3 815L287.3 814L287.4 813L287.4 812L287.4 811L287.4 810L287.5 809L287.5 808L287.5 807L287.5 806L287.5 805L287.6 804L287.6 803L287.6 802L287.6 801L287.6 800L287.6 799L287.6 798L287.7 797L287.7 796L287.7 795L287.7 794L287.7 793L287.7 792L287.7 791L287.7 790L287.7 789L287.8 788L287.8 787L287.8 786L287.8 785L287.8 784L287.8 783L287.8 782L287.8 781L287.8 780L287.8 779L287.8 778L287.8 777L287.8 776L287.8 775L287.8 774L287.8 773L287.8 772L287.8 771L287.8 770L287.8 769L287.8 768L287.8 767L287.8 766L287.8 765L287.8 764L287.8 763L287.8 762L287.8 761L287.8 760L287.7 759L287.7 758L287.7 757L287.7 756L287.7 755L287.7 754L287.7 753L287.7 752L287.7 751L287.7 750L287.7 749L287.7 748L287.7 747L287.7 746L287.6 745L287.6 744L287.6 743L287.6 742L287.6 741L287.6 740L287.6 739L287.6 738L287.6 737L287.6 736L287.6 735L287.5 734L287.5 733L287.5 732L287.5 731L287.5 730L287.5 729L287.5 728L287.5 727L287.5 726L287.5 725L287.5 724L287.4 723L287.4 722L287.4 721L287.4 720L287.4 719L287.4 718L287.4 717L287.4 716L287.4 715L287.4 714L287.4 713L287.4 712L287.4 711L287.3 710L287.3 709L287.3 708L287.3 707L287.3 706L287.3 705L287.3 704L287.3 703L287.3 702Z" fill="#50bb98" stroke="#d9f2e8" stroke-width="0.7" />
<path d="M268.1 607L268.2 608L268.2 609L268.2 610L268.2 611L268.2 612L268.2 613L268.2 614L268.2 615L268.2 616L268.2 617L268.2 618L268.2 619L268.2 620L268.2 621L268.2 622L268.2 623L268.2 624L268.2 625L268.2 626L268.2 627L268.2 628L268.2 629L268.2 630L268.2 631L268.2 632L268.2 633L268.2 634L268.2 635L268.2 636L268.2 637L268.2 638L268.2 639L268.2 640L268.2 641L268.2 642L268.2 643L268.2 644L268.2 645L268.2 646L268.2 647L268.2 648L268.2 649L268.2 650L268.2 651L268.2 652L268.2 653L268.2 654L268.2 655L268.2 656L268.2 657L268.2 658L268.2 659L268.2 660L268.2 661L268.2 662L268.2 663L268.2 664L268.2 665L268.2 666L268.2 667L268.2 668L268.3 669L268.3 670L268.3 671L268.3 672L268.3 673L268.3 674L268.3 675L268.3 676L268.3 677L268.3 678L268.3 679L268.3 680L268.3 681L268.3 682L268.3 683L268.3 684L268.3 685L268.3 686L268.3 687L268.3 688L268.3 689L268.3 690L268.3 691L268.3 692L268.3 693L268.3 694L268.3 695L268.3 696L268.3 697L268.3 698L268.3 699L268.4 700L268.4 701" fill="none" stroke="#fbe0ea" stroke-width="0.6" />
<path d="M268.4 702L268.4 703L268.4 704L268.4 705L268.4 706L268.4 707L268.4 708L268.4 709L268.4 710L268.4 711L268.4 712L268.4 713L268.4 714L268.4 715L268.4 716L268.4 717L268.4 718L268.4 719L268.4 720L268.5 721L268.5 722L268.5 723L268.5 724L268.5 725L268.5 726L268.5 727L268.5 728L268.5 729L268.5 730L268.5 731L268.5 732L268.5 733L268.6 734L268.6 735L268.6 736L268.6 737L268.6 738L268.6 739L268.6 740L268.6 741L268.6 742L268.6 743L268.6 744L268.7 745L268.7 746L268.7 747L268.7 748L268.7 749L268.7 750L268.7 751L268.7 752L268.7 753L268.8 754L268.8 755L268.8 756L268.8 757L268.8 758L268.8 759L268.8 760L268.8 761L268.9 762L268.9 763L268.9 764L268.9 765L268.9 766L268.9 767L268.9 768L268.9 769L269 770L269 771L269 772L269 773L269 774L269 775L269.1 776L269.1 777L269.1 778L269.1 779L269.1 780L269.1 781L269.2 782L269.2 783L269.2 784L269.2 785L269.2 786L269.3 787L269.3 788L269.3 789L269.3 790L269.4 791L269.4 792L269.4 793L269.4 794L269.5 795L269.5 796L269.5 797L269.5 798L269.6 799L269.6 800L269.6 801L269.7 802L269.7 803L269.7 804L269.8 805L269.8 806L269.8 807L269.9 808L269.9 809L270 810L270 811L270 812L270.1 813L270.1 814L270.2 815L270.2 816L270.2 817L270.3 818L270.3 819L270.4 820L270.4 821L270.5 822L270.5 823L270.6 824L270.6 825L270.7 826L270.7 827L270.8 828L270.8 829L270.9 830L270.9 831L271 832L271 833L271.1 834L271.1 835L271.2 836L271.3 837L271.3 838L271.4 839L271.4 840L271.5 841L271.6 842L271.6 843L271.7 844L271.8 845L271.8 846L271.9 847L272 848L272.1 849L272.2 850L272.3 851L272.4 852L272.5 853L272.6 854L272.8 855L272.9 856L273 857L273.1 858L273.3 859L273.4 860L273.5 861L273.7 862" fill="none" stroke="#d9f2e8" stroke-width="0.6" />
<path d="M264.5 640L271.8 640.2M264.6 663L271.8 662.2M264.7 685.5L271.9 685.1" fill="none" stroke="#fbe0ea" stroke-width="0.6"/>
<path d="M264.8 706L271.9 705.9M264.9 710.7L271.9 710.9M264.9 715.4L271.9 715.1M264.9 719.8L272 720.2M265 724.5L272 724.3M265 729.3L272 729.9M265 733.8L272.1 734.6M265.1 738.7L272.1 738.7M265.1 743L272.1 742.4M265.2 747.7L272.2 748.4M265.2 751.9L272.2 752.2M265.3 756.4L272.3 756.8M265.4 760.1L272.3 760.5M265.4 764.4L272.4 764.7M265.5 768.5L272.4 768.7M265.5 773.1L272.5 773.4M265.6 777.7L272.5 776.9M265.7 781.3L272.6 781.3M265.8 785.8L272.7 785.3M265.9 790.3L272.7 790.5M266 793.7L272.8 793.7M266.2 797.5L272.9 796.8M266.3 801.1L273 800.8M266.4 804.8L273.1 804.3M266.5 808.3L273.2 808.2M266.7 812.3L273.4 812.5M267 816.6L273.5 816.2M267.2 821.5L273.7 820.7M267.4 825.5L273.9 825.2M267.7 829.6L274.1 829M267.9 834.3L274.2 834.1M268.2 837.8L274.4 837.9M268.4 841.3L274.6 841.4M268.7 845.3L274.8 845.4M269.2 850.2L275.1 850.7M269.8 854.3L275.5 854.8M270.6 858.7L276 858.5" fill="none" stroke="#d9f2e8" stroke-width="0.6"/>
<path d="M283.1 607L283.1 608L283.1 609L283.1 610L283.1 611L283.1 612L283.1 613L283.1 614L283.1 615L283.1 616L283.1 617L283.1 618L283.1 619L283.1 620L283.1 621L283.1 622L283.1 623L283.1 624L283.1 625L283.1 626L283.1 627L283.1 628L283.1 629L283.1 630L283.1 631L283.1 632L283.1 633L283.1 634L283.1 635L283.1 636L283.1 637L283.1 638L283.1 639L283.1 640L283.1 641L283.1 642L283.1 643L283.1 644L283.1 645L283.1 646L283.1 647L283.1 648L283.1 649L283.1 650L283.1 651L283.1 652L283.1 653L283.1 654L283.1 655L283.1 656L283.1 657L283.1 658L283.1 659L283.1 660L283.1 661L283.1 662L283.2 663L283.2 664L283.2 665L283.2 666L283.2 667L283.2 668L283.2 669L283.2 670L283.2 671L283.2 672L283.2 673L283.2 674L283.2 675L283.2 676L283.2 677L283.2 678L283.2 679L283.2 680L283.2 681L283.2 682L283.2 683L283.2 684L283.2 685L283.2 686L283.2 687L283.2 688L283.2 689L283.2 690L283.2 691L283.2 692L283.2 693L283.2 694L283.2 695L283.2 696L283.2 697L283.2 698L283.2 699L283.2 700L283.3 701" fill="none" stroke="#fbe0ea" stroke-width="0.6" />
<path d="M283.3 702L283.3 703L283.3 704L283.3 705L283.3 706L283.3 707L283.3 708L283.3 709L283.3 710L283.3 711L283.3 712L283.3 713L283.3 714L283.3 715L283.3 716L283.3 717L283.3 718L283.3 719L283.3 720L283.3 721L283.4 722L283.4 723L283.4 724L283.4 725L283.4 726L283.4 727L283.4 728L283.4 729L283.4 730L283.4 731L283.4 732L283.4 733L283.4 734L283.4 735L283.4 736L283.4 737L283.5 738L283.5 739L283.5 740L283.5 741L283.5 742L283.5 743L283.5 744L283.5 745L283.5 746L283.5 747L283.5 748L283.5 749L283.5 750L283.5 751L283.5 752L283.5 753L283.5 754L283.5 755L283.6 756L283.6 757L283.6 758L283.6 759L283.6 760L283.6 761L283.6 762L283.6 763L283.6 764L283.6 765L283.6 766L283.6 767L283.6 768L283.6 769L283.6 770L283.6 771L283.6 772L283.6 773L283.6 774L283.6 775L283.6 776L283.6 777L283.6 778L283.6 779L283.6 780L283.6 781L283.6 782L283.6 783L283.6 784L283.6 785L283.6 786L283.6 787L283.6 788L283.6 789L283.6 790L283.5 791L283.5 792L283.5 793L283.5 794L283.5 795L283.5 796L283.5 797L283.5 798L283.5 799L283.5 800L283.5 801L283.4 802L283.4 803L283.4 804L283.4 805L283.4 806L283.4 807L283.4 808L283.4 809L283.3 810L283.3 811L283.3 812L283.3 813L283.3 814L283.3 815L283.2 816L283.2 817L283.2 818L283.2 819L283.2 820L283.1 821L283.1 822L283.1 823L283.1 824L283.1 825L283 826L283 827L283 828L283 829L283 830L282.9 831L282.9 832L282.9 833L282.9 834L282.8 835L282.8 836L282.8 837L282.7 838L282.7 839L282.7 840L282.7 841L282.6 842L282.6 843L282.6 844L282.6 845L282.5 846L282.5 847L282.4 848L282.4 849L282.3 850L282.2 851L282.1 852L282 853L281.9 854L281.8 855L281.7 856L281.6 857L281.5 858L281.4 859L281.3 860L281.2 861L281.1 862" fill="none" stroke="#d9f2e8" stroke-width="0.6" />
<path d="M279.1 640L287.1 640.2M279.1 662.8L287.2 663.5M279.2 690.4L287.3 690.6" fill="none" stroke="#fbe0ea" stroke-width="0.6"/>
<path d="M279.2 706L287.3 706.6M279.2 709.4L287.3 708.8M279.2 713.7L287.4 713.9M279.2 717.3L287.4 717.5M279.3 722.2L287.4 722M279.3 726.2L287.5 725.8M279.3 730.1L287.5 730.9M279.3 734.1L287.5 734.9M279.3 739L287.6 739.1M279.3 742.8L287.6 743.6M279.4 747L287.7 746.9M279.4 750.9L287.7 751.7M279.4 755.1L287.7 754.8M279.4 759.3L287.7 758.7M279.4 763.6L287.8 763.6M279.4 767.5L287.8 768M279.4 772.2L287.8 771.5M279.4 776.5L287.8 776.1M279.4 781.4L287.8 781.8M279.4 785.2L287.8 784.8M279.4 788.8L287.7 789.6M279.4 792.7L287.7 792.9M279.3 796.9L287.7 797.1M279.3 801.2L287.6 801.6M279.3 804.8L287.5 805.2M279.3 808.7L287.5 808.7M279.2 812.6L287.4 812.3M279.2 816.9L287.3 816.8M279.1 820.9L287.2 821.3M279.1 825.2L287 824.5M279 829L286.9 828.9M279 833.9L286.7 834.5M278.9 838.1L286.6 837.4M278.8 842.8L286.4 842.7M278.8 847.1L286.2 847.4M278.6 851.5L285.7 851.5M278.4 856.4L285.1 856.2M278.2 860.4L284.5 861" fill="none" stroke="#d9f2e8" stroke-width="0.6"/>
<path d="M256.1 607L256.1 608L256.1 609L256.1 610L256.1 611L256.1 612L256.1 613L256.1 614L256.1 615L256.1 616L256.1 617L256.1 618L256.1 619L256.1 620L256.1 621L256.1 622L256.1 623L256.1 624L256.1 625L256.1 626L256.1 627L256.1 628L256.1 629L256.1 630L256.1 631L256.1 632L256.1 633L256.1 634L256.1 635L256.1 636L256.1 637L256.1 638L256.1 639L256.1 640L256.1 641L256.1 642L256.1 643L256.1 644L256.1 645L256.1 646L256.1 647L256.1 648L256.1 649L256.1 650L256.1 651L256.1 652L256.1 653L256.1 654L256.1 655L256.1 656L256.1 657L256.1 658L256.1 659L256.1 660L256.1 661L256.1 662L256.1 663L256.1 664L256.1 665L256.1 666L256.1 667L256.1 668L256.1 669L256.1 670L256.1 671L256.1 672L256.1 673L256.1 674L256.1 675L256.1 676L256.1 677L256.1 678L256.1 679L256.1 680L256.1 681L256.1 682L256.1 683L256.1 684L256.1 685L256.1 686L256.1 687L256.1 688L256.1 689L256.1 690L256.1 691L256.1 692L256.1 693L256.1 694L256.1 695L256.1 696L256.1 697L256.1 698L256.1 699L256.1 700L256.1 701L256.1 702L256.1 703L256.1 704L256.1 705L256.1 706L256.1 707L256.1 708L256.1 709L256.1 710L256.1 711L256.1 712L256.1 713L256.1 714L256.1 715L256.1 716L256.1 717L256.1 718L256.1 719L256.1 720L256.1 721L256.1 722L256.1 723L256.2 724L256.2 725L256.2 726L256.2 727L256.2 728L256.2 729L256.2 730L256.2 731L256.2 732L256.2 733L256.2 734L256.2 735L256.2 736L256.2 737L256.2 738L256.2 739L256.2 740L256.2 741L256.2 742L256.2 743L256.2 744L256.2 745L256.2 746L256.2 747L256.2 748L256.2 749L256.2 750L256.3 751L256.3 752L256.3 753L256.3 754L256.3 755L256.3 756L256.3 757L256.3 758L256.3 759L256.3 760L256.3 761L256.3 762L256.3 763L256.3 764L256.3 765L256.3 766L256.3 767L256.3 768L256.3 769L256.3 770L256.4 771L256.4 772L256.4 773L256.4 774L256.4 775L256.4 776L256.4 777L256.4 778L256.4 779L256.4 780L256.4 781L256.5 782L256.5 783L256.5 784L256.5 785L256.6 786L256.6 787L256.6 788L256.7 789L256.7 790L256.7 791L256.8 792L256.8 793L256.9 794L256.9 795L256.9 796L257 797L257 798L257.1 799L257.1 800L257.2 801L257.2 802L257.3 803L257.3 804L257.4 805L257.5 806L257.5 807L257.6 808L257.7 809L257.8 810L257.9 811L257.9 812L258 813L258.1 814L258.2 815L258.3 816L258.4 817L258.5 818L258.6 819L258.7 820L258.8 821L258.9 822L259.1 823L259.2 824L259.3 825L259.4 826L259.6 827L259.7 828L259.9 829L260 830L260.2 831L260.4 832L260.5 833L260.7 834L260.9 835L261.1 836L261.3 837L261.5 838L261.7 839L261.9 840L262.1 841L262.3 842L262.5 843L262.8 844L263 845L263.2 846L263.5 847L263.8 848L264.1 849L264.4 850L264.7 851L265.1 852L265.4 853L265.8 854L266.2 855L266.7 856" fill="none" stroke="#2a2a2a" stroke-width="0.5" /><path d="M260.3 607L260.3 608L260.3 609L260.3 610L260.3 611L260.3 612L260.3 613L260.3 614L260.3 615L260.3 616L260.3 617L260.3 618L260.3 619L260.3 620L260.3 621L260.3 622L260.3 623L260.3 624L260.3 625L260.3 626L260.3 627L260.3 628L260.3 629L260.3 630L260.3 631L260.3 632L260.3 633L260.3 634L260.3 635L260.3 636L260.3 637L260.3 638L260.3 639L260.3 640L260.3 641L260.3 642L260.3 643L260.3 644L260.3 645L260.3 646L260.3 647L260.3 648L260.3 649L260.3 650L260.3 651L260.3 652L260.3 653L260.3 654L260.3 655L260.3 656L260.3 657L260.3 658L260.3 659L260.3 660L260.3 661L260.3 662L260.3 663L260.3 664L260.3 665L260.3 666L260.3 667L260.4 668L260.4 669L260.4 670L260.4 671L260.4 672L260.4 673L260.4 674L260.4 675L260.4 676L260.4 677L260.4 678L260.4 679L260.4 680L260.4 681L260.4 682L260.4 683L260.4 684L260.4 685L260.4 686L260.4 687L260.4 688L260.4 689L260.4 690L260.4 691L260.4 692L260.4 693L260.4 694L260.4 695L260.4 696L260.4 697L260.4 698L260.4 699L260.4 700L260.5 701L260.5 702L260.5 703L260.5 704L260.5 705L260.5 706L260.5 707L260.5 708L260.5 709L260.5 710L260.5 711L260.5 712L260.5 713L260.5 714L260.5 715L260.5 716L260.5 717L260.5 718L260.5 719L260.5 720L260.5 721L260.5 722L260.5 723L260.6 724L260.6 725L260.6 726L260.6 727L260.6 728L260.6 729L260.6 730L260.6 731L260.6 732L260.6 733L260.6 734L260.6 735L260.6 736L260.6 737L260.6 738L260.6 739L260.7 740L260.7 741L260.7 742L260.7 743L260.7 744L260.7 745L260.7 746L260.7 747L260.7 748L260.7 749L260.7 750L260.7 751L260.7 752L260.8 753L260.8 754L260.8 755L260.8 756L260.8 757L260.8 758L260.8 759L260.8 760L260.8 761L260.8 762L260.9 763L260.9 764L260.9 765L260.9 766L260.9 767L260.9 768L260.9 769L260.9 770L260.9 771L260.9 772L261 773L261 774L261 775L261 776L261 777L261 778L261 779L261.1 780L261.1 781L261.1 782L261.1 783L261.1 784L261.2 785L261.2 786L261.2 787L261.2 788L261.3 789L261.3 790L261.3 791L261.4 792L261.4 793L261.4 794L261.5 795L261.5 796L261.6 797L261.6 798L261.6 799L261.7 800L261.7 801L261.8 802L261.8 803L261.9 804L261.9 805L262 806L262 807L262.1 808L262.1 809L262.2 810L262.3 811L262.3 812L262.4 813L262.5 814L262.5 815L262.6 816L262.7 817L262.8 818L262.8 819L262.9 820L263 821L263.1 822L263.2 823L263.3 824L263.3 825L263.4 826L263.5 827L263.6 828L263.7 829L263.9 830L264 831L264.1 832L264.2 833L264.3 834L264.4 835L264.6 836L264.7 837L264.8 838L265 839L265.1 840L265.3 841L265.4 842L265.5 843L265.7 844L265.9 845L266 846L266.2 847L266.4 848L266.6 849L266.8 850L267 851L267.3 852L267.5 853L267.8 854L268.1 855L268.4 856" fill="none" stroke="#2a2a2a" stroke-width="0.5" /><path d="M251.4 615L256.1 615.5M251.3 626.6L256.1 627.2M251.3 644.6L256.1 644.5M251.2 658.4L256.1 658.9M251.2 678.5L256.1 678M251.2 694.3L256.1 694.4" fill="none" stroke="#2a2a2a" stroke-width="0.5"/><path d="M251.2 701.3L256.1 700.8M251.2 706.9L256.1 707.4M251.2 711.4L256.1 711M251.2 717.5L256.1 717.9M251.2 723.2L256.1 722.4M251.2 729L256.2 729.8M251.2 735.4L256.2 735.8M251.2 739.9L256.2 740.5M251.2 744.8L256.2 745M251.2 751.1L256.3 751.4M251.2 755.7L256.3 755.4M251.2 762L256.3 761.4M251.2 767.6L256.3 767.5M251.2 772.3L256.4 772.5M251.2 776.8L256.4 776.2M251.3 782L256.5 781.3M251.4 786.5L256.6 786.6M251.6 792.4L256.8 793M251.8 797L257 796.9M252.1 802.1L257.2 802.2M252.5 807.5L257.5 808.2M253.1 812.6L258 811.9M253.7 818.4L258.5 817.8M254.6 824.1L259.2 824.1M255.7 830.3L260 830.4M257.2 835.9L261.1 835.5M258.5 841.4L262.1 841M260.5 847.3L263.5 847.4M262.6 852L265.1 851.6M265.4 857.1L267.1 857.5" fill="none" stroke="#2a2a2a" stroke-width="0.5"/><path d="M256.1 619.1L260.3 619.4M256.1 631L260.3 631.3M256.1 642.9L260.3 642.3M256.1 659.8L260.3 659.4M256.1 679.6L260.4 679.6M256.1 693.8L260.4 694.3" fill="none" stroke="#2a2a2a" stroke-width="0.5"/><path d="M256.1 702.9L260.5 702.2M256.1 707.6L260.5 708.3M256.1 713.4L260.5 712.9M256.1 718L260.5 718.8M256.2 723.7L260.6 724.2M256.2 728.4L260.6 728.6M256.2 733.5L260.6 733.1M256.2 738.6L260.6 738.8M256.2 743.7L260.7 743.5M256.2 748.4L260.7 748.9M256.3 754L260.8 754.5M256.3 759.3L260.8 759.9M256.3 764.7L260.9 764.9M256.3 770.3L260.9 770.7M256.4 775.5L261 774.8M256.4 780L261.1 779.5M256.5 784.4L261.1 785.1M256.7 789.8L261.3 790.2M256.9 794.2L261.4 794.1M257.1 800.4L261.7 800.6M257.5 805.6L262 805.6M257.8 810.2L262.2 809.7M258.2 814.9L262.5 814.7M258.7 820.1L262.9 820.7M259.3 824.8L263.3 824.4M260 829.8L263.9 829.2M260.9 834.8L264.4 834.3M261.9 840.1L265.1 839.4M263.2 846.4L266 846.2M265.4 852.6L267.5 852.9" fill="none" stroke="#2a2a2a" stroke-width="0.5"/><path d="M260.3 616.7L264.5 617.4M260.3 628.9L264.5 629.2M260.3 642.8L264.6 643.1M260.3 661.1L264.6 660.6M260.4 674.1L264.7 673.4M260.4 687.4L264.7 686.7" fill="none" stroke="#2a2a2a" stroke-width="0.5"/><path d="M260.5 703.9L264.8 703.7M260.5 708.9L264.8 708.9M260.5 713.9L264.9 714.3M260.5 719.7L264.9 719.2M260.6 724.6L265 724.9M260.6 730.9L265 731.1M260.6 736.1L265.1 736.9M260.7 740.6L265.1 739.9M260.7 746.5L265.2 746.4M260.7 751L265.2 751.1M260.8 757.4L265.3 757.4M260.8 762.5L265.4 761.8M260.9 767L265.5 767.7M260.9 772.4L265.5 773.1M261 776.9L265.6 776.5M261.1 781.4L265.7 781.3M261.2 785.9L265.8 785.5M261.3 791.2L265.9 790.8M261.5 795.7L266.1 794.9M261.8 802L266.3 801.5M262 807.4L266.5 807.3M262.4 812.9L266.8 812.2M262.8 817.9L267 817.3M263.2 823.4L267.3 824.1M263.7 829L267.6 829.6M264.3 833.8L267.9 833M265 839.3L268.3 839.3M265.9 844.8L268.7 844.6M266.8 850.5L269.2 850.8M268.7 856.7L270.2 856.4" fill="none" stroke="#2a2a2a" stroke-width="0.5"/>
<path d="M291.9 607L291.9 608L291.9 609L291.9 610L292 611L292 612L292 613L292 614L292 615L292 616L292 617L292 618L292.1 619L292.1 620L292.1 621L292.1 622L292.1 623L292.1 624L292.1 625L292.1 626L292.2 627L292.2 628L292.2 629L292.2 630L292.2 631L292.2 632L292.2 633L292.2 634L292.3 635L292.3 636L292.3 637L292.3 638L292.3 639L292.3 640L292.3 641L292.3 642L292.4 643L292.4 644L292.4 645L292.4 646L292.4 647L292.4 648L292.4 649L292.4 650L292.4 651L292.5 652L292.5 653L292.5 654L292.5 655L292.5 656L292.5 657L292.5 658L292.5 659L292.5 660L292.6 661L292.6 662L292.6 663L292.6 664L292.6 665L292.6 666L292.6 667L292.6 668L292.6 669L292.7 670L292.7 671L292.7 672L292.7 673L292.7 674L292.7 675L292.7 676L292.7 677L292.7 678L292.7 679L292.8 680L292.8 681L292.8 682L292.8 683L292.8 684L292.8 685L292.8 686L292.8 687L292.8 688L292.8 689L292.8 690L292.8 691L292.9 692L292.9 693L292.9 694L292.9 695L292.9 696L292.9 697L292.9 698L292.9 699L292.9 700L292.9 701L292.9 702L292.9 703L293 704L293 705L293 706L293 707L293 708L293 709L293 710L293 711L293 712L293 713L293.1 714L293.1 715L293.1 716L293.1 717L293.1 718L293.1 719L293.1 720L293.1 721L293.1 722L293.2 723L293.2 724L293.2 725L293.2 726L293.2 727L293.2 728L293.2 729L293.2 730L293.2 731L293.3 732L293.3 733L293.3 734L293.3 735L293.3 736L293.3 737L293.3 738L293.3 739L293.3 740L293.3 741L293.4 742L293.4 743L293.4 744L293.4 745L293.4 746L293.4 747L293.4 748L293.4 749L293.4 750L293.4 751L293.5 752L293.5 753L293.5 754L293.5 755L293.5 756L293.5 757L293.5 758L293.5 759L293.5 760L293.5 761L293.5 762L293.5 763L293.5 764L293.5 765L293.5 766L293.5 767L293.5 768L293.5 769L293.6 770L293.6 771L293.6 772L293.6 773L293.6 774L293.6 775L293.6 776L293.6 777L293.6 778L293.6 779L293.6 780L293.6 781L293.5 782L293.5 783L293.5 784L293.5 785L293.5 786L293.5 787L293.5 788L293.5 789L293.5 790L293.5 791L293.5 792L293.5 793L293.5 794L293.4 795L293.4 796L293.4 797L293.4 798L293.4 799L293.4 800L293.4 801L293.3 802L293.3 803L293.3 804L293.3 805L293.3 806L293.2 807L293.2 808L293.2 809L293.1 810L293.1 811L293.1 812L293 813L293 814L293 815L292.9 816L292.9 817L292.8 818L292.8 819L292.8 820L292.7 821L292.7 822L292.6 823L292.5 824L292.5 825L292.4 826L292.3 827L292.2 828L292.2 829L292.1 830L292 831L291.9 832L291.7 833L291.6 834L291.5 835L291.4 836L291.3 837L291.1 838L291 839L290.9 840L290.7 841L290.6 842L290.5 843L290.3 844L290.2 845L290 846L289.9 847L289.7 848L289.5 849L289.3 850L289.1 851L288.8 852L288.6 853L288.3 854L288 855L287.7 856" fill="none" stroke="#2a2a2a" stroke-width="0.5" /><path d="M296.7 607L296.7 608L296.8 609L296.8 610L296.8 611L296.8 612L296.9 613L296.9 614L296.9 615L296.9 616L297 617L297 618L297 619L297 620L297.1 621L297.1 622L297.1 623L297.1 624L297.1 625L297.2 626L297.2 627L297.2 628L297.2 629L297.3 630L297.3 631L297.3 632L297.3 633L297.4 634L297.4 635L297.4 636L297.4 637L297.5 638L297.5 639L297.5 640L297.5 641L297.5 642L297.6 643L297.6 644L297.6 645L297.6 646L297.7 647L297.7 648L297.7 649L297.7 650L297.7 651L297.8 652L297.8 653L297.8 654L297.8 655L297.8 656L297.9 657L297.9 658L297.9 659L297.9 660L297.9 661L298 662L298 663L298 664L298 665L298 666L298.1 667L298.1 668L298.1 669L298.1 670L298.1 671L298.1 672L298.2 673L298.2 674L298.2 675L298.2 676L298.2 677L298.2 678L298.3 679L298.3 680L298.3 681L298.3 682L298.3 683L298.3 684L298.3 685L298.4 686L298.4 687L298.4 688L298.4 689L298.4 690L298.4 691L298.4 692L298.5 693L298.5 694L298.5 695L298.5 696L298.5 697L298.5 698L298.5 699L298.5 700L298.6 701L298.6 702L298.6 703L298.6 704L298.6 705L298.6 706L298.6 707L298.6 708L298.7 709L298.7 710L298.7 711L298.7 712L298.7 713L298.7 714L298.7 715L298.8 716L298.8 717L298.8 718L298.8 719L298.8 720L298.8 721L298.8 722L298.9 723L298.9 724L298.9 725L298.9 726L298.9 727L298.9 728L298.9 729L299 730L299 731L299 732L299 733L299 734L299 735L299 736L299 737L299.1 738L299.1 739L299.1 740L299.1 741L299.1 742L299.1 743L299.1 744L299.1 745L299.1 746L299.2 747L299.2 748L299.2 749L299.2 750L299.2 751L299.2 752L299.2 753L299.2 754L299.2 755L299.2 756L299.2 757L299.3 758L299.3 759L299.3 760L299.3 761L299.3 762L299.3 763L299.3 764L299.3 765L299.3 766L299.3 767L299.3 768L299.3 769L299.3 770L299.3 771L299.3 772L299.3 773L299.3 774L299.3 775L299.3 776L299.3 777L299.3 778L299.3 779L299.3 780L299.3 781L299.3 782L299.3 783L299.3 784L299.3 785L299.3 786L299.3 787L299.3 788L299.3 789L299.2 790L299.2 791L299.2 792L299.2 793L299.2 794L299.2 795L299.2 796L299.2 797L299.2 798L299.1 799L299.1 800L299.1 801L299.1 802L299.1 803L299 804L299 805L299 806L299 807L298.9 808L298.9 809L298.8 810L298.8 811L298.8 812L298.7 813L298.7 814L298.6 815L298.6 816L298.5 817L298.4 818L298.4 819L298.3 820L298.2 821L298.2 822L298.1 823L298 824L297.9 825L297.8 826L297.7 827L297.5 828L297.4 829L297.2 830L297.1 831L296.9 832L296.7 833L296.5 834L296.3 835L296.1 836L295.9 837L295.7 838L295.5 839L295.2 840L295 841L294.8 842L294.5 843L294.3 844L294 845L293.8 846L293.5 847L293.3 848L293 849L292.7 850L292.3 851L292 852L291.6 853L291.2 854L290.7 855L290.2 856" fill="none" stroke="#2a2a2a" stroke-width="0.5" /><path d="M287.1 620.3L292.1 619.8M287.1 632.4L292.2 632.1M287.1 644.3L292.4 644.7M287.2 663.5L292.6 663.2M287.2 675.8L292.7 675.1M287.3 689.2L292.8 688.6" fill="none" stroke="#2a2a2a" stroke-width="0.5"/><path d="M287.3 702.3L292.9 701.9M287.3 706.8L293 707.2M287.4 711.3L293 710.8M287.4 716.3L293.1 716.1M287.4 720.9L293.1 720.8M287.5 725.9L293.2 726.3M287.5 731.4L293.2 732.1M287.6 737.1L293.3 737.6M287.6 742.7L293.4 742.6M287.7 748.7L293.4 749M287.7 755L293.5 755.4M287.8 760.8L293.5 760.5M287.8 766.9L293.5 766.7M287.8 771.5L293.6 770.8M287.8 776.3L293.6 775.9M287.8 782L293.5 781.7M287.8 786.5L293.5 787M287.7 792.1L293.5 791.3M287.7 796.6L293.4 796M287.6 801.7L293.3 802.2M287.5 808L293.2 808.1M287.4 812.8L293 812.7M287.2 818L292.8 817.7M287.1 822.4L292.7 822.5M286.9 828.4L292.2 828.8M286.8 833L291.7 833.1M286.6 837.8L291.1 838.1M286.4 843.1L290.5 843.8M286 849.1L289.5 848.4M285.4 854.1L288.3 854.7" fill="none" stroke="#2a2a2a" stroke-width="0.5"/><path d="M292 616.3L296.9 616.2M292.3 635L297.4 635.7M292.4 651.3L297.7 652.1M292.6 668.3L298.1 667.7M292.8 687.4L298.4 687.3M292.9 699L298.5 699.7" fill="none" stroke="#2a2a2a" stroke-width="0.5"/><path d="M292.9 702.3L298.6 702.3M293 708.5L298.6 708.3M293 713.3L298.7 712.9M293.1 718.1L298.8 718.2M293.2 723.2L298.9 723.6M293.2 728.1L298.9 727.9M293.3 733L299 733.8M293.3 739.1L299.1 739.6M293.4 744.7L299.1 744.6M293.4 749.4L299.2 749.9M293.5 754.8L299.2 754M293.5 759.5L299.3 758.9M293.5 765.4L299.3 766M293.6 770.2L299.3 770.6M293.6 775.2L299.3 775.5M293.6 781.3L299.3 781.5M293.5 787.3L299.3 787.1M293.5 791.8L299.2 791.8M293.4 797.3L299.2 796.8M293.3 802.5L299.1 802.2M293.2 807L299 806.7M293.1 812.1L298.8 812.1M292.8 817.9L298.4 817.8M292.5 824.3L298 824.8M292 830.5L297.1 830.8M291.4 836.3L296.1 836.3M290.6 842.3L294.8 842.1M289.7 847.9L293.3 848.2M288.6 853.3L291.6 853M286.9 857.9L289.1 857.2" fill="none" stroke="#2a2a2a" stroke-width="0.5"/><path d="M297 617.8L302.5 618.2M297.4 635.9L303.2 635.6M297.8 656.2L303.8 655.9M298.2 674.4L304.3 673.7M298.5 692.9L304.7 693.2" fill="none" stroke="#2a2a2a" stroke-width="0.5"/><path d="M298.6 703.6L304.9 703.9M298.7 709.7L305 710M298.7 715.3L305.1 714.8M298.8 720.7L305.2 721.4M298.9 725.6L305.3 726.4M299 731.1L305.4 730.9M299 735.5L305.5 735.3M299.1 740.2L305.5 740.5M299.1 746.4L305.6 747.1M299.2 752.1L305.7 751.9M299.2 756.7L305.7 757M299.3 762.2L305.8 762.5M299.3 767.3L305.8 768M299.3 772.2L305.8 771.9M299.3 777.1L305.8 777.3M299.3 783.3L305.8 782.8M299.3 789L305.7 789.4M299.2 793.8L305.7 793.1M299.1 799.3L305.6 799.9M299 805.5L305.4 805.9M298.8 810.7L305.2 810.6M298.6 816.2L304.9 816.8M298.2 821.2L304.5 820.9M297.7 826.8L303.7 827.6M296.9 831.6L302.6 830.8M296.1 836.2L301.4 836.3M294.8 841.8L299.5 841.3M293.5 846.6L297.7 846.8M292 852.3L295.5 852.6" fill="none" stroke="#2a2a2a" stroke-width="0.5"/>
<path d="M275.4 607L275.4 608L275.4 609L275.4 610L275.4 611L275.4 612L275.4 613L275.4 614L275.4 615L275.4 616L275.4 617L275.4 618L275.4 619L275.4 620L275.4 621L275.4 622L275.4 623L275.4 624L275.4 625L275.4 626L275.4 627L275.4 628L275.4 629L275.4 630L275.4 631L275.4 632L275.4 633L275.4 634L275.4 635L275.4 636L275.4 637L275.4 638L275.4 639L275.4 640L275.4 641L275.4 642L275.4 643L275.4 644L275.4 645L275.4 646L275.5 647L275.5 648L275.5 649L275.5 650L275.5 651L275.5 652L275.5 653L275.5 654L275.5 655L275.5 656L275.5 657L275.5 658L275.5 659L275.5 660L275.5 661L275.5 662L275.5 663L275.5 664L275.5 665L275.5 666L275.5 667L275.5 668L275.5 669L275.5 670L275.5 671L275.5 672L275.5 673L275.5 674L275.5 675L275.5 676L275.5 677L275.5 678L275.5 679L275.5 680L275.5 681L275.5 682L275.5 683L275.5 684L275.5 685L275.5 686L275.5 687L275.5 688L275.5 689L275.5 690L275.5 691L275.5 692L275.5 693L275.5 694L275.5 695L275.5 696L275.5 697L275.5 698L275.5 699L275.5 700L275.6 701L275.6 702L275.6 703L275.6 704L275.6 705L275.6 706L275.6 707L275.6 708L275.6 709L275.6 710L275.6 711L275.6 712L275.6 713L275.6 714L275.6 715L275.6 716L275.6 717L275.6 718L275.6 719L275.6 720L275.6 721L275.6 722L275.6 723L275.6 724L275.6 725L275.6 726L275.6 727L275.7 728L275.7 729L275.7 730L275.7 731L275.7 732L275.7 733L275.7 734L275.7 735L275.7 736L275.7 737L275.7 738L275.7 739L275.7 740L275.7 741L275.7 742L275.7 743L275.7 744L275.8 745L275.8 746L275.8 747L275.8 748L275.8 749L275.8 750L275.8 751L275.8 752L275.8 753L275.8 754L275.8 755L275.8 756L275.8 757L275.8 758L275.8 759L275.8 760L275.9 761L275.9 762L275.9 763L275.9 764L275.9 765L275.9 766L275.9 767L275.9 768L275.9 769L275.9 770L275.9 771L275.9 772L275.9 773L275.9 774L275.9 775L275.9 776L276 777L276 778L276 779L276 780L276 781L276 782L276 783L276 784L276 785L276 786L276 787L276 788L276 789L276.1 790L276.1 791L276.1 792L276.1 793L276.1 794L276.1 795L276.1 796L276.1 797L276.1 798L276.1 799L276.2 800L276.2 801L276.2 802L276.2 803L276.2 804L276.2 805L276.2 806L276.2 807L276.2 808L276.3 809L276.3 810L276.3 811L276.3 812L276.3 813L276.3 814L276.3 815L276.3 816L276.4 817L276.4 818L276.4 819L276.4 820L276.4 821L276.4 822L276.4 823L276.5 824L276.5 825L276.5 826L276.5 827L276.5 828L276.5 829L276.5 830L276.6 831L276.6 832L276.6 833L276.6 834L276.6 835L276.6 836L276.7 837L276.7 838L276.7 839L276.7 840L276.7 841L276.7 842L276.8 843L276.8 844L276.8 845L276.8 846L276.8 847L276.9 848L276.9 849L276.9 850L276.9 851L276.9 852L277 853L277 854L277 855L277 856" fill="none" stroke="#2a2a2a" stroke-width="0.5" />
<path d="M271.8 640L275.4 639.3M271.8 654.8L275.5 655.4M271.9 674.4L275.5 674.1M271.9 692.9L275.5 693.2M271.9 712.2L275.6 711.8M272 729.2L275.7 729.7M272.1 743.9L275.7 743.3M272.3 755.9L275.8 755.3M272.4 766.8L275.9 766.2M272.6 782.9L276 782.3M273 800.5L276.2 800.9M273.6 818.7L276.4 819.2M274.3 835.8L276.6 836.5M275.6 855.4L277 855.6" fill="none" stroke="#2a2a2a" stroke-width="0.5"/>
<path d="M275.4 630L279 629.4M275.4 641L279.1 640.3M275.5 653.1L279.1 652.9M275.5 667.7L279.1 668M275.5 685.1L279.2 684.4M275.5 699.1L279.2 699.2M275.6 712.9L279.2 712.3M275.7 728.9L279.3 728.7M275.8 745.7L279.3 745.7M275.9 765.3L279.4 766M275.9 776.1L279.4 776.5M276.1 793.3L279.4 792.9M276.2 804.4L279.3 804.4M276.4 818L279.2 818.4M276.7 837.2L278.9 837M276.9 850.1L278.7 850.1" fill="none" stroke="#2a2a2a" stroke-width="0.5"/>
<rect x="271.2" y="863" width="6.6" height="4.3" fill="#c9cb24" stroke="#8a8c10" stroke-width="0.5" />
<rect x="277.9" y="863" width="6.6" height="4.3" fill="#c9cb24" stroke="#8a8c10" stroke-width="0.5" /></g>
<g><line x1="443.8" y1="612.4" x2="443.8" y2="867.7" stroke="#111" stroke-width="1.5" />
<line x1="443.1" y1="867" x2="642" y2="867" stroke="#111" stroke-width="1.5" />
<line x1="438.2" y1="867" x2="443.8" y2="867" stroke="#111" stroke-width="1.5" />
<text x="437.3" y="869.8" font-size="7.6" text-anchor="end" fill="#111" font-weight="bold" font-style="normal" >0.0</text>
<line x1="440.5" y1="854.3" x2="443.8" y2="854.3" stroke="#111" stroke-width="1.3" />
<line x1="440.5" y1="841.6" x2="443.8" y2="841.6" stroke="#111" stroke-width="1.3" />
<line x1="440.5" y1="828.9" x2="443.8" y2="828.9" stroke="#111" stroke-width="1.3" />
<line x1="440.5" y1="816.2" x2="443.8" y2="816.2" stroke="#111" stroke-width="1.3" />
<line x1="438.2" y1="803.5" x2="443.8" y2="803.5" stroke="#111" stroke-width="1.5" />
<text x="437.3" y="806.2" font-size="7.6" text-anchor="end" fill="#111" font-weight="bold" font-style="normal" >0.5</text>
<line x1="440.5" y1="790.8" x2="443.8" y2="790.8" stroke="#111" stroke-width="1.3" />
<line x1="440.5" y1="778.1" x2="443.8" y2="778.1" stroke="#111" stroke-width="1.3" />
<line x1="440.5" y1="765.4" x2="443.8" y2="765.4" stroke="#111" stroke-width="1.3" />
<line x1="440.5" y1="752.7" x2="443.8" y2="752.7" stroke="#111" stroke-width="1.3" />
<line x1="438.2" y1="740" x2="443.8" y2="740" stroke="#111" stroke-width="1.5" />
<text x="437.3" y="742.8" font-size="7.6" text-anchor="end" fill="#111" font-weight="bold" font-style="normal" >1.0</text>
<line x1="440.5" y1="727.3" x2="443.8" y2="727.3" stroke="#111" stroke-width="1.3" />
<line x1="440.5" y1="714.6" x2="443.8" y2="714.6" stroke="#111" stroke-width="1.3" />
<line x1="440.5" y1="701.9" x2="443.8" y2="701.9" stroke="#111" stroke-width="1.3" />
<line x1="440.5" y1="689.2" x2="443.8" y2="689.2" stroke="#111" stroke-width="1.3" />
<line x1="438.2" y1="676.5" x2="443.8" y2="676.5" stroke="#111" stroke-width="1.5" />
<text x="437.3" y="679.2" font-size="7.6" text-anchor="end" fill="#111" font-weight="bold" font-style="normal" >1.5</text>
<line x1="440.5" y1="663.8" x2="443.8" y2="663.8" stroke="#111" stroke-width="1.3" />
<line x1="440.5" y1="651.1" x2="443.8" y2="651.1" stroke="#111" stroke-width="1.3" />
<line x1="440.5" y1="638.4" x2="443.8" y2="638.4" stroke="#111" stroke-width="1.3" />
<line x1="440.5" y1="625.7" x2="443.8" y2="625.7" stroke="#111" stroke-width="1.3" />
<line x1="438.2" y1="613" x2="443.8" y2="613" stroke="#111" stroke-width="1.5" />
<text x="437.3" y="615.8" font-size="7.6" text-anchor="end" fill="#111" font-weight="bold" font-style="normal" >2.0</text>
<line x1="511.3" y1="608" x2="511.3" y2="867" stroke="#111" stroke-width="1.5" />
<line x1="576.9" y1="608" x2="576.9" y2="867" stroke="#111" stroke-width="1.5" />
<rect x="454.2" y="720" width="19.7" height="44.1" fill="#a3a3a3" stroke="#111" stroke-width="1.7" />
<line x1="454.2" y1="735.8" x2="473.9" y2="735.8" stroke="#111" stroke-width="1.7" />
<line x1="464" y1="682.5" x2="464" y2="720" stroke="#111" stroke-width="1.7" />
<line x1="464" y1="764.1" x2="464" y2="802.8" stroke="#111" stroke-width="1.7" />
<line x1="458.8" y1="682.5" x2="469.2" y2="682.5" stroke="#111" stroke-width="1.7" />
<line x1="458.8" y1="802.8" x2="469.2" y2="802.8" stroke="#111" stroke-width="1.7" />
<line x1="464" y1="867" x2="464" y2="872" stroke="#111" stroke-width="1.4" />
<rect x="485.7" y="692.6" width="19.7" height="73.7" fill="#fff" stroke="#111" stroke-width="1.7" />
<line x1="485.7" y1="751.4" x2="505.4" y2="751.4" stroke="#111" stroke-width="1.7" />
<line x1="495.4" y1="645.3" x2="495.4" y2="692.6" stroke="#111" stroke-width="1.7" />
<line x1="495.4" y1="766.3" x2="495.4" y2="802.2" stroke="#111" stroke-width="1.7" />
<line x1="490.1" y1="645.3" x2="500.6" y2="645.3" stroke="#111" stroke-width="1.7" />
<line x1="490.1" y1="802.2" x2="500.6" y2="802.2" stroke="#111" stroke-width="1.7" />
<line x1="495.4" y1="867" x2="495.4" y2="872" stroke="#111" stroke-width="1.4" />
<rect x="516.8" y="713.9" width="20.1" height="53.5" fill="#a3a3a3" stroke="#111" stroke-width="1.7" />
<line x1="516.8" y1="742.8" x2="536.9" y2="742.8" stroke="#111" stroke-width="1.7" />
<line x1="526.8" y1="676.2" x2="526.8" y2="713.9" stroke="#111" stroke-width="1.7" />
<line x1="526.8" y1="767.4" x2="526.8" y2="812.5" stroke="#111" stroke-width="1.7" />
<line x1="521.5" y1="676.2" x2="532" y2="676.2" stroke="#111" stroke-width="1.7" />
<line x1="521.5" y1="812.5" x2="532" y2="812.5" stroke="#111" stroke-width="1.7" />
<line x1="526.8" y1="867" x2="526.8" y2="872" stroke="#111" stroke-width="1.4" />
<rect x="548" y="718.9" width="20.2" height="68.2" fill="#fff" stroke="#111" stroke-width="1.7" />
<line x1="548" y1="760.8" x2="568.2" y2="760.8" stroke="#111" stroke-width="1.7" />
<line x1="558.1" y1="696.3" x2="558.1" y2="718.9" stroke="#111" stroke-width="1.7" />
<line x1="558.1" y1="787.1" x2="558.1" y2="814.4" stroke="#111" stroke-width="1.7" />
<line x1="552.9" y1="696.3" x2="563.4" y2="696.3" stroke="#111" stroke-width="1.7" />
<line x1="552.9" y1="814.4" x2="563.4" y2="814.4" stroke="#111" stroke-width="1.7" />
<line x1="558.1" y1="867" x2="558.1" y2="872" stroke="#111" stroke-width="1.4" />
<rect x="579.6" y="716.3" width="19.7" height="51.1" fill="#a3a3a3" stroke="#111" stroke-width="1.7" />
<line x1="579.6" y1="748.6" x2="599.3" y2="748.6" stroke="#111" stroke-width="1.7" />
<line x1="589.4" y1="646.6" x2="589.4" y2="716.3" stroke="#111" stroke-width="1.7" />
<line x1="589.4" y1="767.4" x2="589.4" y2="814" stroke="#111" stroke-width="1.7" />
<line x1="584.1" y1="646.6" x2="594.6" y2="646.6" stroke="#111" stroke-width="1.7" />
<line x1="584.1" y1="814" x2="594.6" y2="814" stroke="#111" stroke-width="1.7" />
<line x1="589.4" y1="867" x2="589.4" y2="872" stroke="#111" stroke-width="1.4" />
<rect x="610.6" y="753.6" width="19.8" height="41.8" fill="#fff" stroke="#111" stroke-width="1.7" />
<line x1="610.6" y1="765.8" x2="630.4" y2="765.8" stroke="#111" stroke-width="1.7" />
<line x1="620.5" y1="699" x2="620.5" y2="753.6" stroke="#111" stroke-width="1.7" />
<line x1="620.5" y1="795.4" x2="620.5" y2="831.1" stroke="#111" stroke-width="1.7" />
<line x1="615.2" y1="699" x2="625.8" y2="699" stroke="#111" stroke-width="1.7" />
<line x1="615.2" y1="831.1" x2="625.8" y2="831.1" stroke="#111" stroke-width="1.7" />
<line x1="620.5" y1="867" x2="620.5" y2="872" stroke="#111" stroke-width="1.4" />
<circle cx="464" cy="690.5" r="1.2" fill="#111"/>
<circle cx="460.5" cy="719.5" r="1.2" fill="#111"/>
<circle cx="464" cy="719" r="1.2" fill="#111"/>
<circle cx="468" cy="719.5" r="1.2" fill="#111"/>
<circle cx="464" cy="725.5" r="1.2" fill="#111"/>
<circle cx="464" cy="735" r="1.2" fill="#111"/>
<circle cx="464" cy="742" r="1.2" fill="#111"/>
<circle cx="464" cy="751" r="1.2" fill="#111"/>
<circle cx="464" cy="757" r="1.2" fill="#111"/>
<circle cx="464" cy="771.5" r="1.2" fill="#111"/>
<circle cx="464" cy="802" r="1.2" fill="#111"/>
<circle cx="495.4" cy="645.5" r="1.2" fill="#111"/>
<circle cx="495.4" cy="670" r="1.2" fill="#111"/>
<circle cx="495.4" cy="685" r="1.2" fill="#111"/>
<circle cx="495.4" cy="693" r="1.2" fill="#111"/>
<circle cx="495.4" cy="739" r="1.2" fill="#111"/>
<circle cx="495.4" cy="742.5" r="1.2" fill="#111"/>
<circle cx="495.4" cy="746" r="1.2" fill="#111"/>
<circle cx="495.4" cy="755" r="1.2" fill="#111"/>
<circle cx="495.4" cy="758" r="1.2" fill="#111"/>
<circle cx="495.4" cy="760.5" r="1.2" fill="#111"/>
<circle cx="495.4" cy="762.5" r="1.2" fill="#111"/>
<circle cx="495.4" cy="767" r="1.2" fill="#111"/>
<circle cx="495.4" cy="787" r="1.2" fill="#111"/>
<circle cx="495.4" cy="802" r="1.2" fill="#111"/>
<circle cx="522.5" cy="698.6" r="1.2" fill="#111"/>
<circle cx="526.8" cy="697.2" r="1.2" fill="#111"/>
<circle cx="530.8" cy="695.3" r="1.2" fill="#111"/>
<circle cx="530.8" cy="713.2" r="1.2" fill="#111"/>
<circle cx="526.8" cy="715.4" r="1.2" fill="#111"/>
<circle cx="526.8" cy="719.7" r="1.2" fill="#111"/>
<circle cx="524.4" cy="723.7" r="1.2" fill="#111"/>
<circle cx="528.8" cy="724.3" r="1.2" fill="#111"/>
<circle cx="526.8" cy="728.5" r="1.2" fill="#111"/>
<circle cx="526.8" cy="742.7" r="1.2" fill="#111"/>
<circle cx="526.8" cy="746" r="1.2" fill="#111"/>
<circle cx="526.8" cy="755.1" r="1.2" fill="#111"/>
<circle cx="522.5" cy="763.4" r="1.2" fill="#111"/>
<circle cx="525.3" cy="763.4" r="1.2" fill="#111"/>
<circle cx="528.1" cy="763.4" r="1.2" fill="#111"/>
<circle cx="531" cy="763.4" r="1.2" fill="#111"/>
<circle cx="525.3" cy="770.7" r="1.2" fill="#111"/>
<circle cx="528.1" cy="770" r="1.2" fill="#111"/>
<circle cx="526.8" cy="771.7" r="1.2" fill="#111"/>
<circle cx="526.8" cy="784.2" r="1.2" fill="#111"/>
<circle cx="526.8" cy="787.9" r="1.2" fill="#111"/>
<circle cx="558.1" cy="700.1" r="1.2" fill="#111"/>
<circle cx="558.1" cy="705.5" r="1.2" fill="#111"/>
<circle cx="555.9" cy="716.5" r="1.2" fill="#111"/>
<circle cx="560.3" cy="715.8" r="1.2" fill="#111"/>
<circle cx="558.1" cy="716.9" r="1.2" fill="#111"/>
<circle cx="558.1" cy="723" r="1.2" fill="#111"/>
<circle cx="558.1" cy="726.3" r="1.2" fill="#111"/>
<circle cx="558.1" cy="746.4" r="1.2" fill="#111"/>
<circle cx="558.1" cy="754" r="1.2" fill="#111"/>
<circle cx="556.3" cy="760.6" r="1.2" fill="#111"/>
<circle cx="560" cy="760.6" r="1.2" fill="#111"/>
<circle cx="556.3" cy="770.7" r="1.2" fill="#111"/>
<circle cx="560" cy="770.7" r="1.2" fill="#111"/>
<circle cx="558.1" cy="768.9" r="1.2" fill="#111"/>
<circle cx="558.1" cy="779.2" r="1.2" fill="#111"/>
<circle cx="558.1" cy="790.8" r="1.2" fill="#111"/>
<circle cx="558.1" cy="807.1" r="1.2" fill="#111"/>
<circle cx="558.1" cy="811.1" r="1.2" fill="#111"/>
<circle cx="589.3" cy="655.7" r="1.2" fill="#111"/>
<circle cx="589.3" cy="672.3" r="1.2" fill="#111"/>
<circle cx="589.3" cy="684.1" r="1.2" fill="#111"/>
<circle cx="589.3" cy="727.4" r="1.2" fill="#111"/>
<circle cx="585.4" cy="736.1" r="1.2" fill="#111"/>
<circle cx="589.3" cy="738.8" r="1.2" fill="#111"/>
<circle cx="593" cy="738.3" r="1.2" fill="#111"/>
<circle cx="589.3" cy="748.6" r="1.2" fill="#111"/>
<circle cx="589.3" cy="756.2" r="1.2" fill="#111"/>
<circle cx="585.4" cy="763.4" r="1.2" fill="#111"/>
<circle cx="588.2" cy="763.9" r="1.2" fill="#111"/>
<circle cx="590.8" cy="763.9" r="1.2" fill="#111"/>
<circle cx="593.7" cy="763.4" r="1.2" fill="#111"/>
<circle cx="589.3" cy="780.9" r="1.2" fill="#111"/>
<circle cx="589.3" cy="791.4" r="1.2" fill="#111"/>
<circle cx="589.3" cy="795.6" r="1.2" fill="#111"/>
<circle cx="620.6" cy="719.1" r="1.2" fill="#111"/>
<circle cx="620.6" cy="735" r="1.2" fill="#111"/>
<circle cx="620.6" cy="751.4" r="1.2" fill="#111"/>
<circle cx="618.6" cy="755.4" r="1.2" fill="#111"/>
<circle cx="622.5" cy="755.4" r="1.2" fill="#111"/>
<circle cx="618.6" cy="759.1" r="1.2" fill="#111"/>
<circle cx="622.5" cy="760.6" r="1.2" fill="#111"/>
<circle cx="620.6" cy="771.1" r="1.2" fill="#111"/>
<circle cx="620.6" cy="784.2" r="1.2" fill="#111"/>
<circle cx="620.6" cy="786.8" r="1.2" fill="#111"/>
<circle cx="620.6" cy="795.1" r="1.2" fill="#111"/>
<circle cx="622.5" cy="795.6" r="1.2" fill="#111"/>
<circle cx="620.6" cy="797.7" r="1.2" fill="#111"/>
<circle cx="620.6" cy="808.7" r="1.2" fill="#111"/>
<circle cx="620.6" cy="821.3" r="1.2" fill="#111"/>
<path d="M590.8 634.4V622.6H620.6V684.7" fill="none" stroke="#222" stroke-width="0.9"/>
<text x="605.7" y="622.6" font-size="15" text-anchor="middle" fill="#111" font-weight="bold" font-style="normal" >*</text>
<text x="464" y="882.4" font-size="10.5" text-anchor="middle" fill="#111" font-weight="normal" font-style="normal" >+</text>
<text x="464" y="896" font-size="10.6" text-anchor="middle" fill="#222" font-weight="normal" font-style="normal" >24h</text>
<text x="495.4" y="882.4" font-size="10.5" text-anchor="middle" fill="#111" font-weight="normal" font-style="normal" >-</text>
<text x="495.4" y="896" font-size="10.6" text-anchor="middle" fill="#222" font-weight="normal" font-style="normal" >24h</text>
<text x="526.8" y="882.4" font-size="10.5" text-anchor="middle" fill="#111" font-weight="normal" font-style="normal" >+</text>
<text x="526.8" y="896" font-size="10.6" text-anchor="middle" fill="#222" font-weight="normal" font-style="normal" >48h</text>
<text x="558.1" y="882.4" font-size="10.5" text-anchor="middle" fill="#111" font-weight="normal" font-style="normal" >-</text>
<text x="558.1" y="896" font-size="10.6" text-anchor="middle" fill="#222" font-weight="normal" font-style="normal" >48h</text>
<text x="589.4" y="882.4" font-size="10.5" text-anchor="middle" fill="#111" font-weight="normal" font-style="normal" >+</text>
<text x="589.4" y="896" font-size="10.6" text-anchor="middle" fill="#222" font-weight="normal" font-style="normal" >72h</text>
<text x="620.5" y="882.4" font-size="10.5" text-anchor="middle" fill="#111" font-weight="normal" font-style="normal" >-</text>
<text x="620.5" y="896" font-size="10.6" text-anchor="middle" fill="#222" font-weight="normal" font-style="normal" >72h</text>
<text x="541.9" y="911" font-size="8" text-anchor="middle" fill="#111" font-weight="bold" font-style="normal" >WT</text>
<text transform="translate(420.7 739) rotate(-90)" font-size="8.8" text-anchor="middle" fill="#111" font-weight="normal" textLength="89" lengthAdjust="spacingAndGlyphs">Normalized Ratio-S/Ep</text>
<text x="392.7" y="635" font-size="14" text-anchor="start" fill="#000" font-weight="bold" font-style="normal" >h</text></g>
</svg>
</body></html>
